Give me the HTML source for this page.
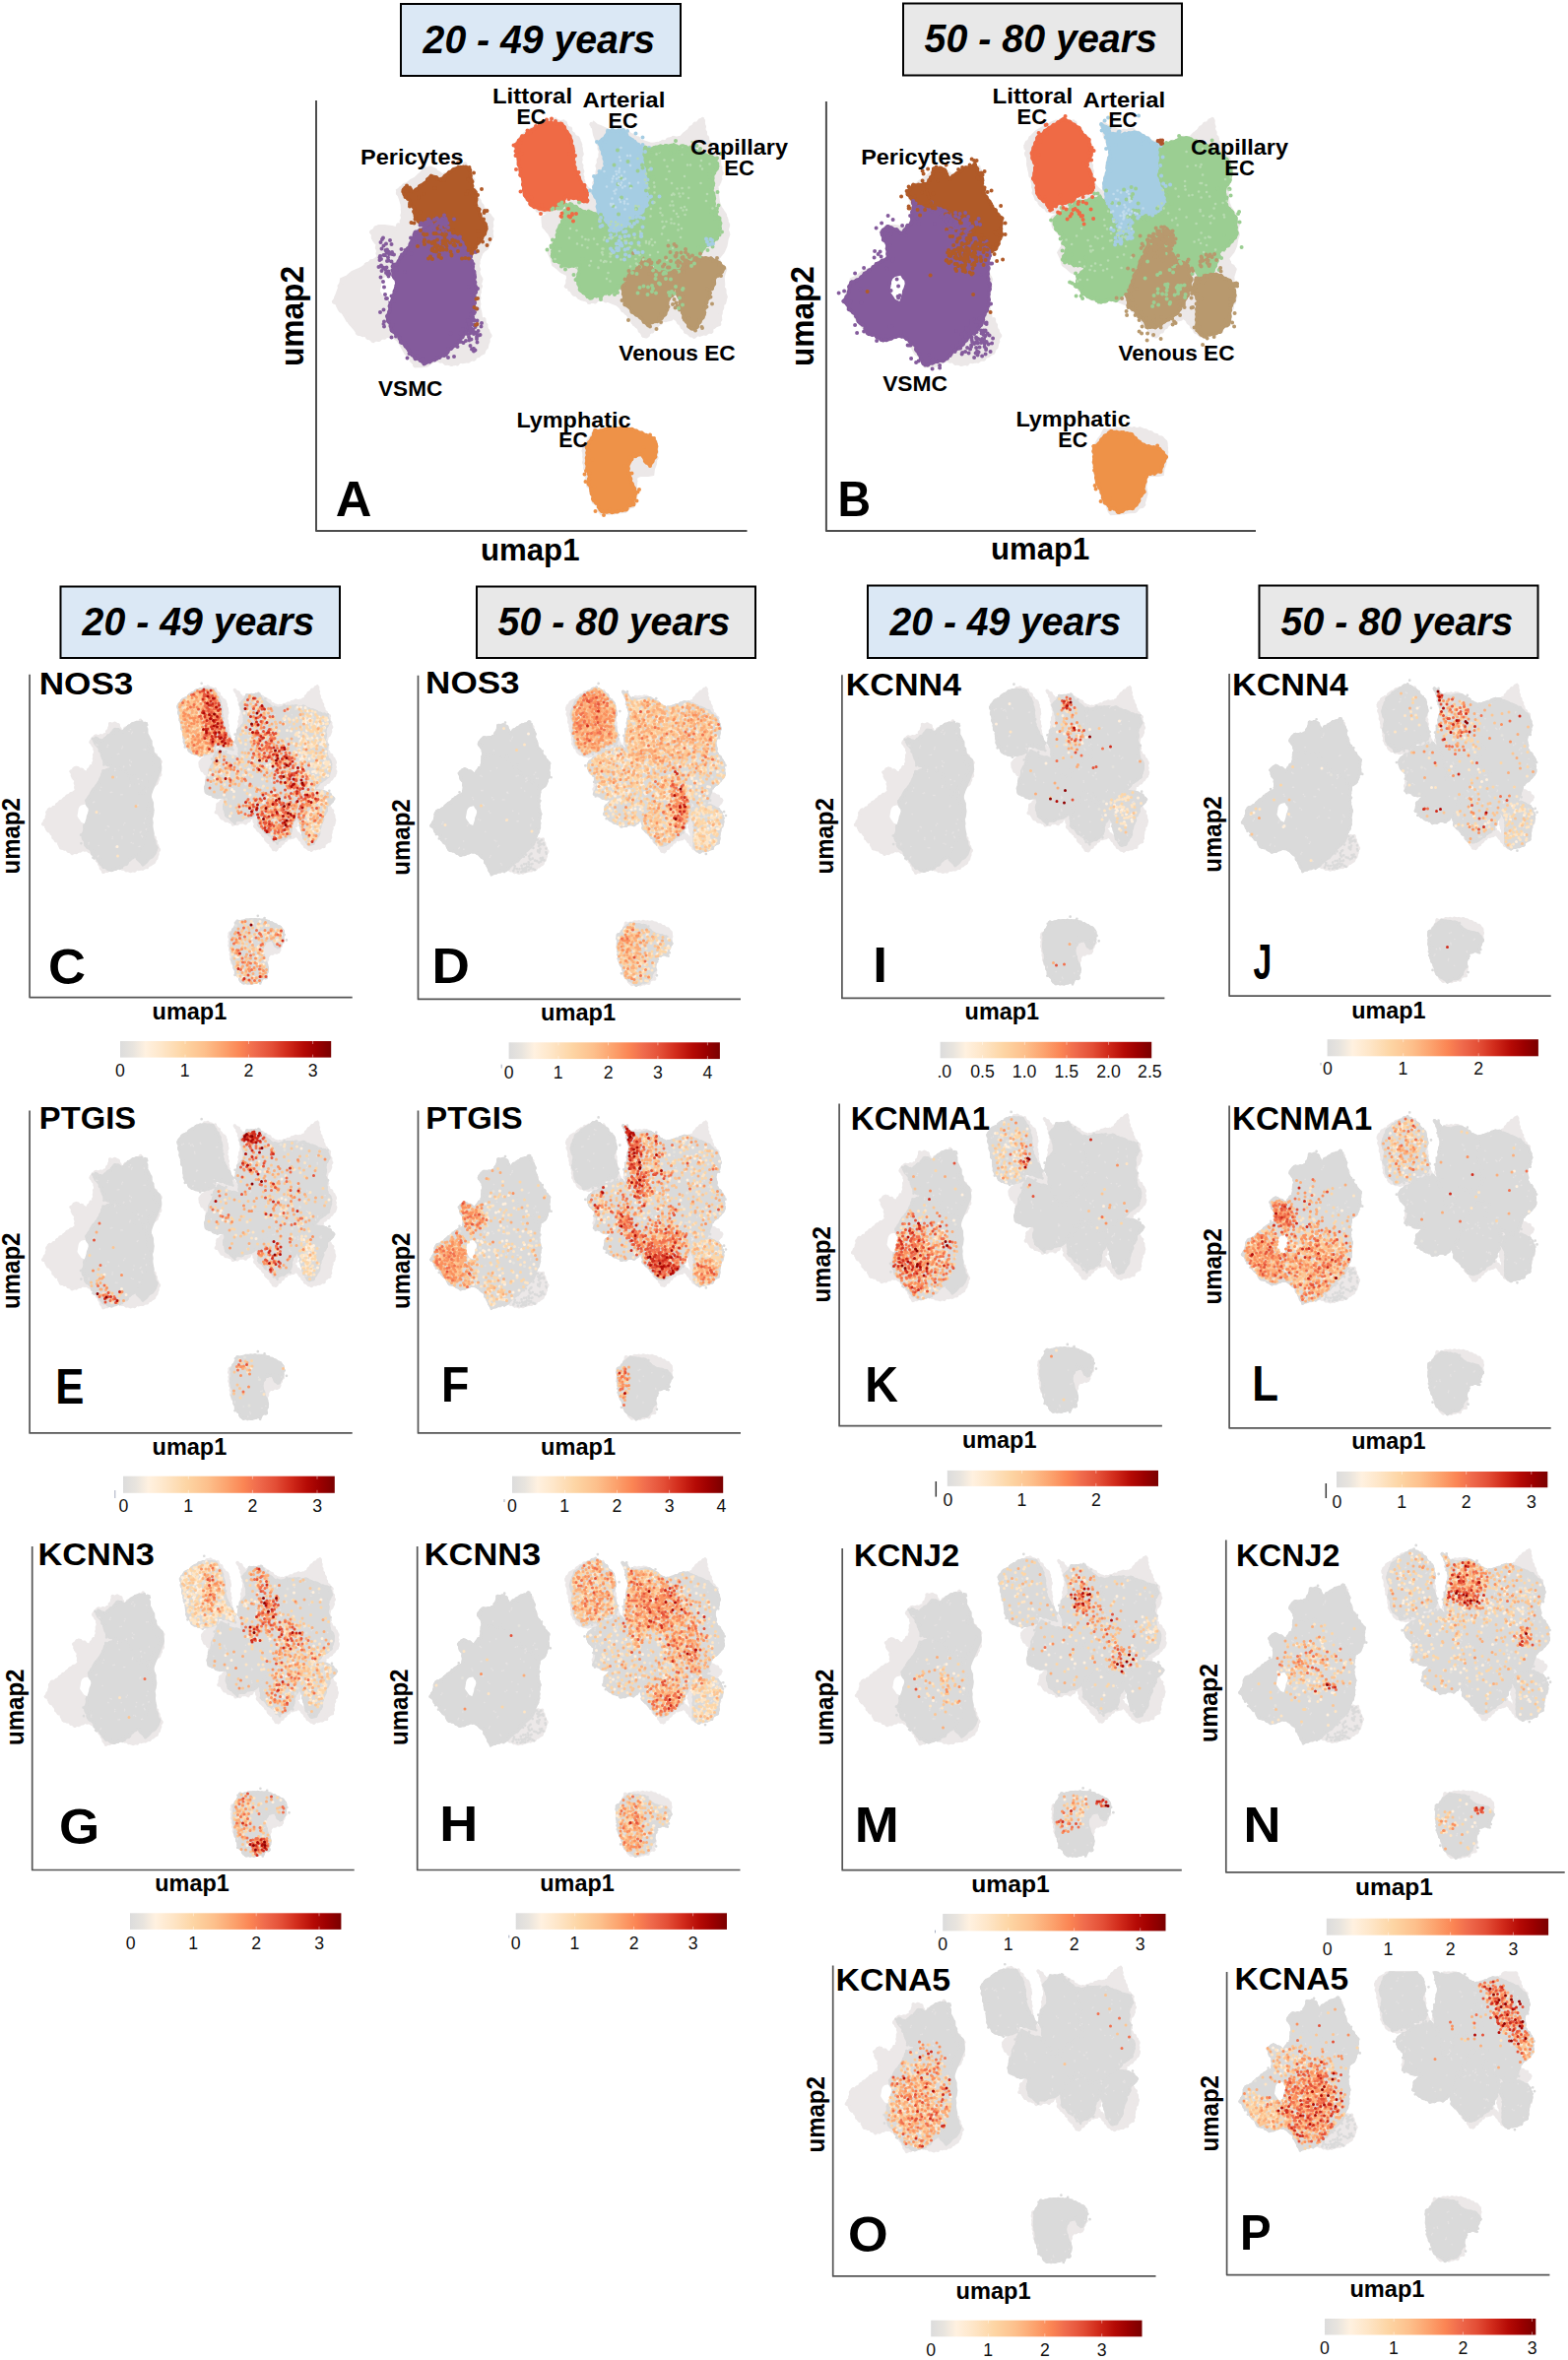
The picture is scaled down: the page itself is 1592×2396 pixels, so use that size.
<!DOCTYPE html>
<html lang="en"><head><meta charset="utf-8"><title>UMAP figure</title>
<style>html,body{margin:0;padding:0;background:#fff}svg{display:block}text{font-family:"Liberation Sans",sans-serif}.d{fill:none;stroke-linecap:round}</style></head><body>
<svg width="1592" height="2396" viewBox="0 0 1592 2396">
<rect width="1592" height="2396" fill="#fff"/>
<defs>
<path id="yvsmc" d="M100.6 -303.2 105.5 -305.4 109.3 -306.7 112.1 -308.4 117.5 -307.9 123.1 -308.1 129.4 -305.5 132.7 -304.3 138.1 -299.7 142.1 -298.5 146.2 -295.8 148.9 -291.6 150.1 -288.5 153.6 -283.1 154.8 -279.1 157.5 -275 158.8 -271.3 159.1 -266.3 161.2 -260.6 160.8 -255.1 161.6 -250.7 163 -244.6 160.8 -239.8 160.8 -233.9 160.6 -230.4 160.5 -225.7 158 -218.6 156.3 -213.9 154.9 -208 154.3 -204.6 152 -201.7 149 -197.4 146.1 -194.2 143.3 -189.4 138.7 -186.5 134.1 -182.9 132 -178.5 127.9 -177.8 122.2 -174.3 116.6 -172.3 112.4 -170.6 108.1 -171 104.2 -174.4 100.8 -174.8 96.9 -179.4 95 -181.9 92.7 -185.5 88.2 -190.2 85.4 -192.6 83.9 -198.1 78.8 -201.4 75.9 -204.3 75.4 -209.7 72.5 -214 72.1 -218.4 74.7 -223.5 74.6 -229.2 76 -236.1 78.3 -239.6 79.9 -245 80.4 -251.5 78.6 -257 77.5 -264.6 80.4 -268.4 83.3 -272.8 84.9 -276.6 87.8 -280.2 90.3 -282.9 94.5 -288.9 96.3 -292.5 98.6 -298.1Z"/>
<path id="yperi" d="M151.9 -369.4 154 -368.1 156.1 -366.6 156.8 -360 158 -354.2 158.5 -347 162.3 -344 162.4 -338.2 162.3 -329.6 165.3 -326.2 165.7 -323 167.5 -317.9 171 -312.8 173 -309.1 171.9 -303 169.6 -299.4 167.2 -295.5 163.6 -291.3 161.9 -287.8 159 -282.4 156.5 -278.3 155.3 -275.9 151.2 -275.5 147.1 -278.1 143.2 -282.6 141.1 -286.7 140.1 -289 138.2 -294.2 135.1 -297.4 131.1 -301.8 130.7 -305.6 124.8 -307.1 117.9 -307 112.9 -307.6 110.4 -311.4 104.9 -312.7 101.6 -317.4 99.1 -323.6 100.1 -328 95.5 -331.5 95.1 -335.5 91 -339.4 87.8 -344.3 90 -348.8 94 -346 98.8 -344.2 103.9 -348.6 106.5 -351.1 110.6 -353.1 113.7 -357.6 116.4 -360.4 121.1 -359.5 125.7 -356.3 130.4 -359.9 135.7 -364.4 140.9 -367.8 145.8 -369.4Z"/>
<path id="ylit" d="M232.4 -413.7 238.3 -414.2 245.2 -413.7 249.6 -413.4 252.5 -409 253.8 -405.9 256.5 -402.8 258.9 -397.5 259.4 -392.1 261.3 -388.1 261.2 -382.5 261.6 -376.6 262.1 -371.6 263.6 -365.7 265.5 -361.2 267.5 -358 269.1 -352.6 272.3 -351.2 273 -346.8 275.4 -343.8 274.4 -338.6 275.2 -333.9 268.5 -335.4 264.7 -337.9 260.2 -337.8 253.4 -339.9 251.8 -337 251.3 -332 247.1 -329 243.3 -327.9 237.7 -326.5 234.3 -326 229.8 -326.2 224.3 -327.9 221.8 -328.8 217.6 -330.9 216.8 -334.4 212.3 -339.6 211.1 -342.9 210.6 -349.1 210 -351.7 210 -358 207.3 -361.4 207.3 -367.1 205.1 -373.8 205.6 -378 203.3 -381.4 204.1 -386.5 202 -391.1 205 -395.2 209.1 -400.6 214.4 -402.2 218.8 -407.3 224.2 -409.7 227.9 -412.7Z"/>
<path id="yart" d="M296.2 -406.1 301.6 -406.2 307.6 -406.6 311.7 -407.2 314.3 -403.5 317.1 -399.4 323.5 -395 327.2 -392.1 331.2 -388.3 332.9 -382.7 334.1 -376.9 335.2 -372.3 337.3 -365.6 337.8 -360.6 338.7 -356.3 337.9 -352.3 337 -348.1 337.6 -341.9 338.6 -338.9 338.6 -332.5 341.2 -328.4 336.3 -326.1 332.9 -322.1 329.1 -318.7 324.3 -314.3 321 -312.3 315.8 -307.2 312.5 -304.7 308.3 -300.5 305.5 -298.2 300.7 -296.1 298.1 -300.8 296.3 -304.6 294.1 -309.6 292.1 -312.5 290.1 -315.1 287.8 -318.2 287 -322.4 285.5 -328.6 286.4 -333.8 284.3 -337.9 281.2 -342.9 282.1 -348.9 283.7 -353.5 284.2 -359.3 287.9 -362.6 291.4 -366.7 293.5 -370.6 292.7 -377.3 290.5 -385.1 288.8 -389.9 287.2 -394.2 291.4 -398.2 294.6 -401.5Z"/>
<path id="ycap" d="M334.1 -389.3 339.5 -387.8 343.3 -388.9 348.3 -390.6 353.1 -390.7 356.5 -390.9 363.3 -391.3 368.4 -389.5 372.9 -391.3 377.9 -388.3 383.8 -386.1 388.6 -385.3 392.4 -382.5 398 -381 401.6 -380.4 404.4 -378.4 407 -373.2 408 -370.2 405.6 -365.6 403.4 -362.4 402.5 -358.1 403.4 -350.8 401.6 -346.6 404.3 -339.8 404 -336.2 404.1 -329 404.8 -324.5 406 -320.6 409.4 -317.5 410.4 -312.4 409.9 -306.5 407.6 -300.6 407.5 -297.4 402.2 -293.4 399.3 -291.2 394.4 -288.4 391.4 -283.7 387.2 -280.5 386 -278.8 382.8 -273.8 379.4 -271.5 374.6 -267.8 372.1 -265.3 366.4 -263.7 362.1 -262.6 355.5 -260.6 349.9 -260.3 347.2 -265.6 345.4 -269.4 342.4 -271 341.2 -274.9 335.5 -274.7 331.2 -275.6 327.9 -273.5 325.2 -269.1 322.5 -265.2 318.6 -263.3 317.5 -259.7 313.6 -255.7 309.8 -250.6 308.1 -247.8 303.9 -243.6 298.9 -242 293.1 -241.2 288.4 -237.9 283.1 -238.7 278 -235.7 272.7 -241 268 -244.1 267 -248.9 265.4 -253.2 264.9 -256.4 266.7 -261.7 267.2 -265.5 268.5 -270 261.5 -269.2 257.8 -268.5 251.8 -269.3 248 -272.4 241.7 -274.3 240 -277.9 239.4 -281 241.2 -288.2 241 -291.5 244.7 -297.6 245.2 -304.2 246.1 -307.3 249.2 -312.2 251.7 -318.6 251.5 -323.6 254.6 -327.3 257.7 -332.3 261 -330.1 264.6 -328.7 267.6 -326 273.5 -323.6 280.1 -323.2 284.2 -321.3 288.9 -316 290.9 -313.6 295.4 -308.2 297.1 -305 299.7 -301.5 300.9 -296.2 306.7 -297.8 310.6 -300.3 312.3 -305 317.6 -307.9 319.3 -313.7 324.9 -315.1 329.8 -319.2 333.9 -320.9 336.1 -326.6 339.8 -329 340.2 -334.2 340 -337.4 338.7 -343.3 339.4 -347.7 339 -352.6 337.5 -356 337.7 -360.3 336.8 -367.7 334.7 -372.5 334.5 -376.6 333.2 -383.2Z"/>
<path id="yven" d="M333.4 -276.5 335.9 -274.9 338.4 -269.9 343.3 -264.5 347.6 -262.9 352.9 -263.3 355.7 -260.3 363.3 -263.7 369.2 -263.8 372 -267 375.1 -270.9 378.9 -273.1 384.3 -276.7 390.4 -277.5 395 -276.9 400.9 -276.6 403.7 -275.1 409.3 -272.6 410.9 -270 414.7 -266.8 410.7 -261.3 408.9 -259.9 404.3 -256.5 404.6 -251.9 402.1 -246.1 399 -243.7 399.6 -238.2 396.7 -233.3 395.9 -229.9 394 -224 394.4 -219.6 392.4 -216.4 388.5 -210.5 386.3 -206.2 380.7 -205 378.1 -207.7 376.7 -211.9 373.7 -213.9 372.7 -218.9 371.1 -225.2 369.3 -230.2 369.5 -236 366.6 -239.7 365.4 -246.9 363.5 -251.1 362.2 -244.6 361.6 -239.1 358 -236 356.2 -229.5 356.4 -224.2 353.8 -218.8 350.2 -215.6 346 -212.6 341.2 -211.9 337 -208.9 332.9 -212.1 330 -216 325.3 -219.3 321 -221.7 318 -227.2 313.4 -229.6 312.4 -237 311.8 -241.3 310.9 -248.2 312.3 -249.7 315.9 -252.9 316.6 -257.9 319.5 -261.6 324.4 -264 327.1 -267.9 329.6 -271.1 330.8 -273.7Z"/>
<path id="ylym" d="M283.2 -101.9 287.6 -101.3 292 -102.7 297.2 -103.9 302.8 -103.6 308.4 -104.3 311.4 -103.6 317.7 -103.6 321.3 -103.1 327.7 -100.2 330.9 -99.3 336.9 -96.1 342.1 -93.5 345.4 -88.1 345.3 -83 344.3 -75.2 342 -71.6 339.8 -67.4 335 -68.9 332.2 -74.8 331.6 -78.7 325.1 -76.1 321.6 -75.5 319.3 -70.8 317.1 -68.1 316.7 -60.9 319.1 -53.9 319.7 -49.5 322.5 -44.7 324 -40.2 323.9 -34.4 321.8 -31.5 322.6 -26.2 317 -25.8 314.8 -21 309.5 -20.9 306.1 -19.6 301.4 -18.7 296.6 -19.5 292 -18.9 287.9 -21.4 285.9 -27.2 281.3 -30.7 280.9 -35.3 278.8 -40.3 279.2 -43.2 276.2 -48.6 277.3 -54.6 276.8 -59 275.4 -62.5 274.7 -67.7 274.6 -71.5 275 -75.9 275.4 -81.1 274.7 -85.2 277.9 -91.3 280.7 -95Z"/>
<path id="ovsmc" d="M89.3 -329.6 94.7 -329.1 99.3 -327.6 104.6 -326.9 111.2 -327.3 116.9 -326.5 122.6 -324 125.1 -321.8 128.1 -316.9 132.4 -313.4 135.2 -307.1 138.9 -304.5 141.6 -301 146.5 -298 151.7 -297 154.9 -292 156.6 -290.4 162 -287.8 165.9 -284.5 165.7 -280.2 164.9 -273.6 164.1 -270.7 164.9 -266 164.2 -261.3 165 -254.2 166.9 -249.2 166 -244.4 165 -239.9 165.4 -235.3 165.1 -229.7 163.4 -223.7 160.4 -218.7 159.9 -215.5 158.5 -211 155.9 -206.5 151.2 -202.3 148.4 -200 145.4 -197 141.9 -193 137.7 -187.7 134.1 -184.8 130 -182.8 125.9 -178.7 123.7 -175.9 119.7 -172.7 114.9 -172.4 111.5 -171.5 105.1 -169.3 100.6 -167.9 97.8 -171.4 95.7 -176.5 94.4 -179.9 91.8 -182.8 90.7 -188.9 86.8 -190.2 85.2 -192.3 80.4 -196.2 75.8 -197.8 72.7 -197.6 68.3 -196.3 64.5 -194.5 58.1 -193.1 52.8 -196.1 49 -198.9 43.3 -199.5 40.1 -203.7 39.5 -208.3 34.5 -210.7 32.2 -214.1 30.4 -219.2 26.4 -222.8 23.1 -225.1 22.3 -229.5 17.7 -233 21.4 -238.3 23.2 -242.7 23.6 -247.9 25.4 -252.4 29.7 -253.7 34.8 -256.5 38.9 -261 42.6 -263.7 46.6 -266.2 48.6 -268.6 53.8 -272.4 58.7 -275 62.2 -276.4 62.8 -280 62.1 -287.1 61.8 -292.5 58.4 -295.1 57.7 -299.7 56.1 -303.1 59.2 -306.5 63.3 -309.5 67.4 -307.1 72.5 -305.5 76.4 -301.9 79.4 -304.6 83 -310.3 86.3 -311.4 87.6 -318.8 87.5 -324.5Z"/>
<path id="operi" d="M151.1 -372.3 153.5 -368.3 154.2 -365 157.4 -360.6 159.3 -355.8 158.1 -351.3 161.1 -346.5 159.8 -343.8 162.5 -339.5 167.1 -332.7 169.3 -328 172.4 -325.3 174 -321.7 178.8 -317.3 178 -311.3 177.6 -306.3 178.6 -299.7 176.1 -295.9 174.9 -290.7 171.9 -285.6 166.7 -283.1 164.7 -279.1 160.9 -283.4 157.8 -288.7 155.1 -293.1 151.4 -297 145.2 -300 143.1 -301 137.1 -305.4 134.2 -307.6 130.4 -312.5 127.7 -315.7 124.5 -319.5 121.4 -325.5 117.1 -325.4 110.1 -325.7 104.6 -326 100.8 -326.7 95.1 -328.5 89.1 -329.1 88.3 -334 86.3 -338.2 83 -341.7 83.3 -345.1 85.5 -347.2 88.7 -351.3 94.5 -351.3 100.2 -352.2 104.3 -353.7 105.5 -357.2 108.5 -362.2 108.9 -367.7 114.6 -367.9 117 -368.7 121.7 -365.5 122.6 -361.6 126.6 -356.5 129.3 -361 133.6 -363.3 138.4 -366.4 142 -368.7 147.7 -369.7Z"/>
<path id="olit" d="M242.8 -417.4 247.2 -415.5 254 -411 257.7 -408.6 259.7 -403.9 262.9 -401 267 -397.4 268.1 -389.3 269.9 -383.9 268.3 -379.2 265.7 -374.1 265 -369 268.4 -365 269.6 -359.4 271.2 -356 271 -349.2 270.1 -344.6 266.2 -343.3 261.6 -342.5 256.6 -340.7 252.7 -338.5 251 -335 247.2 -333.5 241.6 -333 237 -333.1 232.1 -329.7 225.7 -328.4 223.8 -333.2 219.7 -335.7 215.1 -340.9 213.7 -345.8 214 -351.9 210.2 -357.2 211.6 -361.6 211.9 -366.5 213.1 -371.6 211 -374.6 209.4 -379.3 208.9 -383.2 210 -386.7 212.4 -393.2 213.9 -396.4 215 -400.4 219.7 -402.8 223.1 -407 226.3 -408.8 231.7 -412.4 234.3 -413.7 239.1 -417.3Z"/>
<path id="oart" d="M279.6 -412.8 284.4 -410.1 286.6 -407.2 289.1 -403.1 294.1 -403.3 300.1 -402.1 304 -402.8 309.3 -404.3 315.1 -404.7 319.3 -402.9 322.1 -400.9 326.3 -399 330.3 -394.5 336.1 -392.7 337.6 -387.4 339.2 -382.2 341.2 -378.1 341.2 -371.4 338.3 -366 339.8 -360.7 339.9 -355.8 343.2 -353.2 343.6 -346 346 -343.1 345.2 -338.6 346.2 -332.2 343.8 -329.7 342.5 -324 337.9 -319.6 332.9 -318.9 326.9 -317.6 323.2 -319.8 317.6 -322.2 314.3 -324.1 312.7 -319.6 311.7 -317.2 309.5 -313.4 308.1 -309.5 306 -305.2 304 -300.2 302.1 -295.2 294.6 -291.2 295.1 -297.3 295 -302.1 293.5 -308.6 293 -314.6 290.1 -318.2 287.2 -323.1 287.5 -327 285.2 -331.6 284.4 -338.4 284 -345 282.2 -348.9 282.5 -353.7 284 -360.2 285.8 -364.8 285.6 -371.1 286.8 -376.3 288.6 -382.4 287.9 -387.5 286.4 -393.3 285.7 -396.9 284.4 -402.5 281.8 -408.9Z"/>
<path id="ocap" d="M340.3 -391.8 345.9 -392.7 349.1 -394.2 356.1 -396 358 -397.7 362 -399 368.4 -398.9 371.8 -396.8 376.5 -395.5 379.9 -393.8 384.2 -391.8 388.2 -390.8 392.2 -388.1 396.6 -387 398.5 -384.4 403.4 -379.4 406.5 -378.1 409 -372.3 410.3 -368.9 411.7 -363.7 410.4 -359.6 409.9 -354.2 407 -351.1 404.9 -347.1 404.9 -340.8 406.5 -337.1 405.5 -333.2 408.4 -327.7 412.1 -324.8 413.3 -321.7 416.7 -317.3 416.1 -313 416.4 -306.5 417.4 -301.1 414.2 -296.2 411.3 -293.3 408.7 -290 404.7 -287.4 398.8 -283.2 399.2 -278.9 397.8 -276.8 396.2 -271.1 393.7 -265.4 391.2 -260.2 386.3 -261.7 378.3 -259 376.3 -263.9 370.9 -265.6 366.4 -268.7 363.2 -272.1 358.8 -272.1 354.9 -273.2 351.1 -278 348.6 -283.5 350.3 -290.2 350.7 -295.4 349.1 -300.5 345 -306.9 338.6 -302.1 335.2 -299.4 331.5 -295.9 330.5 -291.2 326.8 -288.5 323.6 -282.9 320.7 -279.3 318.6 -274.7 317.1 -270.9 313 -265.5 312 -259.2 311 -253 306.9 -247.7 306.9 -242.1 302.2 -240.9 298.8 -236.8 294.3 -233.8 288 -235.3 283.1 -232.8 276.7 -232.2 273.9 -235.6 268.3 -236.5 263.1 -239.8 259.9 -241.7 258.6 -245.9 254 -248.4 255.8 -255 255.3 -258.4 260.2 -262.8 263.2 -266 266.5 -270.4 261.7 -269.1 257.4 -269.4 252.8 -269.6 248 -272.8 246.2 -274 239.8 -275.4 242.9 -280.7 243.8 -284.3 244.9 -289.2 241.6 -291.8 241.7 -298.2 236.9 -302.9 233.4 -306.5 232.8 -309.7 231.4 -313.3 233.3 -318.4 236.6 -320.8 239.7 -323.8 245 -325.1 248.8 -328.3 254.1 -334 258.7 -334.5 262.9 -334.4 268.7 -336.8 273.8 -336.8 278 -339.3 280.1 -336.5 284.2 -330.9 285 -330 287.1 -324.1 290.8 -317.5 292.7 -314.7 294.6 -307.8 294.9 -301.7 294.1 -298.4 296.6 -290.9 302.5 -296.7 304.3 -299.6 305.1 -304.8 307.5 -309.4 310.1 -313.3 310.9 -317.5 313.4 -321.9 314.8 -325.5 317.1 -321.6 321.7 -319.5 327.5 -317.6 331.7 -319.7 337.7 -319.5 342.4 -324.4 344.1 -329.2 347.8 -332.9 346.6 -338.6 344.8 -343.6 345.4 -347 341.9 -351 340.2 -356.9 337.9 -362 340.3 -367.3 339.2 -372.4 340.3 -376.7 339.8 -381.3 339.6 -386.3Z"/>
<path id="oven" d="M345.3 -307.1 348.9 -303.8 352.4 -301 351.3 -293.5 351.6 -288.2 347.9 -284.4 353 -279.9 355.7 -274.2 360.4 -273.6 364 -271.4 366.4 -270.9 369.2 -264.8 368.5 -260.3 371.5 -256.1 369.5 -250.8 367.5 -243.7 367.9 -239.8 364.2 -236 363.5 -230.8 360.6 -227.5 358.1 -222.8 355.2 -219.7 350.2 -217.7 347.5 -214.1 343.4 -212.3 339.6 -208.8 333.5 -206.4 326.5 -207.6 324.8 -210.5 322 -215.1 317.5 -217.7 314.6 -222.9 311.2 -225.1 306.8 -228.7 307 -233.9 305.1 -238.4 309 -243.5 309.7 -249.3 311.9 -254.7 313.1 -259.8 317.5 -266.2 318.4 -271.6 320.5 -277 323.6 -280.5 323.6 -284.9 325.9 -287.2 328 -293.1 332.5 -296.9 333.4 -300 340 -303.2Z"/>
<path id="oven2" d="M376 -256.4 380.5 -256.1 382.5 -259 387.7 -259.4 391.9 -260.4 397 -260.4 402.3 -258.5 404.5 -256.5 409.5 -254.8 413.1 -250.1 412.9 -247.4 415.1 -243 415 -237.9 414.3 -234 411.2 -228.5 410 -221.4 409.9 -215.5 409 -209.5 402.9 -207 401.2 -202.5 395.2 -200.4 392.2 -199.6 387.8 -199.3 383.5 -197.2 378.3 -201.7 376.7 -203.6 376.6 -208.7 376.3 -212.8 376.5 -219.8 376.5 -224.6 377.3 -230.1 377.6 -233.8 374.8 -240.7 371.5 -245.3 374.6 -250.8Z"/>
<path id="olym" d="M289.5 -101.1 293.9 -100.4 301 -99.7 304.1 -98.9 309.7 -98.8 312.8 -95.3 317.4 -91 321.6 -87.9 325.5 -86.2 331.9 -85.1 335.7 -84.1 339.2 -83.1 342.5 -79.1 345.6 -74.8 343.1 -70.6 341 -65.2 339.7 -60.2 333.9 -59.6 331.4 -58.7 325.8 -56.9 324.2 -51.1 323.4 -47.2 322.1 -44.6 323.1 -39.2 318.6 -34.5 317.2 -28.9 314 -25.4 311.7 -22.8 305.1 -22.5 301.2 -20.2 297.4 -18.4 293.2 -22.3 288.2 -24.7 283.5 -28.4 281.8 -32.2 280.3 -38.2 278.4 -43 276.4 -45.9 274.8 -50.3 274.1 -57.1 273.7 -61.2 272.4 -67.9 272 -72.1 272.7 -77 271.8 -80.8 271.8 -85.9 276.4 -87.7 279.3 -92 282 -95.6 285.5 -98.1Z"/>
<path id="g0" d="M110.4 -368.6 105.9 -363.9 100.3 -358.6 95.3 -356 88.6 -350.3 81.5 -346.2 84.2 -338.3 86.4 -330.9 86.8 -323.5 87.5 -319.2 88.6 -314.1 88.5 -308.2 82.3 -307.8 77 -309.3 69.5 -310.2 64.1 -310.3 59.9 -306.5 56.2 -304.3 57.5 -297.9 61.4 -292.4 62.3 -286.5 63.5 -283 67.5 -277 60.3 -276 55 -271.9 48.7 -268.4 43.3 -266.2 35.9 -263 31.2 -258.9 24.8 -256.1 24.1 -250 21.6 -243.9 20.5 -241.1 18.2 -234.2 20.7 -229.4 22.8 -225.2 27.6 -219.4 30 -215.2 33.7 -210.3 37.2 -206 41.9 -201.1 46.1 -198.4 51.2 -197.5 58.8 -196.1 62 -199 67.8 -200.5 72.7 -203.6 75.5 -200.4 81.3 -194.5 84.7 -189.9 87 -185.5 90.4 -179.4 95.1 -176.1 97.9 -171.9 100 -166.6 107.4 -166.5 113.1 -167.3 118.8 -171.7 126.6 -172.8 132.2 -170.7 140.6 -170.1 144.8 -170.5 149.3 -172.6 153.5 -176 159.4 -180.5 163.2 -183 168.4 -187.3 170.8 -194.9 174.2 -201 173.6 -205.5 170.6 -210.7 168.5 -214.8 167.5 -222.4 166.1 -227.3 166 -235.5 166.3 -242.2 167.1 -249.6 168.8 -255.7 166.2 -260.3 164.7 -266.8 165.1 -272.5 166.2 -275.9 169.1 -282.7 170.1 -286.4 172.2 -291 174.1 -296.4 177.2 -303.6 179.5 -309.3 178.6 -315.1 177.5 -320.4 171.1 -325.3 166.6 -329.5 165.2 -336.8 162.3 -343 159.7 -349.6 157.9 -357 157.3 -363.9 155.9 -370.6 148.2 -367.7 141.4 -367.2 134.8 -364.4 129.3 -361.4 125 -364.5 121 -366.2 114.9 -366Z"/>
<path id="g1" d="M233.6 -416.8 241.2 -415.9 247.3 -415.7 251.6 -417.1 254.1 -410.7 258.3 -406 260.4 -399.8 265.2 -396.7 269.6 -392.4 269.1 -386 267.9 -377.5 269.4 -371.1 269.1 -366.6 270.7 -360.1 272.4 -353.6 275.9 -348.6 281.4 -343.9 283.2 -349 284.3 -355.9 285 -361 286.8 -368.8 290 -373 288 -380.9 288.7 -385.7 286.1 -392.7 283.8 -396.8 281.7 -402 280.6 -409.4 281.5 -415.8 285.7 -412.2 288.7 -411.4 294.4 -408.6 298.4 -405.9 305.1 -406.6 312 -408.5 315.7 -402.8 321.7 -398.2 329 -397 334.7 -395.2 340.7 -393.4 345.8 -394 353.6 -393.8 358 -396.1 362.3 -397.2 368.6 -398.9 373.4 -404.2 379.5 -408 382.8 -412.4 387.9 -415.3 393.3 -418.9 392.8 -412.2 393.4 -407.6 394.9 -401.5 397.5 -394.5 398.6 -387.6 404.7 -383 410.3 -377 410.7 -370.1 410 -364.9 407.9 -359.3 406.8 -352.8 408.1 -347.4 408.5 -339.8 409.3 -333.7 411.3 -328.6 416.2 -321.4 416.8 -316 419.6 -311 418.2 -305.7 419.7 -301 417.9 -296 416.7 -289 414 -282.9 412 -280.4 409 -276.6 411.5 -270 416.5 -266 414 -258.1 414.5 -250.2 413.9 -244.4 416.5 -238.4 413.8 -233.6 413.5 -227.2 410.8 -220.5 409.3 -213.7 404.2 -212.2 400.2 -207.4 396.1 -203.8 390.2 -200.2 383.1 -198.2 378.2 -200.7 375.1 -203.3 372.3 -209.2 368.7 -213.4 361.7 -219.7 357.8 -216.6 353.7 -214.3 349.2 -209.6 344.3 -205.8 338.3 -200.5 334.1 -196.3 329.6 -201.4 326.3 -205.6 322.8 -212.3 317.3 -216.7 313.8 -222 308.9 -227.8 303.7 -229.6 299.9 -231.2 294.2 -233.8 289 -234 283.1 -234.6 277.4 -232.6 268.3 -234.7 265.8 -238.4 261 -242.2 256.2 -244.2 254.4 -253 254.9 -259.5 248.8 -262.4 244.7 -266 240 -269.5 238.3 -276 235.2 -282.6 239.1 -288.9 239.3 -295.3 236.2 -301.2 233.5 -304.9 230 -308.3 229.4 -313.3 229.1 -318.6 234.3 -321.6 238 -323.7 230.9 -322.8 224 -324.2 221.1 -329.7 218.3 -332.3 212.7 -336.2 211.9 -342.9 211.7 -347 209.8 -353.1 208.2 -358.4 206.1 -363.8 204.8 -369.4 204.4 -376.2 204.8 -382 204.4 -387.7 206.4 -395 208.6 -401.4 212.9 -405.8 219.4 -409.8 225 -411.7 228.4 -414.8Z"/>
<path id="g2" d="M270.4 -81.4 273.4 -88.5 276.2 -93.4 279.1 -96.7 281.1 -101.4 288.1 -103.2 292.7 -102.9 299.9 -102.8 303.8 -104.4 309.5 -102.7 315.4 -103.6 321.3 -103.5 326.4 -102 332.5 -98.3 337 -94.9 342.5 -94.1 345.9 -91 346.3 -83.6 347 -80 345.5 -72.5 345.2 -67.9 343.2 -62.9 342.5 -56.7 337 -55.7 329.5 -55.8 324.2 -54 325.6 -50.4 325.1 -44 326.3 -37.9 324.6 -31.6 322.2 -24.1 318.4 -23.2 314.1 -18.7 308.5 -18.4 303.4 -17.8 295.8 -17 289.1 -16.5 286.7 -19.7 284.7 -25.9 280.6 -28.3 280.2 -34.1 278.4 -40.2 276.5 -46.9 276.3 -51.3 275.4 -57.6 272.8 -63.5 272.7 -70.2 271.3 -76.7Z"/>
<path id="x0" d="M368.9 -395.3 371 -399.2 374.6 -401.6 377.9 -406.6 381 -409.9 384.8 -413.2 387.7 -414.8 392.2 -418.7 393.6 -413.5 393.9 -408.6 395.3 -402.6 397.8 -397.1 399.7 -392.4 401.3 -386.8 402.6 -384.5 406.7 -379.9 409.3 -377.2 403.3 -377 398.5 -379.5 396.1 -381.6 390.8 -383.8 386.5 -385.4 383.5 -387.5 378.8 -389.6 375.1 -390.3Z"/>
<path id="x1" d="M252.8 -414.1 255.7 -408.1 258.1 -405.5 261.3 -399.5 264.1 -396.4 267.6 -391 269.1 -385.9 269.3 -381.9 268.3 -376 269.1 -371.8 270.2 -366.5 270 -360.9 270.9 -355.1 266.4 -357.4 265.6 -362.6 264 -367.9 263.5 -371.5 263 -377.3 261.5 -380.7 260.3 -386.8 258.6 -391.4 258.4 -396.3 257.2 -400.4 255.3 -404.5 253.9 -408.8Z"/>
<path id="x2" d="M313.9 -231.2 318.3 -227.2 322.3 -222.1 326.5 -219 329.9 -214.2 332.6 -212.2 336.2 -207.5 340 -211.9 345.3 -213.2 350.5 -216.3 355.5 -219.1 359.1 -222.5 361.7 -225.4 364.5 -221.3 368.2 -218.5 371.7 -214.8 373.5 -211.8 378.1 -206.9 380.4 -205.2 385.7 -207.9 390.2 -210.4 391.5 -215.5 393.9 -220 395 -223.9 398.1 -226.8 401.6 -229.5 405.8 -231.6 408.7 -234.8 415.6 -238.2 415.4 -233.8 412.7 -229.7 411.6 -224.4 410.3 -220 410.1 -214.2 405.6 -211 401.9 -209.3 398.2 -206.1 396.1 -204.8 391.7 -201.6 386.7 -200.6 383.1 -197.4 378.3 -199.9 375.1 -202.4 372 -206.6 368.2 -211.7 365.5 -214.5 363.4 -218.2 358.6 -214.2 352.7 -213.8 347.6 -209.5 344.1 -206 341.1 -202.8 337.6 -200.4 335.5 -197 331.7 -198.7 329.4 -202.2 326.9 -207.3 322.6 -209.4 320.6 -214.6 317.4 -217.9 314.4 -221.8 310.7 -223.7Z"/>
<path id="x3" d="M158.4 -214.8 164.1 -215 170.3 -214.7 172.3 -208.7 174.1 -203.1 176.7 -199 174.6 -193.4 174 -189 170.8 -183 168.6 -180 163.9 -177.7 160.3 -174.6 155.4 -172.8 151.6 -171.8 147 -172 143.2 -169.8 138.4 -169.1 133.3 -169.7 128.2 -171.8 121.8 -174.1 124.9 -176.1 127.9 -180.6 131 -184.4 135.3 -187.9 138.6 -189.7 141.9 -193.9 146.3 -198.2 150 -202 154 -205.4 156.8 -211.7Z"/>
<path id="hole" d="M70.3 -258.1 75.7 -259.3 77.6 -256.1 79.6 -253.9 80.1 -250.9 78.9 -246.7 77.5 -243.9 77.2 -240.7 76.1 -237.1 74.7 -233.1 70.3 -235.2 68.6 -237.9 66.4 -240.9 64.9 -243.4 65.8 -248.1 66.5 -252.9 67.8 -255.9Z"/>
<g id="bgs" fill="#ece8e8" stroke="#ece8e8" stroke-width="3" stroke-linejoin="round">
<use href="#yvsmc"/>
<use href="#yperi"/>
<use href="#ylit"/>
<use href="#yart"/>
<use href="#ycap"/>
<use href="#yven"/>
<use href="#ylym"/>
<use href="#ovsmc"/>
<use href="#operi"/>
<use href="#olit"/>
<use href="#oart"/>
<use href="#ocap"/>
<use href="#oven"/>
<use href="#oven2"/>
<use href="#olym"/>
<use href="#x0"/>
<use href="#x1"/>
<use href="#x2"/>
<use href="#x3"/>
<g fill="none" stroke-width="4.6" stroke-linecap="round" stroke-dasharray="0.1 5.9">
<use href="#yvsmc"/>
<use href="#yperi"/>
<use href="#ylit"/>
<use href="#yart"/>
<use href="#ycap"/>
<use href="#yven"/>
<use href="#ylym"/>
<use href="#ovsmc"/>
<use href="#operi"/>
<use href="#olit"/>
<use href="#oart"/>
<use href="#ocap"/>
<use href="#oven"/>
<use href="#oven2"/>
<use href="#olym"/>
<use href="#x0"/>
<use href="#x1"/>
<use href="#x2"/>
<use href="#x3"/>
</g></g>
<g id="bg" fill="#ece8e8" stroke="#ece8e8" stroke-width="1.5" stroke-linejoin="round">
<use href="#g0"/>
<use href="#g1"/>
<use href="#g2"/>
<use href="#bgs"/>
</g>
<g id="ycells" fill="#dadada" stroke="#dadada" stroke-width="4" stroke-linejoin="round">
<path d="M157.2 -368.5 157.6 -364.1 159.6 -360.4 159.4 -354.6 161.5 -350.9 163.7 -346.2 165.2 -344.2 165.4 -337.5 167.8 -334.5 167.6 -329.4 171.3 -324.5 176.9 -319.6 177.3 -315 178.3 -307.2 177.4 -304.4 175.3 -299.5 174.3 -297 172.5 -292.4 170.3 -287.6 168.1 -282.2 166.3 -277.9 164 -271.5 164.6 -267 167.1 -261.3 167.1 -255.9 168 -251.2 167.1 -244.3 165.6 -240.2 166.6 -234.6 166.1 -230.9 166.8 -225 168 -220.1 167.8 -214.2 170.2 -210.1 170.7 -204.8 173.5 -201 171 -194.1 167.1 -188.6 162.5 -186.3 159.1 -181.8 154.2 -177.8 152 -181.2 146.8 -185.7 144.8 -190.1 142.7 -194.3 144.7 -197.2 147.4 -202.3 150.5 -205.6 153.7 -209.9 155.9 -215.6 157.3 -219.5 158.1 -224.1 157.3 -230.5 157.8 -234.2 158.6 -241 160.8 -245 159.2 -249.8 160.7 -255.4 159.2 -260 160 -265.3 161.4 -269.9 161.1 -276.6 160.5 -280.8 160.4 -284.8 161.7 -291.6 162.5 -296.7 164.5 -301.1 164.3 -306.5 162.4 -312.1 163.6 -316.2 162.7 -322.8 160.3 -328.6 160.3 -333.2 159.1 -337.4 158.4 -342.2 157.9 -347.1 157.1 -350.7 154 -355.8 155.5 -360 156 -364.6Z"/>
<use href="#yvsmc"/>
<use href="#yperi"/>
<use href="#ylit"/>
<use href="#yart"/>
<use href="#ycap"/>
<use href="#yven"/>
<use href="#ylym"/>
<g fill="none" stroke-width="4.6" stroke-linecap="round" stroke-dasharray="0.1 5.9">
<use href="#yvsmc"/>
<use href="#yperi"/>
<use href="#ylit"/>
<use href="#yart"/>
<use href="#ycap"/>
<use href="#yven"/>
<use href="#ylym"/>
</g>
<path d="M69.7 -218h0M161.9 -337.9h0M353.8 -260.4h0M289.6 -364.5h0M97.6 -178.1h0M349 -261.1h0M406.3 -380h0M168 -320.6h0M354 -222.2h0M314.2 -18.3h0M97.4 -327.4h0M287.1 -361.5h0M379.5 -271.6h0M293.2 -308.8h0M95.6 -285.4h0M251.8 -333.2h0M335.5 -330.9h0M406.6 -339.3h0M169.9 -309.3h0M315.2 -404.3h0M205.1 -386.6h0M119.9 -359.7h0M206 -388.9h0M146.1 -291.2h0M155.4 -282.2h0M370.2 -264.5h0M400.3 -276.6h0M352.9 -229h0M311.1 -303.4h0M79.3 -253.9h0M378.9 -205.8h0M86.4 -187.6h0M101.2 -312.4h0M324.6 -77.4h0M329.3 -268.5h0M276.8 -342.1h0M162.8 -289.8h0M263.6 -374.6h0M248.2 -320h0M402.7 -275.4h0M285.7 -28.6h0M255.2 -339.1h0M340.1 -323.5h0M316.6 -60.3h0M100 -175.1h0M292.5 -366.3h0M339.8 -334.4h0M274.5 -72.4h0M309.9 -297.1h0M267.2 -339.1h0M311 -109.2h0M96.6 -346h0M279.9 -353.3h0M343.4 -270.5h0M277.1 -332.5h0M85.1 -272.5h0M115.5 -308.3h0M313.4 -396.9h0M85.8 -347.2h0M331 -97h0M338 -66.3h0M232.3 -323.8h0M205 -373.6h0M409 -262.6h0M149.1 -284.5h0M284.4 -321.5h0M256.1 -325.4h0M155 -357.8h0M208 -397h0M280.3 -99.8h0M316.2 -306.1h0M211.7 -336.2h0M400 -247.4h0M384.2 -277.7h0M347.2 -83.7h0M404.3 -318.7h0M338.3 -329.4h0M410.3 -267.6h0M134.2 -364.4h0M350.1 -76.6h0M323 -221.1h0M318.1 -101.3h0M108 -171.3h0M217.2 -336.1h0M321.5 -263.6h0M116.3 -311.4h0M131.3 -182.7h0M290.9 -298.9h0M408.4 -277.4h0M171.8 -298.2h0M313.7 -250.2h0M338.3 -322.8h0M267.6 -330.4h0M206.8 -365.8h0M289.5 -390.4h0M278.6 -240.6h0M321.1 -401.1h0M297.3 -19.5h0M160.1 -215.7h0M317.5 -68.8h0M170.7 -312.4h0M337 -330.4h0M251.2 -330.2h0M368.6 -263.3h0M355.1 -215.6h0M311.2 -246.7h0M126 -174.2h0M262.7 -369h0M410.7 -267.1h0M261.8 -378.9h0M302.9 -104.4h0M75.1 -211.8h0M144.7 -284.3h0M104.1 -174.6h0M111.3 -322.8h0M334.8 -327.4h0M280.2 -322.7h0M267.3 -244.3h0M165.6 -331.8h0M402.2 -327.6h0M149.1 -201.9h0M328 -318.1h0M396.6 -381.2h0M336.7 -67.8h0M383.6 -209.1h0M247 -411.6h0M309.1 -302.9h0M274.5 -344.3h0M262.3 -340.6h0M331.3 -79.6h0M74.5 -236.5h0M264.3 -338.9h0M347.1 -392.3h0M97.9 -325h0M394.6 -224.5h0M95.4 -181.6h0M317.8 -306.7h0M285.7 -332.3h0M95.5 -291.8h0M158.2 -236h0M356.7 -241h0M77.1 -258.1h0M349.5 -261.8h0M123 -172.6h0M269 -324.8h0M375.1 -273h0M337.8 -358.5h0M277.9 -43.7h0M102.6 -321.1h0M279.8 -233.3h0M255.5 -267.8h0M132.7 -362.8h0M311.8 -408.5h0M336 -368h0M99.2 -184.4h0M402.4 -245.8h0M152.2 -274.3h0M337.8 -346.9h0M305.4 -298.4h0M328.1 -76.4h0M88.2 -279.4h0M316.6 -101.4h0M159.9 -365.9h0M88.1 -186.4h0M330.3 -277.1h0M344.3 -80.5h0M166.6 -319.6h0M292.1 -372.6h0M107.1 -175.7h0M365 -259.2h0M304.8 -245.9h0M134.1 -300.4h0M319.1 -269.1h0M358.8 -262.7h0M207 -394h0M101.3 -315h0M159.3 -368.1h0M163.1 -336.6h0M138.4 -366.6h0M331.7 -270.4h0M333.3 -346h0M253.5 -328.7h0M332.5 -209.7h0M141.1 -284.7h0M95.4 -183.5h0M322.6 -36.4h0M167.3 -312h0M311.5 -231.3h0M70.2 -206.7h0M374.8 -267.7h0M390.5 -277.7h0M322 -81.5h0M79.6 -212.2h0M253.8 -401.5h0M234.3 -421.8h0M218.4 -404.8h0M314.9 -305.9h0M341.9 -388.9h0M317.9 -250.2h0M332.8 -273h0M298.9 -297.9h0M258.5 -392.6h0M211.9 -368.4h0M232.3 -323.9h0M263.6 -338.3h0M127.7 -180.7h0M149.1 -270.8h0M324 -100.5h0M321.1 -47.3h0M338.8 -77h0M335.5 -374.9h0M89.3 -195.2h0M170.9 -312h0M319.1 -31.4h0M317.2 -304.8h0M295 -402.4h0M284.8 -357h0M335.1 -276.2h0M113.7 -311.2h0M313.4 -296.7h0M325.7 -102.2h0M115.2 -355.4h0M279.8 -29.7h0M277.4 -342.7h0M78.3 -249.3h0M409.5 -309.7h0M337.5 -206.4h0M286.5 -321.1h0M321.6 -25.3h0M100.1 -304.6h0M313.2 -407.7h0M383.7 -276h0M319.8 -74.7h0M153.1 -370.5h0M369.1 -230.8h0M313.4 -255.5h0M236.8 -326.3h0M283.6 -358.3h0M406.2 -300.3h0M404.8 -250.6h0M337.5 -218.2h0M277.7 -52.4h0M259.2 -374.6h0M311.4 -305.9h0M395.2 -277.6h0M260.6 -390.6h0M143.5 -281.9h0M77.1 -215.1h0M320.1 -106.3h0M309.4 -306.4h0M402.6 -332.9h0M159.2 -353.5h0M99.1 -300.6h0M304.3 -405.9h0M390.9 -221.5h0M329.6 -99.2h0M253.3 -338.4h0M165.5 -327.6h0M265.3 -267.2h0M408.8 -272.2h0" fill="none" stroke-width="3.6" stroke-linecap="round"/>
<path d="M355.6 -243.4h0M354.2 -245.8h0M365.8 -263.2h0M365.4 -264h0M300.3 -323.3h0M301.2 -324.7h0M262.6 -299.5h0M264 -297.3h0M274.8 -289.4h0M348.7 -340.3h0M323 -307.2h0M328.9 -368.4h0M222.8 -332.1h0M222.2 -331.6h0M80.3 -205.7h0M80.6 -207.8h0M353.6 -362.6h0M354.8 -363.7h0M370.7 -325.6h0M87.9 -262.6h0M86.7 -261.5h0M291 -302h0M378.1 -325.4h0M370.8 -276.1h0M370.5 -276.3h0M148.3 -293.5h0M147.4 -293.4h0M126 -213.7h0M126 -215.9h0M315.8 -240.9h0M246 -305.8h0M246.2 -303.8h0M219.7 -386.4h0M217.5 -388.9h0M279.6 -40.4h0M279.8 -42.2h0M312 -74.7h0M300.3 -269.4h0M299 -270.6h0M382.7 -250.5h0M392.7 -289.8h0M392.7 -291.5h0M233.5 -325.4h0M341.8 -299.2h0M342.8 -298.4h0M128.2 -231.9h0M129.9 -234.3h0M96 -278.1h0M389.8 -287h0M390.1 -285.9h0M322.8 -232.2h0M258.2 -369.9h0M258.2 -369.3h0M334.3 -379.6h0M333.5 -378.6h0M335 -210.2h0M332.9 -212.1h0M335 -275h0M141.3 -219.3h0M297.5 -21.8h0M326.3 -310h0M372 -387.2h0M126.6 -336.9h0M125.8 -334.5h0M209.7 -388.7h0M207.6 -387.1h0M221.6 -387.4h0M223.1 -385.5h0M380.1 -368h0M392.1 -361.1h0M392.1 -362.9h0M105.9 -336.4h0M106.8 -338.8h0M336.4 -256.9h0M336.6 -257.8h0M375 -258.2h0M397.3 -264.5h0M396.3 -262.2h0M150.6 -221.4h0M151.8 -222.5h0M97.7 -282.2h0M296.6 -246.2h0M296 -247.4h0M153.3 -291.6h0M227.5 -351.6h0M227.6 -352.8h0M224.8 -377.6h0M225.2 -375.6h0M306.7 -349.1h0M304.6 -351.5h0M331.4 -265.9h0M333.7 -266.7h0M148.9 -202.3h0M150.2 -202.6h0M376.9 -212.9h0M378 -211.5h0M138.9 -354.4h0M139.8 -356.5h0M329.4 -290h0M329.3 -291.7h0M140.9 -206.6h0M138.5 -207.7h0M159.3 -299.5h0M316.6 -33.1h0M261.8 -300.9h0M262.1 -301.5h0M126.3 -272.4h0M124.6 -272.3h0M331.3 -354.3h0M362.6 -353.9h0M362.1 -354.8h0M112.3 -275.5h0M110.4 -275.1h0M225.1 -338.5h0M224.9 -338.5h0M365.4 -332.7h0M364.2 -334.1h0M397.8 -262.1h0M395.6 -263h0M357.4 -379.6h0M346.9 -294.3h0M121.4 -224.3h0M118.8 -295.8h0M361.9 -279.4h0M360.3 -277.4h0M343.3 -74.9h0M345 -89.3h0M300.9 -25.7h0M300.2 -27.6h0M402.7 -319.2h0M402.6 -318.9h0M153.6 -215.3h0M152.8 -216.9h0M377.3 -298.1h0M378.9 -296.8h0M315.1 -55.7h0M316.9 -56.5h0M157.6 -239.7h0M92.6 -339.1h0M90.7 -339.4h0M136.4 -318.3h0M138.6 -316.3h0M291.5 -35.1h0M157.7 -333h0M155.7 -332.9h0M320.7 -341.8h0M323 -342h0M250.9 -335.6h0M252.2 -334.3h0M119.7 -326.6h0M121.6 -327.1h0M147.7 -258.5h0M146.7 -257.1h0M158.7 -225.2h0M158.9 -226h0M380.6 -321.6h0M382.5 -323h0M108 -229.3h0M106.5 -230h0M116.2 -304.4h0M116.6 -306.9h0M119.2 -201.8h0M117.2 -201.7h0M380.2 -373.4h0M263.7 -292.9h0M228.8 -352.7h0M364.6 -390.2h0M366.1 -391.4h0M103.7 -224.6h0M156 -234.1h0M372.6 -245.4h0M371 -247.1h0M94 -203.6h0M254.5 -383.8h0M255.9 -384.2h0M337 -339.3h0M339.4 -341.1h0M128.1 -309.5h0M128.6 -310.2h0M330.4 -334.8h0M331.5 -333.1h0M391 -372.1h0M366.1 -259.7h0M365.8 -260.3h0M315.3 -378.2h0M251.5 -340.6h0M299.5 -251.4h0M299 -253.5h0M338.5 -223.1h0M329.1 -218.1h0M327.4 -216.2h0M387.8 -220.5h0M389 -218.3h0M379.5 -358.8h0M377.4 -356.6h0M376.5 -210.3h0M338.1 -236.9h0M137.4 -360h0M135.6 -357.5h0M137 -285.1h0M136.5 -283.1h0M371.6 -254h0M112.9 -215.4h0M112.7 -213h0M136.6 -312.2h0M137.4 -311h0M374.5 -256.2h0M372.6 -255.1h0M338.1 -349.4h0M247.3 -287.1h0M323.6 -223.6h0M324.6 -222h0M322.2 -244h0M323.7 -244.7h0M239.3 -336.6h0M336.2 -303.6h0M149 -286.5h0M155.9 -355.6h0M232.3 -389.8h0M233.1 -388.7h0M299 -268.4h0M299 -268.7h0M321.9 -36h0M142.2 -224.7h0M345.2 -301.7h0M346.1 -302.7h0M394.5 -249.4h0M95.7 -247.2h0M93 -188.7h0M93.9 -190h0" fill="none" stroke="#e6e3e3" stroke-width="2" stroke-linecap="round"/>
</g>
<g id="ocells" fill="#dadada" stroke="#dadada" stroke-width="4" stroke-linejoin="round">
<use href="#ovsmc"/>
<use href="#operi"/>
<use href="#olit"/>
<use href="#oart"/>
<use href="#ocap"/>
<use href="#oven"/>
<use href="#oven2"/>
<use href="#olym"/>
<g fill="none" stroke-width="4.6" stroke-linecap="round" stroke-dasharray="0.1 5.9">
<use href="#ovsmc"/>
<use href="#operi"/>
<use href="#olit"/>
<use href="#oart"/>
<use href="#ocap"/>
<use href="#oven"/>
<use href="#oven2"/>
<use href="#olym"/>
</g>
<path d="M169.5 -286.9h0M41.8 -261.7h0M84.5 -195.2h0M63.5 -194.8h0M339.4 -320.2h0M161.9 -342.5h0M117.5 -170.9h0M212.8 -389.6h0M236.7 -302.6h0M398.1 -266.9h0M282.6 -233.8h0M215.5 -386.8h0M245.6 -330.5h0M291.9 -333.2h0M318.3 -225.1h0M331.4 -292.4h0M363.6 -229.2h0M316.9 -219.9h0M144.1 -300.5h0M310.7 -253.8h0M306.4 -240.9h0M331.9 -394.9h0M308.3 -233.3h0M243.1 -419.1h0M306.3 -230.1h0M254.5 -334.6h0M97.2 -328.2h0M178.3 -312.2h0M286 -397h0M253.5 -336.3h0M91.7 -324.5h0M372.5 -245h0M104.7 -326.6h0M165.2 -334.8h0M301.1 -99.4h0M294.6 -304h0M373.6 -249.2h0M268 -338.6h0M154.5 -369.5h0M353.5 -287.6h0M36.1 -253h0M416.9 -251.6h0M121.2 -321.4h0M338.7 -58.1h0M323.4 -57.7h0M216.4 -345.3h0M283.8 -396.4h0M349.9 -302.1h0M282.6 -362.7h0M28.6 -215.4h0M135.7 -315h0M289.4 -390.1h0M111.9 -365.8h0M168.5 -289.8h0M265.3 -364.6h0M272.8 -349.6h0M149.8 -293.6h0M362.7 -272.3h0M337.9 -83.3h0M378.1 -234.5h0M315.7 -87.5h0M361.2 -223.5h0M353.5 -274.3h0M303.9 -399.7h0M83 -342h0M27.7 -253.3h0M87.3 -318h0M223.2 -336.9h0M319.3 -322.1h0M339 -372.2h0M338.6 -364.9h0M152.6 -372.5h0M314 -97.5h0M412.1 -240.5h0M291.1 -385.9h0M293.3 -306.4h0M325.8 -50.1h0M282.2 -333.4h0M247 -416.3h0M260.8 -339.4h0M166.3 -335.4h0M86.7 -349.4h0M286.2 -29h0M139 -193.5h0M232.8 -313.3h0M355.8 -300.9h0M307.8 -299h0M99.8 -166.6h0M385 -256.1h0M272.2 -59.3h0M320.6 -85.3h0M261.1 -268.8h0M24.8 -228.5h0M357.3 -271.8h0M259.6 -343.1h0M419.4 -246.5h0M239.8 -291.6h0M256.6 -242.3h0M161.7 -287.6h0M415.2 -246h0M98.5 -171.6h0M315.5 -270.9h0M351.5 -218.7h0M91.2 -317.8h0M212.8 -390.2h0M335.3 -316.4h0M22.3 -231.7h0M324.5 -403.9h0M238.1 -329.1h0M323.3 -54.9h0M272.6 -54.1h0M61.3 -279.5h0M340.1 -356.8h0M313.6 -255.7h0M325.8 -324.7h0M325.2 -287.6h0M167.2 -331.4h0M292.8 -405h0M115.7 -328.9h0M401.7 -283.2h0M361.7 -235.4h0M181.4 -297.8h0M345.3 -304.7h0M329.1 -316.4h0M309.7 -251.6h0M118.8 -371.6h0M283.5 -411.3h0M273.3 -63.6h0M81 -306.1h0M331.2 -317.8h0M213.3 -365.2h0M90.9 -324.5h0M58.8 -306.2h0M392.4 -194.9h0M348 -285.6h0M286.5 -405.1h0M275 -386.8h0M412.6 -319.9h0M160.2 -287.6h0M271.9 -235h0M271.4 -340.4h0M326.8 -53.1h0M264 -397.2h0M353.2 -275.1h0M375.1 -257h0M333.8 -79.6h0M323.2 -400.5h0M131.2 -360.2h0M338.3 -211.2h0M24.7 -221.2h0M286.2 -369.2h0M375.1 -254.3h0M288.3 -96.8h0M287.3 -395h0M339.7 -302.9h0M318.7 -86.2h0M373 -255.4h0M327.1 -59.7h0M165.9 -280.5h0M284.6 -396.1h0M123.6 -319.5h0M230.5 -332.5h0M159.5 -229.8h0M360.5 -233.3h0M341.1 -57.6h0M252.9 -334.7h0M410.8 -226.6h0M312.6 -91.9h0M372 -247.3h0M284.9 -338.6h0M350.5 -284.7h0M329.3 -211.1h0M44.4 -263.6h0M317 -266.5h0M285.2 -391.9h0M233.8 -319.4h0M100.8 -168.7h0M346.1 -299h0M272.6 -83.2h0M316.9 -267.8h0M285.2 -413.1h0M312.7 -274.2h0M399.7 -202.1h0M375.1 -245.6h0M365.6 -270.5h0M82.6 -200.9h0M373.5 -266.3h0M342.6 -61.9h0M237.1 -335.5h0M57.6 -305.9h0M282.9 -360.4h0M322.7 -210.8h0M273.3 -354.7h0M308.8 -232.3h0M296.4 -295.5h0M409.4 -228.1h0M410.2 -350.8h0M88.5 -341.3h0M334.7 -295.4h0M404.9 -256.4h0M374.7 -239.6h0M309.2 -245.4h0M342.5 -355h0M251.2 -335.5h0M340.4 -371.2h0M245.8 -424h0M280.4 -353.8h0M84.4 -304.8h0M413.9 -234.5h0M163.5 -271.4h0M338.8 -385.3h0M259.5 -339.6h0M375.8 -253.1h0M289 -333.2h0M157 -202.9h0M325.4 -31.5h0M87.9 -333h0M260.5 -348.8h0M353.3 -300.4h0M274.5 -333.8h0M410.7 -250.6h0M286.4 -320h0M402.1 -257.9h0M267.6 -341.8h0M371.3 -260.8h0M403 -377.9h0M375.9 -232.2h0M392.5 -256.9h0M418.8 -313.8h0M320.6 -271.6h0M277.1 -34.2h0M348.7 -281.7h0M276.6 -340.4h0M340.2 -359.2h0M166.3 -266.2h0M257.8 -275.1h0M320.4 -86.8h0M379.1 -200.9h0M337.8 -299.1h0M169.5 -333.1h0M45.2 -264.8h0M216.1 -337.8h0M263.9 -401.9h0M47.1 -268.5h0M314.6 -321.2h0M415.4 -315.4h0M227.9 -313.6h0M272.4 -354.4h0M313 -259.8h0M126.4 -182.1h0M329.5 -294.3h0M276.2 -65.8h0M160.5 -281.6h0M417.2 -307.9h0M137.2 -362h0M56.4 -277.8h0M24.2 -250.2h0M241.9 -272.4h0M285.2 -412.6h0M416.5 -243.1h0M129.7 -180.8h0M142.8 -171.7h0M148.4 -177.8h0M168.1 -208h0M166.5 -207.9h0M165.5 -198.9h0M142.8 -175h0M167.2 -184.6h0M171 -208.9h0M152.8 -205.1h0M155.6 -181.6h0M171.8 -186.3h0M142.7 -172.5h0M151.3 -180.8h0M156 -188.7h0M162.9 -213.9h0M144.4 -181.2h0M141.6 -191.8h0M150.6 -173.3h0M165.6 -206.8h0M171.6 -207.3h0M166.8 -189h0M153.8 -176.9h0M145.2 -171.8h0M136.4 -188h0M151 -201.3h0M154.4 -195.3h0M141.8 -175.5h0M150.6 -183.7h0M146.1 -176.1h0M130 -172.4h0M163.3 -198.3h0M134.7 -174.7h0M146.6 -170.9h0M136.1 -170.8h0M131.9 -178.3h0M146.9 -194h0M159.2 -186h0M153.3 -175.4h0M159 -173.4h0M157.6 -210.2h0M138.2 -174.5h0M144.1 -191.2h0M175 -195h0M147.2 -175.3h0M165.2 -196.7h0M131.4 -175.5h0M169.8 -189.6h0M166.4 -201.6h0M165.2 -210.4h0M163.3 -199.7h0M136.1 -185.1h0M164.4 -205.4h0M164.7 -183.4h0M168.8 -187.1h0M161.9 -185.3h0M153.1 -194.3h0M141 -179.1h0M174.4 -202h0M168.6 -213.7h0M155.8 -208.1h0M166.2 -212h0M144.7 -175h0M151.2 -191.6h0M140.6 -170.5h0M147.1 -171.7h0M164.9 -208.5h0M163.4 -210h0M153 -187.1h0M156.8 -174.6h0M154.7 -181.1h0M174.3 -197.1h0M152 -188.5h0M150.8 -177.3h0M147.5 -181.4h0" fill="none" stroke-width="3.6" stroke-linecap="round"/>
<path d="M324.2 -275.9h0M325.8 -274.1h0M135 -239h0M136.5 -239h0M233.8 -365h0M129.1 -252.7h0M140.6 -283.5h0M38.3 -215.4h0M37.2 -214.8h0M104.4 -213.2h0M106.6 -212h0M272.7 -327.2h0M272.5 -324.9h0M268 -304.4h0M266.2 -305.8h0M153.2 -232.7h0M153.6 -234.7h0M345.8 -258.7h0M396.7 -256.3h0M242.3 -406.7h0M240.4 -407.7h0M274.4 -80.3h0M275.1 -81.5h0M318.6 -228.6h0M239.7 -401h0M231.4 -394.8h0M232.7 -395.3h0M290.1 -387h0M301.5 -70.8h0M302 -69.1h0M406.1 -311.1h0M355.6 -235.2h0M310.3 -243.3h0M312.3 -241.4h0M125.9 -347.3h0M306.4 -289h0M305.8 -291.1h0M298.3 -47.3h0M298.9 -49.5h0M258.3 -387.8h0M259.7 -388.6h0M410.7 -251.2h0M373.7 -344.6h0M110.2 -206.2h0M109 -204.5h0M156.8 -240.4h0M155.4 -242.7h0M75.3 -268.2h0M74.2 -270.6h0M363.4 -359.5h0M364.8 -358.4h0M352.8 -274.3h0M350.8 -236.3h0M353.3 -235h0M410.6 -305h0M86.9 -298.9h0M85.3 -300.1h0M103.4 -334h0M395.6 -330.7h0M397.5 -332.7h0M32.6 -235.3h0M34 -237.5h0M296.5 -314.1h0M341.2 -268.4h0M145.3 -279.6h0M291.2 -366.4h0M291.4 -366.9h0M96.3 -252.2h0M98.5 -250.2h0M387.5 -336.9h0M390 -338.8h0M120.9 -277.5h0M390.4 -381.4h0M389.9 -380.1h0M231.5 -366.8h0M335.6 -273.6h0M91.6 -224.7h0M102.9 -268h0M101.1 -270.5h0M238.2 -314.9h0M236.4 -313.8h0M224.9 -384.9h0M223.3 -384.4h0M117.4 -267.7h0M115.4 -267.6h0M408.1 -318.4h0M330.5 -267.5h0M331.8 -268.3h0M56.2 -203.6h0M55.5 -202h0M313.8 -296.3h0M61.9 -212.2h0M356.8 -392.1h0M305.9 -311.2h0M304.8 -313.3h0M352.1 -224.8h0M351 -223.8h0M249.6 -301.3h0M248 -303.5h0M304.8 -300.4h0M303.5 -302h0M400.5 -340.2h0M265.4 -288h0M265.7 -289.4h0M217.2 -351.1h0M217 -351.1h0M252.6 -356.2h0M148.5 -293.9h0M146.9 -291.8h0M301.3 -352.7h0M323.9 -58.6h0M323.7 -59.8h0M87.9 -280.1h0M86.4 -280.2h0M89.7 -260.1h0M88 -261.2h0M319 -335.8h0M318.9 -334.4h0M337.8 -261.2h0M318.7 -80.7h0M242.3 -299.4h0M243 -300.9h0M300.2 -83.9h0M302.3 -84.9h0M157.9 -301.9h0M159.9 -304.4h0M307.1 -75.9h0M282.4 -62.7h0M338.6 -271.3h0M339.3 -272.2h0M98.7 -306.5h0M364.9 -274.6h0M365.5 -276.3h0M239.1 -355.4h0M325.2 -267h0M322.8 -265.6h0M122 -277.9h0M122.5 -276.5h0M409.9 -245.6h0M411.8 -246.3h0M333.2 -74.8h0M334.6 -76.3h0M68 -234.8h0M67 -232.6h0M107.4 -310.3h0M82.2 -241.6h0M84.7 -240.2h0M342.3 -213.2h0M343.9 -214.1h0M151.5 -323.1h0M150 -322.4h0M404.1 -211.8h0M396.1 -373.6h0M348.8 -372.1h0M333.6 -355.2h0M318.9 -290.8h0M319.3 -291.7h0M339.7 -379h0M337.4 -378.9h0M233.3 -398.9h0M161.3 -296.5h0M163.4 -296.5h0M284.1 -246h0M350.1 -296.3h0M347.9 -296h0M137.3 -249.2h0M280.7 -251.3h0M128.7 -352h0M128 -349.7h0M62.2 -201h0M122.1 -240.9h0M119.8 -239.2h0M320.2 -373.5h0M320.9 -374.1h0M380 -289.9h0M215 -354.1h0M216.2 -354.9h0M286.9 -64.1h0M287.4 -62.2h0M252.1 -283.5h0M249.8 -285.1h0M347.2 -359.9h0M347.5 -361.9h0M354.1 -269.1h0M355.8 -267.3h0M99 -192.5h0M97.8 -190.5h0M389.1 -222.1h0M391.2 -220.8h0M239.6 -375.5h0M239.2 -375.2h0M280.4 -55.4h0M279.2 -53.8h0M400.5 -226.2h0M401.3 -227.3h0M299.8 -268h0M397.7 -325.7h0M398.6 -326.2h0M337.7 -375.8h0M133.9 -299.4h0M136.3 -300h0M243 -306.3h0M243.6 -305.6h0M153.9 -271.7h0M368.2 -358.8h0M388.4 -278.8h0M369.5 -360.6h0M371.6 -363h0M318.5 -237.5h0M306.7 -40.4h0M351.4 -356.3h0M301.2 -295.9h0M303.2 -297.5h0M339 -275.8h0M317.7 -380.8h0M319.2 -379.6h0M356.7 -254.8h0M354.5 -255h0M112.7 -181.8h0M114 -180.4h0M396.8 -227.8h0M356.3 -233.6h0M354 -236h0M242 -321.9h0M242.2 -324h0M148 -296.8h0M146.8 -296.3h0M378.7 -226.2h0M364.1 -282.6h0M366.2 -282.3h0" fill="none" stroke="#e6e3e3" stroke-width="2" stroke-linecap="round"/>
</g>
<linearGradient id="cb" x1="0" x2="1" y1="0" y2="0">
<stop offset="0%" stop-color="#dcdcdc"/>
<stop offset="6%" stop-color="#e8e4de"/>
<stop offset="12%" stop-color="#fff1e0"/>
<stop offset="20%" stop-color="#fee6c8"/>
<stop offset="30%" stop-color="#fdd5a4"/>
<stop offset="40%" stop-color="#fdc08c"/>
<stop offset="49%" stop-color="#fca36e"/>
<stop offset="57%" stop-color="#fb8554"/>
<stop offset="64%" stop-color="#ef6a4c"/>
<stop offset="72%" stop-color="#e34e36"/>
<stop offset="79%" stop-color="#d22c1c"/>
<stop offset="87%" stop-color="#b50a05"/>
<stop offset="93%" stop-color="#9d0000"/>
<stop offset="100%" stop-color="#7a0000"/>
</linearGradient>
</defs>
<rect x="407" y="4" width="284" height="73" fill="#dbe8f5" stroke="#000" stroke-width="2"/>
<text transform="translate(429.59 53.50) scale(0.980 1)" font-size="40.00" font-weight="bold" font-style="italic">20 - 49 years</text>
<rect x="917" y="3.5" width="283" height="73" fill="#e8e8e8" stroke="#000" stroke-width="2"/>
<text transform="translate(938.61 53.00) scale(0.984 1)" font-size="40.00" font-weight="bold" font-style="italic">50 - 80 years</text>
<rect x="61.5" y="595.5" width="283.5" height="72.5" fill="#dbe8f5" stroke="#000" stroke-width="2"/>
<text transform="translate(83.59 644.50) scale(0.982 1)" font-size="40.00" font-weight="bold" font-style="italic">20 - 49 years</text>
<rect x="484" y="595.5" width="283" height="72.5" fill="#e8e8e8" stroke="#000" stroke-width="2"/>
<text transform="translate(505.61 644.50) scale(0.982 1)" font-size="40.00" font-weight="bold" font-style="italic">50 - 80 years</text>
<rect x="881" y="594.5" width="283.5" height="73.5" fill="#dbe8f5" stroke="#000" stroke-width="2"/>
<text transform="translate(903.59 644.50) scale(0.977 1)" font-size="40.00" font-weight="bold" font-style="italic">20 - 49 years</text>
<rect x="1278.5" y="594.5" width="283" height="73.5" fill="#e8e8e8" stroke="#000" stroke-width="2"/>
<text transform="translate(1300.61 644.50) scale(0.982 1)" font-size="40.00" font-weight="bold" font-style="italic">50 - 80 years</text>
<g transform="translate(321 539)">
<use href="#bg"/>
<use href="#yart" fill="#a5cde3" stroke="#a5cde3" stroke-width="3" stroke-linejoin="round"/>
<use href="#yart" fill="none" stroke="#a5cde3" stroke-width="4.2" stroke-linecap="round" stroke-dasharray="0.1 5.3"/>
<use href="#ycap" fill="#9bce92" stroke="#9bce92" stroke-width="3" stroke-linejoin="round"/>
<use href="#ycap" fill="none" stroke="#9bce92" stroke-width="4.2" stroke-linecap="round" stroke-dasharray="0.1 5.3"/>
<use href="#yven" fill="#b8996e" stroke="#b8996e" stroke-width="3" stroke-linejoin="round"/>
<use href="#yven" fill="none" stroke="#b8996e" stroke-width="4.2" stroke-linecap="round" stroke-dasharray="0.1 5.3"/>
<use href="#ylit" fill="#ef6a45" stroke="#ef6a45" stroke-width="3" stroke-linejoin="round"/>
<use href="#ylit" fill="none" stroke="#ef6a45" stroke-width="4.2" stroke-linecap="round" stroke-dasharray="0.1 5.3"/>
<use href="#yperi" fill="#b05a28" stroke="#b05a28" stroke-width="3" stroke-linejoin="round"/>
<use href="#yperi" fill="none" stroke="#b05a28" stroke-width="4.2" stroke-linecap="round" stroke-dasharray="0.1 5.3"/>
<use href="#yvsmc" fill="#845b9c" stroke="#845b9c" stroke-width="3" stroke-linejoin="round"/>
<use href="#yvsmc" fill="none" stroke="#845b9c" stroke-width="4.2" stroke-linecap="round" stroke-dasharray="0.1 5.3"/>
<use href="#ylym" fill="#ee9248" stroke="#ee9248" stroke-width="3" stroke-linejoin="round"/>
<use href="#ylym" fill="none" stroke="#ee9248" stroke-width="4.2" stroke-linecap="round" stroke-dasharray="0.1 5.3"/>
<use href="#hole" fill="#fff"/>
<path class="d" transform="scale(.5)" stroke="#845b9c" stroke-width="8" d="M220 -625h0m35-4h0m-44 8h0m7 7h0m34-2h0m-43 12h0m17-7h0m22 2h0m13 4h0m-69 10h0m68 3h0m20 1h0m3-6h0m9 0h0m-99 11h0m4 0h0m11-1h0m-35 15h0m8 2h0m107-6h0m14 2h0m22 8h0m-153 11h0m3-6h0m19-2h0m121 6h0m-157 16h0m6 0h0m156-1h0m-159 8h0m4 4h0m-17 3h0m2 5h0m31-4h0m-42 31h0m25-4h0m147 3h0m-147 5h0m165-1h0m-188 12h0m2 8h0m2 0h0m9-5h0m162-2h0m5 1h0m1 2h0m-162 9h0m163 4h0m-185 14h0m185-3h0m-192 8h0m185 11h0m1-6h0m-178 14h0m168-1h0m-169 6h0m1 5h0m17-3h0m143 9h0m15-2h0m0-5h0m9-3h0m-49 18h0m20 0h0m11-1h0m3 2h0m13 0h0m-167 7h0m9-2h0m8 4h0m134 5h0m-132 3h0m7 1h0m3 5h0m105 3h0m7-10h0m5 2h0m-114 11h0m20 8h0m63-7h0m-83 19h0m4-9h0m27 11h0m30-2h0m22-1h0m12-2h0m-62 8h0m1 7h0m2-1h0m2-3h0"/>
<path class="d" transform="scale(.5)" stroke="#b05a28" stroke-width="8" d="M278 -748h0m10 1h0m22 10h0m1-1h0m-46 15h0m55-4h0m-74 13h0m13 2h0m2-5h0m47 3h0m4 4h0m2-2h0m3 3h0m-133 8h0m6 4h0m-7 7h0m9-4h0m2 4h0m47-6h0m67 6h0m28-4h0m-155 16h0m27 1h0m11-7h0m86 0h0m12 3h0m7 2h0m1 4h0m3-7h0m-138 20h0m132-2h0m-132 5h0m141 6h0m11 3h0m5 0h0m-136 3h0m130 1h0m-148 20h0m6 1h0m2-8h0m25 4h0m114-4h0m-128 23h0m38 6h0m28-1h0m51-3h0m-68 11h0m16 7h0m53-1h0m23-1h0m-90 10h0m55 3h0m20-8h0m9 7h0m-38 10h0m3-2h0m16 4h0m-32 15h0m7-1h0m7 1h0"/>
<path class="d" transform="scale(.5)" stroke="#9bce92" stroke-width="8" d="M730 -792h0m-8 19h0m30-2h0m28-1h0m-98 13h0m100 4h0m7 1h0m25 1h0m7-9h0m-146 15h0m135 0h0m3-4h0m-151 12h0m1 6h0m148-3h0m-158 9h0m146 7h0m-114 7h0m113 7h0m1-1h0m7 7h0m-136 13h0m12 1h0m2 0h0m131 2h0m-140 7h0m-167 19h0m26-5h0m144 1h0m139 5h0m-307 3h0m43 9h0m97-5h0m152 5h0m0-8h0m1 0h0m11 2h0m-315 17h0m12 1h0m7-4h0m5-5h0m14-2h0m16 2h0m3 0h0m22 4h0m72 5h0m12-1h0m16 0h0m136-10h0m-304 18h0m3 0h0m68-6h0m62 9h0m18 2h0m149-10h0m-313 21h0m8-4h0m-16 17h0m116-2h0m10-1h0m6-2h0m198 5h0m5-6h0m-344 16h0m134 2h0m183-4h0m-320 14h0m131-4h0m197 6h0m1-11h0m-337 17h0m8-5h0m19 5h0m280-5h0m19 6h0m-311 13h0m11-7h0m174 5h0m0 6h0m4-4h0m106 0h0m-280 12h0m42-7h0m11 4h0m117 6h0m3 1h0m10 0h0m4-2h0m5 0h0m50 0h0m20-9h0m7 9h0m-270 6h0m8 6h0m148-9h0m4 4h0m26 7h0m5-7h0m8 6h0m65-8h0m-239 18h0m111-8h0m8 4h0m9 2h0m54 0h0m29-5h0m-207 17h0m95 4h0m-10 9h0m2 4h0m-67 10h0m43-7h0m5 9h0m17-3h0m-55 8h0m12-2h0m9 6h0m0 2h0m28-10h0"/>
<path class="d" transform="scale(.5)" stroke="#a5cde3" stroke-width="8" d="M601 -815h0m18 6h0m13-3h0m17 5h0m-60 6h0m29-3h0m2 2h0m22 8h0m21-5h0m-93 9h0m7-1h0m10 1h0m76 6h0m-6 11h0m11 3h0m8-8h0m-83 11h0m61 6h0m26 26h0m-105 5h0m6 7h0m-17 3h0m3 6h0m20-4h0m86 5h0m-103 7h0m99 6h0m2 1h0m-115 8h0m116 8h0m6 5h0m2-1h0m17 0h0m-29 12h0m16 0h0m-111 12h0m89-4h0m-12 22h0m1-8h0m2 5h0m5 3h0m-82 8h0m2-7h0m10 5h0m6-3h0m10 5h0m61-6h0m-88 17h0m4-2h0m14-2h0m34 3h0m7-4h0m10-1h0m-50 14h0m2 9h0m26-6h0m5-1h0m-38 19h0m8-6h0m18-2h0"/>
<path class="d" transform="scale(.5)" stroke="#b8996e" stroke-width="8" d="M644 -564h0m114 8h0m43 3h0m13-1h0m-137 4h0m3 7h0m55-5h0m15 6h0m26-9h0m30 2h0m-150 13h0m23 2h0m139-6h0m-183 12h0m42 6h0m35 2h0m24-8h0m10 2h0m76 8h0m-195 7h0m180 3h0m-84 14h0m0-1h0m11-6h0m60 9h0m6 9h0m-73 13h0m17-6h0m57 1h0m-180 7h0m103 8h0m7-3h0m2 6h0m71-4h0m-89 6h0m14 2h0m9 4h0m55-6h0m-92 14h0m-67 13h0m62-3h0m1-1h0m3 8h0m57-7h0m21 3h0m-100 13h0m13 5h0m92-4h0m1 2h0m-14 5h0"/>
<path class="d" transform="scale(.5)" stroke="#ef6a45" stroke-width="8" d="M468 -835h0m1 5h0m8 0h0m1-7h0m8 5h0m-40 10h0m44-4h0m10 7h0m1-2h0m-73 14h0m1-6h0m6 4h0m-34 26h0m14-5h0m-10 17h0m7-2h0m-7 11h0m7 1h0m5-5h0m98 0h0m4 0h0m4 5h0m3-1h0m-120 28h0m119 9h0m8-3h0m-118 39h0m124 0h0m-110 7h0m8 5h0m76 3h0m22 0h0m2-1h0m9-4h0m-107 18h0m1-3h0m18 3h0m84-9h0m9-1h0m-95 27h0"/>
<path class="d" transform="scale(.5)" stroke="#ee9248" stroke-width="8" d="M678 -195h0m8 7h0m-136 17h0m115 1h0m20 1h0m-132 6h0m8 18h0m76-4h0m7-6h0m4 1h0m40-2h0m-133 15h0m-7 19h0m78-10h0m52 0h0m-133 17h0m10-3h0m86 1h0m-94 17h0m18 10h0m81 9h0m7 2h0m3-5h0m-17 18h0m1 0h0m11 5h0m-84 21h0m29-4h0m33 0h0m-45 12h0"/>
<path class="d" transform="scale(.5)" stroke="#b05a28" stroke-width="8" d="M246 -614h0m7-7h0m9 2h0m-44 16h0m2 2h0m5-1h0m14-2h0m5 0h0m9-5h0m3 7h0m3-7h0m5 7h0m5-9h0m8-1h0m3 6h0m-60 15h0m26 0h0m11 2h0m3-1h0m3 0h0m3 1h0m11-2h0m5 2h0m-76 11h0m13-9h0m1 5h0m8-5h0m1 0h0m6 3h0m1-2h0m4-2h0m1 3h0m0 2h0m0 6h0m1 0h0m2-2h0m3 0h0m10-4h0m3-1h0m1-3h0m0-1h0m2 6h0m2 4h0m7-7h0m7 4h0m1-1h0m2 3h0m6-8h0m5 6h0m-58 11h0m1-3h0m3 5h0m5 1h0m2-5h0m6 2h0m1-6h0m4 2h0m1 3h0m7 0h0m8 4h0m15-1h0m-60 15h0m4-4h0m17 0h0m0-2h0m1-2h0m4 7h0m21-5h0m0-2h0m-39 9h0"/>
<path class="d" transform="scale(.5)" stroke="#845b9c" stroke-width="8" d="M260 -641h0m-47 16h0m10-1h0m4-2h0m1-5h0m1 1h0m4 4h0m7-4h0m5-3h0m2 10h0m1-7h0m4 3h0m4-5h0m0 5h0m3 3h0m0-2h0m4-6h0m1 4h0m3 5h0m13-8h0m-66 10h0m1 0h0m1 2h0m5 2h0m4-4h0m3 9h0m2-10h0m5 1h0m0 7h0m5-3h0m4-4h0m9 6h0m1-6h0m4 0h0m2-1h0m3 5h0m5 3h0m-28 4h0m10 5h0m8-3h0"/>
<path class="d" transform="scale(.5)" stroke="#845b9c" stroke-width="8" d="M134 -592h0m2-3h0m14 5h0m-19 4h0m6 7h0m5-4h0m11 1h0m-20 9h0m8 3h0m2 4h0m0-2h0m1-3h0m3 4h0m7 1h0m-25 11h0m1-3h0m7-2h0m3 0h0m6 5h0m2-7h0m6 0h0m1-1h0m3 2h0m-29 11h0m1-2h0m2 0h0m12 4h0m3-1h0m6 2h0m8 6h0m-34 5h0m5-3h0m2 3h0m3 2h0m1 0h0m3 4h0m2-5h0m12-2h0m-22 9h0m9 4h0m3 3h0m2 2h0m0 2h0m-16 2h0m5 9h0"/>
<path class="d" transform="scale(.5)" stroke="#845b9c" stroke-width="8" d="M317 -449h0m10-2h0m-13 12h0m2 0h0m1 6h0m1-1h0m0-1h0m2-6h0m2-3h0m-14 17h0m6 1h0m5-4h0m1 1h0m1 2h0m6 0h0m9 5h0m-25 2h0m1 10h0m3-1h0m1-9h0m5 3h0m2 3h0m3-5h0m9 4h0m-25 9h0m2 5h0m2-1h0m3-2h0m0-2h0m2-2h0m3 5h0m4 3h0m2 2h0m1-8h0m1 9h0m3-1h0m-23 4h0m1 7h0m0-1h0m1 0h0m3-1h0m11-1h0m0-4h0m-13 18h0m14-7h0m-11 14h0m3-1h0m1 5h0m0-5h0m3 3h0"/>
<path class="d" transform="scale(.5)" stroke="#b05a28" stroke-width="8" d="M325 -471h0m3-1h0m-7 18h0m5 3h0m-2 33h0m3-2h0"/>
<path class="d" transform="scale(.5)" stroke="#9bce92" stroke-width="8" d="M612 -773h0m21 23h0m-28 7h0m14 26h0m-6 13h0m26 5h0m-19 22h0m-17 17h0m11 17h0"/>
<path class="d" transform="scale(.5)" stroke="#b7dbb0" stroke-width="5.2" d="M763 -790h0m-66 21h0m48-9h0m-54 13h0m52 0h0m40-3h0m-130 12h0m25 7h0m29-4h0m17 0h0m58 1h0m17 7h0m-123 12h0m37-7h0m41-3h0m6 0h0m20 2h0m4 6h0m-114 10h0m47-5h0m-49 17h0m43-1h0m37-6h0m-77 14h0m15-1h0m1 9h0m0-1h0m35-7h0m35 9h0m24-9h0m-106 10h0m12 9h0m38 2h0m8-10h0m4 10h0m6-11h0m2 11h0m-23 3h0m5-1h0m12 4h0m17 3h0m38-8h0m-107 17h0m32 6h0m4-8h0m2 8h0m67-9h0m-143 10h0m0 7h0m6-6h0m25 5h0m19-1h0m27 5h0m15-6h0m4 5h0m3-7h0m4 6h0m53-3h0m-126 16h0m20-7h0m4 5h0m29-3h0m3 6h0m14-4h0m-46 14h0m8 0h0m10-5h0m15 11h0m6 8h0m-7 3h0"/>
<path class="d" transform="scale(.5)" stroke="#b7dbb0" stroke-width="5.2" d="M575 -633h0m24 5h0m-83 14h0m44 0h0m45 1h0m4-7h0m-80 10h0m-15 15h0m26-2h0m7 5h0m6 1h0m11-2h0m20 2h0m2-5h0m16 0h0m27-2h0m-99 15h0m10 3h0m31-2h0m-77 14h0m57-7h0m29 10h0m1-1h0m0-7h0m2 0h0m19 8h0m11-7h0m24-4h0m-55 15h0m15-2h0m0 6h0m2-5h0m-114 10h0m73 4h0m20-1h0m6 3h0m2-2h0m3 1h0m9 1h0m21-5h0m30-1h0m1 9h0m-121 9h0m26-5h0m18 5h0m0-1h0m65-2h0m-45 13h0m-3 12h0m7 5h0"/>
<path class="d" transform="scale(.5)" stroke="#c1dcec" stroke-width="5.2" d="M619 -778h0m-3 19h0m16-3h0m6 0h0m-20 10h0m-2 16h0m22-6h0m-53 12h0m24 0h0m1 6h0m5-4h0m0-3h0m5 10h0m6-8h0m-25 20h0m1-6h0m2-5h0m6 5h0m5-3h0m9 5h0m4-2h0m-38 16h0m24-6h0m4 3h0m2-5h0m2 10h0m5-3h0m9-6h0m18-1h0m-49 17h0m2 5h0m2-8h0m30-3h0m-38 21h0m15 2h0m15-1h0m-33 10h0m1 3h0m4-3h0m15-4h0m8 3h0m0-4h0m7 5h0m-25 7h0m19 4h0"/>
<path class="d" transform="scale(.5)" stroke="#b7dbb0" stroke-width="5.2" d="M608 -627h0m29-9h0m84 11h0m-124 3h0m16-1h0m7 2h0m17 3h0m5-2h0m62 5h0m3-3h0m20-6h0m-69 16h0m44 5h0m-107 9h0m25 0h0m7 5h0m3 0h0m17-6h0m11-3h0m4 0h0m19 6h0m34 2h0m25-6h0m-104 12h0m18 3h0m1-4h0m2 6h0m13-9h0m0 3h0m6 2h0m1-4h0m6 7h0m5-6h0m6 20h0m30-8h0m-67 14h0m21 0h0m-26 19h0m12-10h0m48 1h0"/>
<path class="d" transform="scale(.5)" stroke="#a5cde3" stroke-width="8" d="M606 -634h0m8 4h0m12-4h0m6 8h0m20-2h0m-11 10h0m22 1h0m-63 5h0m5 3h0m8-2h0m33 9h0m14-1h0m-45 14h0m12-9h0m8-1h0m25 1h0m-50 15h0m7 2h0m2-3h0m2 5h0m8-6h0m11 1h0m15-1h0m-57 12h0m3 4h0m3 3h0m6-8h0m1 4h0m3 0h0m0-4h0m13 3h0m6-2h0m14 4h0m2 4h0m5 0h0m9-1h0m-52 9h0m17-4h0m8 3h0m-10 7h0"/>
<path class="d" transform="scale(.5)" stroke="#a5cde3" stroke-width="8" d="M792 -593h0m9 1h0m3 2h0m-10 3h0m3 6h0m4-1h0m4-1h0m1 0h0"/>
<path class="d" transform="scale(.5)" stroke="#9bce92" stroke-width="8" d="M719 -535h0m-29 15h0m17-5h0m3 2h0m26-4h0m-47 15h0m21 0h0m10 1h0m-63 17h0m8-3h0m9 2h0m8-3h0m14-5h0m2 2h0m32 5h0m-77 13h0m29-3h0m2-6h0m6 9h0m26-1h0m3 1h0m3-3h0m5 4h0m17-8h0m1-2h0m-72 12h0m45 2h0m20 5h0m6 14h0m-8 7h0"/>
<path class="d" transform="scale(.5)" stroke="#b8996e" stroke-width="8" d="M715 -579h0m12-3h0m4 4h0m-12 12h0m22 1h0m9-7h0m0 6h0m-40 11h0m19-3h0m1 1h0m1-2h0m1-5h0m11 9h0m1 2h0m1-3h0m10-5h0m9 2h0m16-4h0m-99 18h0m13 0h0m3-3h0m10 7h0m13-7h0m12 3h0m7 0h0m6 4h0m1-11h0m3 5h0m3-2h0m2 6h0m0-4h0m23-2h0m-73 12h0m10 2h0m1 0h0m2 0h0m18-3h0m17 3h0m-24 7h0m3 3h0"/>
<path class="d" transform="scale(.5)" stroke="#ef6a45" stroke-width="8" d="M512 -654h0m-15 15h0m1 1h0m1-7h0m14 6h0m3 2h0m4-5h0m0-2h0m8 0h0m-6 15h0"/>
<path class="d" transform="scale(.5)" stroke="#9bce92" stroke-width="8" d="M493 -663h0m3 0h0m3-4h0m9 5h0m-29 9h0m2-2h0m9 0h0m5 0h0m3 0h0m3-5h0"/>
<path class="d" transform="scale(.5)" stroke="#9bce92" stroke-width="8" d="M710 -782h0m16-2h0m4 3h0m43-1h0m-104 4h0m7 3h0m7 1h0m3-4h0m2 5h0m8 1h0m7-7h0m15 5h0m6-4h0m3 7h0m1 0h0m2-6h0m2-1h0m7 2h0m6 7h0m2-3h0m0-4h0m2 5h0m3-5h0m6 2h0m2 0h0m0-5h0m7 8h0m-48 4h0m19 1h0m19-2h0"/>
</g>
<g transform="translate(838.6 539)">
<use href="#bg"/>
<use href="#oart" fill="#a5cde3" stroke="#a5cde3" stroke-width="3" stroke-linejoin="round"/>
<use href="#oart" fill="none" stroke="#a5cde3" stroke-width="4.2" stroke-linecap="round" stroke-dasharray="0.1 5.3"/>
<use href="#ocap" fill="#9bce92" stroke="#9bce92" stroke-width="3" stroke-linejoin="round"/>
<use href="#ocap" fill="none" stroke="#9bce92" stroke-width="4.2" stroke-linecap="round" stroke-dasharray="0.1 5.3"/>
<use href="#oven" fill="#b8996e" stroke="#b8996e" stroke-width="3" stroke-linejoin="round"/>
<use href="#oven" fill="none" stroke="#b8996e" stroke-width="4.2" stroke-linecap="round" stroke-dasharray="0.1 5.3"/>
<use href="#oven2" fill="#b8996e" stroke="#b8996e" stroke-width="3" stroke-linejoin="round"/>
<use href="#oven2" fill="none" stroke="#b8996e" stroke-width="4.2" stroke-linecap="round" stroke-dasharray="0.1 5.3"/>
<use href="#olit" fill="#ef6a45" stroke="#ef6a45" stroke-width="3" stroke-linejoin="round"/>
<use href="#olit" fill="none" stroke="#ef6a45" stroke-width="4.2" stroke-linecap="round" stroke-dasharray="0.1 5.3"/>
<use href="#operi" fill="#b05a28" stroke="#b05a28" stroke-width="3" stroke-linejoin="round"/>
<use href="#operi" fill="none" stroke="#b05a28" stroke-width="4.2" stroke-linecap="round" stroke-dasharray="0.1 5.3"/>
<use href="#ovsmc" fill="#845b9c" stroke="#845b9c" stroke-width="3" stroke-linejoin="round"/>
<use href="#ovsmc" fill="none" stroke="#845b9c" stroke-width="4.2" stroke-linecap="round" stroke-dasharray="0.1 5.3"/>
<use href="#olym" fill="#ee9248" stroke="#ee9248" stroke-width="3" stroke-linejoin="round"/>
<use href="#olym" fill="none" stroke="#ee9248" stroke-width="4.2" stroke-linecap="round" stroke-dasharray="0.1 5.3"/>
<use href="#hole" fill="#fff"/>
<path class="d" transform="scale(.5)" stroke="#845b9c" stroke-width="8" d="M177 -665h0m0-5h0m5 5h0m33-2h0m-26 14h0m4-5h0m33 3h0m-100 15h0m45 0h0m44-8h0m48 2h0m-150 21h0m23-7h0m49-2h0m54 1h0m-137 18h0m53-5h0m33-4h0m101 0h0m-167 13h0m5 2h0m5 7h0m127-10h0m13 10h0m15-1h0m6-1h0m-167 7h0m36-3h0m1 1h0m-32 19h0m188-4h0m7-4h0m-227 20h0m11 1h0m-12 12h0m8-7h0m6 5h0m221-2h0m-231 17h0m13-7h0m20 1h0m1-4h0m185 10h0m12-1h0m4 0h0m-260 9h0m46 0h0m1 2h0m206-3h0m-271 12h0m256 3h0m-259 16h0m-30 21h0m11-4h0m33-4h0m-21 29h0m2-4h0m21 3h0m263 2h0m-274 25h0m255 1h0m-4 4h0m3 2h0m-256 11h0m70 3h0m6-1h0m-72 14h0m14-3h0m75 1h0m132 1h0m-181 17h0m8-10h0m10 0h0m45 19h0m6 0h0m86 1h0m43-4h0m-39 16h0m-89 14h0m36-8h0m8 9h0m35-7h0m24-3h0m-93 17h0m5-3h0m19 8h0m8-10h0m1 18h0m15-2h0m0-5h0"/>
<path class="d" transform="scale(.5)" stroke="#b05a28" stroke-width="8" d="M296 -755h0m5 3h0m5 0h0m-99 17h0m12 0h0m5-4h0m20-4h0m25 9h0m8-4h0m15-5h0m-96 12h0m2 6h0m35-5h0m10 2h0m64-1h0m8 2h0m3 4h0m4-7h0m-126 19h0m13-1h0m8-7h0m10 8h0m13-9h0m0 2h0m68 1h0m2 2h0m-142 16h0m10-2h0m21 1h0m123 3h0m-158 7h0m31 3h0m10-5h0m0 1h0m13 6h0m101-9h0m9 6h0m8-3h0m-183 12h0m13-4h0m15 4h0m26-5h0m2 7h0m5 11h0m121 2h0m-167 5h0m0 4h0m2 0h0m16 3h0m15 0h0m2-8h0m6 1h0m7 3h0m6 1h0m133-5h0m-164 19h0m52-2h0m4 3h0m2-4h0m11 5h0m92 3h0m12 11h0m-110 9h0m-9 4h0m20 2h0m77 4h0m4 3h0m5-5h0m3 4h0m10 2h0m-48 10h0m-12 6h0m9 0h0m16 3h0m17 2h0m-49 7h0m42-2h0m3 14h0m5 14h0m12-3h0"/>
<path class="d" transform="scale(.5)" stroke="#9bce92" stroke-width="8" d="M717 -802h0m67 9h0m-93 5h0m47-4h0m-44 23h0m10-9h0m-25 31h0m129 0h0m3-6h0m-131 32h0m0 5h0m6 12h0m2 7h0m-143 12h0m7 0h0m17-6h0m129 4h0m98-8h0m13-1h0m10 1h0m1 1h0m-6 17h0m8-4h0m-327 19h0m41 0h0m20-10h0m25 6h0m121 2h0m-224 8h0m25-1h0m68 3h0m53 3h0m11 1h0m38-5h0m-200 11h0m140 6h0m2-1h0m35-1h0m26-2h0m15-5h0m9 7h0m118-6h0m19 2h0m2-4h0m-382 17h0m133 4h0m54-8h0m10 2h0m186 6h0m-254 13h0m7-2h0m94 0h0m-210 10h0m1 3h0m114-7h0m20 9h0m67-8h0m-203 16h0m4-2h0m19 3h0m2 3h0m88-8h0m0-1h0m11-1h0m60 3h0m12-4h0m26 6h0m111-6h0m-328 16h0m4 2h0m3 3h0m7 0h0m164-4h0m31 4h0m-210 10h0m226-5h0m4 4h0m91-4h0m7 3h0m1-2h0m35-3h0m-361 19h0m16-4h0m29 6h0m112-8h0m50 0h0m113 9h0m-318 9h0m3-2h0m6 3h0m31-2h0m2 2h0m99 0h0m27-3h0m66 0h0m2 4h0m-217 4h0m21-1h0m5 4h0m98-2h0m77 1h0m6-1h0m76 5h0m2-7h0m9 10h0m-291 7h0m23-5h0m214 6h0m17 2h0m-266 15h0m5 2h0m5 3h0m16 5h0m92 4h0m-105 14h0m10 0h0m3 5h0m32-1h0m42-4h0m0 4h0"/>
<path class="d" transform="scale(.5)" stroke="#a5cde3" stroke-width="8" d="M635 -843h0m-69 10h0m7-6h0m3 20h0m-16 6h0m7 3h0m27 0h0m2-1h0m11 4h0m6 2h0m9-2h0m-54 8h0m7-4h0m20-1h0m5 6h0m44 3h0m2-1h0m11 3h0m-84 9h0m16 0h0m51-2h0m40 4h0m-111 6h0m94-3h0m21 20h0m-108 14h0m9-11h0m94 14h0m-104 10h0m3 2h0m103 9h0m-113 9h0m117 7h0m5 5h0m9-3h0m-15 18h0m-112 20h0m4-4h0m0 10h0m54 16h0m6 4h0m6-5h0m16-3h0m5 6h0m-79 8h0m5 5h0m44-7h0m-54 22h0m5 3h0m22 1h0m5 0h0m4-3h0m1 0h0m4 10h0m-11 5h0m-22 16h0m1-6h0m3-1h0m6 1h0m3 0h0"/>
<path class="d" transform="scale(.5)" stroke="#b8996e" stroke-width="8" d="M673 -609h0m4 0h0m16-3h0m-55 13h0m15 8h0m2 1h0m1-9h0m5 1h0m2 3h0m26-3h0m15-1h0m-62 16h0m2 4h0m10-9h0m10 1h0m12-1h0m25 4h0m3-4h0m-64 14h0m8 8h0m5-5h0m13 6h0m-42 6h0m26-1h0m50 4h0m15-3h0m-13 18h0m7-6h0m25 0h0m2-4h0m-123 18h0m11 3h0m90-6h0m14-2h0m15 5h0m-115 11h0m117-6h0m-122 21h0m-5 12h0m118-9h0m-121 15h0m7-1h0m9-2h0m80 11h0m42-1h0m-163 9h0m11 1h0m8-8h0m10 7h0m99-4h0m13 4h0m11 0h0m20 2h0m-139 3h0m89 5h0m7-3h0m7 8h0m-116 12h0m4-8h0m16-2h0m98 2h0m14 1h0m-131 15h0m17 0h0m11-5h0m4 5h0m23 3h0m15 1h0m38-4h0m-83 10h0m15-3h0m15 3h0m16 4h0m6-4h0m15-3h0m4 6h0m3 3h0m-68 7h0m9 1h0m2 1h0m9-6h0m4 1h0m14 5h0m24-6h0m-68 14h0m5 4h0m12 0h0m12 3h0m-13 11h0m28-3h0"/>
<path class="d" transform="scale(.5)" stroke="#b8996e" stroke-width="8" d="M801 -534h0m-28 17h0m29-10h0m-48 14h0m7 7h0m4 1h0m2-3h0m1-1h0m-30 7h0m2 7h0m8 1h0m3-3h0m71 3h0m0-7h0m7-1h0m2 5h0m2-6h0m2 6h0m0-5h0m-93 14h0m1 6h0m78 12h0m-69 9h0m69 3h0m-76 4h0m75 20h0m10-8h0m-18 16h0m2-4h0m11 7h0m-77 10h0m5-2h0m5 1h0m71-1h0m-66 17h0m30-4h0m-20 9h0m1 2h0m14-3h0m-23 16h0"/>
<path class="d" transform="scale(.5)" stroke="#ef6a45" stroke-width="8" d="M486 -842h0m-3 5h0m-37 13h0m2-1h0m56 5h0m-72 12h0m17 0h0m0 2h0m-13 15h0m-9 14h0m113-1h0m4 6h0m-112 8h0m102-4h0m-11 20h0m16-5h0m-113 19h0m1-5h0m2-4h0m-6 21h0m7 11h0m115-2h0m-7 15h0m5 1h0m0-1h0m-28 10h0m1 2h0m22-2h0m-104 11h0m11-1h0m31-3h0m46 3h0m19 0h0m-78 13h0m7-3h0m10 4h0m4-2h0m-29 15h0m4-2h0m8-6h0"/>
<path class="d" transform="scale(.5)" stroke="#ee9248" stroke-width="8" d="M577 -197h0m1-3h0m26 0h0m-10 9h0m35 15h0m44 3h0m-12 5h0m-115 24h0m-1 21h0m122 7h0m2-2h0m-25 21h0m-98 5h0m2 7h0m7-10h0m86 14h0m-64 16h0m-19 5h0m19 16h0m32-3h0"/>
<path class="d" transform="scale(.5)" stroke="#b05a28" stroke-width="8" d="M276 -615h0m7 2h0m15 0h0m-23 10h0m5-3h0m2-6h0m3 3h0m6-2h0m0 10h0m3 0h0m3-1h0m4-6h0m-49 10h0m5 0h0m11 5h0m4-2h0m14 1h0m0 2h0m0-1h0m3-1h0m4 2h0m1-8h0m0 2h0m0 7h0m22-9h0m6 7h0m-63 13h0m7-7h0m10 3h0m0 2h0m2 0h0m7-1h0m3-2h0m2 0h0m9 6h0m4-4h0m1 6h0m0-5h0m1 1h0m4-2h0m5 4h0m5-2h0m-72 16h0m2-5h0m7 3h0m1 1h0m4-4h0m6-2h0m2-2h0m1 7h0m1-7h0m1 7h0m0-7h0m2-1h0m3 4h0m5 3h0m3 0h0m0-7h0m2 9h0m0-7h0m0 2h0m1 4h0m1-6h0m2 5h0m9 3h0m1-7h0m1 5h0m5-6h0m6 0h0m0 1h0m1 0h0m6 6h0m2-6h0m6 1h0m-78 12h0m1-3h0m2 4h0m4-5h0m5 8h0m1-8h0m1 5h0m1 5h0m1-1h0m6-8h0m2 6h0m7 2h0m0-7h0m1 1h0m2 1h0m4 6h0m0-3h0m0-5h0m6-1h0m3 5h0m2-5h0m1 5h0m1-6h0m2-1h0m1 8h0m2 1h0m8-1h0m13-4h0m-83 11h0m1-1h0m3 4h0m2 2h0m4-3h0m8 5h0m4 0h0m6-10h0m7 2h0m2 0h0m2 5h0m4-7h0m4 5h0m6 6h0m4-3h0m3-8h0m2 4h0m9-2h0m0 2h0m9-2h0m-61 18h0m6-6h0m7-1h0m1 4h0m4-2h0m1 7h0m1-10h0m15 7h0m4-7h0m18 0h0m-55 12h0m13 0h0m5 2h0m9 1h0m4 4h0m1-1h0m1-1h0"/>
<path class="d" transform="scale(.5)" stroke="#845b9c" stroke-width="8" d="M232 -638h0m3-4h0m9 4h0m0-2h0m2-1h0m5 2h0m12 0h0m9-5h0m11-2h0m6 8h0m-45 9h0m1 1h0m8 2h0m1-3h0m11 2h0m5-9h0m9 5h0m3-2h0m4 5h0m1-4h0m18 5h0m5-7h0m-89 10h0m26 1h0m5 2h0m6 1h0m4-4h0m1 9h0m3-5h0m0-2h0m3 7h0m5-3h0m5-1h0m3-5h0m1 0h0m1 4h0m0 1h0m3 1h0m4-6h0m1 10h0m3-3h0m2-1h0m9-5h0m7 1h0m-67 16h0m7-6h0m17 5h0m13-1h0m4-2h0"/>
<path class="d" transform="scale(.5)" stroke="#845b9c" stroke-width="8" d="M144 -511h0m-15 8h0m18 6h0m-15 9h0m14 12h0m1 3h0m3-5h0"/>
<path class="d" transform="scale(.5)" stroke="#845b9c" stroke-width="8" d="M295 -422h0m0-5h0m0 6h0m6-9h0m22 8h0m3-1h0m-41 11h0m0 2h0m9-6h0m2 3h0m1 4h0m2-11h0m3 2h0m1 3h0m1 5h0m2-8h0m20-2h0m-61 14h0m10 6h0m6-1h0m3 4h0m5-10h0m12 7h0m3-6h0m2 2h0m9-3h0m1 6h0m0-5h0m4-1h0m0 9h0m2-7h0m2-2h0m4 6h0m4 4h0m-53 9h0m5-7h0m12 7h0m0-5h0m9 0h0m0 2h0m4 1h0m5 2h0m3-2h0m2 2h0m2-2h0m3-6h0m15 5h0m-66 8h0m22 9h0m0-3h0m2-7h0m6 2h0m2-1h0m0-1h0m2 0h0m1 3h0m4 8h0m3-9h0m4-2h0m3 4h0m0 6h0m4-10h0m4 5h0m7-2h0m-65 10h0m1 0h0m4 9h0m6-2h0m4-8h0m3 11h0m3-8h0m11 8h0m1-11h0m2 10h0m0-3h0m3 2h0m15-7h0m0 2h0m9 4h0m-33 12h0m7-5h0m0-3h0m9 5h0m7-4h0"/>
<path class="d" transform="scale(.5)" stroke="#b05a28" stroke-width="8" d="M84 -486h0"/>
<path class="d" transform="scale(.5)" stroke="#b05a28" stroke-width="8" d="M212 -519h0"/>
<path class="d" transform="scale(.5)" stroke="#b05a28" stroke-width="8" d="M299 -480h0"/>
<path class="d" transform="scale(.5)" stroke="#b05a28" stroke-width="8" d="M334 -444h0"/>
<path class="d" transform="scale(.5)" stroke="#ef6a45" stroke-width="8" d="M512 -664h0m1-4h0m9 0h0m7 3h0m-47 9h0m6 3h0m14 1h0m4-2h0m5 4h0m27-3h0m-67 6h0m4 2h0m21 6h0m3-5h0m15 0h0m1-2h0m3 7h0m3-1h0m-31 7h0m32 1h0m21-2h0m-19 11h0"/>
<path class="d" transform="scale(.5)" stroke="#a5cde3" stroke-width="8" d="M611 -646h0m-14 20h0m5-6h0m10 3h0m7-1h0m3 4h0m-30 7h0m4 5h0m6 1h0m0-2h0m4-3h0m5 1h0m3 2h0m3-3h0m2-6h0m-27 22h0m1 0h0m2-8h0m1 6h0m3-1h0m3-7h0m14 7h0m7-2h0m-35 12h0m11 2h0m13 0h0m4-4h0m3 3h0m3-1h0m-23 12h0"/>
<path class="d" transform="scale(.5)" stroke="#9bce92" stroke-width="8" d="M620 -698h0m-15 5h0m24-2h0m-19 22h0m10-5h0m3-6h0m-28 19h0m24-7h0m15 7h0"/>
<path class="d" transform="scale(.5)" stroke="#c1dcec" stroke-width="5.2" d="M592 -691h0m7 4h0m12-1h0m2-2h0m-29 6h0m5 10h0m4 1h0m22-11h0m1 9h0m0-2h0m-10 15h0m10-10h0m1 4h0m3-2h0m-37 21h0m8-11h0m14 11h0m3-8h0m6 6h0m1-2h0m6 4h0m23-6h0m-65 8h0m19 7h0m5-7h0m1 7h0m1-3h0m1 2h0m4-4h0m7 3h0m10-4h0m5 2h0m-48 16h0m20-5h0m1-3h0m-26 20h0m17-1h0m2 1h0m2-8h0m21 11h0"/>
<path class="d" transform="scale(.5)" stroke="#b7dbb0" stroke-width="5.2" d="M573 -649h0m39 12h0m-47 5h0m20 1h0m-66 17h0m47-6h0m5 7h0m44-2h0m-36 11h0m14-6h0m3-1h0m8 3h0m-116 17h0m21-8h0m23 9h0m15-7h0m5 3h0m9-4h0m16 9h0m3-1h0m13-10h0m9 3h0m6 1h0m-109 14h0m38 4h0m1 0h0m71 0h0m-72 9h0m1 2h0m4-3h0m20-3h0m1-1h0m29 18h0m13-5h0m15 6h0m-105 9h0m32 3h0m26-6h0m-48 12h0m11 7h0m3-8h0m19-2h0m5 11h0m8-3h0m29-2h0m-54 6h0m-35 21h0m5-3h0m15 0h0m50-5h0"/>
<path class="d" transform="scale(.5)" stroke="#b7dbb0" stroke-width="5.2" d="M732 -770h0m33-6h0m-31 36h0m17-2h0m9 3h0m2-5h0m52 2h0m-49 19h0m-36 13h0m82-4h0m11-4h0m-93 18h0m31-6h0m3 0h0m9 4h0m-88 10h0m26-3h0m20 2h0m27 4h0m16 1h0m45-4h0m-102 13h0m21-2h0m7-1h0m18 5h0m17-2h0m-97 14h0m109 1h0m15-2h0m8-4h0m-139 11h0m11 4h0m32 2h0m42 1h0m0 3h0m28-6h0m-93 10h0m37 8h0m34-3h0m13 2h0m4-2h0m25-2h0m1 5h0m-106 6h0m8-4h0m70 10h0m7-10h0m-74 14h0m38-3h0m10 19h0m-5 14h0m13-4h0m7-2h0m3 1h0m-84 9h0m52 0h0m13 3h0m12 4h0m-6 14h0m24-5h0"/>
<path class="d" transform="scale(.5)" stroke="#b8996e" stroke-width="8" d="M670 -615h0m11-2h0m6 0h0m-22 14h0m8 1h0m3-3h0m1 3h0m1-2h0m7-6h0m4 5h0m1 3h0m2-6h0m1 5h0m2-1h0m2-2h0m7-3h0m-51 18h0m14-3h0m8 3h0m1 0h0m0 2h0m1-6h0m1-2h0m5-1h0m8 3h0m4 4h0m3-2h0m0 1h0m2-4h0m1 1h0m3 5h0m6-3h0m-54 13h0m3-8h0m3 11h0m4 0h0m2-10h0m1 7h0m2-8h0m1 1h0m5 1h0m1 5h0m2-4h0m0 5h0m1-6h0m2 6h0m0-3h0m1 5h0m0-1h0m0-3h0m8-1h0m4-4h0m3-1h0m1 7h0m3 1h0m5-5h0m-41 14h0m1-5h0m0 1h0m3 3h0m3 6h0m1-10h0m5 7h0m0 4h0m5-10h0m1 8h0m3-3h0m2-2h0m10 0h0m-33 16h0m1-1h0m10 0h0m7-4h0m2 5h0m-4 7h0m0 1h0"/>
<path class="d" transform="scale(.5)" stroke="#9bce92" stroke-width="8" d="M698 -530h0m-25 10h0m6-4h0m26-1h0m-57 12h0m41 13h0m4 5h0m1-6h0m18 7h0m3-4h0m6 0h0m7-1h0m-54 8h0m0 8h0m9 2h0m9-7h0m23 0h0m0 6h0m4-9h0m-53 13h0m25-2h0m1 9h0m16-8h0m21 5h0m1-6h0m-64 16h0m9 5h0m23-2h0m1-3h0m-36 8h0"/>
<path class="d" transform="scale(.5)" stroke="#b8996e" stroke-width="8" d="M762 -557h0m1 2h0m0 2h0m9-8h0m4 4h0m4-4h0m3 4h0m1 1h0m5-6h0m-29 15h0m3-3h0m0 2h0m0-4h0m3 3h0m7-2h0m1 6h0m2-4h0m0 7h0m3 1h0m14-9h0m-33 10h0m2 3h0m16-3h0m0 2h0"/>
<path class="d" transform="scale(.5)" stroke="#b0522a" stroke-width="8" d="M679 -793h0m4 0h0m-9 1h0m4 2h0m1-2h0m2 5h0m0 1h0m2-1h0"/>
</g>
<path d="M321 102V539H758.5" fill="none" stroke="#4d4d4d" stroke-width="2" stroke-linejoin="round"/>
<path d="M838.9 103V539H1275" fill="none" stroke="#4d4d4d" stroke-width="2" stroke-linejoin="round"/>
<text transform="translate(499.94 104.60) scale(1.101 1)" font-size="21.74" font-weight="bold">Littoral</text>
<text transform="translate(524.39 125.80) scale(0.995 1)" font-size="21.74" font-weight="bold">EC</text>
<text transform="translate(591.40 109.20) scale(1.104 1)" font-size="21.74" font-weight="bold">Arterial</text>
<text transform="translate(617.49 129.60) scale(0.995 1)" font-size="21.74" font-weight="bold">EC</text>
<text transform="translate(366.07 167.10) scale(1.081 1)" font-size="21.74" font-weight="bold">Pericytes</text>
<text transform="translate(701.06 157.10) scale(1.078 1)" font-size="21.74" font-weight="bold">Capillary</text>
<text transform="translate(735.26 177.60) scale(1.016 1)" font-size="21.74" font-weight="bold">EC</text>
<text transform="translate(628.37 366.30) scale(1.041 1)" font-size="21.74" font-weight="bold">Venous EC</text>
<text transform="translate(384.07 401.60) scale(1.038 1)" font-size="21.74" font-weight="bold">VSMC</text>
<text transform="translate(524.38 433.60) scale(1.076 1)" font-size="21.74" font-weight="bold">Lymphatic</text>
<text transform="translate(567.31 454.40) scale(0.980 1)" font-size="21.74" font-weight="bold">EC</text>
<text transform="translate(340.73 523.90) scale(1.000 1)" font-size="50.72" font-weight="bold">A</text>
<text transform="translate(487.93 569.00) scale(0.988 1)" font-size="31.59" font-weight="bold">umap1</text>
<text transform="translate(308.00 320.70) rotate(-90) scale(1.004 1.070) translate(-51.18 0)" font-size="31.59" font-weight="bold">umap2</text>
<text transform="translate(1007.43 105.40) scale(1.111 1)" font-size="21.74" font-weight="bold">Littoral</text>
<text transform="translate(1032.57 125.70) scale(1.012 1)" font-size="21.74" font-weight="bold">EC</text>
<text transform="translate(1099.40 109.00) scale(1.100 1)" font-size="21.74" font-weight="bold">Arterial</text>
<text transform="translate(1125.42 129.30) scale(0.977 1)" font-size="21.74" font-weight="bold">EC</text>
<text transform="translate(874.18 167.00) scale(1.079 1)" font-size="21.74" font-weight="bold">Pericytes</text>
<text transform="translate(1209.06 157.00) scale(1.077 1)" font-size="21.74" font-weight="bold">Capillary</text>
<text transform="translate(1243.16 177.50) scale(1.016 1)" font-size="21.74" font-weight="bold">EC</text>
<text transform="translate(1135.47 366.00) scale(1.040 1)" font-size="21.74" font-weight="bold">Venous EC</text>
<text transform="translate(896.17 397.00) scale(1.049 1)" font-size="21.74" font-weight="bold">VSMC</text>
<text transform="translate(1031.38 432.90) scale(1.078 1)" font-size="21.74" font-weight="bold">Lymphatic</text>
<text transform="translate(1074.30 453.60) scale(0.991 1)" font-size="21.74" font-weight="bold">EC</text>
<text transform="translate(850.57 524.30) scale(0.918 1)" font-size="50.72" font-weight="bold">B</text>
<text transform="translate(1006.03 568.00) scale(0.984 1)" font-size="31.59" font-weight="bold">umap1</text>
<text transform="translate(826.30 320.80) rotate(-90) scale(1.001 1.070) translate(-51.18 0)" font-size="31.59" font-weight="bold">umap2</text>
<g transform="translate(30.1 1012.3) scale(0.745 0.755)">
<use href="#bgs"/><use href="#ycells"/><use href="#hole" fill="#fff"/>
</g>
<path class="d" transform="scale(.5)" stroke="#e4e2dd" stroke-width="6" d="M517 1420h0m-11 19h0m95 0h0m-215 7h0m147-3h0m89-3h0m13 16h0m17 6h0m2-5h0m6-1h0m-19 18h0m8-2h0m-154 8h0m63-2h0m81 7h0m17-1h0m3-4h0m-176 15h0m23-3h0m-2 10h0m34 1h0m70 4h0m17 3h0m5-4h0m2-4h0m-134 19h0m119-7h0m41 3h0m-167 17h0m133-2h0m23 0h0m4 0h0m-135 8h0m91 7h0m5-4h0m9 0h0m40 1h0m-151 8h0m-1 11h0m90 3h0m-59 16h0m31-8h0m47 6h0m12 2h0m-192 6h0m61 4h0m2-3h0m106-4h0m-81 15h0m7-1h0m25 18h0m83-3h0m-182 9h0m15-2h0m180 8h0m-5 7h0m-78 13h0m17 13h0m44-4h0m-20 24h0m30 6h0m-80 19h0m69 0h0m-119 162h0m-33 10h0m34 20h0m-18 13h0m-17 16h0m21-7h0m18 21h0m7-3h0m1 10h0m-12 17h0m-9 6h0m-17 9h0m18 3h0"/>
<path class="d" transform="scale(.5)" stroke="#fff0de" stroke-width="6" d="M407 1425h0m197 11h0m7 0h0m9 1h0m-124 11h0m8-4h0m81-2h0m40 2h0m7 7h0m-89 8h0m35 2h0m41-2h0m2 4h0m6-1h0m2-3h0m19-3h0m17 6h0m-260 12h0m211-8h0m4 0h0m1 2h0m19 2h0m6 3h0m2-4h0m8 0h0m-145 15h0m16 1h0m56-2h0m8 1h0m16 3h0m16-4h0m36-6h0m-52 18h0m6 4h0m12 0h0m9-1h0m10 1h0m11-4h0m3-6h0m-277 11h0m216 10h0m13-6h0m12 3h0m11 4h0m9-2h0m9 2h0m4 0h0m0-8h0m0 4h0m5 0h0m-137 15h0m85 0h0m11-5h0m4-3h0m33-1h0m-103 17h0m48-2h0m8 0h0m12 4h0m41-6h0m-149 18h0m84-1h0m13-2h0m4-5h0m1 4h0m13 1h0m31-1h0m-202 12h0m85 2h0m6-2h0m3 3h0m80-4h0m15-2h0m12 0h0m11 3h0m-242 17h0m21 1h0m57-8h0m44-2h0m61 2h0m25 5h0m4-1h0m3 3h0m13 1h0m12-8h0m-243 12h0m12 7h0m28-4h0m34-4h0m69 0h0m16 0h0m44 0h0m2 5h0m7-3h0m25-2h0m5 2h0m-195 28h0m4 4h0m162-7h0m-182 14h0m53 0h0m36 4h0m13-7h0m61 1h0m23-4h0m-129 23h0m23-2h0m25-7h0m85 7h0m6 1h0m11-4h0m-1 7h0m-88 20h0m57-5h0m4 0h0m-167 9h0m159 7h0m1-7h0m-75 20h0m80-2h0m10 0h0m8-2h0m-18 9h0m4 6h0m5-5h0m7 3h0m-74 10h0m54 15h0m-390 8h0m290 152h0m-15 4h0m28 4h0m25 15h0m-55 11h0m32-7h0m18 2h0m10-2h0m-60 15h0m52-5h0m-88 23h0m17-10h0m32 2h0m-45 20h0m4 0h0m28-11h0m11 10h0m12-7h0m4 15h0m-14 7h0m11 1h0m-43 11h0m-8 14h0m9 1h0m22 0h0"/>
<path class="d" transform="scale(.5)" stroke="#fee5c5" stroke-width="6" d="M388 1414h0m10-5h0m19-2h0m-38 14h0m7-3h0m0 6h0m34 0h0m98 0h0m10-3h0m-155 18h0m2-2h0m3-2h0m136-2h0m7 4h0m8-7h0m-135 10h0m6 3h0m2 4h0m2 4h0m122 0h0m15-7h0m93 0h0m6 2h0m-248 6h0m184 7h0m4-5h0m6 5h0m2 2h0m8 1h0m6-4h0m9-1h0m6 6h0m5-9h0m12 8h0m10 0h0m5 0h0m9-4h0m3 5h0m2-5h0m-282 12h0m197 0h0m50-5h0m4 7h0m1-5h0m29 3h0m3-1h0m-273 11h0m15 5h0m1-5h0m85-2h0m2 9h0m56 0h0m8-5h0m8 2h0m45-7h0m11 3h0m2-4h0m8 6h0m14 2h0m2-3h0m8-3h0m-271 14h0m2 4h0m37 2h0m114-3h0m61-3h0m3-4h0m1 4h0m12-4h0m5 3h0m3 4h0m16-2h0m1-5h0m11 4h0m-274 12h0m2 7h0m25-2h0m7-3h0m28-6h0m18 7h0m9 1h0m18-8h0m4 8h0m10 3h0m10-11h0m4 2h0m64 9h0m6-11h0m35 7h0m1-4h0m11-3h0m15 4h0m11-4h0m2 3h0m-271 9h0m39 7h0m100-1h0m78-4h0m5 0h0m21-1h0m2 4h0m3-2h0m4-1h0m5 4h0m-230 7h0m3 1h0m7 3h0m122-3h0m52 0h0m15 3h0m3-3h0m2 2h0m4 2h0m12-2h0m2 5h0m5 0h0m13-1h0m8 1h0m-220 5h0m2 1h0m29-2h0m10 10h0m10-10h0m112-1h0m12 9h0m4-7h0m13-1h0m3 2h0m10 5h0m15 3h0m5 0h0m-229 11h0m4-4h0m4-3h0m0 8h0m16-8h0m26 7h0m44 0h0m71-9h0m14 10h0m1-9h0m15 6h0m2-5h0m4 7h0m1-2h0m0-5h0m5 3h0m5 1h0m1-4h0m10 7h0m0-7h0m3 3h0m2-3h0m-228 20h0m27-2h0m1-2h0m13-1h0m61-6h0m59 2h0m20 8h0m6 0h0m1-3h0m18-1h0m6 3h0m6-9h0m-193 22h0m1-9h0m22 5h0m8-4h0m13-1h0m5 4h0m21 5h0m74-5h0m10-3h0m21 8h0m7-3h0m7-5h0m6 3h0m-202 16h0m170-5h0m3 5h0m1-3h0m11-6h0m5 5h0m-149 15h0m38-8h0m57 7h0m34-7h0m19 11h0m9 0h0m-179 11h0m122-4h0m41-6h0m6 10h0m7-5h0m2-3h0m3 1h0m17 7h0m-62 12h0m14-8h0m7 1h0m18-2h0m3 1h0m5 7h0m-190 8h0m20 4h0m77 0h0m71-4h0m2-4h0m11 1h0m8 7h0m-461 8h0m274 2h0m119-7h0m34 11h0m2-4h0m7-6h0m7 2h0m5 1h0m6 4h0m5 0h0m3-7h0m-127 18h0m27 3h0m61 1h0m6-8h0m17 1h0m11 6h0m-24 2h0m9 6h0m7 0h0m-84 10h0m21 4h0m47-3h0m17-2h0m0 6h0m-94 4h0m9 8h0m69 0h0m1-8h0m1 4h0m0 8h0m-393 33h0m271 133h0m-22 1h0m35 8h0m3-1h0m5 1h0m14-1h0m-20 5h0m6 9h0m6 1h0m4 1h0m13 0h0m7-8h0m-41 11h0m20 3h0m3 1h0m12-5h0m5 16h0m6-4h0m6 3h0m-47 15h0m1-6h0m7 8h0m-61 9h0m39 16h0m11-1h0m-35 12h0m43-7h0m-1 14h0m-46 8h0m8 7h0m25-1h0"/>
<path class="d" transform="scale(.5)" stroke="#fdd6a7" stroke-width="6" d="M406 1402h0m18 0h0m-21 8h0m110 5h0m-131 2h0m2 4h0m3-1h0m5 1h0m3-5h0m2 6h0m1 2h0m3-6h0m8 3h0m10-5h0m78 10h0m28-6h0m3-2h0m4 7h0m-164 14h0m9-8h0m1-2h0m19 3h0m4-3h0m10 4h0m3-5h0m13 9h0m96 2h0m66-3h0m-221 10h0m10-6h0m0 7h0m4 0h0m2-3h0m16 7h0m13 0h0m96-7h0m25 7h0m6-5h0m72-2h0m8-1h0m4 8h0m5-8h0m12 8h0m-274 1h0m1 9h0m17 0h0m6 0h0m2-7h0m2-2h0m3 10h0m147 0h0m11-3h0m48 4h0m22-9h0m4 0h0m14 0h0m1 3h0m6 2h0m5-3h0m-285 18h0m1-5h0m6 3h0m9-6h0m4 0h0m11 4h0m6 3h0m6-4h0m84 4h0m90-7h0m9 4h0m6-5h0m20 8h0m15 1h0m4-8h0m10 3h0m-267 8h0m5 8h0m6-5h0m1-4h0m6 1h0m3 0h0m8 0h0m2 7h0m36-4h0m66-3h0m38 4h0m37-1h0m9-1h0m10 2h0m11-3h0m4 4h0m4 3h0m4-9h0m0 9h0m2-4h0m2-5h0m2 4h0m2 4h0m9 0h0m1-4h0m-268 19h0m4-6h0m4-4h0m7-1h0m6 4h0m27 0h0m16-4h0m40 3h0m10-2h0m41 9h0m21-5h0m4-2h0m52 7h0m21-3h0m7-7h0m-264 18h0m2-2h0m3 4h0m1-5h0m6 4h0m5-1h0m15-2h0m4-1h0m47-3h0m23 4h0m12-1h0m12 6h0m9-5h0m12 4h0m27-5h0m10-1h0m6 4h0m17 2h0m19 3h0m2-4h0m3-5h0m18 4h0m4 4h0m2-2h0m1-5h0m10-1h0m7 9h0m-269 3h0m8 3h0m9 6h0m7-5h0m3-5h0m1 8h0m0-2h0m3-6h0m7 8h0m5 0h0m35-7h0m47 6h0m23-6h0m11 1h0m78-1h0m1 5h0m15-2h0m19-2h0m-257 18h0m3-4h0m7-1h0m11-3h0m78 8h0m16-5h0m11 5h0m5-7h0m19-2h0m30 4h0m12 1h0m11-5h0m19 4h0m5 1h0m2-4h0m3 1h0m2 9h0m11-6h0m-191 8h0m31 8h0m1 2h0m4 0h0m7-10h0m21 7h0m15-1h0m16 0h0m93-2h0m1-5h0m4 3h0m1-3h0m7 0h0m-223 19h0m62 0h0m4-3h0m17 0h0m6 2h0m2 5h0m33-4h0m14 4h0m67-11h0m6 10h0m4-9h0m18 9h0m-235 3h0m20 6h0m5-1h0m26 3h0m54-7h0m2 5h0m110-3h0m5 1h0m3 6h0m10-6h0m-229 11h0m19-2h0m17 8h0m4-7h0m10 5h0m19-6h0m65 7h0m11-5h0m18 2h0m11-4h0m20 4h0m1 3h0m1-4h0m14 1h0m-208 9h0m13-2h0m11 1h0m121 3h0m63-4h0m-196 18h0m8 1h0m45-5h0m36 1h0m93-4h0m-134 15h0m17 8h0m33-3h0m68-8h0m5 0h0m1 2h0m21 1h0m-83 18h0m18-7h0m36 3h0m10-3h0m1 9h0m18-5h0m-188 7h0m77 7h0m9 0h0m18-3h0m41-3h0m31-1h0m5 4h0m25-4h0m-122 18h0m5 4h0m2-4h0m19 0h0m25 0h0m22 1h0m19 3h0m7-3h0m5-3h0m-153 11h0m7-4h0m59 3h0m84 8h0m12-11h0m-125 15h0m11 4h0m14 0h0m30 0h0m36-5h0m13 0h0m9 8h0m3-1h0m-24 5h0m2 4h0m3 2h0m0-7h0m4 8h0m8-4h0m-78 8h0m9 1h0m55-2h0m8 8h0m1-7h0m5 7h0m0 3h0m2-3h0m-22 4h0m7 4h0m-132 167h0m3 5h0m70 10h0m2-3h0m-75 10h0m4 9h0m5-8h0m3 6h0m3-3h0m29-4h0m30 3h0m-89 16h0m5-7h0m7 4h0m9 4h0m56-7h0m13-1h0m-98 15h0m27 3h0m5 1h0m5-5h0m11 4h0m3 4h0m-33 12h0m38-11h0m-47 21h0m33 0h0m8-7h0m-43 18h0m3 0h0m17-8h0m4 9h0m34-3h0m-54 11h0m13 6h0m1-3h0m32 3h0m7-3h0m-28 5h0m-8 13h0m17 0h0"/>
<path class="d" transform="scale(.5)" stroke="#fdc592" stroke-width="6" d="M383 1414h0m8-1h0m9 1h0m1-7h0m3 7h0m5-1h0m2-3h0m15-3h0m9-1h0m3 3h0m-61 16h0m12-1h0m15-4h0m3-2h0m14 3h0m21-5h0m70 6h0m-147 9h0m1-2h0m7 3h0m1-4h0m9 8h0m3 3h0m3-10h0m0 4h0m3-5h0m3 8h0m8-3h0m2 2h0m1-6h0m1 2h0m0 8h0m2-4h0m100-6h0m4 6h0m-147 7h0m3 1h0m2 7h0m17-8h0m0 9h0m1-11h0m5 7h0m2-4h0m3-2h0m9 6h0m1 4h0m5-11h0m6 6h0m22 2h0m5-2h0m59 2h0m31 3h0m71-11h0m7 10h0m-248 4h0m0 3h0m4 0h0m4 0h0m4 1h0m12-3h0m14 3h0m3 3h0m4-2h0m0-5h0m3 8h0m5-8h0m85 9h0m10-5h0m21 3h0m14-4h0m66 2h0m14 4h0m-255 4h0m10 2h0m3 4h0m3 0h0m6-1h0m2-3h0m6-4h0m2 4h0m15 3h0m4 1h0m10-3h0m71-5h0m9 6h0m31 2h0m12-7h0m2 4h0m89-5h0m-278 20h0m2-3h0m10 5h0m4-6h0m7-5h0m6 7h0m4-3h0m14-4h0m6 3h0m4 6h0m3 0h0m14 0h0m3-2h0m6-2h0m38 3h0m26 1h0m10-5h0m81-4h0m37 2h0m-274 13h0m2 3h0m1-6h0m1 10h0m1-7h0m1 5h0m2-4h0m15 5h0m8-2h0m0-7h0m2 10h0m2-3h0m5-6h0m94 0h0m24 2h0m12 1h0m73 3h0m39-3h0m-277 16h0m18 2h0m12 0h0m5 0h0m10-8h0m1 5h0m178 3h0m24-3h0m-242 11h0m2-5h0m4 9h0m4-1h0m9-7h0m4 1h0m16 0h0m6 4h0m28-4h0m76 4h0m8 2h0m25 1h0m4-8h0m15 4h0m16-4h0m16 7h0m26 0h0m1-7h0m12 9h0m-262 6h0m12-4h0m5 5h0m8-1h0m28 3h0m45-4h0m6 1h0m23 5h0m21 0h0m24 1h0m31 0h0m45-6h0m10-1h0m-206 9h0m38 6h0m7-2h0m22-1h0m10-3h0m9 8h0m52 2h0m9-11h0m25 0h0m36 3h0m1-3h0m-219 14h0m8-2h0m18 7h0m4-5h0m11 0h0m7 2h0m29 2h0m40-4h0m2-2h0m3 4h0m2-4h0m22 10h0m29-10h0m1 6h0m15-4h0m-200 13h0m11 4h0m13-2h0m39-3h0m8 3h0m25 2h0m19-4h0m10 7h0m15-7h0m2 6h0m15-3h0m61-4h0m-416 16h0m215-1h0m5 4h0m93-3h0m6-3h0m8 1h0m48 5h0m7-4h0m18-2h0m28-2h0m-223 12h0m5 7h0m34 0h0m1-6h0m11 9h0m1-3h0m56-6h0m32 3h0m6 3h0m58-4h0m-189 15h0m0-6h0m3 4h0m59-5h0m9 4h0m102-4h0m13 7h0m-200 5h0m114 9h0m18 1h0m15-6h0m4 2h0m45-3h0m7 8h0m7-3h0m8 0h0m12 2h0m0-7h0m-208 17h0m59 1h0m12-4h0m1 4h0m17-6h0m1 8h0m38-1h0m8-8h0m44 8h0m1-8h0m1 4h0m2 3h0m16-3h0m-381 11h0m204 3h0m5-6h0m27 4h0m39-1h0m3 0h0m24 4h0m3-5h0m11-2h0m27 4h0m2 4h0m37-6h0m2 4h0m-130 4h0m25 8h0m44-7h0m1 10h0m46-10h0m10 4h0m-115 14h0m8 0h0m39-7h0m1 4h0m4-1h0m18 1h0m28-4h0m3 0h0m11 8h0m-94 10h0m14 1h0m15-5h0m22 1h0m17 3h0m3 5h0m0-7h0m10 7h0m12-10h0m-82 17h0m16 2h0m58-1h0m-66 6h0m49 6h0m-123 184h0m21-7h0m12 0h0m-46 15h0m2-3h0m7 5h0m6-6h0m7-3h0m42 6h0m9-1h0m6 4h0m-92 12h0m6-5h0m6-2h0m27-1h0m33 4h0m8 0h0m11 3h0m-84 11h0m5-7h0m3 8h0m5-8h0m8 1h0m20-1h0m6 1h0m2 5h0m6-5h0m-70 17h0m9 5h0m8-2h0m5-6h0m21 4h0m2 3h0m0-5h0m19-5h0m-62 12h0m56 6h0m4 2h0m-56 6h0m8 8h0m6-3h0m10-2h0m5-3h0m23 4h0m3-3h0m-51 15h0m2-6h0m49 4h0m4 4h0m-35 11h0m0-6h0m15 0h0m3 0h0m-30 13h0m11-2h0m2 10h0m21-5h0m15-2h0m-16 12h0"/>
<path class="d" transform="scale(.5)" stroke="#fcad79" stroke-width="6" d="M432 1402h0m-36 5h0m10 3h0m3-3h0m4 0h0m15 4h0m6-1h0m2 5h0m71-2h0m-134 11h0m1-2h0m21 3h0m4-4h0m3 3h0m9-7h0m1 7h0m29 0h0m65-7h0m-141 19h0m3-4h0m13 0h0m3-4h0m1 5h0m11-4h0m17 7h0m17-1h0m4-6h0m2 6h0m66 4h0m43 0h0m-170 3h0m3 8h0m1-8h0m11 5h0m1-4h0m8 4h0m11-4h0m24-1h0m2 4h0m2-2h0m9 0h0m58 7h0m21-11h0m10 8h0m9 0h0m7-5h0m58 8h0m-237 10h0m4-6h0m3 8h0m2-9h0m3 1h0m12-1h0m3 3h0m2 4h0m32-3h0m6 1h0m9 0h0m70 3h0m-150 5h0m8 3h0m3-4h0m4 1h0m13-2h0m4 8h0m7-8h0m13 2h0m9-1h0m18-1h0m73 9h0m9-1h0m9-4h0m13 1h0m17-3h0m48 3h0m-245 7h0m5-1h0m1 9h0m1-5h0m1-2h0m2 4h0m3 3h0m4-9h0m4 9h0m3 2h0m2-2h0m3-3h0m11 1h0m13-7h0m7 0h0m14 1h0m5 10h0m4-4h0m106-6h0m85 3h0m-264 15h0m6-7h0m6 10h0m4 1h0m1-8h0m4 7h0m7-10h0m1 4h0m15 4h0m2-4h0m0 7h0m9 0h0m76-1h0m1-7h0m3 4h0m20-3h0m1-4h0m17 8h0m-172 14h0m7-10h0m2 2h0m9 1h0m8 0h0m6 3h0m3 3h0m9-7h0m11 0h0m3 5h0m30-1h0m39 0h0m9 1h0m6-3h0m21 0h0m9-2h0m1 9h0m17-7h0m19-4h0m28 10h0m-229 8h0m0-6h0m7 1h0m1 7h0m2-1h0m2 3h0m8-1h0m1-6h0m8 6h0m9-6h0m84-1h0m9 5h0m34-6h0m28 8h0m-187 4h0m5 5h0m7 3h0m1-7h0m12-1h0m23 3h0m60 1h0m15-5h0m4 2h0m3 4h0m7 3h0m18 1h0m-113 6h0m16-4h0m74 4h0m13 0h0m11-4h0m20 10h0m6-2h0m40 3h0m-183 1h0m4 4h0m46-4h0m28 3h0m3 5h0m19 3h0m29-1h0m33-4h0m2-3h0m-153 12h0m14 6h0m2-9h0m18 11h0m19-2h0m15-6h0m74-1h0m20 5h0m5-2h0m-169 15h0m39 1h0m8 0h0m88-7h0m0 3h0m20-3h0m21-1h0m5 8h0m-198 6h0m19-2h0m31 7h0m13-6h0m80 5h0m12-2h0m17 0h0m14 6h0m3-6h0m21 4h0m6-4h0m-185 15h0m62 3h0m7-3h0m28-4h0m48 2h0m1-6h0m-149 12h0m76 3h0m3-1h0m10 4h0m16 3h0m19-3h0m54 1h0m27 3h0m-135 11h0m19-4h0m3 1h0m3 3h0m2-4h0m1-2h0m10-1h0m61 9h0m28-6h0m5-4h0m4 10h0m-158 6h0m6-3h0m11 4h0m28-6h0m9 8h0m12 2h0m26-8h0m5 6h0m0-7h0m1 4h0m27-1h0m18 4h0m6-7h0m-170 14h0m43 6h0m2-1h0m9-7h0m6-1h0m7 1h0m6-1h0m7 0h0m5 1h0m14 4h0m6-2h0m23 4h0m5-5h0m4 6h0m2-3h0m9 6h0m1-2h0m4-8h0m-109 18h0m13-7h0m3 6h0m21-2h0m2 4h0m2-5h0m5-1h0m7 0h0m11 6h0m40-1h0m5-1h0m2-3h0m6 3h0m1-2h0m5 6h0m-106 4h0m18 7h0m5 0h0m24 2h0m23 0h0m5-8h0m28 0h0m-96 11h0m4-1h0m5 2h0m54 2h0m9 5h0m-57 3h0m1 8h0m2-5h0m11 2h0m8-5h0m34 0h0m16 3h0m-11 18h0m-88 159h0m-60 20h0m5-7h0m66 1h0m2 0h0m9 8h0m-88 10h0m4-9h0m48 9h0m17 0h0m9 1h0m4-2h0m-73 9h0m31 6h0m-15 6h0m34 6h0m-54 4h0m6 4h0m15 4h0m2-5h0m6-6h0m8 6h0m10-3h0m-16 11h0m-26 14h0m8 5h0m2-3h0m10-4h0m4 6h0m14-7h0m1 5h0m-30 13h0m8-3h0m14 5h0m14-1h0m3-8h0m3 10h0m5-3h0m2-6h0m-21 17h0m-11 7h0m2 3h0"/>
<path class="d" transform="scale(.5)" stroke="#fb905d" stroke-width="6" d="M401 1403h0m19-1h0m-24 11h0m42 1h0m-56 11h0m8-8h0m9-1h0m15 8h0m2-4h0m7 5h0m2-4h0m4-5h0m5 8h0m6-2h0m-59 17h0m12-3h0m7 0h0m8-7h0m11 3h0m1 7h0m16-7h0m6 1h0m74 2h0m34 4h0m-177 8h0m3 3h0m36-10h0m16 0h0m2 11h0m14 0h0m71-4h0m-142 7h0m3 7h0m7-9h0m3 6h0m5 0h0m3 5h0m2-5h0m26-6h0m0 6h0m2-5h0m8 0h0m4 2h0m8 7h0m71-7h0m-131 19h0m5-5h0m5 0h0m7-3h0m10 2h0m6-3h0m11 5h0m5-1h0m5-4h0m6 8h0m0-8h0m74 5h0m14-2h0m1-3h0m42 5h0m-194 14h0m30-8h0m13 9h0m7 2h0m4-6h0m7 4h0m89-7h0m19 3h0m-158 14h0m9 0h0m2-3h0m18 7h0m1-3h0m38-1h0m55-7h0m4 4h0m32 5h0m-161 10h0m6-5h0m5 8h0m2-3h0m1-4h0m2 3h0m5-6h0m8 8h0m2 1h0m5 1h0m8 0h0m3-4h0m7-4h0m2 5h0m1 3h0m1-7h0m3 7h0m72-2h0m29-1h0m13 0h0m-184 8h0m24 3h0m5 0h0m12 0h0m41-4h0m7-2h0m40 10h0m13-8h0m15 4h0m7-4h0m4 7h0m13-7h0m13 0h0m47 8h0m-229 3h0m38 0h0m85 8h0m26-9h0m16 5h0m5 0h0m8 1h0m31 3h0m-97 14h0m22-10h0m29 7h0m5-7h0m5 7h0m7-1h0m2-6h0m2 3h0m6-3h0m15 4h0m45 3h0m-189 8h0m14 6h0m8 0h0m53-3h0m36-6h0m3 6h0m1-4h0m7-1h0m7 2h0m7-4h0m23 10h0m1-7h0m-169 16h0m13-7h0m11 2h0m6 1h0m55 3h0m12 3h0m32-2h0m4 0h0m10 2h0m-122 12h0m16-2h0m55-5h0m67 0h0m-155 14h0m18 7h0m1-7h0m31-3h0m8 10h0m77-10h0m17 8h0m11-2h0m-89 12h0m60-7h0m2 4h0m-30 15h0m8-1h0m7-4h0m26 2h0m3-4h0m3 7h0m6-4h0m2 4h0m19 0h0m-127 11h0m5 4h0m9-8h0m57 8h0m39-4h0m11 0h0m-129 10h0m6 0h0m7 2h0m13 2h0m11 0h0m3-2h0m4-2h0m6-4h0m3 5h0m12-1h0m27 4h0m5-4h0m4 6h0m3-6h0m17 2h0m2-4h0m5-2h0m2 4h0m1-3h0m5 1h0m4 6h0m-149 11h0m5-2h0m45 6h0m10-6h0m4-1h0m8 0h0m3 7h0m21-2h0m18-1h0m47 0h0m-116 15h0m9 0h0m15-8h0m17-3h0m7 8h0m5-8h0m11 10h0m2-3h0m14 0h0m6-3h0m22 7h0m17-9h0m-125 15h0m9 4h0m13-6h0m9-1h0m6 5h0m9-2h0m6-2h0m10 1h0m23 2h0m9 0h0m-66 12h0m6-5h0m3 1h0m5 1h0m9-2h0m1 3h0m3-1h0m-15 17h0m5-6h0m67 3h0m-6 8h0m-138 166h0m-6 1h0m14 22h0m32-5h0m7 5h0m5-4h0m-19 11h0m29-3h0m9 1h0m-98 9h0m8 5h0m1-5h0m28 4h0m-35 16h0m8 1h0m10-2h0m-9 8h0m15 19h0m8 0h0m13 1h0m1-9h0m17-1h0m-34 15h0m14 5h0m12-3h0m-23 6h0m2 4h0m28-1h0m-23 15h0m15 5h0m4-8h0"/>
<path class="d" transform="scale(.5)" stroke="#f2704e" stroke-width="6" d="M389 1411h0m31 0h0m4-1h0m2 3h0m-55 14h0m43-9h0m17 3h0m3 0h0m3 3h0m86 1h0m-136 11h0m7-5h0m22 2h0m2 3h0m8-7h0m8 10h0m4 0h0m5-4h0m55-4h0m4 1h0m18-1h0m9 5h0m-112 8h0m7 2h0m3-3h0m3 0h0m3 4h0m9-6h0m5 9h0m131-7h0m6-3h0m-180 15h0m5 4h0m8-1h0m8 5h0m2-2h0m19-6h0m3 8h0m75-6h0m3-2h0m8 1h0m13-1h0m-134 11h0m5 4h0m5-1h0m2-3h0m4 7h0m15-4h0m2 4h0m4 0h0m0-7h0m-14 12h0m1 2h0m6 0h0m56-3h0m36 0h0m9 7h0m-131 12h0m2-4h0m8-1h0m11 4h0m14-3h0m2 3h0m4-4h0m4-2h0m63 3h0m5 1h0m12-2h0m10 1h0m9 7h0m-130 8h0m7-4h0m19 3h0m6 3h0m1-6h0m3 4h0m2-7h0m3 4h0m47 6h0m0-6h0m11-4h0m16 9h0m5 1h0m1-10h0m5 0h0m32 11h0m-192 2h0m38 1h0m99 9h0m4-2h0m6-8h0m0 4h0m2 3h0m20-1h0m8 3h0m3 0h0m-175 7h0m1-3h0m126 6h0m21 2h0m1-6h0m3-2h0m29 2h0m8 1h0m-133 14h0m27-2h0m31-3h0m21 2h0m7-2h0m11 3h0m35-5h0m2 7h0m1-3h0m-124 15h0m129 0h0m32-1h0m-144 12h0m40-6h0m37 6h0m52 3h0m5-4h0m-185 8h0m65 9h0m60-2h0m27 0h0m17 2h0m21 0h0m1-5h0m-201 7h0m86 8h0m49-3h0m32 4h0m2-4h0m29 3h0m2-3h0m-196 11h0m132 4h0m32-4h0m5-4h0m2 4h0m3-3h0m10 4h0m-70 10h0m67-3h0m14 11h0m14-8h0m0 8h0m-131 4h0m17 0h0m10 2h0m12 5h0m12-1h0m12-3h0m23 3h0m12 0h0m5-7h0m9 1h0m27 3h0m-100 12h0m15-5h0m25 0h0m0 9h0m26 0h0m5-9h0m-116 20h0m15-1h0m0-7h0m18 10h0m1-7h0m20 1h0m4 6h0m9 0h0m7-10h0m3 4h0m3 3h0m29 1h0m6-6h0m-108 9h0m37 4h0m27 6h0m5-3h0m11 4h0m22-8h0m10-3h0m23 10h0m-109 12h0m7-5h0m7 4h0m26 1h0m3-1h0m41-9h0m-81 14h0m12 7h0m3-4h0m10 3h0m7-2h0m6 3h0m45-4h0m-60 15h0m1-8h0m-63 192h0m26 5h0m6 6h0m-40 10h0m0-7h0m10 4h0m23 2h0m9-7h0m35 1h0m-89 18h0m55 3h0m3-2h0m30 0h0m-79 13h0m84-10h0m-59 20h0m-17 6h0m1 8h0m16 2h0m-20 13h0m22 0h0m16-1h0m-33 22h0m23 1h0"/>
<path class="d" transform="scale(.5)" stroke="#e55239" stroke-width="6" d="M411 1403h0m3 0h0m-21 7h0m13-5h0m8 8h0m1-4h0m3 4h0m13 0h0m-14 14h0m8-10h0m78 4h0m15-3h0m-97 19h0m11-4h0m6-5h0m6 0h0m71 11h0m19-2h0m-131 3h0m14 11h0m6-8h0m1-3h0m5 7h0m9 4h0m87-7h0m7-4h0m-125 14h0m34 7h0m3-3h0m94 0h0m16-3h0m-136 19h0m94-1h0m12-2h0m6-6h0m-94 20h0m12-5h0m7-2h0m67 6h0m13 1h0m12-4h0m-128 12h0m2-5h0m5 1h0m20 2h0m2 5h0m8-1h0m0-7h0m98 0h0m2 3h0m4-2h0m-131 13h0m2 8h0m22-6h0m11 6h0m2-7h0m59 7h0m7-10h0m8 7h0m-8 6h0m15 4h0m4 2h0m-36 11h0m22-1h0m23 3h0m21 1h0m-44 3h0m11 1h0m21 10h0m17-6h0m7-2h0m-133 10h0m51 0h0m22 7h0m31-2h0m5 5h0m9-1h0m17 1h0m-31 10h0m9 0h0m20 2h0m5-1h0m7-4h0m-164 16h0m117-9h0m10 4h0m3 3h0m16-7h0m10 1h0m18 3h0m-147 7h0m95 2h0m36-2h0m3 1h0m31 7h0m-54 12h0m9-8h0m21 7h0m17 0h0m-67 12h0m20 4h0m8-2h0m4-6h0m21 8h0m14-1h0m3-1h0m7-3h0m-117 11h0m9-3h0m31 7h0m9 0h0m8 2h0m13-10h0m31 1h0m26 1h0m-160 15h0m28-4h0m1 4h0m47-5h0m9 1h0m3 6h0m11-2h0m26-1h0m32 4h0m-133 14h0m23-3h0m7-5h0m19-3h0m17 0h0m4 5h0m71 6h0m-114 3h0m41 8h0m8-7h0m4 7h0m-62 5h0m8-1h0m4 1h0m7-3h0m2 9h0m3-3h0m4 3h0m33 0h0m-46 9h0m3-4h0m19 8h0m10-4h0m8 7h0m45 3h0m-144 198h0m87-4h0m-43 38h0m-24 52h0m2 10h0m34-7h0"/>
<path class="d" transform="scale(.5)" stroke="#d12b1c" stroke-width="6" d="M414 1400h0m14 2h0m-6 4h0m-10 14h0m16 4h0m8-6h0m79 0h0m-91 14h0m4 0h0m4-3h0m13 3h0m-34 15h0m2-3h0m30-1h0m4-3h0m90 0h0m-121 15h0m4 8h0m9-4h0m0-5h0m8 8h0m72-7h0m11 3h0m10-6h0m-95 14h0m3 7h0m12-5h0m71-2h0m21 1h0m-124 13h0m4 0h0m7-4h0m2 4h0m19-4h0m58 5h0m38 6h0m-130 12h0m14-4h0m5-7h0m2 3h0m1 5h0m6 0h0m13 2h0m1-6h0m62-4h0m4 0h0m6 7h0m5 3h0m8-10h0m-111 12h0m11 11h0m12-8h0m0-3h0m73 4h0m23 0h0m-126 17h0m102-1h0m29-2h0m16 0h0m-17 14h0m12-7h0m-26 20h0m4-7h0m28 3h0m5-5h0m16 10h0m-125 8h0m92-4h0m18 1h0m7 4h0m3-4h0m-26 12h0m39 6h0m13-7h0m-44 14h0m17 6h0m1-5h0m3-3h0m-22 14h0m47 7h0m-14 12h0m1-7h0m11 1h0m-81 13h0m17-6h0m52 3h0m17 3h0m-121 15h0m38-8h0m90 6h0m14-5h0m-118 32h0m30 1h0m10-3h0m-38 8h0m21-2h0m46-2h0m-45 17h0m27-2h0m9 7h0m-45 3h0m1 5h0m39-1h0m-18 18h0m-4 1h0m78 5h0m-60 201h0m-87 26h0m-3 31h0m12 20h0m32-4h0"/>
<path class="d" transform="scale(.5)" stroke="#b30905" stroke-width="6" d="M422 1414h0m11 4h0m-12 10h0m18 8h0m59 3h0m34-6h0m-118 15h0m11 3h0m2 8h0m6 4h0m8-8h0m-7 19h0m8-5h0m82 3h0m-111 9h0m6 3h0m22-8h0m4 11h0m68 0h0m-94 1h0m19 0h0m9 11h0m2-1h0m-17 8h0m19 0h0m6 3h0m-3 5h0m123 4h0m1 3h0m-15 13h0m1 6h0m-10 16h0m51 3h0m-79 4h0m-68 18h0m138 1h0m-17 7h0m16 4h0m2-1h0m15-8h0m3 9h0m-23 4h0m32 17h0m20-4h0m-83 15h0m43 2h0m28 2h0m-125 12h0m15 0h0m1-7h0m31-1h0m60 7h0m-103 8h0m10-4h0m41 5h0m28 4h0m-15 4h0m22 0h0m0 2h0m-19 11h0m-36 19h0"/>
<path class="d" transform="scale(.5)" stroke="#8f0000" stroke-width="6" d="M435 1450h0m87-2h0m-11 22h0m-64 56h0m112-2h0m-119 21h0m87-1h0m34 0h0m21-5h0m0 15h0m-6 23h0m38 13h0m-47 32h0m-27 19h0m37-4h0m10-4h0m-2 18h0m-50 12h0m47 3h0m-2 9h0m-70 203h0"/>
<path d="M30.1 684.8V1012.6H357.7" fill="none" stroke="#555" stroke-width="1.7" stroke-linejoin="round"/>
<text transform="translate(39.72 705.20) scale(1.117 1)" font-size="31.45" font-weight="bold">NOS3</text>
<text transform="translate(48.89 999.00) scale(1.038 1)" font-size="50.72" font-weight="bold">C</text>
<text transform="translate(154.59 1034.80) scale(0.988 1)" font-size="23.77" font-weight="bold">umap1</text>
<text transform="translate(20.10 848.60) rotate(-90) scale(1.011 1.085) translate(-38.50 0)" font-size="23.77" font-weight="bold">umap2</text>
<rect x="122" y="1057" width="214.2" height="16.6" fill="url(#cb)"/>
<text x="117.09" y="1093.30" font-size="17.68" fill="#111">0</text>
<text x="182.87" y="1093.30" font-size="17.68" fill="#111">1</text>
<text x="247.59" y="1093.30" font-size="17.68" fill="#111">2</text>
<text x="312.74" y="1093.30" font-size="17.68" fill="#111">3</text>
<path d="M188 1057v3M188 1073.6v-3M252.5 1057v3M252.5 1073.6v-3M317.6 1057v3M317.6 1073.6v-3" stroke="#fff" stroke-opacity=".45" stroke-width="1" fill="none"/>
<g transform="translate(424.5 1014.1) scale(0.745 0.755)">
<use href="#bgs"/><use href="#ocells"/><use href="#hole" fill="#fff"/>
</g>
<path class="d" transform="scale(.5)" stroke="#e4e2dd" stroke-width="6" d="M1323 1423h0m0 11h0m-40 19h0m27 6h0m88-2h0m-82 13h0m61 16h0m14 11h0m12 0h0m48-7h0m-175 21h0m58-11h0m-50 20h0m159-1h0m-179 10h0m116-5h0m-102 21h0m37 0h0m104 0h0m34 0h0m-226 3h0m18 0h0m11 5h0m4-1h0m19 3h0m30-7h0m33 4h0m15-4h0m54 11h0m18-11h0m12 11h0m-149 11h0m97-2h0m8-1h0m27-6h0m37 3h0m-174 17h0m29-6h0m130 3h0m-194 11h0m9-4h0m9 15h0m109 4h0m-109 4h0m9 1h0m14 8h0m102-7h0m43-1h0m-169 18h0m35-6h0m127 10h0m-196 3h0m201 7h0m-152 4h0m162 8h0m1-8h0m-203 11h0m14 11h0m168-5h0m5-4h0m6 0h0m-46 18h0m63-5h0m-35 38h0m14-4h0m-146 186h0m-19 56h0"/>
<path class="d" transform="scale(.5)" stroke="#fff0de" stroke-width="6" d="M1275 1416h0m22 7h0m5-1h0m13 1h0m29 13h0m47-6h0m-96 19h0m16-9h0m51 4h0m19 0h0m-82 11h0m15-3h0m22 7h0m-25 5h0m23 3h0m13 1h0m66-2h0m33 5h0m9 3h0m-170 3h0m6 9h0m69-4h0m42 4h0m13 1h0m23-6h0m5 1h0m-370 8h0m213 3h0m71 4h0m6-5h0m15-2h0m3 2h0m33 0h0m41 3h0m-251 13h0m83 3h0m32-10h0m11 2h0m1 8h0m37-10h0m17 8h0m63-7h0m-199 18h0m63-5h0m59 8h0m15-11h0m26 6h0m24-3h0m-203 19h0m6-5h0m13 0h0m113-2h0m10-3h0m-145 14h0m17-1h0m1 3h0m11 0h0m1-2h0m15 2h0m5 0h0m26 1h0m15 1h0m30 0h0m11 4h0m48-2h0m27-7h0m22 3h0m-197 8h0m6 4h0m32-4h0m11 5h0m15 2h0m51-2h0m10-4h0m15 3h0m43 0h0m10-2h0m-247 18h0m46 2h0m11-10h0m15 8h0m11-1h0m8 0h0m8 0h0m9 1h0m2-5h0m107 1h0m32 3h0m-150 15h0m52-7h0m46 6h0m0-3h0m-191 15h0m6 1h0m16 1h0m65-2h0m4-8h0m1 9h0m32-1h0m6-6h0m2 2h0m68-3h0m9 5h0m37-5h0m-245 14h0m7-2h0m8 7h0m30-7h0m3-1h0m3 10h0m12-2h0m45-1h0m32 2h0m26-8h0m22-1h0m34 0h0m4 1h0m-197 14h0m5 4h0m27-7h0m33 0h0m2 3h0m22-1h0m3 4h0m13-3h0m10 1h0m62 3h0m8-8h0m7 3h0m-181 13h0m4-1h0m2 3h0m74-3h0m13-1h0m9 2h0m7 0h0m21 4h0m46-8h0m-193 22h0m44 1h0m8-1h0m10 1h0m21-8h0m11 0h0m92-1h0m-70 16h0m53 2h0m48 0h0m-199 6h0m98-1h0m12 4h0m46 0h0m33-4h0m6 10h0m3-11h0m-188 19h0m18-7h0m40 4h0m33 3h0m18-4h0m37-3h0m25 4h0m5-4h0m3 10h0m7-3h0m12 1h0m-121 14h0m10-6h0m15-4h0m45 11h0m6-6h0m7 6h0m5-7h0m7-2h0m18 1h0m3 0h0m-132 14h0m3-3h0m15 7h0m14-6h0m54 3h0m22 1h0m5-6h0m13 1h0m-21 14h0m11-2h0m8 6h0m0-7h0m-114 11h0m-68 171h0m46 8h0m-59 9h0m1 1h0m57-6h0m43 7h0m-21 8h0m1-3h0m16 19h0m4-9h0m-22 16h0m-76 15h0m53 3h0m-31 23h0m27-7h0m-19 11h0"/>
<path class="d" transform="scale(.5)" stroke="#fee5c5" stroke-width="6" d="M1276 1418h0m13 8h0m9 0h0m8-5h0m15 4h0m-149 12h0m108-5h0m4 6h0m3-7h0m2 6h0m4-8h0m2 9h0m26-5h0m10 4h0m8 0h0m43 0h0m7-4h0m18-2h0m-240 15h0m114 3h0m4-5h0m5-4h0m13 0h0m6 4h0m3 4h0m76-7h0m15 3h0m12-3h0m20 4h0m-258 10h0m105 8h0m23-11h0m16 10h0m17-7h0m6-3h0m5 7h0m1 4h0m1-11h0m9 4h0m6-4h0m6 11h0m6-11h0m2 10h0m8-5h0m4-2h0m14 2h0m2 3h0m10 3h0m19-3h0m3 2h0m2-10h0m-156 12h0m3 10h0m12-6h0m6 3h0m12-5h0m6 6h0m24 2h0m15-10h0m11 11h0m2-6h0m43 5h0m7 0h0m7-6h0m-411 11h0m144 2h0m58-2h0m52-2h0m10 4h0m11 4h0m3-3h0m19-5h0m36 5h0m4-4h0m3 1h0m6 4h0m3 2h0m9-7h0m26-1h0m10 4h0m-172 16h0m27-7h0m8 6h0m3-3h0m20 0h0m14 4h0m5 0h0m8-8h0m4 7h0m15 0h0m97-3h0m4 4h0m-271 6h0m52 1h0m42 5h0m4-8h0m6 10h0m8-6h0m9-1h0m10 1h0m13-1h0m32 4h0m2-4h0m1-4h0m2 4h0m21-4h0m14 11h0m6-8h0m10-2h0m5 2h0m9 2h0m10 4h0m18-9h0m-388 12h0m153 6h0m76-4h0m4 9h0m6-11h0m2 7h0m4-1h0m3-5h0m2 7h0m5-4h0m4 0h0m2 3h0m3 3h0m9-7h0m14 4h0m13 1h0m2-4h0m16 3h0m12-1h0m6 5h0m1-7h0m5-1h0m39-2h0m-227 21h0m11-4h0m19 5h0m0-8h0m7 3h0m7-4h0m9 4h0m3 3h0m46 2h0m18-8h0m1 7h0m3-7h0m5-1h0m38 0h0m26 9h0m13-9h0m14 0h0m12 0h0m-244 16h0m6-5h0m3 8h0m7-2h0m16 2h0m4-8h0m3 5h0m10 4h0m9-1h0m4-7h0m12 0h0m1 6h0m3-3h0m5 3h0m9 1h0m16-7h0m22 7h0m22 0h0m54-5h0m12 1h0m21 5h0m-245 7h0m9-4h0m8 3h0m6-4h0m0 8h0m4 1h0m6-4h0m4 0h0m29 3h0m4-7h0m16 8h0m9-9h0m8 7h0m9-7h0m13 1h0m7 5h0m10 3h0m36-1h0m12 0h0m33 1h0m19-1h0m4 0h0m7-3h0m7-3h0m6 3h0m-248 12h0m30-2h0m9 2h0m10 3h0m16-4h0m11 3h0m10-3h0m8 6h0m6-10h0m14 1h0m21 0h0m38 7h0m30-5h0m6 4h0m5-4h0m10 1h0m4-1h0m-235 13h0m7-4h0m3 4h0m15 3h0m11-3h0m4-2h0m5 5h0m13-1h0m5-6h0m1 4h0m1 6h0m6-4h0m9 1h0m7 3h0m29-6h0m12 3h0m6 4h0m22-7h0m18-4h0m16 3h0m8 0h0m13 8h0m41-11h0m3 3h0m-237 14h0m12 2h0m8 2h0m3-8h0m6 6h0m10 0h0m1 2h0m19-6h0m11-1h0m23 7h0m3-7h0m34 8h0m15-8h0m3 0h0m14 8h0m17-8h0m9 5h0m34-5h0m-233 14h0m14 7h0m10-10h0m3 4h0m5 3h0m4-6h0m3 9h0m2-1h0m27-9h0m7 7h0m2-3h0m61-1h0m41-4h0m8 8h0m9-7h0m4 8h0m16 0h0m-224 3h0m5 1h0m22 9h0m2-10h0m7 3h0m5 1h0m7 1h0m5-1h0m4 1h0m8 0h0m55 4h0m5-9h0m16 9h0m1-9h0m4 8h0m21-8h0m20 5h0m2 3h0m0-8h0m1 5h0m13-1h0m-174 19h0m3-4h0m3 3h0m4-4h0m3 4h0m18 0h0m11-4h0m7-6h0m27 6h0m27-2h0m10-2h0m5 8h0m2-10h0m6 10h0m11-9h0m25 0h0m16 6h0m11-5h0m-185 13h0m39 3h0m7-3h0m3-2h0m5 1h0m4 4h0m2 1h0m19 0h0m4 0h0m14-4h0m74 7h0m10-3h0m4-1h0m10 1h0m1 3h0m3-4h0m1 5h0m-203 3h0m4 7h0m4-7h0m28 4h0m28-4h0m14 7h0m50-1h0m1-5h0m9 7h0m34-9h0m1 9h0m1-5h0m4 1h0m1 3h0m5-7h0m2 3h0m2 4h0m7-3h0m22 0h0m1 3h0m5 1h0m-435 11h0m206-8h0m16 7h0m27 1h0m8-8h0m7 7h0m32-8h0m16 4h0m19 3h0m44-4h0m2-3h0m4 8h0m6-4h0m4 1h0m23-1h0m4 1h0m3-4h0m1 3h0m9 1h0m2-5h0m-558 19h0m355 0h0m6-3h0m28-4h0m15 3h0m1 3h0m11 4h0m17-6h0m2 4h0m4-1h0m11-3h0m3-4h0m8 0h0m21 3h0m32 5h0m5-4h0m6-4h0m2 6h0m2 2h0m13-4h0m3 7h0m7-4h0m4 1h0m2 3h0m-382 9h0m239-1h0m10 0h0m7-5h0m3 8h0m7-3h0m2-3h0m13 6h0m4 0h0m2-3h0m55 1h0m0-5h0m0 8h0m7 0h0m2-4h0m5 0h0m8 1h0m2-5h0m2 8h0m7 0h0m-131 3h0m31 7h0m55 1h0m1-7h0m4 6h0m2-3h0m1 4h0m14-7h0m3 6h0m4-3h0m1 4h0m-104 10h0m4-8h0m15 5h0m2-4h0m53 3h0m6 1h0m1 3h0m0-6h0m5 0h0m0 8h0m2-5h0m5 3h0m6 1h0m1-4h0m2 4h0m0-8h0m8 5h0m3 5h0m5-7h0m0-2h0m-40 10h0m1 8h0m3-1h0m2-4h0m17-2h0m3 7h0m2-4h0m-159 157h0m4 6h0m-20 8h0m2 3h0m11-2h0m29 0h0m-5 11h0m32-4h0m-77 19h0m21-5h0m15-3h0m27 5h0m-46 7h0m11 9h0m17-10h0m8 5h0m28-4h0m3 7h0m11-4h0m5 0h0m-101 11h0m2-4h0m2 11h0m24-4h0m28-4h0m0 8h0m9-6h0m20 0h0m-45 15h0m5 2h0m-32 13h0m26-9h0m4 1h0m9 0h0m0 8h0m7 0h0m10-10h0m1 5h0m0-6h0m-54 14h0m4 4h0m12-4h0m15 4h0m19-4h0m-39 15h0m20-4h0m6 10h0m-9 1h0m13 0h0"/>
<path class="d" transform="scale(.5)" stroke="#fdd6a7" stroke-width="6" d="M1216 1399h0m-24 13h0m35 2h0m2-3h0m41 0h0m-54 12h0m6-1h0m12 4h0m41-3h0m4-1h0m6 4h0m4-4h0m19 5h0m9-8h0m7 7h0m9 0h0m-128 4h0m6 2h0m10 1h0m5-1h0m12 2h0m4-1h0m2-3h0m4 7h0m30-4h0m1 4h0m10-3h0m3 4h0m3-5h0m4 0h0m12 0h0m2 5h0m10-1h0m19-5h0m3 2h0m15 3h0m13 0h0m4-1h0m26-3h0m-239 12h0m13-4h0m8 10h0m18 0h0m19-2h0m8-1h0m14 3h0m3-9h0m39-1h0m7 3h0m2-4h0m1 5h0m7 3h0m1-4h0m4-4h0m12 0h0m0 8h0m15-3h0m1 3h0m6 0h0m17-1h0m3-7h0m9 9h0m2-4h0m7-5h0m15 5h0m7 2h0m16-2h0m6 4h0m-256 4h0m7 10h0m1-5h0m24-1h0m35 6h0m2-11h0m2 3h0m5 4h0m47 4h0m12-8h0m0 8h0m12-3h0m4 0h0m3 0h0m3 3h0m6-10h0m3 0h0m4 9h0m20 0h0m3-9h0m9-1h0m3 7h0m3-4h0m10-2h0m7 9h0m1-9h0m11-1h0m7 8h0m2 2h0m21-2h0m8-2h0m2-1h0m-229 17h0m21-6h0m5 2h0m3-3h0m32-3h0m1 4h0m0 2h0m6 5h0m9-7h0m1 3h0m10 4h0m17-3h0m1-5h0m5 8h0m4-7h0m2 2h0m7 5h0m7-4h0m4 4h0m2-8h0m4 8h0m3-5h0m5-2h0m1 3h0m4-3h0m11 2h0m3-6h0m8 11h0m4-8h0m2 4h0m2 3h0m2-3h0m16 4h0m16-1h0m3-3h0m7-7h0m7 3h0m-267 14h0m9 1h0m2-4h0m22-1h0m13 1h0m13 1h0m4 6h0m32-3h0m33 3h0m12 1h0m4-1h0m3-4h0m4 2h0m3 1h0m1-2h0m3 2h0m5 2h0m4 0h0m1-5h0m23 1h0m13-4h0m4 4h0m1-3h0m26-1h0m5 9h0m13-10h0m4 8h0m15-3h0m2-5h0m-286 13h0m7 9h0m9-3h0m2-8h0m5 6h0m57-4h0m22-1h0m9 1h0m7 4h0m4 5h0m0-5h0m2-5h0m4 8h0m9-7h0m3 2h0m2-4h0m5 4h0m8-3h0m5 3h0m10 1h0m12 0h0m6 1h0m1 2h0m5-6h0m7 0h0m2 6h0m10-4h0m9 7h0m13-7h0m6-2h0m4 6h0m5 2h0m13-6h0m0 4h0m4-7h0m-250 22h0m5 0h0m27-2h0m18-9h0m4 0h0m3 1h0m42 4h0m2-3h0m5 6h0m2-4h0m15-3h0m1 6h0m6-3h0m1 5h0m25-2h0m3-4h0m4 0h0m4-2h0m8-1h0m8 8h0m55-8h0m3 4h0m7-3h0m4 8h0m4-9h0m5 8h0m2-5h0m-403 20h0m125-9h0m13 8h0m9 1h0m1-5h0m2 5h0m0-7h0m19 0h0m2-4h0m3 0h0m19 10h0m11-2h0m5-1h0m19 3h0m1-7h0m1 3h0m7-2h0m3 3h0m2 4h0m3-1h0m8-3h0m15-6h0m13 7h0m24-5h0m2 4h0m6 0h0m1-4h0m11 5h0m6-5h0m3 0h0m2 7h0m3-2h0m4-6h0m4 9h0m22-9h0m2 4h0m2-3h0m9-3h0m4 11h0m-251 4h0m10 0h0m21 8h0m13-1h0m3-8h0m9 8h0m4 1h0m26 0h0m9-8h0m2-3h0m1 7h0m33-1h0m14 0h0m3 0h0m4 5h0m5-4h0m5-2h0m6 5h0m10-6h0m2 3h0m4 0h0m7 0h0m16-5h0m15 4h0m2 4h0m3-3h0m14-1h0m7 1h0m24 4h0m-253 10h0m6 1h0m7-8h0m4 3h0m5-3h0m10-1h0m15 9h0m5-8h0m6 6h0m25-6h0m4 0h0m4 0h0m30 7h0m15-4h0m4-1h0m8 6h0m14-4h0m7 4h0m5-1h0m13-9h0m3 2h0m0 8h0m13 0h0m2-5h0m14-1h0m10 5h0m2-3h0m15-5h0m-254 22h0m1-6h0m10-5h0m1 6h0m5-3h0m3-2h0m6 5h0m5 5h0m4-6h0m5 6h0m7-2h0m3-1h0m2 3h0m11-2h0m16-4h0m1-5h0m3 3h0m4 2h0m6-5h0m1 4h0m25 5h0m4-8h0m7 4h0m10-5h0m1 8h0m3-8h0m1 8h0m3 3h0m2-6h0m16 2h0m4 2h0m9-8h0m10 5h0m3 1h0m4-7h0m9 9h0m4-2h0m6-4h0m2-3h0m8 9h0m13 0h0m9-8h0m2 10h0m11-3h0m-253 15h0m5-6h0m9-4h0m1 6h0m3-7h0m5 7h0m4-6h0m3 10h0m4-6h0m6-5h0m10 7h0m3-7h0m6 5h0m32-1h0m3-1h0m2 7h0m3-6h0m2 4h0m10-1h0m14 4h0m16-8h0m37 3h0m28-2h0m12-3h0m9-1h0m1 3h0m3 5h0m26-8h0m9 4h0m-255 18h0m2-4h0m5 4h0m6-1h0m4 2h0m4 0h0m1-11h0m21 10h0m6-3h0m3-4h0m14 4h0m1-7h0m1 10h0m1-6h0m7 2h0m1 3h0m1-5h0m3 7h0m4-7h0m5 7h0m7-1h0m15 1h0m1-6h0m8-3h0m1 4h0m3 4h0m10-4h0m6-2h0m10 0h0m0 7h0m2-11h0m3 7h0m23 0h0m4-1h0m10-4h0m2-2h0m14 6h0m5-4h0m27 9h0m3-9h0m4 1h0m7 3h0m2-3h0m-247 18h0m2-4h0m6 4h0m14-7h0m21 8h0m1-9h0m13 1h0m7 9h0m3-4h0m2 3h0m4-1h0m22 0h0m29-7h0m5 7h0m8-7h0m3 4h0m8 1h0m6 3h0m6-7h0m43 0h0m2 2h0m19-2h0m11 3h0m-241 15h0m16 0h0m16-3h0m9-2h0m4 7h0m0-6h0m3 3h0m8-7h0m12 8h0m4-7h0m4 4h0m6-4h0m1 7h0m7-8h0m1 4h0m8-4h0m16 7h0m9 1h0m5 0h0m8-8h0m4 10h0m27-3h0m9 1h0m0-8h0m33 8h0m-196 11h0m6-8h0m1 4h0m3 4h0m52-7h0m8 6h0m1-6h0m26 3h0m11-4h0m5 7h0m2-4h0m15 4h0m9-6h0m25 8h0m10-8h0m1 4h0m1 6h0m1-11h0m-178 12h0m17 6h0m2-3h0m13 8h0m2-11h0m1 7h0m5-3h0m8 3h0m8-1h0m0-6h0m10 11h0m2-10h0m7 10h0m4-9h0m8 2h0m18 7h0m1-10h0m9 10h0m23 0h0m12-4h0m6 4h0m13-11h0m22 3h0m4 7h0m-448 6h0m252 7h0m4-4h0m41 2h0m6-2h0m5-4h0m22-1h0m10 1h0m0 3h0m13-1h0m11 5h0m4-5h0m9 2h0m0 4h0m5 0h0m14-2h0m20-6h0m27-1h0m3 7h0m5 0h0m-197 11h0m20-4h0m16-3h0m3 4h0m19 4h0m2-4h0m23 4h0m9-7h0m12 8h0m2-5h0m2-3h0m4 0h0m4-1h0m11 5h0m2 2h0m3-3h0m1-4h0m7 5h0m3 3h0m23-4h0m3-3h0m5 7h0m2-3h0m3 0h0m6 4h0m5-8h0m9 0h0m3 4h0m2-5h0m4 1h0m1 4h0m5-1h0m5 0h0m1 5h0m1-9h0m-206 20h0m4-8h0m18 7h0m5 0h0m7-7h0m5 7h0m4-2h0m4-2h0m4 5h0m16-4h0m6 0h0m9 4h0m4-8h0m2 7h0m11-4h0m11 1h0m4-4h0m7 0h0m1 8h0m24-8h0m5 0h0m20 10h0m2-3h0m9 0h0m11-3h0m14 4h0m11-5h0m-214 8h0m9 3h0m20-2h0m6 3h0m27 7h0m7-8h0m3 5h0m4-7h0m3 3h0m2 2h0m12-5h0m4 0h0m3 2h0m4 5h0m2 2h0m4 1h0m2-11h0m2 10h0m1-3h0m3-2h0m3-5h0m47 10h0m0-6h0m4 2h0m0-6h0m4 0h0m1 4h0m5-1h0m0 8h0m15-11h0m8 0h0m4 1h0m-151 13h0m5 1h0m12 3h0m17-6h0m9 6h0m7 4h0m10-6h0m59 2h0m1-6h0m7 10h0m4 1h0m4-2h0m5-2h0m4 3h0m-98 5h0m10 6h0m52-7h0m2-1h0m4 8h0m1-8h0m8 8h0m19-7h0m5 3h0m2-3h0m-116 21h0m71-9h0m1 7h0m11-8h0m1 8h0m6-7h0m15 6h0m2-6h0m-32 15h0m12 3h0m3 0h0m0-7h0m8 4h0m-159 156h0m5 2h0m-12 8h0m0 7h0m4-6h0m13 0h0m5 0h0m-34 15h0m13-4h0m9 8h0m2-11h0m5 0h0m12 2h0m17 7h0m9-9h0m4 7h0m-60 16h0m19-1h0m2-5h0m6-2h0m7 2h0m14-4h0m5 1h0m9-1h0m13 7h0m12-7h0m-95 17h0m7-4h0m1 4h0m7-4h0m10 6h0m4-6h0m47 6h0m4-8h0m6 5h0m-80 18h0m7-2h0m1-5h0m3 5h0m13-8h0m5 7h0m4 0h0m21-8h0m1 9h0m14-4h0m2-5h0m5 0h0m5 1h0m-88 17h0m1-3h0m0 7h0m8-7h0m2 3h0m2 5h0m4-1h0m6-8h0m6 6h0m9-1h0m5 4h0m1-8h0m8 1h0m7-4h0m-56 14h0m4 1h0m3 3h0m9 1h0m2-5h0m6 4h0m3 0h0m12 5h0m9-8h0m-40 13h0m2 6h0m12-5h0m7 4h0m7 0h0m8-3h0m-30 6h0m14 5h0m24-4h0m1 5h0m-25 6h0"/>
<path class="d" transform="scale(.5)" stroke="#fdc592" stroke-width="6" d="M1207 1399h0m14 4h0m-21 1h0m12 8h0m2-6h0m3 6h0m7-5h0m48 4h0m-96 11h0m5-1h0m14-2h0m26 6h0m8 2h0m1-8h0m2-3h0m51 9h0m11 1h0m8-1h0m9 0h0m7-3h0m12 3h0m-153 5h0m1 4h0m6 3h0m2-7h0m6 1h0m2 7h0m3-9h0m5 9h0m25-9h0m4 8h0m6-8h0m0 8h0m8 0h0m2-4h0m28-2h0m9-2h0m3 4h0m10-2h0m5-1h0m8 1h0m3-1h0m14 6h0m2-3h0m5 0h0m4 1h0m11 2h0m20 1h0m6-4h0m21-4h0m4 1h0m11 3h0m2 4h0m-249 12h0m3-8h0m3 0h0m10 3h0m8 0h0m3-3h0m3 3h0m5 5h0m6-5h0m7 4h0m1-6h0m13-2h0m9 2h0m3 5h0m4-2h0m36-5h0m7 9h0m7 2h0m17 0h0m6-3h0m6-4h0m3-3h0m2 10h0m3-3h0m2-4h0m1 5h0m2-7h0m6 3h0m6-3h0m7 2h0m17 0h0m7-3h0m17 7h0m13-4h0m6 1h0m6-4h0m2 4h0m7-4h0m10 10h0m-273 12h0m5-6h0m28 4h0m3-1h0m80-5h0m1 4h0m5-6h0m1 7h0m6 3h0m0-8h0m3 4h0m0-6h0m3-1h0m7 3h0m14 0h0m10 5h0m19-4h0m3 4h0m7-1h0m3-2h0m2 4h0m3-4h0m7-5h0m7 8h0m2-5h0m16 4h0m10 3h0m0-6h0m14 0h0m2 2h0m3 5h0m18-4h0m0-6h0m5 6h0m-280 15h0m17 0h0m3-8h0m3 6h0m13-8h0m4 2h0m0 6h0m12-4h0m5 1h0m5 2h0m11 3h0m31 0h0m5-3h0m16-3h0m13 0h0m1 2h0m2 5h0m3-11h0m2 9h0m4 1h0m4-8h0m5 9h0m6-4h0m8-5h0m4 5h0m5 0h0m6 3h0m22-8h0m3 4h0m3-3h0m8 7h0m4-7h0m2-3h0m5 6h0m2-3h0m10 4h0m2-4h0m5 0h0m1 4h0m4 0h0m7-5h0m5 9h0m3-8h0m8 4h0m1-3h0m-274 13h0m1 4h0m15-3h0m2-3h0m1 6h0m2-3h0m5-1h0m1-2h0m5 7h0m12-1h0m4 1h0m8-5h0m6 5h0m3-5h0m28 4h0m2-4h0m5-2h0m10-1h0m2 4h0m3 0h0m0 4h0m2-7h0m8 4h0m0-5h0m10 7h0m2-4h0m5 0h0m4 0h0m7 4h0m7-6h0m5 0h0m3-1h0m0 3h0m5-3h0m1 9h0m3-2h0m9-7h0m1 8h0m4-7h0m3-1h0m8 4h0m1 4h0m21-3h0m4-2h0m0 4h0m13-2h0m7-1h0m3-4h0m8 0h0m6 7h0m9-6h0m-288 10h0m1 8h0m2-4h0m1 3h0m5 1h0m3-5h0m2-3h0m7 5h0m10 3h0m14 0h0m8 0h0m7-9h0m0 8h0m3-4h0m0 7h0m3-9h0m1 9h0m9-6h0m2-4h0m2 5h0m3-5h0m22 9h0m1-6h0m0 7h0m4-6h0m3-4h0m7 8h0m0-8h0m5-1h0m4 9h0m10 0h0m12-9h0m6 5h0m12-3h0m3-2h0m4 0h0m19 2h0m8 0h0m1 6h0m4-4h0m7 4h0m5-7h0m7 5h0m18 1h0m7-3h0m3-2h0m1 4h0m3 2h0m0-6h0m4-1h0m0 8h0m1-4h0m3-5h0m5 8h0m2-3h0m7 4h0m-278 3h0m0 8h0m1 3h0m8-4h0m4 2h0m2-5h0m5-1h0m6 6h0m7-9h0m4 3h0m1-2h0m5 8h0m12-9h0m3 5h0m6 2h0m3-2h0m4-1h0m1 5h0m2-6h0m4 2h0m24-1h0m2 1h0m5 5h0m11-2h0m9-1h0m6-3h0m3-4h0m16 8h0m4-7h0m0 9h0m1-2h0m6-4h0m2 4h0m9-7h0m3-1h0m15 8h0m11-4h0m13 4h0m4-1h0m6-6h0m3 10h0m2-6h0m4 5h0m2-7h0m6-3h0m2 11h0m2-11h0m1 9h0m0 2h0m2-7h0m22 5h0m-265 6h0m2 4h0m2-4h0m1 4h0m7 4h0m0-8h0m12-1h0m2 9h0m2 0h0m1-9h0m9 8h0m35 0h0m24-4h0m6-4h0m8 1h0m2-3h0m6 3h0m0 3h0m3-6h0m2 4h0m4-2h0m15 6h0m0-8h0m13 8h0m1 2h0m5-6h0m2 3h0m3-4h0m2-3h0m3 2h0m8 2h0m1 7h0m3 0h0m16-3h0m11-8h0m23 0h0m1 4h0m3 3h0m8-7h0m7 3h0m3 4h0m15 3h0m0-10h0m0 3h0m-239 10h0m12 9h0m2-3h0m32 4h0m10-8h0m2 4h0m15-3h0m3 6h0m4-3h0m5 3h0m1-8h0m8 7h0m5-5h0m8-3h0m17 1h0m2 3h0m16-2h0m3-3h0m3 6h0m10-4h0m4 4h0m4 4h0m4-4h0m9 1h0m2 3h0m1-10h0m1 6h0m2-3h0m3 0h0m2 3h0m11-3h0m5-1h0m5 0h0m5 5h0m2-4h0m6 4h0m11-7h0m-237 17h0m3 4h0m3-4h0m5 3h0m9-3h0m1 3h0m4 0h0m12 2h0m8-5h0m9 0h0m14-4h0m9 9h0m1-5h0m12-3h0m1 4h0m2 3h0m7-5h0m3-3h0m8 8h0m5-6h0m18-1h0m11 7h0m0-7h0m4 3h0m12-1h0m2-2h0m6 2h0m7 5h0m2-5h0m3 0h0m5 2h0m47-1h0m3-4h0m6 6h0m7 3h0m-242 9h0m16-7h0m4 9h0m4-8h0m25-1h0m6 8h0m20 3h0m3 0h0m2-2h0m2-3h0m2 2h0m5-7h0m5 7h0m11-4h0m1-4h0m28 11h0m20-9h0m0 7h0m14-9h0m4 4h0m9 2h0m11 3h0m15-4h0m5-2h0m37-2h0m-257 12h0m15 2h0m6 3h0m2-2h0m7 3h0m17-1h0m2 4h0m12-9h0m4 7h0m3-8h0m2 3h0m32 2h0m2-5h0m3 0h0m12 3h0m1 4h0m9-7h0m5 6h0m3-6h0m8 3h0m8 1h0m2-3h0m15 2h0m4 7h0m18 0h0m1-10h0m2 8h0m15-3h0m4 6h0m8-1h0m-218 9h0m3-7h0m9 7h0m15 0h0m21-4h0m10 8h0m26-5h0m6-3h0m12 4h0m7-3h0m2 3h0m7-1h0m6-6h0m15 6h0m0 3h0m4 2h0m4 0h0m9 0h0m12-7h0m55 6h0m1-8h0m3 2h0m-221 14h0m3 1h0m6 2h0m11-3h0m16 3h0m30 1h0m3-4h0m16-1h0m17 1h0m6 4h0m12-4h0m5 3h0m7-4h0m3 0h0m3 4h0m21-2h0m4-2h0m7-3h0m1 3h0m67-2h0m-224 14h0m40 4h0m5-9h0m5 1h0m18 3h0m20 6h0m8-6h0m7 2h0m3 4h0m7-6h0m4 0h0m1-2h0m12 8h0m3-5h0m22-1h0m2-2h0m3 3h0m22 3h0m12-4h0m6 5h0m-208 3h0m31 3h0m11 5h0m12 0h0m3-3h0m8-1h0m28-4h0m24 11h0m3-11h0m23 5h0m4 6h0m12-3h0m8-8h0m38 8h0m-157 5h0m12 10h0m17 0h0m13-9h0m5 9h0m6-4h0m6 4h0m1-11h0m14 0h0m9 1h0m7 1h0m11 4h0m11-3h0m7 0h0m18 0h0m-170 11h0m77 8h0m8-8h0m0 9h0m33-4h0m5-4h0m7 7h0m17-8h0m12 2h0m35 7h0m-175 11h0m12-1h0m15-3h0m21 4h0m13-4h0m4-1h0m3 5h0m5-8h0m1 3h0m24 5h0m4-8h0m6 8h0m25 0h0m65-7h0m-203 13h0m20-3h0m16 0h0m19 6h0m4 1h0m4-7h0m4 0h0m1 8h0m2-5h0m8 2h0m4 5h0m1-7h0m2-4h0m3 9h0m14-2h0m9 2h0m43-1h0m2-3h0m48 4h0m-180 7h0m47 7h0m3-3h0m3-8h0m4 7h0m0 4h0m2 0h0m4-10h0m18 2h0m16-3h0m7 6h0m11-5h0m20 6h0m3-4h0m24-3h0m2 3h0m9 2h0m11 0h0m-146 7h0m1 7h0m1 3h0m16-4h0m6-2h0m13 7h0m5-9h0m1 4h0m12 3h0m3-2h0m2-3h0m0 3h0m2 2h0m6-6h0m0 3h0m28 0h0m15-4h0m26 4h0m-131 9h0m19 4h0m2-5h0m1 4h0m16 5h0m3-9h0m4 3h0m2 4h0m2-4h0m51 0h0m5 1h0m4 0h0m-97 10h0m7 4h0m4 2h0m2-6h0m5 0h0m1-3h0m12 0h0m64 3h0m22 1h0m-36 11h0m8 3h0m11 4h0m0-7h0m8-3h0m-171 173h0m10 4h0m15 1h0m9-6h0m3 5h0m7-2h0m3 0h0m-54 10h0m8 4h0m9-4h0m0 4h0m0-6h0m6 2h0m3-3h0m2 8h0m8-5h0m16 0h0m12 4h0m1-3h0m18 0h0m-83 11h0m7 0h0m7 3h0m4-6h0m5-1h0m12 3h0m10 4h0m8-7h0m-61 12h0m2 7h0m14 0h0m11-5h0m2-3h0m2 4h0m7 5h0m7-1h0m30-8h0m5 1h0m0 7h0m-75 10h0m2-4h0m2-3h0m0 8h0m6-4h0m5 7h0m1-11h0m6 5h0m1 6h0m6-7h0m8 7h0m22-7h0m0 4h0m13 2h0m4-1h0m-75 7h0m7 3h0m19 1h0m3 3h0m3-10h0m5 2h0m8 3h0m-38 6h0m8 6h0m16 4h0m-23 10h0m12-6h0m3 3h0m2-3h0m5 6h0m-19 9h0m12-5h0m17 7h0m10-5h0m-24 13h0m5 0h0"/>
<path class="d" transform="scale(.5)" stroke="#fcad79" stroke-width="6" d="M1204 1403h0m5 0h0m1-3h0m-16 15h0m2-8h0m3 5h0m0 3h0m4 0h0m8-7h0m1-4h0m2 10h0m4-6h0m6 7h0m48-1h0m-93 4h0m0 7h0m9 0h0m2-2h0m2 2h0m14-3h0m4 0h0m6-4h0m9 0h0m15 7h0m2 1h0m31-6h0m53 3h0m-156 10h0m3-3h0m8 8h0m7-8h0m0 3h0m1 3h0m3-2h0m3-1h0m7-3h0m2 4h0m2 2h0m16 2h0m1-8h0m17 8h0m64-9h0m3 3h0m3 5h0m9-7h0m15 7h0m1-7h0m4-1h0m27 9h0m29-1h0m1-3h0m5 3h0m6-5h0m10 5h0m-244 4h0m1 6h0m2-2h0m6-3h0m13 0h0m1 7h0m2-5h0m2-4h0m4 8h0m3 3h0m9-3h0m4 3h0m1-9h0m2 3h0m4 6h0m1-7h0m3-2h0m2 6h0m3-3h0m3-5h0m4 7h0m5-4h0m33-2h0m7 4h0m3 4h0m36-4h0m1-3h0m9-2h0m4 1h0m4 7h0m0-3h0m3 1h0m2 3h0m14-1h0m2-3h0m1-4h0m11 3h0m6 4h0m4 1h0m11-9h0m1 5h0m6 3h0m6-1h0m7 2h0m5-8h0m5 4h0m-265 14h0m0-7h0m2 5h0m1 1h0m2 4h0m12-2h0m2-4h0m2 3h0m4 0h0m1 4h0m4-4h0m0-6h0m2 4h0m3-5h0m2 11h0m10-11h0m3 1h0m2 2h0m6 5h0m0 3h0m1-11h0m2 11h0m1-7h0m1 3h0m2-4h0m6 1h0m6 4h0m5 3h0m1-7h0m1-3h0m38 3h0m7 3h0m12 1h0m11-5h0m2-2h0m5-1h0m6 11h0m13 0h0m1-7h0m0 4h0m3-3h0m8 6h0m2-4h0m15-3h0m20 5h0m8-9h0m8 11h0m8-8h0m2-3h0m10 3h0m3 6h0m1-8h0m1 9h0m10-5h0m12 5h0m-288 12h0m4-3h0m10-4h0m4 8h0m3-5h0m9 4h0m6-6h0m1 3h0m2-7h0m1 11h0m4 0h0m12-4h0m4-1h0m14-2h0m63 2h0m3-4h0m23 4h0m10-4h0m6-2h0m21 10h0m11-6h0m1 6h0m8 0h0m17 1h0m1-8h0m5 7h0m2-4h0m6-2h0m13 7h0m13-8h0m-278 11h0m1 8h0m7-3h0m2 2h0m3 2h0m6-9h0m3 7h0m1-7h0m1 3h0m2 5h0m1-8h0m2 8h0m13-1h0m6-6h0m7 2h0m2 5h0m1-5h0m10 0h0m0 4h0m6-8h0m3 5h0m4-4h0m39 4h0m10-3h0m8 8h0m5-1h0m5-3h0m3-4h0m3 6h0m5-8h0m9 1h0m11 4h0m33-1h0m3 5h0m15-5h0m11 5h0m19-8h0m0 4h0m3-4h0m6 5h0m2 2h0m9-8h0m7 6h0m-279 9h0m2-2h0m6 8h0m4 0h0m7-1h0m7-5h0m2 4h0m4-3h0m1 3h0m7-4h0m4 0h0m4 2h0m3-6h0m7 9h0m4-3h0m2 3h0m12 0h0m2-3h0m33 4h0m15 1h0m9-5h0m2 3h0m16 0h0m3-3h0m2 2h0m18-6h0m0 4h0m18-2h0m15-3h0m4 7h0m3-2h0m5-5h0m1 8h0m4-7h0m2 2h0m2-3h0m41-1h0m9 5h0m-278 12h0m7-5h0m3 11h0m5-4h0m10 2h0m1-6h0m4 8h0m6-7h0m2-3h0m4 0h0m11 10h0m2-3h0m3 2h0m2 1h0m45-6h0m1-4h0m22 7h0m4 0h0m8-5h0m12 2h0m17 5h0m0-6h0m22 1h0m2 2h0m9-3h0m3 4h0m3-3h0m1-5h0m5 0h0m6 4h0m6-4h0m1 7h0m5 0h0m5-4h0m11-3h0m5 7h0m4-7h0m2 3h0m6 1h0m-265 8h0m19 7h0m3-3h0m0-4h0m12 7h0m2-7h0m1 4h0m2-3h0m6 3h0m6 0h0m37 6h0m22 0h0m7-3h0m12 4h0m3 0h0m1-11h0m4 11h0m5 0h0m4-1h0m7-7h0m4 7h0m2-10h0m5 0h0m1 7h0m7 1h0m3 3h0m4-11h0m14 10h0m3-6h0m4-2h0m4-2h0m30 7h0m2-4h0m1 8h0m17-3h0m2 2h0m7-2h0m8 0h0m-264 4h0m8 2h0m2 3h0m6-3h0m39 1h0m41 6h0m5 0h0m3-3h0m7 3h0m2-3h0m3 1h0m10-1h0m11 5h0m2-9h0m3 4h0m0-6h0m3 2h0m0 9h0m4-1h0m26-7h0m4 6h0m21-6h0m4 6h0m10 1h0m30 0h0m-201 11h0m17-4h0m23-3h0m30 6h0m1-3h0m7-3h0m3 6h0m1-7h0m12 1h0m8 4h0m1-5h0m0 9h0m5-8h0m15 3h0m2-4h0m17 1h0m18 0h0m21 0h0m4-1h0m28 3h0m-235 13h0m34-4h0m9 3h0m7 3h0m31 1h0m10-3h0m37-5h0m5 4h0m9-3h0m11 7h0m4-3h0m0-5h0m46 4h0m8-1h0m3 5h0m17-7h0m15 5h0m-251 10h0m9 6h0m5-3h0m0-6h0m23 6h0m9 1h0m2 0h0m24 2h0m17 1h0m0-3h0m1-3h0m27-2h0m2 7h0m13 0h0m41-9h0m40 7h0m12-1h0m20 3h0m11-10h0m-234 18h0m17 5h0m9-11h0m1 10h0m16-10h0m9 11h0m4-4h0m9-5h0m10 0h0m22 3h0m27 2h0m22 0h0m7-5h0m7 8h0m13 1h0m-170 4h0m4 0h0m13-1h0m10 0h0m32 4h0m12-1h0m72 2h0m82-1h0m-232 7h0m36 0h0m2 3h0m14-2h0m45 4h0m8-5h0m9 1h0m11-1h0m19 10h0m29-2h0m13 0h0m-168 8h0m16-5h0m64 1h0m28 3h0m7 5h0m0-8h0m17-1h0m13 8h0m2-5h0m-106 13h0m3-4h0m24 7h0m67-1h0m9-4h0m14 8h0m25 0h0m20-9h0m-188 18h0m71 2h0m8 1h0m10-8h0m0 4h0m2-6h0m20 7h0m6 0h0m6-6h0m5 8h0m1-3h0m16 5h0m5-4h0m-69 11h0m4-4h0m14 6h0m2-4h0m2 4h0m24-3h0m10 1h0m7 0h0m2-3h0m-125 14h0m15-1h0m24 7h0m1-6h0m12 6h0m41-11h0m14 4h0m2-2h0m6-1h0m1 3h0m0 7h0m3-10h0m0 8h0m3-5h0m2 7h0m-83 5h0m59 3h0m10-3h0m1 7h0m6-3h0m61-1h0m-117 7h0m14 0h0m9 6h0m7-5h0m1 5h0m18 0h0m-47 5h0m1 9h0m2-8h0m10 0h0m21 1h0m-29 14h0m11-5h0m10 5h0m-84 174h0m5 0h0m7-7h0m-4 11h0m2-3h0m28 4h0m-47 17h0m11-3h0m6-3h0m5 6h0m5-2h0m32-1h0m-68 15h0m2-3h0m1-5h0m4 7h0m20-3h0m7-3h0m3 8h0m19-4h0m28 3h0m4-7h0m-89 15h0m7 4h0m3-8h0m11 5h0m3 4h0m11-6h0m4 0h0m0-2h0m1 6h0m3-2h0m11-6h0m27 4h0m-80 18h0m11-2h0m6-1h0m5 4h0m12-2h0m2-6h0m3 1h0m4 1h0m5 6h0m5-8h0m-50 19h0m14 0h0m8-6h0m1 2h0m3 4h0m39 1h0m-58 10h0m16 0h0m3-4h0m1 4h0m-16 8h0m2 4h0m14 1h0m13-4h0m-30 7h0m7 4h0m4-1h0"/>
<path class="d" transform="scale(.5)" stroke="#fb905d" stroke-width="6" d="M1184 1414h0m6 1h0m3-8h0m3 4h0m6-5h0m2 6h0m3-1h0m10-6h0m1 9h0m2-3h0m-46 15h0m8 1h0m4-8h0m13 8h0m1-9h0m5 9h0m1-11h0m3 9h0m0-7h0m3-1h0m4 9h0m4-3h0m2-5h0m7 3h0m5-2h0m75 4h0m6 3h0m-133 6h0m18 1h0m12 4h0m5-5h0m1 6h0m1-8h0m8 8h0m3-5h0m85 0h0m71 3h0m-216 11h0m1 4h0m2-8h0m5 6h0m8-3h0m1-6h0m0 8h0m2 3h0m2-2h0m11-4h0m2-5h0m3 9h0m2-9h0m8 1h0m1 4h0m9 4h0m5-4h0m12-5h0m2 5h0m69 0h0m2 0h0m-146 15h0m4-3h0m4 6h0m3-1h0m10-6h0m4 7h0m7-7h0m4 0h0m0 4h0m6 3h0m3-3h0m1 3h0m2-4h0m2-4h0m8 8h0m2-11h0m1 8h0m5-1h0m2-6h0m3 2h0m2 8h0m46-8h0m18 7h0m25-7h0m7 4h0m28 3h0m1-2h0m23-7h0m6 10h0m6-2h0m4-9h0m5 0h0m5 8h0m6 3h0m11-8h0m-269 16h0m2-4h0m6 3h0m2-4h0m2 6h0m5 0h0m5-4h0m8-1h0m4 4h0m3 2h0m4-7h0m10 6h0m2-6h0m1 9h0m3-1h0m6 1h0m3-1h0m4 1h0m3-11h0m2 11h0m56 0h0m1-11h0m2 11h0m10-2h0m63-5h0m16 1h0m51 2h0m-270 8h0m4-1h0m3 3h0m27-3h0m0 9h0m8-4h0m3-1h0m24 4h0m42-1h0m56-6h0m26 6h0m48-6h0m20 7h0m30-7h0m-297 10h0m18 3h0m2-3h0m8 5h0m5-5h0m10 0h0m1 3h0m2-3h0m11 10h0m2-3h0m1-3h0m13 1h0m4-4h0m1 8h0m56-6h0m16 4h0m9-7h0m21 9h0m100-1h0m-270 12h0m6 2h0m7-10h0m6 3h0m1-3h0m6 0h0m3 10h0m5-2h0m8-4h0m0 3h0m3-5h0m5 0h0m15 5h0m46-8h0m57 0h0m0 9h0m15 2h0m13-6h0m7-5h0m30 1h0m37 2h0m-268 15h0m12-2h0m14 2h0m4 0h0m8 5h0m1-4h0m222-7h0m-250 19h0m68 3h0m6-3h0m41-6h0m0 5h0m28-5h0m35 8h0m12-5h0m22 3h0m10-4h0m21 7h0m5-8h0m-142 16h0m39-2h0m6-2h0m3 7h0m5 0h0m34-7h0m47 6h0m-208 5h0m64 0h0m149 4h0m-165 11h0m10 3h0m73 0h0m64-7h0m-154 23h0m117-1h0m0-3h0m9-5h0m2 0h0m10 0h0m-152 15h0m90 3h0m11 2h0m4-9h0m18 8h0m5 1h0m37-4h0m-66 8h0m24 8h0m1-5h0m7 3h0m-51 12h0m47 0h0m0-5h0m12 0h0m1 5h0m1-8h0m2 4h0m4 7h0m33-11h0m-141 16h0m44 3h0m34 0h0m10-3h0m2 3h0m4 3h0m2-9h0m11 6h0m5 0h0m-126 12h0m66 2h0m17-5h0m15 3h0m5-7h0m1 3h0m6 6h0m2 1h0m4-3h0m3 3h0m5-3h0m-21 5h0m4 2h0m5 0h0m3 6h0m1-6h0m8 6h0m-84 4h0m42 5h0m22 4h0m2 2h0m18-8h0m-61 12h0m39 2h0m4 6h0m1-3h0m-60 7h0m56 6h0m13-7h0m-57 16h0m7 3h0m-63 190h0m24 3h0m-28 4h0m2 4h0m21-2h0m3 0h0m-31 9h0m4 1h0m5-1h0m0 5h0m3-4h0m5 8h0m19-4h0m6-4h0m-45 12h0m3 7h0m10-1h0m-2 5h0m39 7h0m-41 11h0m7-5h0m17 9h0m-20 12h0m24-5h0m12 7h0m-28 18h0m5 2h0m29-5h0"/>
<path class="d" transform="scale(.5)" stroke="#f2704e" stroke-width="6" d="M1226 1411h0m-41 11h0m6-3h0m7 3h0m3 1h0m3-5h0m10 8h0m-47 10h0m10 2h0m3-7h0m18 5h0m11-2h0m0-4h0m6 7h0m18-4h0m0-5h0m-53 23h0m3-3h0m28-4h0m36 4h0m-61 7h0m25 4h0m-39 9h0m4 6h0m3 0h0m7-8h0m1-2h0m5 7h0m17 0h0m19-5h0m231 5h0m-288 15h0m8-7h0m39 7h0m3-7h0m6 3h0m103-5h0m62 9h0m-199 4h0m8-1h0m13-1h0m5 1h0m18 1h0m67 9h0m50-9h0m45 3h0m10-3h0m18 2h0m-254 9h0m15 8h0m4-9h0m250 1h0m-125 13h0m73 5h0m43 18h0m14 5h0m-80 17h0m14-2h0m-159 9h0m109 21h0m34-1h0m22 8h0m-24 2h0m5 1h0m5 3h0m-9 13h0m1 3h0m11-3h0m7 18h0m4-7h0m3 4h0m-22 8h0m5 2h0m-26 11h0m20 0h0m24-3h0m-20 11h0m10 3h0m1 7h0m3-4h0m-24 11h0m28-2h0m-12 23h0m-92 193h0m-22 18h0m11 0h0m36 46h0m-9 29h0"/>
<path class="d" transform="scale(.5)" stroke="#e55239" stroke-width="6" d="M1187 1411h0m6 12h0m3 2h0m15-9h0m15 10h0m-11 4h0m86 15h0m-89 11h0m2 11h0m-17 37h0m169 89h0m17 14h0m1-10h0m0 22h0m11 5h0m-36 10h0m25 19h0m-10 8h0m3-5h0m3 9h0m-8 13h0m-84 266h0"/>
<path class="d" transform="scale(.5)" stroke="#d12b1c" stroke-width="6" d="M1215 1444h0m-22 30h0m178 93h0m4 4h0m15 48h0m-28 24h0m19-7h0m8-2h0m-8 14h0m8 0h0m-20 13h0m17 19h0m2 0h0"/>
<path class="d" transform="scale(.5)" stroke="#b30905" stroke-width="6" d="M1370 1615h0m11 24h0m10-1h0"/>
<path class="d" transform="scale(.5)" stroke="#8f0000" stroke-width="6" d="M1382 1602h0m-10 61h0"/>
<path d="M424.5 685.8V1014.4H752" fill="none" stroke="#555" stroke-width="1.7" stroke-linejoin="round"/>
<text transform="translate(432.12 704.40) scale(1.115 1)" font-size="31.45" font-weight="bold">NOS3</text>
<text transform="translate(438.54 997.80) scale(1.048 1)" font-size="50.72" font-weight="bold">D</text>
<text transform="translate(549.08 1036.00) scale(0.993 1)" font-size="23.77" font-weight="bold">umap1</text>
<text transform="translate(416.20 849.80) rotate(-90) scale(1.011 1.085) translate(-38.50 0)" font-size="23.77" font-weight="bold">umap2</text>
<rect x="516.6" y="1058.3" width="214.3" height="16.8" fill="url(#cb)"/>
<text x="511.69" y="1094.50" font-size="17.68" fill="#111">0</text>
<text x="561.87" y="1094.50" font-size="17.68" fill="#111">1</text>
<text x="612.69" y="1094.50" font-size="17.68" fill="#111">2</text>
<text x="663.04" y="1094.50" font-size="17.68" fill="#111">3</text>
<text x="713.54" y="1094.50" font-size="17.68" fill="#111">4</text>
<path d="M567 1058.3v3M567 1075.1v-3M617.6 1058.3v3M617.6 1075.1v-3M667.9 1058.3v3M667.9 1075.1v-3M718.4 1058.3v3M718.4 1075.1v-3" stroke="#fff" stroke-opacity=".45" stroke-width="1" fill="none"/>
<g transform="translate(30.1 1454.6) scale(0.745 0.755)">
<use href="#bgs"/><use href="#ycells"/><use href="#hole" fill="#fff"/>
</g>
<path class="d" transform="scale(.5)" stroke="#e4e2dd" stroke-width="6" d="M570 2324h0m8 11h0m31 116h0m-22 31h0m6 13h0m14-3h0m-8 22h0m20 29h0m7-3h0m-3 4h0m-79 33h0m96 0h0m-143 179h0m-16 22h0m46 23h0m-21 53h0"/>
<path class="d" transform="scale(.5)" stroke="#fff0de" stroke-width="6" d="M500 2322h0m112 10h0m-102 30h0m16-4h0m2 21h0m44 15h0m0 39h0m8 3h0m88 0h0m-219 22h0m-14 3h0m12 2h0m122 2h0m-117 12h0m10 3h0m152 5h0m-94 30h0m97 2h0m11 12h0m3 1h0m6-1h0m-15 3h0m1 5h0m9 0h0m0-4h0m2-1h0m-84 20h0m64 0h0m3-3h0m6 2h0m5-7h0m3 10h0m-19 8h0m12-4h0m5 1h0m7-1h0m-14 12h0m10 4h0m3 5h0m10-5h0m-433 14h0m411-3h0m8-4h0m-384 36h0m9 12h0m254 149h0"/>
<path class="d" transform="scale(.5)" stroke="#fee5c5" stroke-width="6" d="M550 2327h0m28-3h0m-1 4h0m26 0h0m16 33h0m-88 9h0m66 5h0m-59 4h0m42 8h0m30-6h0m-62 19h0m-88 17h0m170 4h0m-43 7h0m-130 8h0m109 0h0m53 3h0m-105 12h0m57 4h0m7 3h0m4-4h0m11-6h0m-20 15h0m56 0h0m3 7h0m-130 11h0m38-9h0m18 2h0m52 4h0m12-5h0m-182 20h0m166-5h0m-92 14h0m114-2h0m-149 8h0m32 6h0m82-3h0m19 4h0m1-5h0m0 8h0m8-8h0m3 18h0m4-5h0m-63 18h0m64-4h0m6 3h0m1-4h0m-92 19h0m67-5h0m3-2h0m0 6h0m7-6h0m13 0h0m3 4h0m3-8h0m-21 15h0m2 7h0m8 0h0m1-3h0m11-5h0m6 8h0m-32 7h0m6 1h0m4-5h0m1 8h0m9-7h0m-9 15h0m2-4h0m4 8h0m6-1h0m-428 38h0m17 19h0m259 116h0m-2 18h0m15-4h0m4 11h0m33 45h0"/>
<path class="d" transform="scale(.5)" stroke="#fdd6a7" stroke-width="6" d="M593 2321h0m-97 11h0m30-4h0m16 22h0m43-6h0m38 3h0m29 1h0m-66 9h0m-61 8h0m117 7h0m-81 13h0m-72 14h0m7-8h0m31 0h0m92-2h0m-110 20h0m39-6h0m7 8h0m6-5h0m29-4h0m-143 16h0m116 2h0m21 1h0m7-7h0m65-1h0m-190 20h0m78-3h0m10 1h0m49-7h0m-155 16h0m38-1h0m106 5h0m30-1h0m40-2h0m-225 11h0m15 1h0m88-3h0m-45 20h0m51 0h0m6-3h0m34 2h0m30 2h0m-192 9h0m46-7h0m3 4h0m35 0h0m66 4h0m27-7h0m-130 21h0m135-10h0m6-1h0m14 11h0m-150 1h0m24 10h0m108-6h0m-39 15h0m57 3h0m-103 8h0m22 0h0m67 2h0m0-3h0m11-4h0m-119 15h0m55 1h0m50 3h0m3-2h0m5-5h0m1 7h0m9-6h0m17 1h0m-462 14h0m310-5h0m130 10h0m7-4h0m11 1h0m-24 8h0m5 3h0m3 4h0m1-2h0m9-8h0m5 0h0m-83 14h0m61 6h0m8-1h0m7 1h0m-433 12h0m7 1h0m352-7h0m59 3h0m2-3h0m5 0h0m3 6h0m4-3h0m7-5h0m-9 17h0m-413 13h0m-15 19h0m26 1h0m15 1h0m-13 9h0m262 128h0m20-5h0m-4 11h0m-19 64h0"/>
<path class="d" transform="scale(.5)" stroke="#fdc592" stroke-width="6" d="M500 2335h0m42-7h0m14 11h0m36-7h0m36 5h0m21 1h0m-153 13h0m15-4h0m11 0h0m55 2h0m32-1h0m-108 14h0m21-1h0m29 5h0m41 3h0m2 3h0m14 0h0m21-4h0m-118 15h0m7-7h0m29 5h0m26-1h0m44-4h0m-59 14h0m30 9h0m-10 4h0m-43 17h0m51-4h0m-54 14h0m16-2h0m29-3h0m8 1h0m36 3h0m33 2h0m-195 12h0m45-4h0m41 0h0m0 4h0m26 4h0m56-11h0m13 4h0m-122 10h0m57 2h0m2-4h0m82 0h0m-169 22h0m48-8h0m21 6h0m4 1h0m13 0h0m35-7h0m-124 15h0m117-3h0m-161 11h0m26-1h0m78 8h0m22 3h0m-73 11h0m8-7h0m30 1h0m57 6h0m-115 6h0m13-2h0m-18 15h0m120 4h0m39-3h0m-400 7h0m319 0h0m-19 18h0m0-6h0m6 2h0m100-3h0m-85 22h0m93-2h0m-444 13h0m349-7h0m8 14h0m-360 17h0m3-2h0m-15 5h0m1 7h0m36 12h0m6 3h0m17 0h0m-4 15h0m257 123h0m0 14h0m5 4h0m9-8h0m63 5h0m-99 7h0m6 26h0m5 7h0m-12 11h0m19 0h0"/>
<path class="d" transform="scale(.5)" stroke="#fcad79" stroke-width="6" d="M510 2325h0m29-8h0m-1 11h0m15 4h0m-19 17h0m113-3h0m-86 8h0m45 4h0m-102 15h0m4-1h0m4 0h0m33 1h0m-62 14h0m30-7h0m41 5h0m3-8h0m8 7h0m75-7h0m-120 18h0m16-3h0m2-4h0m28 11h0m57-7h0m-84 17h0m12 0h0m6-2h0m7-5h0m3 1h0m24 7h0m-25 4h0m42 7h0m0-7h0m-149 11h0m40 0h0m22 8h0m73-1h0m25-7h0m22 7h0m-165 4h0m40 3h0m49 1h0m4 6h0m-141 5h0m14 7h0m54-3h0m60 3h0m1-8h0m27 13h0m13 3h0m39 4h0m-178 10h0m163 1h0m7-3h0m-432 24h0m270-4h0m28 5h0m69-3h0m55-3h0m-26 20h0m-86 8h0m30 1h0m30-1h0m36 4h0m-62 3h0m8 4h0m-3 11h0m42 8h0m43-7h0m-89 14h0m9 0h0m4 2h0m6-3h0m9 13h0m7-5h0m5 5h0m-378 22h0m4 0h0m3-3h0m-13 14h0m7-2h0m0 13h0m2 0h0m9 1h0m-10 11h0m7 2h0m5 4h0m9 2h0m12 7h0m13-4h0m251 126h0m-15 8h0m6 4h0m14 3h0m-32 42h0"/>
<path class="d" transform="scale(.5)" stroke="#fb905d" stroke-width="6" d="M496 2328h0m55 7h0m-36 5h0m-21 18h0m4 3h0m9-7h0m98 1h0m55-1h0m-165 20h0m13-9h0m13 1h0m44 3h0m3 4h0m-72 3h0m12 3h0m35 0h0m40-3h0m-58 19h0m-23 11h0m49-4h0m55 1h0m-162 16h0m54 1h0m64-7h0m3 3h0m26 12h0m7 3h0m-49 5h0m11 10h0m31-7h0m-96 9h0m11 11h0m5 0h0m44-5h0m30-6h0m10 7h0m0 3h0m-147 11h0m-8 12h0m19-8h0m4-1h0m8 9h0m90 0h0m21-8h0m24 5h0m-28 7h0m34 10h0m-42 15h0m61 7h0m4-6h0m-168 23h0m94-1h0m55 4h0m-89 11h0m4 1h0m2-4h0m28 4h0m3-4h0m-29 17h0m2 4h0m6 0h0m41-8h0m-395 22h0m58 9h0m311-1h0m-341 27h0m31 8h0m-34 6h0m3 1h0m264 145h0m9 0h0m5-1h0m-6 19h0m18-3h0m-2 26h0"/>
<path class="d" transform="scale(.5)" stroke="#f2704e" stroke-width="6" d="M505 2301h0m1 9h0m1 3h0m-3 8h0m3 0h0m7-5h0m3 1h0m3 10h0m9-8h0m16 6h0m-36 6h0m11 0h0m-6 23h0m24 4h0m-44 7h0m12 10h0m10-2h0m5 6h0m69 1h0m-8 12h0m0 7h0m-54 6h0m3 1h0m-24 7h0m32 4h0m12 0h0m-105 11h0m162 8h0m-176 20h0m20 14h0m12-3h0m146 7h0m3 0h0m-411 10h0m368 4h0m22-1h0m-3 28h0m-28 15h0m28-8h0m-63 19h0m13-5h0m30 5h0m-44 4h0m23 3h0m41 3h0m-33 9h0m-352 9h0m347 6h0m2 3h0m-354 33h0m13-1h0m-10 23h0m8-3h0m21 8h0m1-5h0m-8 8h0m261 130h0m3-8h0m-5 19h0m11 44h0"/>
<path class="d" transform="scale(.5)" stroke="#e55239" stroke-width="6" d="M510 2302h0m-18 12h0m4-8h0m20 1h0m1 5h0m7-3h0m5-4h0m5 7h0m2-2h0m-35 14h0m6 3h0m11-8h0m10 13h0m-8 19h0m31-7h0m1 7h0m0-11h0m-16 22h0m-47 8h0m12-1h0m34-1h0m102 19h0m-145 3h0m47 8h0m20 13h0m31 6h0m-99 8h0m48 7h0m26 10h0m11 21h0m23 22h0m-408 33h0m340 22h0m11-5h0m12 16h0m-15 7h0m3 2h0m15 3h0m12 2h0m-2 6h0m-17 11h0m-330 43h0m0 8h0m14 4h0m-20 7h0m21 1h0m266 126h0"/>
<path class="d" transform="scale(.5)" stroke="#d12b1c" stroke-width="6" d="M513 2299h0m1 3h0m2-4h0m2 5h0m-23 9h0m7-3h0m2-3h0m7 3h0m3 1h0m4-1h0m4 3h0m-26 4h0m9 0h0m8 4h0m10-4h0m5 1h0m-16 19h0m0 13h0m43-6h0m-62 19h0m96 10h0m-34 32h0m51 14h0m-51 22h0m49 19h0m-64 6h0m10 2h0m13 58h0m-17 18h0m2-3h0m16-4h0m6-4h0m-17 23h0m7 12h0m6-5h0m-17 16h0m-306 45h0m-30 14h0m12-4h0"/>
<path class="d" transform="scale(.5)" stroke="#b30905" stroke-width="6" d="M527 2301h0m-29 12h0m1-8h0m4 9h0m6-7h0m4 7h0m12-8h0m-15 11h0m10 3h0m-21 23h0m28-3h0m-24 26h0m6 10h0m15 8h0m-86 55h0m118 82h0m13 26h0m-22 18h0m-309 76h0"/>
<path class="d" transform="scale(.5)" stroke="#8f0000" stroke-width="6" d="M501 2303h0m-4 5h0m15-1h0m20 24h0m-1 68h0m-19 5h0m46 144h0m-360 79h0m18 7h0"/>
<path d="M30.1 1127.6V1454.9H357.7" fill="none" stroke="#555" stroke-width="1.7" stroke-linejoin="round"/>
<text transform="translate(39.87 1146.40) scale(1.042 1)" font-size="31.45" font-weight="bold">PTGIS</text>
<text transform="translate(56.16 1425.30) scale(0.862 1)" font-size="50.72" font-weight="bold">E</text>
<text transform="translate(154.59 1477.00) scale(0.988 1)" font-size="23.77" font-weight="bold">umap1</text>
<text transform="translate(20.10 1290.00) rotate(-90) scale(1.011 1.085) translate(-38.50 0)" font-size="23.77" font-weight="bold">umap2</text>
<rect x="125" y="1498.7" width="214.8" height="17.1" fill="url(#cb)"/>
<text x="120.59" y="1535.00" font-size="17.68" fill="#111">0</text>
<text x="186.17" y="1535.00" font-size="17.68" fill="#111">1</text>
<text x="251.49" y="1535.00" font-size="17.68" fill="#111">2</text>
<text x="317.14" y="1535.00" font-size="17.68" fill="#111">3</text>
<path d="M191.3 1498.7v3M191.3 1515.8v-3M256.4 1498.7v3M256.4 1515.8v-3M322 1498.7v3M322 1515.8v-3" stroke="#fff" stroke-opacity=".45" stroke-width="1" fill="none"/>
<g transform="translate(424.5 1454.6) scale(0.745 0.755)">
<use href="#bgs"/><use href="#ocells"/><use href="#hole" fill="#fff"/>
</g>
<path class="d" transform="scale(.5)" stroke="#e4e2dd" stroke-width="6" d="M1401 2318h0m1 5h0m-33 16h0m82 8h0m-70 11h0m57 6h0m-77 13h0m-85 31h0m-274 11h0m212 3h0m105 0h0m76 0h0m-397 5h0m286 3h0m180-1h0m-203 15h0m-267 12h0m294-3h0m97-3h0m34 6h0m8-1h0m31-6h0m-138 14h0m135-3h0m-159 15h0m4 0h0m18 8h0m39-9h0m-393 19h0m26-4h0m377-3h0m-433 14h0m50 1h0m65 0h0m320 4h0m-99 7h0m-181 8h0m355 2h0m10 8h0m-479 4h0m455 8h0m-485 8h0m495 2h0m-476 4h0m79 8h0m379 0h0m-406 12h0m49-5h0m-95 9h0m34 5h0m74-5h0m-70 44h0m7 4h0"/>
<path class="d" transform="scale(.5)" stroke="#fff0de" stroke-width="6" d="M1393 2314h0m-84 11h0m1-8h0m8 9h0m70-8h0m-3 11h0m22 1h0m26-1h0m-113 15h0m39 1h0m37 3h0m18-3h0m-111 15h0m29-8h0m79 0h0m10 3h0m3 3h0m37 0h0m-7 12h0m-184 15h0m122-8h0m-73 22h0m41-6h0m19 6h0m17-3h0m-165 12h0m179-4h0m12 3h0m-407 11h0m235 4h0m29-6h0m55 5h0m-339 8h0m38-2h0m284-1h0m1 4h0m31-5h0m7 1h0m-370 18h0m36 1h0m4-1h0m265-2h0m10 2h0m55-7h0m26 0h0m-313 22h0m150-6h0m2 2h0m114 3h0m8-6h0m-336 10h0m6-2h0m319 11h0m-341 3h0m224 1h0m5 1h0m7 6h0m8-10h0m19 9h0m55-7h0m121 0h0m-413 15h0m230 5h0m75-5h0m14 4h0m65-1h0m-410 12h0m71-4h0m16 1h0m-108 18h0m59 0h0m-52 1h0m2 3h0m41-3h0m45 7h0m355 2h0m9 2h0m5-11h0m16 8h0m0-5h0m-544 10h0m75 6h0m3 2h0m9-3h0m41-5h0m25 4h0m297-4h0m98 9h0m-479 2h0m18 8h0m18 1h0m63-7h0m216-1h0m124 8h0m24-5h0m4 1h0m21-4h0m-511 12h0m84 4h0m48 6h0m332 9h0m-401 14h0m35 0h0m28-4h0m337 12h0m22 3h0m-476 7h0m54 4h0m10-4h0m-33 15h0m1-3h0m4 0h0m45 4h0m12-4h0m-43 8h0m2 10h0m8-7h0m4-1h0m0 9h0m15-3h0m-39 14h0"/>
<path class="d" transform="scale(.5)" stroke="#fee5c5" stroke-width="6" d="M1308 2314h0m2-3h0m80-1h0m7-2h0m-60 15h0m37-5h0m14 3h0m12 4h0m-94 9h0m62-4h0m20 2h0m33 7h0m25-2h0m-136 7h0m39 3h0m33-7h0m22 8h0m26-1h0m-86 16h0m23-4h0m21 1h0m13-1h0m33-3h0m13 6h0m-174 5h0m42 3h0m4 1h0m13 4h0m73-5h0m-125 7h0m75 5h0m15-5h0m4 1h0m30 1h0m9-1h0m16 7h0m-408 14h0m300-4h0m7-7h0m17 1h0m14 8h0m68-9h0m-182 20h0m9 0h0m59 0h0m40 0h0m63-7h0m28 9h0m-384 6h0m261 0h0m6 0h0m88 4h0m31-2h0m-439 15h0m15-4h0m187-2h0m210-2h0m-377 13h0m158 9h0m16-11h0m11 5h0m91 3h0m4-8h0m16 1h0m-400 19h0m53-5h0m6-2h0m4-1h0m43 5h0m27-5h0m166 8h0m7 1h0m0 2h0m47-3h0m48-3h0m50 2h0m45-3h0m-445 11h0m1 8h0m32-3h0m11-1h0m40 0h0m139-3h0m9 6h0m16-10h0m65 7h0m5-4h0m9 0h0m85 4h0m0-3h0m21 4h0m14-5h0m5 1h0m1 4h0m8-4h0m2 2h0m10-2h0m-501 17h0m25 2h0m29-5h0m213-2h0m155 6h0m17-1h0m-377 12h0m225-3h0m91 0h0m37 2h0m5-6h0m29-1h0m-421 22h0m24-9h0m17 6h0m3 0h0m11-8h0m29 7h0m1-2h0m192 3h0m68 0h0m68-3h0m8 6h0m8-2h0m8 0h0m-510 4h0m140 2h0m22-3h0m5 8h0m159-1h0m101-3h0m42 5h0m42-9h0m11 10h0m-508 12h0m61-4h0m33 5h0m5-5h0m16 5h0m18-8h0m11 5h0m2 1h0m4 1h0m9-1h0m232-9h0m88 7h0m8-1h0m6 4h0m0-7h0m7 3h0m2-4h0m3 0h0m25 6h0m-532 10h0m39 0h0m37 3h0m1-4h0m38 4h0m194-6h0m51 6h0m118-3h0m18 0h0m36 3h0m4 1h0m-573 7h0m79-1h0m14 4h0m23-7h0m11 4h0m39 4h0m27-7h0m172 7h0m30 0h0m10-8h0m122 9h0m2-4h0m12-4h0m2 4h0m3-6h0m-372 19h0m350-3h0m3 1h0m28 6h0m1-3h0m5 0h0m2-4h0m4 7h0m-487 1h0m27 0h0m15 10h0m44-10h0m19 6h0m12 2h0m351-5h0m11 7h0m-479 4h0m50 3h0m21-2h0m369-1h0m7 8h0m3-4h0m13 1h0m-476 11h0m9-1h0m15-4h0m18 8h0m10-5h0m11 5h0m21 0h0m8-7h0m-82 12h0m9 6h0m8-8h0m2 6h0m33-6h0m5 0h0m42 0h0m4 1h0m343-1h0m19 4h0m-439 19h0m2 11h0m3 0h0m15-3h0m4 3h0m4 1h0m7 0h0m-35 3h0m2 5h0m8 0h0m261 143h0"/>
<path class="d" transform="scale(.5)" stroke="#fdd6a7" stroke-width="6" d="M1306 2307h0m6 7h0m14-2h0m42 3h0m-62 2h0m20 1h0m52 0h0m-62 11h0m8 8h0m16-3h0m49 2h0m7-3h0m37 3h0m-127 4h0m19 11h0m87-3h0m14-8h0m10 5h0m9-1h0m-158 12h0m3 3h0m17-1h0m12 2h0m15-5h0m19-1h0m12 9h0m5-1h0m1-6h0m7-1h0m15 3h0m32 4h0m18-6h0m-432 17h0m300-6h0m5 7h0m11-10h0m13 6h0m87 3h0m5-7h0m-119 12h0m44 1h0m29 7h0m19-1h0m13-7h0m14 3h0m-152 12h0m58 4h0m13 0h0m59 0h0m12 2h0m4-6h0m7-1h0m13-3h0m-390 11h0m37 7h0m162-2h0m8-2h0m15 1h0m57 2h0m93 5h0m-186 8h0m3-3h0m12 0h0m4-1h0m8-3h0m5 4h0m39 0h0m89 2h0m7-6h0m11 7h0m14 4h0m13-7h0m3 5h0m-438 9h0m3-5h0m92 4h0m109-2h0m2 6h0m25-6h0m72 8h0m9-9h0m8 3h0m1 5h0m4-7h0m3 2h0m24 4h0m9 0h0m13-4h0m12 5h0m22-1h0m26-2h0m-381 5h0m131 5h0m19 3h0m3-2h0m1-5h0m99 1h0m7 6h0m27 0h0m68-7h0m4 3h0m41 4h0m-521 15h0m1-2h0m11-5h0m16-4h0m5 8h0m18-5h0m21 5h0m12 1h0m25-2h0m152 0h0m22 0h0m5-2h0m38-2h0m41-3h0m7 11h0m18-6h0m1-4h0m25 2h0m21 5h0m20-5h0m19 8h0m30-7h0m9-4h0m2 3h0m3 5h0m-523 10h0m10-6h0m7 6h0m5-6h0m15 2h0m7 5h0m37-5h0m14 5h0m32 3h0m25 1h0m132-10h0m6 0h0m19 3h0m15-2h0m11 4h0m18 1h0m7 3h0m91 0h0m10-9h0m21 6h0m0 4h0m-476 4h0m2 4h0m15-4h0m20-1h0m19-1h0m26 5h0m187 5h0m18-8h0m68 7h0m43 0h0m13-1h0m7-2h0m4-1h0m42 5h0m29-2h0m-476 9h0m14 3h0m7-4h0m75-4h0m186 1h0m8 0h0m48 4h0m29-4h0m33 4h0m4-1h0m28 4h0m9-6h0m13 6h0m-466 7h0m4-4h0m1 11h0m64-6h0m216-1h0m78 7h0m10-9h0m21-2h0m27 1h0m2 0h0m47 0h0m-468 15h0m284 6h0m19-2h0m51-5h0m27 4h0m4 0h0m4 3h0m6-10h0m2 6h0m3-2h0m24-3h0m37 3h0m12-1h0m19 8h0m-524 12h0m18-1h0m9-8h0m24 5h0m10-5h0m30 1h0m12 7h0m6-4h0m7 0h0m55 2h0m137-8h0m26 0h0m7 10h0m7-7h0m0 8h0m49 0h0m24-1h0m7-4h0m26 1h0m13 0h0m6 4h0m2-4h0m11-3h0m2 7h0m9-6h0m4-5h0m6 0h0m4 11h0m10 0h0m3-1h0m5-6h0m-535 11h0m13 6h0m13-8h0m67 6h0m11 2h0m41-6h0m9-2h0m8 5h0m196 3h0m71 1h0m2-8h0m45 5h0m14-4h0m6 3h0m18 0h0m5-1h0m3 2h0m4-5h0m1 4h0m2-4h0m1 4h0m15-3h0m-572 19h0m42-2h0m34 1h0m13-9h0m48 8h0m13 0h0m211-6h0m57 9h0m36-9h0m44 6h0m2-4h0m16-4h0m9 6h0m8-6h0m4 8h0m2-4h0m16 5h0m3 1h0m1-6h0m3 5h0m4 0h0m4 0h0m2-5h0m-567 9h0m10 0h0m17 7h0m32-4h0m41 4h0m14-4h0m2 4h0m40-7h0m268 3h0m40 0h0m1-3h0m29 4h0m26 3h0m1-7h0m21-1h0m1 9h0m15 2h0m2-11h0m5 3h0m0 4h0m-551 8h0m15-3h0m0 6h0m12 1h0m3-3h0m24-4h0m3 11h0m11-8h0m31 0h0m11 5h0m389 3h0m8-1h0m11-10h0m1 6h0m23-2h0m-540 18h0m56 1h0m33-8h0m38-3h0m18 3h0m284 7h0m73-10h0m15 6h0m3-3h0m25-1h0m-549 16h0m96-4h0m1 8h0m4-7h0m50 6h0m4-3h0m347 0h0m8 3h0m2 1h0m14-2h0m1-2h0m-515 7h0m23 7h0m12-6h0m35-2h0m5 6h0m12 2h0m11 1h0m19-8h0m26 8h0m359-5h0m13-4h0m-445 15h0m13 0h0m12 1h0m9 0h0m-34 8h0m0 7h0m13 0h0m14-5h0m3-2h0m-22 21h0m5-8h0m262 136h0m-5 15h0m6-5h0m2 18h0m6 0h0m-12 12h0m0 14h0"/>
<path class="d" transform="scale(.5)" stroke="#fdc592" stroke-width="6" d="M1308 2303h0m-7 1h0m1 4h0m12 2h0m14-4h0m6 7h0m53-2h0m17 0h0m-122 11h0m29 1h0m2-5h0m0 7h0m8-2h0m62 2h0m-92 11h0m35-4h0m67-3h0m44 8h0m4 0h0m-158 10h0m29 4h0m10-11h0m10 1h0m13 0h0m0 7h0m6-7h0m39 7h0m26-1h0m6 4h0m25-3h0m-164 11h0m3 0h0m34-7h0m1 11h0m8-4h0m3-3h0m1 4h0m24 2h0m27-8h0m12 0h0m1-2h0m20 11h0m11-3h0m-131 11h0m10 4h0m6-2h0m12 1h0m5-8h0m0 4h0m5 1h0m7 4h0m48 0h0m20-1h0m11-10h0m26 7h0m10 3h0m-186 4h0m21-1h0m17 2h0m4 6h0m3-4h0m19-4h0m4 2h0m6 2h0m2 3h0m11-3h0m27 0h0m24 1h0m12-5h0m-429 17h0m327-1h0m7-1h0m45 0h0m2 1h0m-352 14h0m239-4h0m11 5h0m44 2h0m31-6h0m19 4h0m4-1h0m4 4h0m27-3h0m3 0h0m4-5h0m35-2h0m-445 21h0m38 0h0m197 0h0m63-7h0m18 6h0m16-3h0m0-6h0m19 11h0m-343 7h0m20 0h0m184 4h0m16-4h0m15 0h0m12 3h0m17-8h0m68 8h0m10 1h0m10-3h0m29-4h0m22 3h0m19-4h0m30 0h0m-464 15h0m230-3h0m1 6h0m28-7h0m7 5h0m20 3h0m2-5h0m14 1h0m13-4h0m29 3h0m5 7h0m8-6h0m10-3h0m44 6h0m4 0h0m8-8h0m19 8h0m11 2h0m-510 13h0m28-3h0m8 0h0m271-7h0m4 0h0m33 6h0m50-2h0m30 6h0m17-2h0m39-5h0m-469 16h0m9-8h0m6 4h0m7-3h0m3 3h0m2-4h0m89 11h0m148-5h0m4-6h0m10 4h0m49-2h0m25 1h0m46-3h0m0 8h0m1 3h0m5 0h0m8-1h0m79-2h0m-497 7h0m2 4h0m13-3h0m7 3h0m10-1h0m6-4h0m4 7h0m14-2h0m24-4h0m233-1h0m0-2h0m11 5h0m13 0h0m47 2h0m2 3h0m18-5h0m12 4h0m82-6h0m14-3h0m-501 17h0m2-3h0m22-1h0m238 4h0m129 1h0m12 3h0m9-8h0m-405 16h0m17 6h0m76-10h0m16-1h0m18 8h0m140-2h0m29-1h0m17-1h0m2 5h0m10-9h0m2 11h0m20-2h0m12-1h0m8 1h0m2 2h0m4-3h0m13-8h0m17 2h0m20 6h0m26 0h0m5 0h0m16-6h0m-513 18h0m23-5h0m3 4h0m41-3h0m94 7h0m221-7h0m22 3h0m4-6h0m12 3h0m0 7h0m2-11h0m0 3h0m3-2h0m5 0h0m23 4h0m3 2h0m18 1h0m5 3h0m-500 10h0m3-7h0m8 6h0m4 0h0m7-6h0m3 8h0m2-10h0m6 6h0m2-3h0m65 3h0m273 5h0m21-1h0m9-7h0m11-3h0m5 6h0m45 4h0m22 1h0m1-5h0m12-2h0m18 3h0m29-4h0m1 3h0m20 3h0m-573 3h0m2 6h0m1 2h0m9-6h0m2 3h0m2 4h0m10-4h0m4 3h0m113-1h0m6-4h0m43 6h0m160 1h0m26 0h0m43-8h0m43-1h0m12 2h0m3 3h0m5 0h0m34 3h0m11-4h0m8 6h0m3-8h0m18 6h0m-564 11h0m12 2h0m1-4h0m2 3h0m14-8h0m6 3h0m6 5h0m2-5h0m57 1h0m26 0h0m252 1h0m38-5h0m8 1h0m0 6h0m16 0h0m3-7h0m7 1h0m77-1h0m9 0h0m21 0h0m14 0h0m12 7h0m-585 9h0m10-1h0m1 4h0m3-4h0m7-3h0m6 10h0m2-3h0m1-3h0m3-4h0m1 4h0m8-4h0m3 7h0m3 3h0m2-3h0m11 3h0m2-11h0m13 8h0m2-3h0m5 0h0m5-4h0m339 4h0m15 2h0m56-7h0m7 5h0m27-5h0m9 5h0m5-1h0m2-3h0m12 10h0m8-6h0m6 4h0m8-2h0m-575 7h0m2 4h0m11-2h0m9 6h0m5-2h0m11 3h0m2-3h0m3 3h0m5 0h0m13-1h0m11 1h0m450-11h0m7 4h0m5 6h0m7 1h0m9 0h0m6-3h0m0-5h0m13 3h0m4-4h0m-558 14h0m2-4h0m2 9h0m8 2h0m6-9h0m3 7h0m3-3h0m1 4h0m2-7h0m2 4h0m3-1h0m2-2h0m9 5h0m16-3h0m4-1h0m26 1h0m6 4h0m337-4h0m74 1h0m14-5h0m18 1h0m-530 15h0m2 3h0m17-3h0m15-4h0m3 7h0m1-8h0m2 3h0m7-3h0m29 1h0m5 7h0m4 1h0m42 0h0m380-4h0m15-1h0m5-3h0m7 4h0m2-4h0m-524 16h0m1-5h0m23 0h0m0 7h0m2-4h0m2-4h0m33 7h0m14 0h0m1 4h0m2-3h0m-10 5h0m3-1h0m1 6h0m17 1h0m5 1h0m2-5h0m2 5h0m-22 7h0m10 7h0m9-4h0m10-6h0m11 3h0m-10 10h0m226 142h0m7 19h0m8 0h0m-13 12h0m0-5h0m14 16h0m3 3h0m3-8h0m-12 15h0"/>
<path class="d" transform="scale(.5)" stroke="#fcad79" stroke-width="6" d="M1289 2306h0m4 4h0m18-3h0m9 7h0m1-3h0m9 4h0m-44 7h0m22 0h0m16-1h0m8 4h0m15 0h0m34-7h0m32 0h0m3 7h0m17-1h0m-151 5h0m3 8h0m11-4h0m23-3h0m2 6h0m3-8h0m56 1h0m-90 22h0m4-7h0m29 3h0m2-2h0m77 6h0m53-10h0m-161 11h0m10 4h0m6-1h0m4 7h0m1-7h0m4 0h0m2 1h0m16 2h0m50 4h0m-97 6h0m12-1h0m35 0h0m57 7h0m3-7h0m44 8h0m9-8h0m-450 10h0m16 4h0m265 1h0m3-5h0m5 5h0m18-2h0m19-3h0m24 4h0m16-2h0m-378 14h0m288 0h0m3 6h0m9 0h0m5-8h0m11 1h0m8 4h0m67-4h0m39-4h0m-136 15h0m4 1h0m2 4h0m17-7h0m7 9h0m6-3h0m17-7h0m21 0h0m42 3h0m18 5h0m-196 14h0m35 1h0m31-4h0m5 3h0m26-6h0m2 3h0m2 4h0m19 0h0m5-11h0m2 6h0m6-2h0m4 0h0m-252 16h0m98-5h0m9 0h0m69-1h0m8 1h0m5 7h0m1-7h0m6 4h0m8-2h0m5 0h0m6-2h0m26-1h0m34-1h0m74 8h0m12-7h0m-522 19h0m32 2h0m223-7h0m32 1h0m11 5h0m25 0h0m45-6h0m24-2h0m125-1h0m-520 18h0m2-6h0m6 3h0m10 3h0m101-3h0m170 3h0m24 4h0m7-6h0m6-1h0m5 4h0m28-3h0m47-5h0m16 9h0m11 2h0m38 0h0m-466 12h0m7-3h0m9-8h0m1 11h0m10 0h0m4-5h0m5 2h0m234-4h0m37 4h0m8 3h0m3-9h0m5 8h0m8-8h0m14 4h0m95 2h0m26-6h0m15-2h0m-486 12h0m4 11h0m7 0h0m3-5h0m14-4h0m1 9h0m4-8h0m42 6h0m22 1h0m220-8h0m3 0h0m5 1h0m51-3h0m39 6h0m72-1h0m-477 16h0m12-6h0m6 5h0m2 0h0m14-7h0m86-1h0m165 4h0m29 5h0m0-7h0m7 0h0m23-1h0m21 0h0m5 9h0m25-7h0m2 2h0m43 1h0m34-3h0m-497 14h0m28 4h0m302-7h0m10 2h0m23 5h0m3-4h0m15-3h0m4-2h0m7 4h0m20 4h0m71-2h0m-493 17h0m0-7h0m2 4h0m7 3h0m2-10h0m1 6h0m3-6h0m1 6h0m29 1h0m306-8h0m24 11h0m5-10h0m3 9h0m2-3h0m9 0h0m5 3h0m31-6h0m10-4h0m25 3h0m2-3h0m28 4h0m29 7h0m-538 4h0m4-1h0m7-2h0m8 7h0m1-3h0m6 3h0m3 3h0m306 1h0m56-5h0m8-3h0m1 6h0m6-3h0m16-6h0m8 11h0m14-6h0m6 4h0m0-6h0m7 4h0m3 4h0m1-11h0m1 8h0m9-4h0m5-1h0m51 8h0m25-5h0m-559 9h0m3 2h0m7-5h0m6 2h0m0 8h0m9-7h0m1 3h0m3-3h0m1 7h0m4-9h0m4 8h0m1-6h0m3 6h0m6 1h0m0-3h0m139-1h0m205-5h0m5 5h0m42-3h0m39-2h0m7 2h0m14 7h0m2-4h0m13-1h0m5-2h0m-531 18h0m9-9h0m4 1h0m4 8h0m2-9h0m1 4h0m3-3h0m9 9h0m3-2h0m6-6h0m3 6h0m1-8h0m4 5h0m4-4h0m4 7h0m3 1h0m1-7h0m17 6h0m1-2h0m123-1h0m159 0h0m8-1h0m14 4h0m2 3h0m53-6h0m18 5h0m13-6h0m3 1h0m24-3h0m12-1h0m-508 13h0m13 2h0m2 5h0m4 0h0m10-2h0m2 4h0m5 0h0m5-8h0m0-2h0m8 3h0m2-4h0m0 9h0m1-6h0m0 8h0m2-4h0m1-6h0m2 2h0m3 0h0m7 6h0m6 2h0m3-2h0m129-8h0m257 6h0m23 0h0m7 4h0m48-4h0m1-7h0m7 7h0m4-4h0m5-2h0m0 7h0m4-5h0m-560 9h0m11 10h0m1-4h0m15-2h0m6 6h0m8-6h0m6 4h0m1-8h0m9 3h0m9 0h0m3 4h0m14-7h0m367 10h0m2-10h0m18 10h0m8-10h0m3 7h0m44 0h0m8-1h0m4 1h0m2 3h0m10 1h0m13-8h0m6 3h0m-555 9h0m2-3h0m0 7h0m8-1h0m3-3h0m2 4h0m0-7h0m7 6h0m12 4h0m1-7h0m7 7h0m3-3h0m7-4h0m49 2h0m356 4h0m59 0h0m5-8h0m7 2h0m1 7h0m5 0h0m4-1h0m3 0h0m4-2h0m1 2h0m5 0h0m4-7h0m0 8h0m-529 7h0m3 5h0m3-2h0m3-7h0m11 7h0m7 2h0m60-2h0m11-3h0m316-4h0m4 1h0m75-1h0m3 0h0m4 1h0m18 8h0m-526 3h0m18 5h0m6-5h0m12 2h0m6-3h0m12 0h0m33 11h0m419-10h0m2 2h0m-439 17h0m49-1h0m-13 5h0m245 151h0m1-2h0m9-1h0m-22 15h0m6-7h0m-5 14h0m4 9h0m13-8h0m5-1h0m-17 16h0m9-1h0m-11 10h0m8 8h0m-7 4h0m9 8h0m0-7h0"/>
<path class="d" transform="scale(.5)" stroke="#fb905d" stroke-width="6" d="M1291 2314h0m3 0h0m6-2h0m4-8h0m27 6h0m65 0h0m-107 16h0m7-1h0m45-4h0m63-2h0m-112 13h0m12 5h0m12 0h0m16-3h0m-51 10h0m12 3h0m2 2h0m18-1h0m1-7h0m22 6h0m3-6h0m-64 21h0m18 1h0m15-1h0m111-2h0m-133 13h0m8-7h0m69 1h0m91 6h0m-168 8h0m1-3h0m8 3h0m22 5h0m0-7h0m13 3h0m34 0h0m-79 14h0m9-8h0m8 2h0m14 7h0m42-9h0m-83 13h0m15 2h0m7-2h0m3 7h0m7-3h0m6-4h0m13 0h0m17 2h0m87 5h0m-388 15h0m218-5h0m33-4h0m12 1h0m0 7h0m2-10h0m3 11h0m16 0h0m131-4h0m-192 16h0m48-8h0m-334 19h0m251 1h0m10-10h0m31 1h0m3 6h0m105 1h0m28-5h0m-469 8h0m2 4h0m5 0h0m5-4h0m2 3h0m2-3h0m13 9h0m2-6h0m9 2h0m232-1h0m12-4h0m1 3h0m14 2h0m32 4h0m15-5h0m13 1h0m61-3h0m8 2h0m3 4h0m71-7h0m26 1h0m-527 10h0m12 4h0m4-1h0m2 3h0m2-4h0m8 0h0m4 5h0m244 0h0m42-7h0m9 1h0m6 10h0m3-4h0m13-1h0m2-3h0m47 7h0m8-6h0m14 0h0m83-4h0m-486 23h0m2-11h0m3 2h0m7-2h0m8 6h0m3 3h0m1-3h0m241-1h0m46 4h0m3 0h0m0-5h0m14 6h0m53-4h0m27 3h0m-419 9h0m5-5h0m4 8h0m16-4h0m2-3h0m280 0h0m9 1h0m15 1h0m2 5h0m6-2h0m40-4h0m7 2h0m29 3h0m0-3h0m7 5h0m8-4h0m58-5h0m-484 12h0m12 6h0m5-5h0m269 4h0m6-6h0m38 9h0m4-2h0m13 1h0m34-7h0m10 0h0m3 7h0m6 1h0m6-3h0m5 2h0m4-2h0m0-5h0m1 7h0m13 1h0m3-4h0m6 4h0m7 0h0m-459 6h0m299 4h0m40-6h0m2 2h0m6-2h0m5 3h0m13 0h0m7-3h0m8 7h0m11-5h0m2 4h0m2-4h0m1 7h0m18-3h0m3-4h0m8 4h0m4 0h0m3-7h0m4 1h0m4 7h0m2-7h0m-464 21h0m4 0h0m2-4h0m0-4h0m14 1h0m1 4h0m11-7h0m56 2h0m262 6h0m37-1h0m4-2h0m2 6h0m11-7h0m4-1h0m8-1h0m1 4h0m3-4h0m1 4h0m4-3h0m0 7h0m5-1h0m6-6h0m13-1h0m7 0h0m1 5h0m4-7h0m11 10h0m1-3h0m3-3h0m-505 18h0m4-1h0m7-3h0m2 3h0m12-6h0m1 7h0m2-5h0m11 5h0m9-4h0m5-1h0m4 1h0m363 1h0m11 3h0m6-4h0m5 3h0m8 0h0m21-4h0m1 4h0m4 0h0m-472 9h0m19 4h0m3-5h0m5 0h0m15 1h0m3-5h0m4 8h0m2-5h0m4-3h0m375 3h0m10-3h0m35 0h0m14 4h0m16 3h0m-509 11h0m3-7h0m8 11h0m2-4h0m1 3h0m5-7h0m1 8h0m4-7h0m2-3h0m8 7h0m3-5h0m9-3h0m0 4h0m383-4h0m19 1h0m39 2h0m5 0h0m1 4h0m56-3h0m9 1h0m-549 10h0m2 5h0m1-5h0m7 5h0m9-8h0m6 3h0m3 4h0m2 3h0m7-6h0m6 0h0m9-4h0m3 3h0m9 7h0m363-4h0m11-2h0m7 3h0m4-7h0m5 10h0m8-10h0m14 11h0m2-11h0m49 3h0m4-2h0m9 5h0m1-4h0m2 4h0m10 5h0m4-3h0m-547 14h0m3-3h0m9-5h0m3 4h0m3 3h0m4-7h0m12 8h0m3-3h0m7-5h0m8 7h0m376-2h0m2-5h0m1 7h0m12 2h0m6-5h0m60 0h0m4-2h0m8 6h0m12-7h0m10 2h0m9 2h0m-550 7h0m9 0h0m2 2h0m4 2h0m2-4h0m1 6h0m3-6h0m8 2h0m2 2h0m26-4h0m462 3h0m15 1h0m10 0h0m-506 11h0m485-5h0m12 0h0m-174 191h0m2-5h0m8 0h0m-18 13h0m3-5h0m3 8h0m5-8h0m-4 18h0m0-5h0m8 3h0m4-1h0m-11 25h0"/>
<path class="d" transform="scale(.5)" stroke="#f2704e" stroke-width="6" d="M1283 2303h0m16 11h0m-11 3h0m2 6h0m2 2h0m2-3h0m3-3h0m3-2h0m1 8h0m32-3h0m32 3h0m-86 8h0m8-5h0m3 2h0m8 7h0m0-7h0m10 4h0m40-2h0m-46 16h0m37 1h0m6-5h0m-67 9h0m1 10h0m5-7h0m11 4h0m37 3h0m-53 8h0m11 3h0m158 0h0m-146 10h0m1-3h0m5 4h0m54 1h0m-78 5h0m3 2h0m4 4h0m6-4h0m3-4h0m0 10h0m1-5h0m2 3h0m8-8h0m39-1h0m94 7h0m-165 13h0m19 3h0m17-6h0m23-5h0m-60 12h0m18 9h0m4 2h0m4-4h0m11-1h0m86-4h0m-181 15h0m1-3h0m44 0h0m1 4h0m7 4h0m19-3h0m-350 10h0m259-5h0m98 5h0m10 3h0m-97 6h0m5-2h0m39 0h0m46 11h0m2-10h0m32 6h0m26-6h0m-421 14h0m5-1h0m2-2h0m7 10h0m10-3h0m245-7h0m34 2h0m7 9h0m4-8h0m5 1h0m16 6h0m91-7h0m-423 12h0m6-3h0m24 11h0m7-9h0m7 3h0m269 5h0m5-1h0m11-3h0m2 4h0m1-7h0m3 7h0m41-5h0m12 6h0m28-9h0m-413 11h0m22 2h0m6 7h0m293-2h0m3-2h0m2 3h0m7-3h0m54 0h0m-407 14h0m316-2h0m28-5h0m18 8h0m2-4h0m3 6h0m5-7h0m23 3h0m12-6h0m9 3h0m15 2h0m17-2h0m-439 19h0m337-5h0m4-5h0m1 4h0m11 6h0m4-7h0m10-4h0m22 8h0m22 2h0m9 0h0m5 0h0m5-7h0m5 8h0m22-11h0m-495 23h0m39-8h0m343-3h0m4 7h0m7-4h0m3-1h0m1 7h0m21 1h0m5-4h0m8 5h0m11-11h0m3 4h0m3-2h0m5-2h0m42 10h0m-506 8h0m6-3h0m8 5h0m19-3h0m382 4h0m14-4h0m7 3h0m2-2h0m4-1h0m1 5h0m4-5h0m3 2h0m1-4h0m6 7h0m1-7h0m1 2h0m5 4h0m10-6h0m7-1h0m6 8h0m-472 7h0m10 3h0m3-8h0m6 2h0m2 4h0m388 4h0m2-6h0m14 2h0m23-4h0m22 7h0m5-8h0m-490 15h0m0 4h0m6-7h0m24 0h0m393 7h0m17-1h0m4 0h0m1 4h0m2-3h0m2-8h0m8 1h0m8 7h0m7 3h0m8-8h0m7 5h0m12 0h0m1-7h0m4 1h0m25 8h0m-527 2h0m19 7h0m4-1h0m11-4h0m404 2h0m6 4h0m9-2h0m8 1h0m2 4h0m3-4h0m3 0h0m7-4h0m65 1h0m11 2h0m-111 6h0m13 7h0m3-5h0m3 1h0m0 4h0m13-3h0m63 3h0m12-2h0m-527 9h0m9 6h0m509-2h0m2-4h0m-481 19h0m321 167h0m-7 15h0m6-11h0m5 17h0m-14 20h0m4-1h0m3 33h0"/>
<path class="d" transform="scale(.5)" stroke="#e55239" stroke-width="6" d="M1270 2288h0m5 15h0m39 0h0m-28 3h0m47 1h0m-55 14h0m2 4h0m4 1h0m-2 10h0m25-7h0m-26 22h0m4-8h0m0 8h0m16-11h0m28 11h0m-41 12h0m9-8h0m99 7h0m-116 5h0m1 6h0m2-3h0m3-3h0m12-3h0m2 2h0m-4 12h0m16 3h0m11-4h0m4 8h0m4 0h0m3-3h0m9 2h0m-66 13h0m6-8h0m25 8h0m40-4h0m-59 18h0m4-8h0m6 15h0m21-6h0m4 7h0m-29 11h0m3 2h0m9-5h0m-367 17h0m432 12h0m87 0h0m-486 10h0m268-6h0m128 7h0m-109 11h0m18-3h0m5 0h0m57 8h0m-381 3h0m300 3h0m9-3h0m14-1h0m30 7h0m46-2h0m-96 15h0m26-8h0m45 4h0m19 3h0m-62 11h0m16-4h0m5-2h0m56 6h0m14 1h0m10-5h0m-104 16h0m11 2h0m20-2h0m6-3h0m0 6h0m26 1h0m-54 4h0m6 0h0m9 2h0m4-2h0m4 7h0m2-8h0m19 9h0m11-6h0m-58 11h0m19-3h0m9 1h0m12 7h0m1-3h0m4-6h0m0 9h0m1-5h0m2-3h0m5 7h0m3 0h0m12-2h0m6-4h0m14 7h0m-62 11h0m14-4h0m6-3h0m3 3h0m3 4h0m1 3h0m2-11h0m1 5h0m5-1h0m2-4h0m2 8h0m8-8h0m16 1h0m-65 11h0m7 0h0m1 6h0m5 0h0m14 4h0m6-9h0m10 1h0m9 2h0m4 0h0m5 0h0m40-3h0m7 3h0m18 7h0m-535 3h0m45 4h0m377-4h0m7 0h0m13 8h0m8-7h0m2-3h0m85 3h0m5 4h0m-180 200h0"/>
<path class="d" transform="scale(.5)" stroke="#d12b1c" stroke-width="6" d="M1272 2299h0m3-4h0m2 4h0m1-2h0m-1 9h0m4 9h0m2-4h0m34 0h0m-39 7h0m15 0h0m39-1h0m-49 15h0m11 5h0m-16 3h0m15 1h0m9 3h0m-22 12h0m-2 17h0m5-9h0m5 7h0m7 13h0m12 6h0m-82 21h0m66-3h0m2-7h0m6 4h0m5 3h0m-82 12h0m73-1h0m-6 10h0m-81 18h0m6 6h0m61-2h0m33-3h0m-47 18h0m3 4h0m28 18h0m-7 13h0m67-5h0m22 8h0m-91 15h0m25 3h0m59 9h0m4-8h0m-89 16h0m97-5h0m-50 18h0m2-4h0m14 1h0m4 1h0m5-4h0m5 7h0m11-4h0m6 3h0m-54 4h0m3 5h0m0-5h0m3 4h0m10 0h0m8 0h0m5-3h0m10 8h0m-31 3h0m4 3h0m5 0h0m13 1h0m12 3h0m4-6h0m3 7h0m3 2h0m-48 2h0m14 6h0m28-3h0m-110 205h0"/>
<path class="d" transform="scale(.5)" stroke="#b30905" stroke-width="6" d="M1273 2292h0m6 11h0m3-3h0m4 1h0m-10 13h0m3-4h0m8-6h0m0 30h0m7-4h0m-16 17h0m10-6h0m0 7h0m45-3h0m-34 28h0m44 4h0m-60 24h0m-59 21h0m38 68h0m28 19h0m74 30h0m-48 14h0m38 0h0m9 0h0m-42 16h0m22 3h0m2 4h0m3-5h0m9-1h0m19 6h0m-36 6h0m22 5h0m4-7h0m0 5h0m-18 9h0m-79 235h0"/>
<path class="d" transform="scale(.5)" stroke="#8f0000" stroke-width="6" d="M1280 2308h0m19 52h0m1 11h0m-1 25h0m21 156h0m20 13h0m-4 25h0"/>
<path d="M424.5 1127.6V1454.9H752" fill="none" stroke="#555" stroke-width="1.7" stroke-linejoin="round"/>
<text transform="translate(432.27 1146.00) scale(1.044 1)" font-size="31.45" font-weight="bold">PTGIS</text>
<text transform="translate(447.98 1422.70) scale(0.916 1)" font-size="50.72" font-weight="bold">F</text>
<text transform="translate(549.08 1477.00) scale(0.993 1)" font-size="23.77" font-weight="bold">umap1</text>
<text transform="translate(416.20 1290.00) rotate(-90) scale(1.011 1.085) translate(-38.50 0)" font-size="23.77" font-weight="bold">umap2</text>
<rect x="520" y="1498.7" width="214.2" height="17.1" fill="url(#cb)"/>
<text x="515.09" y="1535.00" font-size="17.68" fill="#111">0</text>
<text x="568.37" y="1535.00" font-size="17.68" fill="#111">1</text>
<text x="621.59" y="1535.00" font-size="17.68" fill="#111">2</text>
<text x="674.74" y="1535.00" font-size="17.68" fill="#111">3</text>
<text x="727.54" y="1535.00" font-size="17.68" fill="#111">4</text>
<path d="M573.5 1498.7v3M573.5 1515.8v-3M626.5 1498.7v3M626.5 1515.8v-3M679.6 1498.7v3M679.6 1515.8v-3" stroke="#fff" stroke-opacity=".45" stroke-width="1" fill="none"/>
<g transform="translate(32.7 1898.2) scale(0.745 0.755)">
<use href="#bgs"/><use href="#ycells"/><use href="#hole" fill="#fff"/>
</g>
<path class="d" transform="scale(.5)" stroke="#e4e2dd" stroke-width="6" d="M413 3173h0m21 1h0m-34 11h0m40-1h0m-58 19h0m29-7h0m22 0h0m2-3h0m-60 22h0m11-4h0m26 1h0m4 0h0m-22 8h0m4 5h0m186 1h0m-197 7h0m20 1h0m22 8h0m26 7h0m-39 7h0m21 7h0m9 0h0m135-10h0m-191 19h0m139-8h0m-133 22h0m68 0h0m-55 8h0m159 4h0m-12 7h0m48 0h0m18 11h0m-59 29h0m99-6h0m-62 17h0m44 3h0m4-6h0m-38 14h0m-16 9h0m48 4h0m15 2h0m13 1h0m-106 4h0m15 2h0m12-2h0m59 0h0m2-3h0m7 9h0m-62 12h0m14 0h0m12-7h0m18 5h0m21-6h0m8 8h0m-72 19h0m7 4h0m19-2h0m-24 13h0m-23 8h0m52 7h0m22-8h0m-3 18h0m-73 8h0m-2 205h0m-57 86h0"/>
<path class="d" transform="scale(.5)" stroke="#fff0de" stroke-width="6" d="M419 3171h0m3 7h0m-37 11h0m12-3h0m15 3h0m15-3h0m1 2h0m11-7h0m3 1h0m-72 21h0m8 0h0m1-3h0m6-7h0m1 3h0m7 4h0m9-7h0m5 4h0m2 6h0m1-2h0m35-1h0m-73 8h0m1-4h0m1 8h0m8 0h0m17-1h0m2 3h0m5-7h0m131 4h0m-155 8h0m10 4h0m4-7h0m5 6h0m2 5h0m5-1h0m11-10h0m25 0h0m4 8h0m5-8h0m-72 17h0m8 4h0m10-3h0m2-4h0m19 0h0m18 3h0m85 2h0m74-1h0m39-1h0m-260 11h0m5 4h0m12-4h0m2 5h0m0-7h0m13 7h0m3-1h0m3-2h0m36-5h0m2 3h0m200 4h0m-274 7h0m3-2h0m18 10h0m7-2h0m5 2h0m14-6h0m18 0h0m11 3h0m1-5h0m43 1h0m2 5h0m18-9h0m33 1h0m-163 14h0m44 4h0m4-3h0m3 4h0m2-4h0m24-3h0m57 10h0m-135 10h0m11-7h0m13 0h0m16 4h0m5 0h0m28-4h0m5 4h0m3 5h0m2-5h0m0-6h0m66 6h0m35-3h0m-177 15h0m10 0h0m18-5h0m17 0h0m31 0h0m91 4h0m-152 11h0m0-3h0m133 4h0m-95 11h0m56 7h0m76-7h0m-58 11h0m3 4h0m24-3h0m17 7h0m3-8h0m17-3h0m69 3h0m19 5h0m-85 5h0m16 5h0m6 4h0m27-4h0m15 15h0m-194 4h0m12 10h0m169-8h0m0 8h0m18-11h0m-67 19h0m6-3h0m45-2h0m3 9h0m17 0h0m-199 4h0m201 7h0m-89 8h0m7 2h0m29 7h0m13 3h0m1 2h0m8-6h0m-63 15h0m61 6h0m30-7h0m-69 8h0m57 4h0m-106 14h0m32-5h0m12 9h0m44-9h0m7 9h0m11-8h0m-90 25h0m3 6h0m-65 178h0m58 4h0m16-4h0m-72 33h0m41 11h0m-4 37h0m-33 11h0"/>
<path class="d" transform="scale(.5)" stroke="#fee5c5" stroke-width="6" d="M405 3179h0m9 0h0m5-1h0m11-4h0m-47 16h0m11-7h0m5 6h0m0-7h0m5 6h0m3-2h0m7-1h0m3 3h0m0-7h0m3 0h0m-44 20h0m16-7h0m3 4h0m1-6h0m5 9h0m9-9h0m12 0h0m6 9h0m9-5h0m-67 15h0m24-7h0m5 1h0m2 4h0m21 6h0m6-3h0m17-5h0m1-3h0m4 0h0m0 5h0m51 0h0m24-1h0m13 1h0m-166 15h0m5-1h0m1 3h0m13-1h0m37-9h0m6 11h0m3-5h0m3 1h0m3 4h0m7 0h0m4-5h0m66-4h0m14 5h0m13 0h0m11-3h0m39-2h0m51 8h0m-275 9h0m2-6h0m1 8h0m9 1h0m0-7h0m7 5h0m4 3h0m7-5h0m3-3h0m1 6h0m2 0h0m0-6h0m3 2h0m5 2h0m5-5h0m12 3h0m10 5h0m5 0h0m-72 3h0m22 8h0m29 2h0m10-1h0m10-5h0m63 3h0m69-8h0m-200 20h0m10-3h0m4 0h0m6 3h0m9-6h0m2 7h0m7-1h0m1-7h0m8 7h0m11-3h0m7-2h0m4 4h0m3-3h0m2 7h0m2-11h0m4 11h0m36-3h0m4-8h0m4 2h0m19-1h0m-141 19h0m1-4h0m1 6h0m10-3h0m4 0h0m2 3h0m1-7h0m5 8h0m5-1h0m24 0h0m6-9h0m11 9h0m1-7h0m2 4h0m1 4h0m1-8h0m6 5h0m4-5h0m69 4h0m20 3h0m-165 13h0m7-6h0m5 6h0m1-9h0m9 7h0m3 1h0m1-3h0m5-2h0m3 5h0m11-3h0m2-4h0m1 3h0m2-6h0m7 5h0m12 5h0m1-3h0m2-4h0m10 6h0m1-9h0m3 2h0m25 9h0m17-2h0m77-3h0m-208 8h0m4 0h0m1 6h0m3 1h0m0-7h0m2 4h0m24 4h0m3-5h0m11 5h0m164 0h0m-188 2h0m12 1h0m4 0h0m136 10h0m7-9h0m7 3h0m3 6h0m38-10h0m-74 21h0m33-9h0m13 0h0m14 10h0m-30 8h0m3 3h0m8 1h0m6-11h0m29 11h0m19-3h0m-134 6h0m60 1h0m52-2h0m31 1h0m-151 15h0m51 0h0m15 5h0m18-9h0m14 3h0m29 4h0m4 0h0m17-7h0m21 1h0m-129 18h0m30-5h0m24 4h0m14-6h0m30 0h0m-136 19h0m25 0h0m9 0h0m52-1h0m23 0h0m5 3h0m3 0h0m15-9h0m2 7h0m2-5h0m15 5h0m-120 10h0m5-1h0m42-2h0m54 8h0m1-8h0m12 0h0m25 4h0m1-4h0m1 7h0m-171 11h0m57-7h0m7 3h0m32-4h0m9 7h0m24-5h0m10 7h0m13-7h0m11 3h0m6-6h0m-111 20h0m53-6h0m16-1h0m3 4h0m2 2h0m24 4h0m2-2h0m6-8h0m-103 17h0m15-1h0m23 2h0m28-2h0m7-4h0m18 7h0m4-1h0m5-6h0m-87 13h0m6 6h0m6-2h0m33-1h0m2-3h0m2 4h0m4 1h0m3 4h0m15-4h0m1-7h0m4 6h0m3 5h0m0-8h0m-411 12h0m305 6h0m7-8h0m76 6h0m11 2h0m14-6h0m-110 11h0m5 3h0m78 0h0m8-3h0m16 0h0m-156 188h0m19 5h0m-13 15h0m4-1h0m11 4h0m12-7h0m-19 18h0m-32 13h0m4 0h0m3-4h0m22 3h0m-5 10h0m-2 13h0m29-7h0m-36 17h0m40 4h0m-28 11h0m31 14h0"/>
<path class="d" transform="scale(.5)" stroke="#fdd6a7" stroke-width="6" d="M421 3174h0m11 4h0m5-3h0m-50 11h0m2 3h0m6 1h0m30-9h0m5 1h0m4 0h0m2 4h0m88 3h0m-136 12h0m12-5h0m14 5h0m4-9h0m8 6h0m6-4h0m10 9h0m2-9h0m4 0h0m60-1h0m24 3h0m-157 12h0m3 4h0m1-5h0m2 8h0m6-10h0m2 9h0m2-10h0m0 6h0m5-2h0m7 4h0m4-1h0m3-3h0m11 5h0m14-6h0m89 5h0m71-4h0m-212 14h0m6 1h0m5 3h0m9-7h0m2 3h0m2-3h0m6 8h0m2 0h0m1-8h0m14 0h0m22-1h0m56 1h0m14 4h0m27 4h0m-161 3h0m25 7h0m9 1h0m3-3h0m1-7h0m2 5h0m3-4h0m4 2h0m8 3h0m7 0h0m3 3h0m94 2h0m-161 2h0m3 10h0m8 0h0m4-6h0m3-4h0m9 10h0m3-9h0m13 7h0m8-8h0m122-1h0m37 9h0m-210 14h0m15-11h0m2 4h0m13 7h0m36-11h0m5 7h0m95 2h0m82-8h0m-248 17h0m4-5h0m13 5h0m14 1h0m5-7h0m1 10h0m1-4h0m6-3h0m3-3h0m8 7h0m4 3h0m3-8h0m14 2h0m6 3h0m124 0h0m60-7h0m-261 14h0m1 4h0m28 5h0m9-2h0m17-5h0m48 6h0m29 0h0m70-1h0m38-6h0m30 7h0m-259 3h0m12 2h0m16 3h0m2-5h0m5 5h0m37-3h0m25 2h0m2-3h0m59 6h0m14 0h0m1-2h0m23-5h0m12 4h0m57 0h0m-264 9h0m14-2h0m4 0h0m47 8h0m59 1h0m3-4h0m50-5h0m3 1h0m17 8h0m8-4h0m19-4h0m-184 11h0m138 8h0m5-7h0m-77 13h0m23 4h0m32-2h0m17 6h0m-134 12h0m65-4h0m39-1h0m13 0h0m18 0h0m7 1h0m76 4h0m-153 2h0m17 4h0m53 6h0m7-5h0m7-3h0m14 9h0m0-7h0m18 1h0m3-1h0m8 5h0m18-5h0m2 5h0m-128 8h0m2 4h0m52-1h0m1 3h0m2-3h0m10-7h0m6 10h0m0-7h0m30 0h0m11 3h0m1-2h0m8-5h0m-89 18h0m5 2h0m4 2h0m3-4h0m21 5h0m15-4h0m9 4h0m6-8h0m1 4h0m14-6h0m13 5h0m-111 13h0m20 3h0m29 1h0m2-9h0m14 4h0m5 3h0m5-7h0m4-1h0m0 6h0m6 4h0m6-5h0m1-4h0m11 5h0m19-5h0m-202 15h0m83 0h0m19 4h0m8-8h0m18 0h0m3 5h0m6-2h0m15 1h0m2 1h0m5 4h0m1-4h0m5 0h0m20-1h0m-127 12h0m72 3h0m7-4h0m11 7h0m2-3h0m20-4h0m8 4h0m12 0h0m13-8h0m-46 13h0m6 6h0m11-4h0m2 0h0m9 8h0m-111 1h0m11 10h0m20-6h0m6-4h0m7 10h0m5-1h0m10-9h0m21 10h0m15-3h0m8-1h0m12-6h0m2 5h0m3-5h0m-116 22h0m42-4h0m57-4h0m-95 15h0m28-3h0m70 8h0m2-6h0m-82 8h0m3 5h0m-88 185h0m4-3h0m18 3h0m61-8h0m-84 12h0m4 1h0m8 6h0m9-6h0m5 6h0m9-7h0m12 0h0m-50 20h0m10-8h0m7 0h0m9 6h0m10-6h0m29-1h0m23 5h0m-89 13h0m17 0h0m4 1h0m6 5h0m-21 14h0m9 7h0m9 1h0m16-2h0m17-6h0m16 26h0m-34 29h0"/>
<path class="d" transform="scale(.5)" stroke="#fdc592" stroke-width="6" d="M411 3178h0m29-1h0m-36 5h0m3-1h0m18 8h0m-48 6h0m7 5h0m22-7h0m7-1h0m26 8h0m2-3h0m66-2h0m35 3h0m-157 16h0m4-6h0m3 6h0m1-7h0m26 0h0m6 5h0m8-1h0m14 1h0m4 0h0m91-7h0m1 9h0m2-2h0m65-1h0m6-3h0m-245 8h0m3 3h0m7 5h0m36-1h0m4-5h0m2 5h0m9 1h0m11-1h0m84-7h0m22 4h0m4 7h0m77-2h0m-233 4h0m24 4h0m31-3h0m2 4h0m59-3h0m-130 11h0m45 3h0m5 0h0m11-1h0m55 6h0m42-9h0m-144 18h0m3-2h0m22 3h0m12-3h0m5-5h0m53 1h0m41 10h0m44-11h0m25 3h0m48-2h0m-253 14h0m1 8h0m5-10h0m26-1h0m19 10h0m4-4h0m20 2h0m32-6h0m37 4h0m11 4h0m16 1h0m42-10h0m-214 12h0m37 2h0m34-1h0m92 9h0m16-9h0m10 1h0m29 7h0m-213 12h0m33-4h0m78-1h0m13-4h0m34 5h0m30 0h0m28 3h0m-111 11h0m44 0h0m32-4h0m24-3h0m4-1h0m-103 16h0m6 4h0m1-8h0m5 5h0m25 2h0m6 3h0m33-5h0m21 1h0m39-3h0m-208 16h0m171-1h0m1 5h0m2-9h0m19-2h0m5 9h0m-187 6h0m126-1h0m16 8h0m9 0h0m18-1h0m8-8h0m22 8h0m-183 13h0m123-5h0m20 1h0m14-1h0m15-5h0m4 1h0m14 4h0m4-4h0m-94 18h0m9-7h0m2 5h0m11-5h0m23 8h0m6-8h0m3 3h0m1 5h0m8-3h0m3-5h0m13 4h0m-206 18h0m113-8h0m20 2h0m16-2h0m17 8h0m4 1h0m4 0h0m12-11h0m-40 15h0m4 0h0m0 4h0m1 4h0m1-4h0m20 3h0m6 0h0m5-4h0m1 3h0m6 0h0m2-4h0m16-2h0m4 7h0m14-5h0m2-3h0m-103 16h0m9-1h0m43 0h0m1-4h0m15 1h0m17-1h0m3 1h0m1 7h0m16-1h0m0-5h0m14-2h0m-195 12h0m82 8h0m16-8h0m4 7h0m1-7h0m17 2h0m35 0h0m12 4h0m6-3h0m-177 8h0m13 8h0m55 2h0m9-10h0m0 4h0m10 4h0m3 3h0m3-8h0m6 4h0m9 0h0m8 4h0m20 0h0m31-7h0m14 4h0m-108 8h0m17 2h0m57 4h0m-73 8h0m12 3h0m15 0h0m7-4h0m6-4h0m54 5h0m5-1h0m-81 8h0m1 5h0m55-5h0m4 1h0m9 4h0m-80 7h0m72 6h0m-371 12h0m228 157h0m10 10h0m8 3h0m3-7h0m31 0h0m-50 13h0m33 2h0m43 5h0m-87 10h0m5 0h0m4-6h0m5 4h0m12-4h0m15 3h0m41-5h0m4 8h0m-90 15h0m22 0h0m1-11h0m1 4h0m-19 12h0m14-2h0m13 2h0m28 2h0m-54 13h0m3-4h0m16 1h0m7 2h0m22 1h0m0 4h0m-48 9h0m9-8h0m33 9h0m10-7h0m9 4h0m-50 8h0m33 5h0m-34 6h0m50 6h0m-34 9h0m12 0h0"/>
<path class="d" transform="scale(.5)" stroke="#fcad79" stroke-width="6" d="M435 3177h0m-17 9h0m6 0h0m9 2h0m82 2h0m3-3h0m-99 14h0m3-3h0m93-1h0m8 6h0m0-10h0m16 7h0m5-1h0m-132 6h0m30 7h0m68-5h0m2 1h0m26-3h0m-117 21h0m13-8h0m4 1h0m5 0h0m-2 10h0m4 1h0m106 1h0m-138 11h0m10 3h0m1-5h0m104 9h0m37-4h0m53 3h0m-209 15h0m14-10h0m92 4h0m16 3h0m20-3h0m8 6h0m3 0h0m-150 7h0m3-3h0m8 0h0m28-3h0m74 2h0m0 16h0m13-4h0m4 4h0m8-4h0m1 8h0m11-8h0m-144 20h0m166-5h0m72-4h0m-144 14h0m4 1h0m24 5h0m0-5h0m18-4h0m6 8h0m38-8h0m32 5h0m-136 18h0m13 0h0m13-8h0m6-3h0m11 3h0m11 5h0m20-4h0m25 0h0m2 3h0m1 4h0m58-10h0m-90 17h0m12-6h0m1 7h0m1-5h0m14 8h0m26-7h0m40 3h0m-82 15h0m1-7h0m14 4h0m6 3h0m11-3h0m-137 12h0m58 2h0m22 1h0m6-4h0m8-3h0m1 6h0m2 1h0m7-5h0m-86 11h0m68 8h0m7-4h0m19-7h0m8 11h0m3-6h0m2-5h0m8 5h0m7 3h0m-179 5h0m20 7h0m136 2h0m13-6h0m40 4h0m-79 11h0m25 3h0m9 1h0m7-9h0m10 0h0m-64 16h0m37-2h0m12 5h0m8-6h0m27 2h0m17 5h0m-112 11h0m14-9h0m6 4h0m29-4h0m1 5h0m5-1h0m3 5h0m0 2h0m20-10h0m32 4h0m-147 11h0m43 0h0m4 7h0m20 0h0m7-11h0m52 0h0m4 7h0m-90 15h0m90-7h0m-79 18h0m5 1h0m25-9h0m3 8h0m-25 5h0m-1 14h0m-79 187h0m20-4h0m5-7h0m32 10h0m10-4h0m-70 19h0m2 4h0m4 0h0m7 4h0m-9 14h0m6-10h0m-12 22h0m2-11h0m3 11h0m1-5h0m2-2h0m8 6h0m3-2h0m1-5h0m-22 11h0m9 7h0m5-2h0m25-1h0m-32 7h0m2 5h0m11 4h0m1 2h0m5 8h0m16 0h0m9-6h0m-38 21h0m32-10h0m1 3h0m2 4h0m-26 4h0m28 0h0m2 6h0m1-3h0"/>
<path class="d" transform="scale(.5)" stroke="#fb905d" stroke-width="6" d="M428 3179h0m-19 7h0m37 3h0m82 1h0m-112 7h0m94 0h0m15-5h0m9 8h0m1-7h0m-110 11h0m15 11h0m8-1h0m81-3h0m-102 13h0m10-8h0m8 10h0m9-8h0m70 1h0m2 3h0m16 1h0m25-4h0m-154 11h0m5 9h0m10-9h0m4 7h0m3 1h0m87 0h0m27-4h0m-132 15h0m8 0h0m8-8h0m2 7h0m91-2h0m3 0h0m19 4h0m1-9h0m6 8h0m-143 7h0m17-1h0m2 4h0m80-3h0m15 5h0m18-1h0m0-7h0m5 7h0m51-8h0m-173 15h0m3 4h0m16 1h0m80 2h0m7-2h0m3-4h0m10-4h0m-130 15h0m74 6h0m43-5h0m7-1h0m2 8h0m3-8h0m1 8h0m8-2h0m1-6h0m-63 18h0m37-7h0m3 3h0m8 0h0m7 4h0m32-7h0m10 8h0m1-10h0m4 10h0m-76 10h0m6-8h0m16 0h0m4 11h0m17-7h0m22 4h0m6-4h0m-19 19h0m18-1h0m7-2h0m18-1h0m1-4h0m-56 15h0m44 1h0m9-1h0m-40 16h0m26-8h0m31 7h0m39-7h0m-106 18h0m6 3h0m1-6h0m49-3h0m-60 18h0m22-8h0m11 3h0m30 2h0m29-5h0m-61 23h0m12-3h0m4-1h0m13 0h0m-138 8h0m75 3h0m26-6h0m64 7h0m-85 15h0m2-8h0m24 1h0m-96 13h0m86 7h0m-89 9h0m71 3h0m41-10h0m21 7h0m8-8h0m-85 18h0m9 9h0m17 7h0m9 0h0m-28 3h0m9-1h0m20 5h0m-4 15h0m4-8h0m-79 179h0m-13 8h0m5-1h0m17 0h0m-29 15h0m14-3h0m11-4h0m-5 11h0m6 10h0m-22 2h0m13 28h0m12 4h0m8-7h0m13 7h0m-41 8h0m4 5h0m25 6h0m4 0h0m5 1h0m6 3h0m7-4h0m2 4h0m1-7h0m-26 11h0m1 8h0m14-2h0m13-6h0m-30 14h0m12 2h0"/>
<path class="d" transform="scale(.5)" stroke="#f2704e" stroke-width="6" d="M432 3184h0m90 1h0m-91 16h0m98 2h0m2-2h0m-105 8h0m91-2h0m11 19h0m2-3h0m3-4h0m5 6h0m-4 6h0m4 4h0m-117 15h0m14-6h0m127-3h0m-23 12h0m7 3h0m-103 11h0m99-3h0m-15 14h0m4-2h0m6 18h0m10-4h0m10 7h0m22-4h0m8 3h0m-88 8h0m32-2h0m22 6h0m1-8h0m15 4h0m-61 15h0m14 1h0m25-7h0m26 0h0m16 4h0m-70 14h0m59-4h0m48 4h0m-64 8h0m21 0h0m31-1h0m44 8h0m-45 4h0m20 7h0m2 10h0m-93 6h0m30 18h0m-1 14h0m16-4h0m5 5h0m14-8h0m-312 11h0m305-1h0m8 0h0m19 3h0m-33 17h0m-41 10h0m7 4h0m4-8h0m75 4h0m-80 13h0m11-6h0m14 2h0m0 14h0m-4 12h0m-85 185h0m-8 5h0m28 7h0m60-1h0m-48 14h0m49-3h0m1-8h0m-87 17h0m7-5h0m7 9h0m-22 9h0m27 1h0m20 8h0m-26 21h0m11 4h0m7-3h0m3 0h0m19 5h0m-28 17h0m0-3h0m30-4h0m-25 16h0"/>
<path class="d" transform="scale(.5)" stroke="#e55239" stroke-width="6" d="M422 3207h0m10 1h0m90-1h0m19 4h0m-116 8h0m2 19h0m103-7h0m12 19h0m20-1h0m-31 4h0m24-1h0m1 8h0m3-3h0m6 2h0m-31 16h0m10 0h0m9-3h0m4-4h0m-32 11h0m12 8h0m22-9h0m-25 19h0m12-3h0m22 0h0m-73 17h0m28-2h0m27-9h0m22 8h0m22-4h0m4 4h0m-90 4h0m18 0h0m64 6h0m-75 11h0m52-5h0m24 3h0m2 4h0m19-4h0m-26 14h0m20-2h0m34 29h0m-79 10h0m11-2h0m-10 45h0m5 0h0m18 0h0m-2 37h0m-80 184h0m-9 10h0m57-4h0m-51 58h0m9 31h0m4 6h0m18 0h0m1-9h0m4 0h0m-24 14h0m10 3h0m13 0h0m7-3h0m-24 11h0m6-3h0"/>
<path class="d" transform="scale(.5)" stroke="#d12b1c" stroke-width="6" d="M526 3186h0m16 32h0m-1 38h0m11 12h0m-31 15h0m-5 25h0m6-4h0m45 5h0m5 10h0m30-3h0m-91 15h0m1 3h0m6-6h0m10 3h0m56-1h0m-8 16h0m14 2h0m-16 67h0m-9 17h0m-72 270h0m32 41h0m5-7h0m8 7h0m-18 4h0m21 8h0m-19 12h0m10-11h0m3 2h0"/>
<path class="d" transform="scale(.5)" stroke="#b30905" stroke-width="6" d="M540 3260h0m15 23h0m-47 21h0m86 11h0m15 1h0m-86 425h0m-15 4h0m24 2h0m2-2h0m4 7h0"/>
<path class="d" transform="scale(.5)" stroke="#8f0000" stroke-width="6" d="M535 3245h0m26 0h0m-24 10h0m8 17h0m-29 43h0m21 425h0m-22 7h0m23 0h0m-19 9h0"/>
<path d="M32.7 1570V1898.5H359.7" fill="none" stroke="#555" stroke-width="1.7" stroke-linejoin="round"/>
<text transform="translate(38.57 1588.50) scale(1.091 1)" font-size="31.45" font-weight="bold">KCNN3</text>
<text transform="translate(59.88 1871.60) scale(1.043 1)" font-size="50.72" font-weight="bold">G</text>
<text transform="translate(157.30 1920.00) scale(0.984 1)" font-size="23.77" font-weight="bold">umap1</text>
<text transform="translate(23.50 1733.00) rotate(-90) scale(1.011 1.085) translate(-38.50 0)" font-size="23.77" font-weight="bold">umap2</text>
<rect x="132" y="1942.3" width="214.4" height="16.6" fill="url(#cb)"/>
<text x="127.79" y="1978.60" font-size="17.68" fill="#111">0</text>
<text x="191.27" y="1978.60" font-size="17.68" fill="#111">1</text>
<text x="255.29" y="1978.60" font-size="17.68" fill="#111">2</text>
<text x="319.14" y="1978.60" font-size="17.68" fill="#111">3</text>
<path d="M196.4 1942.3v3M196.4 1958.9v-3M260.2 1942.3v3M260.2 1958.9v-3M324 1942.3v3M324 1958.9v-3" stroke="#fff" stroke-opacity=".45" stroke-width="1" fill="none"/>
<g transform="translate(423.7 1898.2) scale(0.745 0.755)">
<use href="#bgs"/><use href="#ocells"/><use href="#hole" fill="#fff"/>
</g>
<path class="d" transform="scale(.5)" stroke="#e4e2dd" stroke-width="6" d="M1206 3178h0m12-3h0m11 11h0m-22 16h0m34 14h0m170 5h0m-176 7h0m124 0h0m43 1h0m-233 11h0m75 21h0m150 4h0m-124 11h0m-58 15h0m114-1h0m16 5h0m-288 6h0m238 9h0m11-2h0m126 3h0m-185 21h0m37-1h0m34-3h0m35 19h0m41-3h0m-153 4h0m103 10h0m15-7h0m-99 19h0m8-9h0m-55 15h0m110 1h0m-41 10h0m27 0h0m87 4h0m-454 16h0m368-9h0m-55 16h0m55-5h0m150 9h0m-133 18h0m21 10h0m67 13h0m-73 21h0m-52 190h0m-32 6h0m78-2h0m26 8h0m-33 12h0m5-1h0m-64 29h0m19 4h0m30 0h0"/>
<path class="d" transform="scale(.5)" stroke="#fff0de" stroke-width="6" d="M1178 3191h0m43-8h0m48 0h0m9 6h0m1-2h0m-74 10h0m41 6h0m72-9h0m9 8h0m-125 6h0m113-3h0m15 0h0m-139 16h0m150 4h0m47 0h0m-193 10h0m155-1h0m29 5h0m3-1h0m32-3h0m-237 12h0m8-7h0m138 7h0m1 3h0m-153 5h0m13 7h0m54-6h0m149-3h0m18 1h0m35 3h0m-206 16h0m11-4h0m23 4h0m58-4h0m124-5h0m-280 16h0m38 3h0m11-6h0m68 2h0m56 1h0m85 0h0m-92 11h0m69 7h0m12 1h0m-3 10h0m-215 11h0m20 0h0m21 1h0m10-9h0m37 4h0m14 4h0m117-6h0m-180 18h0m14 0h0m19-3h0m13 0h0m31-5h0m21 10h0m5-2h0m50 3h0m-94 1h0m146 7h0m-232 8h0m48 7h0m46 1h0m49-9h0m26 4h0m-153 11h0m8 4h0m55-6h0m52-2h0m64 1h0m-151 21h0m2-10h0m82 18h0m-48 15h0m8 0h0m49-4h0m4 4h0m71-3h0m-178 7h0m115 3h0m55 0h0m35 1h0m-202 16h0m69-1h0m15 2h0m18-3h0m96-6h0m3-1h0m5 7h0m-126 11h0m35-7h0m41 0h0m3 4h0m31-3h0m4 10h0m4-8h0m1 5h0m7 2h0m6-2h0m5-7h0m-111 22h0m72-8h0m-91 15h0m101-3h0m-100 12h0m20 3h0m70-5h0m12 1h0m5-1h0m-107 15h0m93 7h0m3-9h0m7 3h0m-137 171h0m3-6h0m38 18h0m-65 15h0m42-7h0m12 2h0m-79 9h0m101 2h0m-27 18h0m-49 6h0m4 6h0m15-10h0m14 16h0m15-5h0m-32 40h0"/>
<path class="d" transform="scale(.5)" stroke="#fee5c5" stroke-width="6" d="M1194 3179h0m11-5h0m4 0h0m-9 9h0m3 3h0m30 0h0m74 4h0m13 1h0m-151 10h0m43-7h0m2 4h0m1-5h0m86 9h0m103 0h0m4-1h0m-234 11h0m16 3h0m19-3h0m4 1h0m3 2h0m20-6h0m3 5h0m6-5h0m40 1h0m11 3h0m4-7h0m8 6h0m3-3h0m13 4h0m13-4h0m35-4h0m34 1h0m-243 11h0m6 4h0m29-4h0m22 8h0m60 0h0m12-1h0m4-8h0m4 5h0m17 0h0m21-1h0m24-3h0m54 3h0m14 3h0m1-6h0m-249 22h0m10-10h0m9-1h0m16 0h0m23 2h0m2 5h0m37-1h0m5 4h0m15-9h0m30-1h0m6 10h0m0-6h0m6 4h0m40-8h0m7 10h0m9-7h0m26 8h0m30-11h0m-286 23h0m16-9h0m2 5h0m16-4h0m8 0h0m1 2h0m34 5h0m84-7h0m2 6h0m44-2h0m63 3h0m-238 12h0m17-9h0m3 8h0m2-4h0m12-3h0m10 3h0m3-3h0m25-1h0m19 9h0m99-4h0m2-4h0m40 8h0m-252 3h0m7 7h0m14-1h0m5 1h0m3-7h0m2 7h0m5-4h0m84 4h0m12-2h0m0 3h0m81-4h0m24 3h0m0-6h0m-228 21h0m1-4h0m0-6h0m27-1h0m2 3h0m6-2h0m22-1h0m66 3h0m51-3h0m30 7h0m8-3h0m2 7h0m37 0h0m-234 3h0m92 1h0m7 7h0m1-7h0m35 0h0m5 3h0m15 1h0m9 4h0m28-5h0m23-3h0m3-3h0m3 4h0m23 2h0m-203 8h0m1 7h0m29-6h0m8 7h0m100 0h0m-171 13h0m40-3h0m56 0h0m35-7h0m2 4h0m36 4h0m39-1h0m21 2h0m-179 13h0m27-10h0m5-1h0m47 1h0m43-1h0m4 0h0m50 1h0m7 10h0m-224 1h0m13 8h0m7-4h0m33 3h0m3-1h0m10 2h0m9-4h0m1 6h0m38-6h0m7-4h0m4 11h0m29-7h0m6 4h0m64-1h0m-505 10h0m282 6h0m39-1h0m17 1h0m69-7h0m27-1h0m27-3h0m43 7h0m-225 15h0m5-8h0m35 7h0m56-8h0m84 4h0m49-3h0m-234 18h0m8-8h0m85 4h0m44-3h0m6 3h0m7 3h0m2 4h0m15-11h0m49 11h0m-183 12h0m34-11h0m39 11h0m29-10h0m-112 22h0m16-1h0m19-8h0m73 9h0m8-7h0m8 6h0m19-4h0m64 5h0m-206 8h0m44-6h0m59 5h0m36 2h0m19-3h0m12 2h0m3-5h0m10 4h0m11 4h0m10 0h0m10-4h0m-568 8h0m348 0h0m28 2h0m38 4h0m36-4h0m2 5h0m51-8h0m16 4h0m7 3h0m4 2h0m4-8h0m5-1h0m13 0h0m2 3h0m4 0h0m12 1h0m6 4h0m-470 10h0m271-6h0m11 4h0m32 2h0m69-6h0m0 7h0m15-3h0m18-5h0m2 5h0m0 3h0m6-3h0m3 0h0m5 6h0m1-4h0m5-6h0m0 8h0m6-8h0m8-1h0m1 11h0m13 0h0m-152 5h0m11 4h0m64-1h0m35 1h0m2 3h0m5-3h0m3 3h0m2-4h0m4 0h0m19-1h0m2 2h0m4 3h0m-109 12h0m3-8h0m56 8h0m24-5h0m7 1h0m11 2h0m1-6h0m6 2h0m-391 15h0m349-3h0m3 4h0m4 1h0m3-4h0m11 4h0m1-9h0m3 8h0m6-3h0m2 3h0m0-7h0m4-1h0m-40 11h0m7 3h0m1 6h0m7-6h0m10-1h0m11 2h0m-31 11h0m23-3h0m-157 153h0m21 14h0m5-6h0m-47 14h0m41-4h0m3 0h0m19 4h0m15 3h0m-73 4h0m11 2h0m5 6h0m14-8h0m3 7h0m36-2h0m-78 11h0m96-5h0m-92 12h0m22 0h0m29 6h0m8-6h0m34 3h0m-87 16h0m1-5h0m12-2h0m2 3h0m44 0h0m-61 16h0m3 3h0m39-11h0m2 7h0m-18 14h0m32-9h0m-51 12h0m43 8h0"/>
<path class="d" transform="scale(.5)" stroke="#fdd6a7" stroke-width="6" d="M1189 3178h0m14-7h0m7 2h0m5 5h0m6-2h0m-30 14h0m6-1h0m12 1h0m91 1h0m11-2h0m13 2h0m-145 6h0m1-3h0m1 8h0m5-8h0m6 4h0m33 0h0m12 3h0m43 0h0m26 1h0m8 0h0m2-5h0m2 4h0m13-7h0m7 4h0m48-1h0m-218 13h0m1-4h0m4 4h0m5-5h0m10 0h0m16 0h0m11 3h0m2-3h0m0 8h0m3-3h0m8-2h0m48 2h0m2-5h0m4 0h0m15 4h0m10-3h0m10 6h0m8-6h0m9-2h0m11 5h0m14-3h0m30-2h0m-221 12h0m5 0h0m3 9h0m1-9h0m17 9h0m2-5h0m2 5h0m9-2h0m2-2h0m13 6h0m6-10h0m6 2h0m4 5h0m1-3h0m40-5h0m16 3h0m14 2h0m58 6h0m24-7h0m8 7h0m-235 4h0m14 7h0m6-9h0m24-1h0m5 1h0m2 3h0m26 7h0m40-4h0m0 3h0m21 0h0m0-6h0m8 0h0m14 0h0m4 3h0m3-3h0m3 2h0m12 2h0m22-1h0m-205 11h0m8 5h0m9-5h0m15 1h0m40-6h0m39 8h0m6-3h0m36 5h0m12-6h0m36-1h0m26-2h0m37 5h0m-262 10h0m6 1h0m1 3h0m7-3h0m12-3h0m3 6h0m8-8h0m22 2h0m6 3h0m11-5h0m1 8h0m9 1h0m34-9h0m5 4h0m8 5h0m12-1h0m12-8h0m6 2h0m16 6h0m4-1h0m19-4h0m3 6h0m9-1h0m9-1h0m22 2h0m25-8h0m-262 14h0m5 3h0m9-5h0m9-1h0m10 10h0m21-7h0m8-3h0m6 4h0m1 3h0m6-7h0m31 0h0m9 4h0m1 6h0m1-2h0m15-5h0m16-2h0m2 3h0m36 2h0m4-6h0m21 0h0m18 7h0m40 0h0m-268 7h0m6 3h0m0-6h0m30 11h0m1-4h0m4 0h0m15-2h0m43-2h0m10 8h0m14-3h0m7 2h0m3 1h0m6-4h0m3-2h0m7 2h0m13-6h0m6 9h0m22-7h0m7 2h0m17-1h0m10 6h0m17-5h0m-221 9h0m26 7h0m38 1h0m19-3h0m5-1h0m5 0h0m2 4h0m1-3h0m6 4h0m3-11h0m8 7h0m9-7h0m3 11h0m5-4h0m8-1h0m5 5h0m8 0h0m21-8h0m6 4h0m4-1h0m2 5h0m49-2h0m-208 5h0m42 6h0m3-6h0m15 7h0m22-3h0m9-1h0m2 4h0m17 0h0m13 1h0m30 0h0m74-8h0m-253 21h0m43-2h0m2 2h0m2-5h0m49-6h0m4 8h0m3-4h0m3 1h0m3-4h0m6 5h0m3-5h0m16 0h0m23 4h0m6 0h0m17 6h0m6-11h0m10 4h0m20-4h0m20 9h0m24-8h0m5 10h0m-254 9h0m8 0h0m22-8h0m3 11h0m30-7h0m18-3h0m1 8h0m22-9h0m12 8h0m13-8h0m4 4h0m19 4h0m1 3h0m20-3h0m5 0h0m17-8h0m5 5h0m16-5h0m7 0h0m-179 22h0m19-3h0m24 4h0m56-9h0m22 9h0m17-1h0m2-3h0m34-7h0m-190 22h0m10-7h0m2 4h0m28 4h0m3-8h0m47 0h0m21 4h0m3 0h0m7 4h0m24-6h0m39 2h0m10-4h0m13 0h0m-450 19h0m256-6h0m3-1h0m7 1h0m19-3h0m16 8h0m42-3h0m11-1h0m21 5h0m7-4h0m15-5h0m16 2h0m35 5h0m-204 12h0m20 3h0m19-5h0m20 3h0m57-7h0m25-2h0m8 8h0m21-3h0m8-1h0m18-3h0m-142 12h0m10 3h0m4 6h0m2-7h0m38 1h0m6 5h0m4-1h0m5-5h0m3 5h0m6-4h0m5 1h0m22-2h0m32-3h0m-191 18h0m21-6h0m28 3h0m31 3h0m12-3h0m27-3h0m18 6h0m4 1h0m10-7h0m2 6h0m6 0h0m27-4h0m30 9h0m-194 12h0m8-8h0m9 7h0m4-1h0m8 1h0m40-8h0m39 4h0m6 4h0m4-4h0m35-1h0m21 0h0m3 2h0m10-1h0m6-3h0m-206 15h0m0 2h0m28-6h0m52 3h0m2-5h0m23 9h0m2-3h0m20 2h0m14 3h0m26-6h0m1-3h0m9 7h0m12-5h0m1-3h0m1 8h0m7-1h0m9 3h0m-193 6h0m59 2h0m2 4h0m5-2h0m8-6h0m36-3h0m0 8h0m13 1h0m34-9h0m18 5h0m6 0h0m5-2h0m11-3h0m4 0h0m9 4h0m-135 12h0m4 6h0m10 0h0m16-8h0m4-2h0m1 3h0m48 7h0m6-3h0m18 3h0m20-3h0m-438 15h0m320-4h0m17 0h0m13-1h0m2 6h0m48-2h0m4 1h0m10-10h0m1 6h0m2 3h0m5-2h0m3 4h0m2-5h0m5 0h0m1 5h0m-123 6h0m15-3h0m9 7h0m55-8h0m2 4h0m15 5h0m4-8h0m8 4h0m3 0h0m2 3h0m-33 7h0m15-2h0m7 6h0m10 0h0m-20 5h0m6 2h0m-134 156h0m6-3h0m-37 22h0m13-6h0m19-4h0m16 2h0m20 8h0m-78 11h0m5-4h0m1-3h0m15 1h0m28 3h0m2 3h0m14-3h0m-47 14h0m6-2h0m3 4h0m19-4h0m3 3h0m20-1h0m0-7h0m19 0h0m2 9h0m5-7h0m-90 13h0m15-4h0m1 9h0m2-5h0m9 7h0m4-7h0m10 4h0m2-2h0m39-2h0m6 4h0m9-7h0m-98 15h0m19 3h0m0-7h0m31 3h0m2-3h0m-38 23h0m9-8h0m4 0h0m32-3h0m-50 21h0m19-6h0m15 6h0m-30 8h0m36-5h0m10 6h0m7-5h0m-33 19h0m8-4h0m6-4h0"/>
<path class="d" transform="scale(.5)" stroke="#fdc592" stroke-width="6" d="M1201 3191h0m12-9h0m1 9h0m2-5h0m8 0h0m52 0h0m10 4h0m8 0h0m22 0h0m-147 8h0m7-5h0m23 5h0m21 4h0m23-3h0m33-4h0m0 6h0m7-4h0m1 4h0m12-8h0m9 1h0m5 8h0m0-9h0m15 4h0m6 5h0m-167 8h0m21-2h0m2 4h0m27-6h0m9-1h0m4 1h0m6 3h0m9 1h0m39 0h0m9 3h0m10-3h0m4 4h0m1-4h0m9 0h0m20 2h0m4 0h0m3-2h0m2-5h0m4 8h0m1-5h0m29 4h0m26 0h0m-237 9h0m1 3h0m50-1h0m67 2h0m8-5h0m15 5h0m3-8h0m6 10h0m4-7h0m2 5h0m2-9h0m3 0h0m2 3h0m2 6h0m4-1h0m8-4h0m25 0h0m50-4h0m-250 14h0m3 1h0m6 0h0m7 1h0m0 3h0m9-4h0m0 8h0m8-3h0m9 2h0m5 1h0m2-3h0m9 0h0m7 3h0m42-7h0m2-4h0m3 3h0m5 3h0m4-2h0m3 0h0m5-1h0m10-3h0m10 10h0m6 0h0m5 0h0m0-7h0m6-3h0m5 0h0m1 2h0m25 1h0m11 5h0m54 3h0m-262 6h0m3-3h0m3 0h0m1 8h0m12-8h0m8 0h0m2 7h0m8-6h0m17 7h0m22-8h0m30 1h0m10 3h0m8 0h0m5 1h0m12-1h0m3 3h0m2-2h0m27 0h0m2 2h0m14-2h0m9 0h0m5-1h0m1 3h0m10-7h0m4-1h0m13 5h0m3 5h0m-239 3h0m5-1h0m9 7h0m4 2h0m4-7h0m8-1h0m7 3h0m4 1h0m4-1h0m25 4h0m4-1h0m0-5h0m34 7h0m6-9h0m0 4h0m3-4h0m2 4h0m7-2h0m4-2h0m1 5h0m3-4h0m9-1h0m0 9h0m5-7h0m8 7h0m13-1h0m9-7h0m16 0h0m35 6h0m9-6h0m16-1h0m-249 22h0m6-4h0m10-6h0m0 8h0m2-5h0m3 0h0m2-4h0m26 9h0m4-9h0m61 1h0m12 6h0m9-6h0m8 0h0m21 5h0m11-4h0m5 3h0m7-5h0m3 5h0m22 4h0m16-5h0m2-3h0m35 3h0m7-4h0m-267 20h0m5-5h0m0 7h0m4-7h0m9 1h0m11-3h0m2 6h0m19 4h0m6-11h0m5 1h0m22 9h0m19-10h0m0 7h0m6 0h0m3 0h0m6-2h0m18-2h0m13 2h0m12-2h0m6 4h0m15-6h0m5 4h0m6 6h0m8 0h0m6-3h0m6 3h0m10-7h0m1 3h0m15 4h0m-226 12h0m6-3h0m24-4h0m19 2h0m40 2h0m4-8h0m7 10h0m4-7h0m15 4h0m13-1h0m5 4h0m46-4h0m3-3h0m4 6h0m12-5h0m0 7h0m2-4h0m5-7h0m15 4h0m1 2h0m-120 9h0m10 7h0m5-4h0m7-4h0m5 7h0m9 1h0m4-9h0m6 6h0m3-1h0m8-3h0m6 3h0m6 3h0m4-4h0m7 0h0m8 1h0m2 5h0m1-10h0m22 8h0m7-3h0m-191 8h0m56 7h0m7-4h0m10-5h0m13 8h0m28-3h0m4-3h0m13 7h0m7 0h0m7-3h0m6-6h0m5 9h0m12-1h0m19-6h0m2 4h0m44 3h0m-243 3h0m73 1h0m12 6h0m8 4h0m4-7h0m13 7h0m13-6h0m25-2h0m3 5h0m15-4h0m2-4h0m11 11h0m1-2h0m6-2h0m1-3h0m13 6h0m27-2h0m-162 7h0m4-1h0m8 0h0m3-2h0m6 2h0m59 6h0m18-4h0m6-4h0m2 6h0m1 5h0m12-1h0m23 0h0m4-7h0m19 4h0m-184 9h0m24 1h0m9-3h0m38 4h0m40 5h0m4-9h0m2 4h0m10-3h0m3 2h0m7 4h0m11-2h0m2 2h0m11 2h0m4-11h0m9 0h0m2 11h0m-76 11h0m4-1h0m9-8h0m8 0h0m3 6h0m16-6h0m23 5h0m15 4h0m6-4h0m9-1h0m-221 11h0m23-2h0m20 7h0m14-9h0m4 9h0m36 2h0m22-6h0m27 6h0m14-2h0m7-4h0m2-4h0m5 7h0m3 1h0m5-1h0m3-7h0m2 10h0m-190 6h0m5-1h0m5-3h0m31 0h0m44 5h0m21 2h0m8-7h0m37 2h0m0-3h0m3 4h0m3 3h0m4 0h0m17-7h0m5 7h0m24-4h0m-187 11h0m13-2h0m15 7h0m19-3h0m14 2h0m4 1h0m21 3h0m11-7h0m17 4h0m18-5h0m1 9h0m16-7h0m2 3h0m21-4h0m1-3h0m-159 22h0m33-4h0m27 4h0m10-8h0m21 7h0m12-1h0m15-1h0m3-5h0m1 5h0m39-2h0m11 4h0m5-6h0m4 6h0m-171 12h0m13-3h0m5 3h0m11-4h0m19-4h0m26 8h0m1-5h0m10 7h0m1-9h0m9 0h0m8 9h0m1-10h0m1 7h0m8 2h0m4-1h0m22-7h0m17 8h0m2-4h0m2 2h0m-184 8h0m36 4h0m4-8h0m37 11h0m6-10h0m8 7h0m6-4h0m3 3h0m5 1h0m2-4h0m4 0h0m13 1h0m5 0h0m3 6h0m4-6h0m5 0h0m36-4h0m29 3h0m1 5h0m5-2h0m1-2h0m5-4h0m-140 22h0m4-11h0m1 2h0m22 9h0m8-8h0m8 8h0m5 0h0m2-4h0m4 0h0m9 0h0m43-7h0m4 0h0m-98 15h0m8 8h0m14-2h0m18-9h0m9 0h0m68 21h0m-96 3h0m58 5h0m18 0h0m-157 174h0m1-11h0m45 11h0m-45 12h0m5-8h0m3 4h0m1-5h0m1 4h0m12-2h0m3 3h0m1 4h0m4 0h0m5 0h0m13 0h0m29-1h0m-81 9h0m0-7h0m2 9h0m19-2h0m25-3h0m9 2h0m-65 10h0m18-2h0m3 4h0m20-4h0m3 0h0m1 7h0m30-7h0m5 6h0m1-2h0m-72 12h0m34-5h0m12 8h0m-43 8h0m11 3h0m10-3h0m1 5h0m9-6h0m19 3h0m-61 8h0m11 4h0m2-4h0m7 2h0m9 2h0m5-4h0m1 6h0m3-5h0m2 7h0m-34 4h0m6-1h0m3 7h0m6-8h0m4 8h0m2-8h0m3 6h0m8-5h0m-29 18h0m6-3h0m6-4h0m13 7h0m6-7h0m2 3h0m-26 9h0m16 0h0m8 3h0m5 1h0"/>
<path class="d" transform="scale(.5)" stroke="#fcad79" stroke-width="6" d="M1194 3173h0m8 6h0m13-7h0m4-1h0m-44 20h0m8-7h0m1 7h0m6-4h0m15 3h0m1-4h0m11-4h0m3 5h0m71 3h0m12 1h0m-132 3h0m14 9h0m8-9h0m15 3h0m4 5h0m20-7h0m2 3h0m4-5h0m42 1h0m9 8h0m3-8h0m0 4h0m7 1h0m2-5h0m2 3h0m9 0h0m10-2h0m14 7h0m-171 3h0m0 8h0m19-7h0m8 0h0m4 7h0m5-8h0m4 9h0m20-1h0m15-9h0m3 2h0m4 7h0m49-7h0m8-2h0m19 5h0m39-1h0m16 1h0m16-5h0m-220 23h0m4 0h0m6-6h0m2-5h0m8 0h0m25 3h0m9 6h0m16-2h0m0-6h0m3 2h0m30 1h0m5 7h0m6-3h0m16 3h0m5-4h0m2-2h0m4-5h0m16 1h0m13 7h0m3-3h0m5-4h0m0 3h0m1 4h0m3-4h0m-190 16h0m4-7h0m12 3h0m7-1h0m10 7h0m8-6h0m17 7h0m7-4h0m5 0h0m48-4h0m8 5h0m5 3h0m8 0h0m1-8h0m5 8h0m4-8h0m2 5h0m3-8h0m5 8h0m0-7h0m12 6h0m12-3h0m4 7h0m13 0h0m5-3h0m13-5h0m-200 19h0m28-8h0m4 5h0m3-7h0m7 2h0m5 0h0m9 8h0m36-4h0m11-6h0m1 6h0m12 5h0m4-1h0m1-4h0m12-5h0m9 1h0m13 0h0m3 0h0m8 1h0m1 8h0m17-8h0m23 2h0m16 6h0m-225 6h0m10 1h0m16-5h0m0 9h0m15-1h0m3-3h0m8 0h0m50 4h0m18-8h0m13 0h0m5 3h0m3 5h0m3-3h0m1 3h0m3-4h0m7-5h0m12 2h0m1 1h0m11-1h0m4 3h0m48-5h0m8 8h0m0-7h0m18-1h0m-270 16h0m4-5h0m4 4h0m15 3h0m5 1h0m3-7h0m13 7h0m0-7h0m11 3h0m7 5h0m3-5h0m39 5h0m5-2h0m1-3h0m16-2h0m2 4h0m2-5h0m2 3h0m7 4h0m6 3h0m3-2h0m12-1h0m11-3h0m1 3h0m9-7h0m4 2h0m5-2h0m3 4h0m13-1h0m2-4h0m0 7h0m2-2h0m9 0h0m-189 14h0m6 4h0m3-8h0m17 1h0m52-1h0m5 2h0m9 6h0m1-2h0m3 1h0m6-3h0m5 0h0m3-6h0m10 5h0m5 5h0m2-6h0m7-4h0m6 2h0m1-2h0m12 9h0m2-7h0m11-3h0m4 11h0m8-6h0m9-1h0m18 4h0m1-8h0m-224 16h0m1-4h0m4 3h0m4-1h0m55 9h0m5-8h0m26 1h0m19 3h0m14-4h0m4-1h0m0 4h0m13 4h0m18-6h0m10 7h0m3-9h0m4 1h0m1 7h0m16-10h0m4 6h0m10-4h0m25 1h0m14-1h0m-203 15h0m51 0h0m2 6h0m14-8h0m2 4h0m10-5h0m1 8h0m7-5h0m9 1h0m2-1h0m6 2h0m6-5h0m7 7h0m4-2h0m5 2h0m0-7h0m36-1h0m3 1h0m13 0h0m8-1h0m-135 11h0m6 2h0m18 4h0m11 2h0m6 1h0m57-5h0m11-3h0m3 0h0m1 8h0m5-7h0m3-2h0m3 5h0m5 3h0m9 2h0m9 0h0m-197 7h0m61 0h0m2 6h0m1-6h0m6-5h0m22 2h0m41 8h0m6-10h0m1 11h0m4-4h0m6-3h0m7 5h0m10 2h0m3 0h0m6-1h0m2-3h0m4 1h0m7-1h0m7-3h0m-178 11h0m19 7h0m24-7h0m4 4h0m51 1h0m15 3h0m23-10h0m14 2h0m12 3h0m4-5h0m4 6h0m29 4h0m-218 4h0m123 4h0m9-1h0m9 1h0m22-5h0m5 1h0m13 7h0m25-4h0m-178 7h0m101 5h0m5-1h0m12 0h0m9 1h0m6-4h0m1 7h0m2-4h0m3 0h0m25-4h0m13 1h0m8 8h0m-175 4h0m66-2h0m7 8h0m23-7h0m7 3h0m16 0h0m34 2h0m4-6h0m8 9h0m2-5h0m-134 15h0m4-7h0m7 3h0m34 0h0m23 4h0m16-3h0m3 7h0m18-7h0m5 7h0m3-1h0m5-7h0m2-2h0m2 2h0m1 8h0m15-11h0m-373 18h0m216 0h0m37 4h0m36-5h0m20 5h0m16 0h0m-111 9h0m14-4h0m44-2h0m5 1h0m5 3h0m10-3h0m0 7h0m70-6h0m4 0h0m-173 13h0m54 1h0m8 6h0m14-2h0m10-7h0m10 3h0m2 3h0m7-3h0m1 4h0m11-4h0m20-3h0m1 6h0m13 1h0m4-4h0m2-4h0m-80 16h0m1-5h0m2 11h0m1-8h0m2 6h0m12 0h0m5-2h0m3-4h0m1 4h0m3-3h0m14-4h0m-49 13h0m1 7h0m7-2h0m4 2h0m0-5h0m5 5h0m4-8h0m14 6h0m7-2h0m15-3h0m3-1h0m67 4h0m-130 19h0m12-2h0m9-6h0m7 3h0m10 5h0m4-9h0m-6 11h0m-10 12h0m71 4h0m14 4h0m7-4h0m-165 167h0m-1 8h0m5 11h0m10 0h0m3-4h0m23-4h0m-43 15h0m5 0h0m5-3h0m1 7h0m24-1h0m40 0h0m-84 5h0m10 0h0m9 3h0m10-4h0m1 8h0m28-4h0m10 4h0m-72 8h0m2-5h0m3 9h0m19 0h0m8-9h0m3 6h0m0-5h0m-38 14h0m9 7h0m1-4h0m1-6h0m9 6h0m8-5h0m1 7h0m4-1h0m1-6h0m6 9h0m1-3h0m-39 16h0m14-1h0m7 1h0m6-1h0m5-7h0m9 3h0m11 5h0m8-9h0m-57 11h0m7 4h0m0 4h0m3-3h0m4-4h0m3 8h0m2-3h0m11 3h0m12-1h0m6 0h0m-39 8h0m2 3h0m16 0h0m1-8h0m1 6h0m-20 7h0m7-1h0m36 1h0"/>
<path class="d" transform="scale(.5)" stroke="#fb905d" stroke-width="6" d="M1197 3174h0m0-1h0m16 3h0m0-8h0m-17 15h0m8 0h0m14 8h0m-45 11h0m3 1h0m13-2h0m6 0h0m27-3h0m56-1h0m18 1h0m11-1h0m14 1h0m-146 7h0m54 0h0m13 7h0m36 2h0m8-2h0m1-7h0m12 8h0m21 1h0m23-1h0m-153 10h0m11-6h0m10 7h0m14-8h0m62 11h0m0-6h0m10 2h0m4 1h0m4-7h0m14 8h0m28-9h0m27 9h0m2-5h0m8 3h0m-197 5h0m2 8h0m19 2h0m4-6h0m7-1h0m4 4h0m10-3h0m62 3h0m9 0h0m8 0h0m2 4h0m31 0h0m9-7h0m47 7h0m-201 11h0m5 0h0m2-4h0m11 5h0m1-4h0m4-1h0m11 0h0m7 0h0m37-3h0m12 0h0m4 7h0m4-8h0m15 1h0m5 4h0m16-6h0m5 9h0m2-10h0m2 6h0m2 4h0m1-8h0m3 4h0m5-3h0m9 3h0m21 4h0m-216 12h0m14-8h0m30 8h0m5-6h0m56 0h0m6 5h0m20-4h0m9 0h0m5 1h0m22 4h0m0-5h0m2 1h0m3 3h0m3-4h0m1-3h0m10 7h0m1-3h0m6 4h0m6-2h0m9-2h0m3-5h0m3 8h0m13-3h0m-230 8h0m17 1h0m16 8h0m0-6h0m13 0h0m8-3h0m18 2h0m5 7h0m30-6h0m14 4h0m18 0h0m20 2h0m1-11h0m0 7h0m5-7h0m5 2h0m1 3h0m7-1h0m2-2h0m26 0h0m19 0h0m-197 10h0m0 11h0m77-7h0m27-3h0m3 2h0m1-2h0m9 6h0m3 4h0m14-11h0m3 3h0m4 8h0m14 0h0m2-7h0m6-4h0m11 9h0m2-2h0m5-7h0m1 7h0m5 4h0m7-3h0m8-7h0m2 2h0m13 5h0m-209 4h0m83 3h0m8 0h0m19 6h0m3 2h0m16-11h0m2 9h0m16-7h0m4 5h0m11 0h0m3 3h0m9-7h0m4-1h0m5 9h0m2-4h0m18-3h0m5 7h0m12-5h0m-139 7h0m13 7h0m10-7h0m16 1h0m4 0h0m10 7h0m15-7h0m0 8h0m8-3h0m7 3h0m33-9h0m1 7h0m6-2h0m2 4h0m-140 2h0m12 5h0m18-5h0m1 9h0m43-7h0m7-2h0m6 9h0m12 1h0m3-5h0m4-3h0m8 2h0m20 4h0m3 0h0m10-8h0m2 5h0m20 4h0m-132 10h0m0 4h0m49-7h0m10 4h0m3-4h0m4 0h0m12-1h0m5 2h0m11 3h0m4-1h0m27 0h0m-132 12h0m52 0h0m15-3h0m5 1h0m5 2h0m7-3h0m20 3h0m5-5h0m2 9h0m8-7h0m-117 15h0m59 3h0m21-1h0m20-4h0m7 2h0m-107 14h0m67-4h0m1 5h0m31 0h0m7-5h0m6 3h0m4 0h0m-176 15h0m24-3h0m75-4h0m31-3h0m5 7h0m25-3h0m-129 10h0m137-3h0m5 4h0m-435 11h0m383 7h0m35-1h0m28 2h0m-92 2h0m90 1h0m-106 15h0m11-1h0m6 1h0m2-4h0m26 7h0m7-7h0m10 1h0m12 6h0m-74 7h0m30-2h0m1 3h0m26 7h0m-54 12h0m14 0h0m3-11h0m32 8h0m-3 6h0m1 5h0m11-4h0m-432 11h0m383 0h0m6-1h0m7 9h0m4-2h0m14-3h0m13-4h0m-37 11h0m8 2h0m-76 173h0m30 2h0m-31 9h0m23-3h0m12-3h0m-40 23h0m7-11h0m1 10h0m1-9h0m52 8h0m-47 9h0m10-5h0m5 7h0m2-4h0m3-2h0m10 4h0m6 3h0m39 0h0m-88 11h0m17-1h0m6-2h0m6 4h0m-30 13h0m7-9h0m7 10h0m4-1h0m11-6h0m9 0h0m5 6h0m-43 9h0m20 3h0m29-6h0m10-2h0m-30 16h0m-22 7h0m9 1h0m4 7h0m2-4h0m4 1h0m5 0h0m5-4h0m-1 18h0"/>
<path class="d" transform="scale(.5)" stroke="#f2704e" stroke-width="6" d="M1186 3179h0m22 5h0m4 2h0m28 11h0m1-2h0m42 0h0m-113 18h0m11-4h0m17 1h0m2 4h0m34-8h0m54 9h0m2-9h0m48 0h0m7 0h0m10 6h0m25 0h0m-205 8h0m5 0h0m23 4h0m93 3h0m16 0h0m16-3h0m18 3h0m19-3h0m-129 15h0m56 0h0m51-11h0m0 3h0m6 8h0m7-5h0m1 5h0m1-7h0m12 6h0m-181 8h0m3 5h0m85-1h0m6 0h0m4 0h0m4 0h0m11-3h0m2-6h0m4 1h0m13 0h0m15 4h0m23-3h0m9 7h0m10-6h0m16 5h0m-206 7h0m1 5h0m24-4h0m63 5h0m26-1h0m12 0h0m2-3h0m2-4h0m14-1h0m15 4h0m27 5h0m1-9h0m28 5h0m-195 11h0m2 6h0m33-9h0m72 2h0m2-3h0m3 10h0m26-2h0m44-1h0m-117 15h0m19-10h0m3 3h0m43 7h0m7-3h0m2-7h0m3 5h0m6 2h0m25-3h0m19-5h0m-183 12h0m62 2h0m20 6h0m22-2h0m19 5h0m8-1h0m8-4h0m51 1h0m-138 8h0m25 4h0m5-6h0m113 2h0m1 4h0m-29 6h0m40 5h0m-84 10h0m15-4h0m25 1h0m14 0h0m23 3h0m17-3h0m-78 14h0m11 3h0m7-6h0m10 2h0m20 5h0m6 7h0m-60 18h0m52 2h0m9-9h0m2 5h0m-39 29h0m21-8h0m9 7h0m8-4h0m8 3h0m-54 17h0m8 1h0m19 3h0m32 4h0m-103 11h0m30-7h0m-21 17h0m28 4h0m9 0h0m3-4h0m-44 16h0m27-4h0m3 4h0m17-9h0m4 9h0m-53 5h0m3 2h0m6 3h0m11-2h0m5 4h0m5-8h0m5-1h0m8 9h0m-26 7h0m7-5h0m1 5h0m2-4h0m12 3h0m1-5h0m-80 180h0m6 20h0m-29 9h0m29 4h0m4 8h0m-4 7h0m4 7h0m-29 9h0m40-4h0m-38 33h0m27-7h0m4 16h0"/>
<path class="d" transform="scale(.5)" stroke="#e55239" stroke-width="6" d="M1282 3190h0m-73 15h0m73 7h0m36-2h0m-24 7h0m7 0h0m71 3h0m-166 14h0m102 2h0m56-2h0m5-4h0m-61 21h0m69-2h0m-84 12h0m16 3h0m10 4h0m19 4h0m0-7h0m6 10h0m7-2h0m12 0h0m29 2h0m26 0h0m-86 9h0m15-5h0m7 4h0m-88 13h0m62-2h0m36 8h0m35 4h0m31 1h0m-392 14h0m247 1h0m11 7h0m73 2h0m7 16h0m19-4h0m-112 12h0m107-1h0m11 5h0m11-5h0m10-4h0m-41 12h0m24 10h0m-27 24h0m-33 20h0m5-3h0m-3 8h0m-5 22h0m35-8h0m6 6h0m-49 11h0m17-1h0m1-3h0m3-4h0m19 19h0m-81 238h0m8 37h0"/>
<path class="d" transform="scale(.5)" stroke="#d12b1c" stroke-width="6" d="M1360 3225h0m-84 14h0m75-10h0m-30 21h0m11-3h0m30-7h0m-42 33h0m110 10h0m-111 8h0m3 1h0m-5 11h0m26-2h0m1 4h0m14 35h0m8 33h0m13 74h0m-17 16h0m-4 6h0m-78 232h0"/>
<path class="d" transform="scale(.5)" stroke="#b30905" stroke-width="6" d="M1318 3231h0m34 22h0m19 1h0m-5 15h0m18-1h0m12 90h0m17-8h0m-53 101h0"/>
<path d="M423.7 1570V1898.5H751.5" fill="none" stroke="#555" stroke-width="1.7" stroke-linejoin="round"/>
<text transform="translate(430.77 1588.50) scale(1.093 1)" font-size="31.45" font-weight="bold">KCNN3</text>
<text transform="translate(446.19 1869.00) scale(1.066 1)" font-size="50.72" font-weight="bold">H</text>
<text transform="translate(548.29 1920.00) scale(0.986 1)" font-size="23.77" font-weight="bold">umap1</text>
<text transform="translate(413.90 1733.00) rotate(-90) scale(1.011 1.085) translate(-38.50 0)" font-size="23.77" font-weight="bold">umap2</text>
<rect x="523.7" y="1942.3" width="214.3" height="16.6" fill="url(#cb)"/>
<text x="518.79" y="1978.60" font-size="17.68" fill="#111">0</text>
<text x="578.57" y="1978.60" font-size="17.68" fill="#111">1</text>
<text x="638.69" y="1978.60" font-size="17.68" fill="#111">2</text>
<text x="698.74" y="1978.60" font-size="17.68" fill="#111">3</text>
<path d="M583.7 1942.3v3M583.7 1958.9v-3M643.6 1942.3v3M643.6 1958.9v-3M703.6 1942.3v3M703.6 1958.9v-3" stroke="#fff" stroke-opacity=".45" stroke-width="1" fill="none"/>
<g transform="translate(854.9 1013.1) scale(0.745 0.755)">
<use href="#bgs"/><use href="#ycells"/><use href="#hole" fill="#fff"/>
</g>
<path class="d" transform="scale(.5)" stroke="#e4e2dd" stroke-width="6" d="M2162 1415h0m7 57h0m-5 14h0m30-1h0m4 16h0m-37 11h0m99 45h0m-19 70h0m-9 16h0"/>
<path class="d" transform="scale(.5)" stroke="#fff0de" stroke-width="6" d="M2050 1429h0m108 24h0m-135 17h0m118 4h0m43 0h0m89-10h0m-126 22h0m39-8h0m27 3h0m-52 9h0m29 3h0m2 5h0m14-1h0m-10 7h0m2 5h0m-28 19h0m-46 22h0m187 70h0m-64 12h0m16 2h0m2 4h0m2 4h0m12 1h0m-34 12h0m21-6h0m3-3h0m8 0h0m10 7h0m11 1h0m0 10h0m-15 5h0m3 7h0m13-8h0m-26 15h0"/>
<path class="d" transform="scale(.5)" stroke="#fee5c5" stroke-width="6" d="M2164 1427h0m0 15h0m3 3h0m6 26h0m6 4h0m-127 11h0m118-4h0m15 3h0m-6 19h0m-14 8h0m108 105h0m16 2h0m1-2h0m3 2h0m-37 11h0m8-3h0m5-3h0m4-1h0m6 0h0m5-2h0m2 4h0m31 6h0m-63 11h0m15-3h0m5-1h0m2-2h0m3 3h0m3 0h0m7 4h0m9-8h0m1 3h0m4-6h0m-60 14h0m33 3h0m3 6h0m4-9h0m7 1h0m16 3h0m-68 14h0m28-8h0m17 5h0m4-1h0m4 0h0m2-2h0m5-1h0m-22 15h0m4 0h0m4 0h0m-8 14h0"/>
<path class="d" transform="scale(.5)" stroke="#fdd6a7" stroke-width="6" d="M2151 1419h0m20 5h0m-15 9h0m-8 17h0m23-4h0m14-5h0m-10 11h0m-19 19h0m7 3h0m32 4h0m-29 26h0m3-3h0m12 6h0m5 1h0m-40 7h0m29-2h0m6 9h0m-48 97h0m144-2h0m2-4h0m5 0h0m13 6h0m3-10h0m-43 15h0m34 0h0m-35 16h0m22-8h0m26 7h0m-15 10h0m-20 13h0m34-2h0m-35 9h0m17 11h0"/>
<path class="d" transform="scale(.5)" stroke="#fdc592" stroke-width="6" d="M2185 1448h0m-24 11h0m-1 6h0m2 2h0m30 7h0m-35 9h0m1-5h0m74 1h0m-58 10h0m12 5h0m-27 45h0m17-2h0m-83 28h0m169 73h0m40 13h0m-16 39h0"/>
<path class="d" transform="scale(.5)" stroke="#fcad79" stroke-width="6" d="M2166 1459h0m11-3h0m-12 14h0m4 16h0m2-7h0m27 7h0m-31 3h0m31 4h0m1 3h0m-27 12h0m-2 12h0m6-1h0m8-7h0m8 0h0m123 34h0m-128 11h0m2-4h0m-47 37h0m6 10h0m-45 12h0m69 305h0m-33 38h0"/>
<path class="d" transform="scale(.5)" stroke="#fb905d" stroke-width="6" d="M2166 1422h0m-5 9h0m9 7h0m-14 4h0m22 10h0m-33 16h0m42-1h0m-35 18h0m25-8h0m1 6h0m17 13h0m-49 5h0m41 21h0"/>
<path class="d" transform="scale(.5)" stroke="#f2704e" stroke-width="6" d="M2166 1416h0m0 14h0m3 0h0m6 1h0m7 6h0m-6 33h0m-7 21h0m2 6h0m-1 8h0m6-4h0m9 0h0m54 19h0m-43 14h0m-50 11h0m15 413h0"/>
<path class="d" transform="scale(.5)" stroke="#e55239" stroke-width="6" d="M2157 1423h0m3 4h0m9 0h0m4-8h0m-14 19h0m5-3h0m9 6h0m18 42h0m10 0h0m-18 21h0m11-2h0m-10 26h0m36 31h0m6-2h0m-48 67h0m-33 336h0"/>
<path class="d" transform="scale(.5)" stroke="#d12b1c" stroke-width="6" d="M2161 1424h0m5 14h0m16 44h0m73 34h0"/>
<path class="d" transform="scale(.5)" stroke="#b30905" stroke-width="6" d="M2167 1433h0m14 45h0m-35 149h0"/>
<path class="d" transform="scale(.5)" stroke="#8f0000" stroke-width="6" d="M2174 1426h0m39 70h0m-50 109h0m-30 17h0m28 8h0"/>
<path d="M854.9 685.3V1013.4H1182.4" fill="none" stroke="#555" stroke-width="1.7" stroke-linejoin="round"/>
<text transform="translate(858.79 706.20) scale(1.082 1)" font-size="31.45" font-weight="bold">KCNN4</text>
<text transform="translate(886.35 997.30) scale(1.047 1)" font-size="50.72" font-weight="bold">I</text>
<text transform="translate(979.60 1035.30) scale(0.985 1)" font-size="23.77" font-weight="bold">umap1</text>
<text transform="translate(845.50 848.60) rotate(-90) scale(1.011 1.085) translate(-38.50 0)" font-size="23.77" font-weight="bold">umap2</text>
<rect x="954.6" y="1057.8" width="214.6" height="16.5" fill="url(#cb)"/>
<text x="951.41" y="1093.50" font-size="17.68" fill="#111">.0</text>
<text x="985.21" y="1093.50" font-size="17.68" fill="#111">0.5</text>
<text x="1027.80" y="1093.50" font-size="17.68" fill="#111">1.0</text>
<text x="1070.40" y="1093.50" font-size="17.68" fill="#111">1.5</text>
<text x="1113.22" y="1093.50" font-size="17.68" fill="#111">2.0</text>
<text x="1155.12" y="1093.50" font-size="17.68" fill="#111">2.5</text>
<path d="M997.5 1057.8v3M997.5 1074.3v-3M1040.4 1057.8v3M1040.4 1074.3v-3M1083 1057.8v3M1083 1074.3v-3M1125.6 1057.8v3M1125.6 1074.3v-3" stroke="#fff" stroke-opacity=".45" stroke-width="1" fill="none"/>
<g transform="translate(1248.1 1010.8) scale(0.745 0.755)">
<use href="#bgs"/><use href="#ocells"/><use href="#hole" fill="#fff"/>
</g>
<path class="d" transform="scale(.5)" stroke="#e4e2dd" stroke-width="6" d="M2951 1427h0m17-3h0m-37 6h0m22 8h0m15-4h0m-18 8h0m-24 18h0m32 25h0m34-5h0m-22 15h0m14-2h0m12 1h0m54-1h0m-90 7h0m21 23h0m11-2h0m-105 37h0m-184 15h0m179 39h0m73 9h0m35 4h0m114 18h0m-40 10h0m-40 19h0m-20 27h0"/>
<path class="d" transform="scale(.5)" stroke="#fff0de" stroke-width="6" d="M2878 1438h0m85 4h0m9 7h0m-5 23h0m-43 6h0m44 0h0m6 20h0m-27 58h0m-263 4h0m318 2h0m17 21h0m-10 4h0m-102 12h0m82 0h0m82 37h0m-525 14h0m530-1h0m2-4h0m17 10h0m16-2h0m-118 4h0m74 7h0m-461 15h0m2-2h0m348 0h0m27-1h0m33-3h0m6-3h0m74 25h0m-17 14h0"/>
<path class="d" transform="scale(.5)" stroke="#fee5c5" stroke-width="6" d="M2871 1417h0m74 5h0m21 4h0m-30 7h0m-71 12h0m60-4h0m7 8h0m10 0h0m-89 4h0m14 7h0m8-8h0m67 4h0m5 0h0m18-3h0m-83 19h0m46 0h0m11-4h0m49 0h0m-155 18h0m22-6h0m87 7h0m13-1h0m26-1h0m-23 5h0m11-1h0m4 1h0m-22 12h0m41 15h0m3 10h0m-93 12h0m86 7h0m-139 19h0m134-2h0m22 5h0m96 8h0m-239 18h0m53 5h0m91-1h0m74 19h0m-522 26h0m428-1h0m82-10h0m5 8h0m2-5h0m6-3h0m6 11h0m9 0h0m-556 10h0m77 0h0m342-4h0m2 5h0m91-9h0m3 10h0m0-7h0m4 6h0m26-7h0m4-1h0m6 0h0m2 5h0m12 0h0m-51 13h0m1-6h0m8 0h0m38-1h0m5 9h0m-140 10h0m26 0h0m4 1h0m24-9h0m0 11h0m62-2h0m2-4h0m5-4h0m11 10h0m5-6h0m-45 18h0m13-8h0m14 8h0m9-11h0m-42 14h0m10 4h0m7-3h0m5 0h0m4 6h0m5-6h0m11 8h0m-27 11h0m14-9h0m12 1h0m-32 10h0m2 4h0m-407 27h0"/>
<path class="d" transform="scale(.5)" stroke="#fdd6a7" stroke-width="6" d="M2869 1427h0m0-7h0m57 3h0m11 3h0m17 8h0m2 4h0m5-1h0m10 2h0m6-2h0m-48 12h0m27-3h0m-79 11h0m50-4h0m43 7h0m31 3h0m-79 12h0m18-1h0m15-10h0m8 8h0m23 3h0m6-5h0m13-1h0m-85 17h0m27-6h0m14 2h0m22-3h0m20 4h0m-67 8h0m47 6h0m-46 11h0m31-8h0m9 6h0m4-4h0m6 3h0m2-4h0m1 3h0m11 2h0m2 14h0m93-5h0m-115 16h0m121-4h0m-138 19h0m-339 11h0m423-8h0m54 8h0m-159 7h0m70 1h0m-412 29h0m387-10h0m44 14h0m43 0h0m-488 26h0m401 4h0m48-8h0m-486 22h0m507 1h0m33-4h0m2 4h0m1-8h0m-552 16h0m533 3h0m6-8h0m24 7h0m4-7h0m-113 15h0m21 1h0m20 4h0m35-8h0m31 4h0m-140 12h0m34-2h0m64 4h0m3-3h0m2-5h0m6 4h0m22 1h0m8-1h0m-107 14h0m18-3h0m18 0h0m39 2h0m4 5h0m2-10h0m5 9h0m9-1h0m-31 14h0m3-6h0m0 6h0m6-1h0m6-3h0m11-4h0m-26 15h0m7 5h0"/>
<path class="d" transform="scale(.5)" stroke="#fdc592" stroke-width="6" d="M2845 1408h0m30 8h0m89 8h0m-18 11h0m7-5h0m16-1h0m56 3h0m-51 13h0m6 3h0m70 1h0m14-3h0m-198 7h0m90 0h0m9 8h0m12-5h0m53-4h0m-74 23h0m9-7h0m70 0h0m-91 15h0m58-3h0m101-4h0m-171 19h0m21 1h0m8-6h0m4-1h0m11 19h0m-78 7h0m63-2h0m31-1h0m5 4h0m-130 12h0m205 2h0m-156 24h0m74-5h0m96 1h0m-86 30h0m-11 10h0m6 13h0m25-2h0m-57 12h0m39-1h0m-384 12h0m382 7h0m26 0h0m18-3h0m-34 8h0m10 7h0m2-11h0m39 3h0m-129 15h0m33-3h0m9 8h0m18-2h0m12-7h0m28 5h0m3 4h0m5-5h0m-142 7h0m179 5h0m17 0h0m2 3h0m-106 12h0m101-1h0m-77 12h0m3-3h0m49 2h0m-524 7h0m515-2h0m43 3h0m-116 15h0m107 3h0m-29 3h0"/>
<path class="d" transform="scale(.5)" stroke="#fcad79" stroke-width="6" d="M2939 1424h0m12-7h0m-88 21h0m77 0h0m3-1h0m43-6h0m-43 13h0m11 6h0m1-9h0m39 8h0m21-7h0m-78 15h0m22-1h0m9 0h0m28 5h0m-70 7h0m8-3h0m1 3h0m8 7h0m0-7h0m10-1h0m5 5h0m14 0h0m3 7h0m3 5h0m-26 5h0m7 4h0m22 0h0m101-2h0m-122 18h0m-17 12h0m12 2h0m2-11h0m-86 16h0m209 11h0m-17 30h0m24-9h0m26 7h0m-220 12h0m92 19h0m-1 23h0m19 2h0m-21 15h0m60 2h0m-485 21h0m455 0h0m-31 12h0m56 0h0m-39 8h0m-12 22h0"/>
<path class="d" transform="scale(.5)" stroke="#fb905d" stroke-width="6" d="M2923 1419h0m8 4h0m11-3h0m30 7h0m1 4h0m-48 19h0m23-4h0m33-1h0m-49 15h0m50 0h0m-46 5h0m11 4h0m5 6h0m10 0h0m87-4h0m-122 11h0m15-3h0m8 0h0m12 8h0m3-4h0m7 3h0m22-3h0m-34 14h0m34-4h0m31 6h0m42 7h0m-108 9h0m4 8h0m8-7h0m-79 10h0m17 2h0m73 6h0m-31 41h0m114 41h0m-78 7h0m1 26h0m4 2h0m37 14h0m-45 14h0m7 5h0m12 7h0"/>
<path class="d" transform="scale(.5)" stroke="#f2704e" stroke-width="6" d="M2922 1409h0m1 3h0m4 4h0m38 21h0m8-2h0m-28 6h0m13 0h0m9 9h0m10-8h0m4-1h0m-30 16h0m21-1h0m36-3h0m-85 18h0m37-3h0m106-4h0m-128 15h0m39 6h0m-40 30h0m6 0h0m6 1h0m24 7h0m-18 8h0m92 86h0m-148 25h0m118 11h0"/>
<path class="d" transform="scale(.5)" stroke="#e55239" stroke-width="6" d="M2920 1413h0m29 7h0m-23 10h0m12 0h0m11 4h0m13 15h0m4-4h0m-35 8h0m9 6h0m3 0h0m32 16h0m-7 12h0m-2 7h0m-36 8h0m-16 47h0m85 0h0m61 76h0m-167 17h0m96-7h0m15 27h0m-1 22h0"/>
<path class="d" transform="scale(.5)" stroke="#d12b1c" stroke-width="6" d="M2928 1412h0m-1 33h0m50 4h0m-15 14h0m124-9h0m-135 17h0m44 4h0m-62 26h0m29 71h0m-71 71h0m26 4h0m96 32h0m-74 244h0"/>
<path class="d" transform="scale(.5)" stroke="#b30905" stroke-width="6" d="M2923 1415h0m0 7h0m8 16h0m27 25h0m-32 11h0m20 13h0m38-1h0m-59 157h0m93 7h0"/>
<path class="d" transform="scale(.5)" stroke="#8f0000" stroke-width="6" d="M2920 1404h0m56 61h0m3 3h0"/>
<path d="M1248.1 684V1011.1H1574.7" fill="none" stroke="#555" stroke-width="1.7" stroke-linejoin="round"/>
<text transform="translate(1250.98 705.70) scale(1.086 1)" font-size="31.45" font-weight="bold">KCNN4</text>
<text transform="translate(1272.49 994.00) scale(0.664 1)" font-size="50.72" font-weight="bold">J</text>
<text transform="translate(1372.20 1033.50) scale(0.985 1)" font-size="23.77" font-weight="bold">umap1</text>
<text transform="translate(1239.50 846.80) rotate(-90) scale(1.011 1.085) translate(-38.50 0)" font-size="23.77" font-weight="bold">umap2</text>
<rect x="1347.6" y="1055.2" width="214.3" height="17.1" fill="url(#cb)"/>
<text x="1343.09" y="1091.00" font-size="17.68" fill="#111">0</text>
<text x="1419.57" y="1091.00" font-size="17.68" fill="#111">1</text>
<text x="1496.29" y="1091.00" font-size="17.68" fill="#111">2</text>
<path d="M1424.7 1055.2v3M1424.7 1072.3v-3M1501.2 1055.2v3M1501.2 1072.3v-3" stroke="#fff" stroke-opacity=".45" stroke-width="1" fill="none"/>
<g transform="translate(852.1 1447.4) scale(0.745 0.755)">
<use href="#bgs"/><use href="#ycells"/><use href="#hole" fill="#fff"/>
</g>
<path class="d" transform="scale(.5)" stroke="#e4e2dd" stroke-width="6" d="M2047 2295h0m-17 14h0m40 3h0m10-3h0m-35 8h0m15-1h0m-8 15h0m5 19h0m13 0h0m-41 13h0m2-5h0m14-6h0m16 9h0m-16 6h0m18 3h0m-36 10h0m41-4h0m-2 13h0m1 11h0m196 51h0m-374 41h0m51-6h0m-29 13h0m11 5h0m-80 12h0m4 44h0m8 0h0m38 2h0m15 11h0m14 0h0m9-4h0m-50 21h0"/>
<path class="d" transform="scale(.5)" stroke="#fff0de" stroke-width="6" d="M2021 2301h0m65-9h0m-44 32h0m9-7h0m3 0h0m-29 22h0m19-11h0m4 1h0m16 10h0m10-10h0m1 6h0m-41 13h0m5-8h0m22 7h0m20-1h0m-22 9h0m-7 19h0m3-4h0m-3 14h0m-18 7h0m9 9h0m-89 26h0m287 23h0m-304 29h0m-31 6h0m-18 21h0m27-6h0m1 8h0m-39 8h0m21 1h0m-61 10h0m43-3h0m5 0h0m1 6h0m25 1h0m-65 10h0m41 0h0m26 15h0m-23 4h0m11 1h0m-42 8h0m23 25h0m15 22h0m-19 7h0m10-6h0m11 2h0m-26 16h0"/>
<path class="d" transform="scale(.5)" stroke="#fee5c5" stroke-width="6" d="M2039 2279h0m-14 22h0m30 2h0m8 0h0m3-5h0m-38 16h0m5-10h0m3 2h0m8-1h0m16 4h0m-5 16h0m4 0h0m3 2h0m20-1h0m-43 4h0m-21 12h0m10 9h0m9-7h0m20-1h0m11 4h0m5-7h0m1 11h0m-10 4h0m3 7h0m15-7h0m11 6h0m195 2h0m-252 11h0m3-7h0m-14 17h0m8 1h0m24-3h0m12 3h0m4-9h0m-33 19h0m14-3h0m18 0h0m-207 67h0m14-1h0m5 13h0m-50 5h0m35 1h0m363-3h0m-402 19h0m9-5h0m60 4h0m329 1h0m-393 7h0m71 4h0m-63 4h0m5 4h0m52-1h0m3 4h0m-61 15h0m4-7h0m13 0h0m-11 11h0m27 6h0m4-7h0m18 7h0m13-6h0m12 8h0m-51 13h0m18-3h0m4-1h0m2-2h0m12-4h0m3 10h0m-85 11h0m5 0h0m36-9h0m3 3h0m47 0h0m-65 14h0m39 1h0m6-5h0m-40 11h0m12 1h0m4 8h0m-34 5h0m3 5h0m13-3h0m23 0h0m14-3h0m4 9h0m-42 5h0m3 4h0m47 8h0m242 122h0"/>
<path class="d" transform="scale(.5)" stroke="#fdd6a7" stroke-width="6" d="M2039 2283h0m9 0h0m18 8h0m2 11h0m11-4h0m7 4h0m-46 4h0m22 0h0m3 4h0m2-1h0m3-2h0m2-3h0m-56 22h0m37-5h0m12 0h0m-43 18h0m2-7h0m6-3h0m5 7h0m4-3h0m3 6h0m-19 12h0m7-5h0m5 4h0m30-5h0m-169 9h0m132 3h0m11 5h0m1-3h0m14 4h0m31-1h0m-44 12h0m17 0h0m5-2h0m10 1h0m0-3h0m6 3h0m-179 4h0m124 4h0m17 4h0m10-7h0m12 0h0m3 2h0m-1 16h0m-125 18h0m303 1h0m-366 32h0m-4 24h0m3-9h0m-9 11h0m374 0h0m-406 22h0m46-4h0m396-7h0m-437 20h0m20 2h0m7-1h0m24-6h0m-67 9h0m3 4h0m6 3h0m48 1h0m15 2h0m9-8h0m8 8h0m6-3h0m7 3h0m-73 8h0m16 4h0m11 0h0m17-8h0m17-1h0m-48 13h0m2 3h0m17 6h0m9-6h0m11-3h0m-90 21h0m19-11h0m38 7h0m9-7h0m5 11h0m7-1h0m25-7h0m20 1h0m-80 14h0m14-3h0m38 8h0m9-4h0m8-3h0m11 7h0m-105 7h0m17-4h0m11 9h0m38-11h0m3 6h0m11-3h0m3 4h0m-90 14h0m17-3h0m55 3h0m32-5h0m-99 9h0m43 0h0m7 3h0m7-4h0m20 1h0m14 0h0m-77 22h0m35-8h0m-21 19h0m22 0h0m1-6h0m5 3h0m-26 6h0m299 213h0"/>
<path class="d" transform="scale(.5)" stroke="#fdc592" stroke-width="6" d="M2048 2291h0m-15 1h0m0 2h0m30 2h0m11 17h0m-46 11h0m36 1h0m15-3h0m-58 10h0m39 7h0m-28 5h0m6 4h0m36-5h0m-49 18h0m17 9h0m33-4h0m8 6h0m-39 8h0m20 4h0m-23 5h0m5 3h0m15-3h0m27 21h0m-230 4h0m380 10h0m-390 34h0m48-6h0m315 7h0m-290 14h0m-65 16h0m6 0h0m2 4h0m41-4h0m-76 17h0m8-5h0m24 2h0m4 4h0m14-10h0m12 7h0m9-1h0m10 0h0m1 4h0m-39 9h0m18-2h0m17 1h0m-85 12h0m27 0h0m31 0h0m14 2h0m1-4h0m8-3h0m24 8h0m10-1h0m-112 8h0m25 1h0m6-1h0m6-4h0m10 10h0m4-6h0m6-3h0m32 6h0m29 1h0m-122 11h0m12 1h0m5-1h0m11 2h0m11-2h0m17-6h0m22-1h0m13 0h0m1 4h0m-95 7h0m8 4h0m5-4h0m29 3h0m1 4h0m39 1h0m29 2h0m9-10h0m-117 18h0m24 5h0m27-4h0m13-1h0m-65 12h0m44 4h0m22-9h0m13 3h0m2 6h0m1-8h0m16 4h0m-72 17h0m4-7h0m4 7h0m5-7h0m27 0h0m26 5h0m12-5h0m-85 12h0m23 0h0m21 7h0m26-8h0m2 4h0m-52 7h0m11 5h0m3-3h0m2 16h0"/>
<path class="d" transform="scale(.5)" stroke="#fcad79" stroke-width="6" d="M2054 2273h0m-12 30h0m28-3h0m-38 15h0m20-4h0m6 2h0m4 9h0m8 14h0m6-5h0m6 6h0m-10 9h0m-22 16h0m11-4h0m-34 14h0m8-2h0m-180 19h0m64 0h0m335 58h0m29-4h0m-30 9h0m-411 19h0m9-2h0m0-6h0m19 27h0m3 3h0m2 2h0m-25 11h0m2-6h0m1-3h0m2 3h0m23 3h0m29-4h0m7 4h0m20-2h0m-100 7h0m3 6h0m38-2h0m4-2h0m3 9h0m1-8h0m26 0h0m14 0h0m-94 19h0m5-8h0m29 4h0m7-1h0m4 0h0m10 2h0m22 3h0m2-4h0m34 5h0m-106 10h0m8-9h0m21 5h0m8-1h0m10 6h0m4-8h0m14 7h0m8 1h0m29-2h0m-98 8h0m2 5h0m4-8h0m17-1h0m0 4h0m1 5h0m5-1h0m21-7h0m5 0h0m7 1h0m-50 14h0m21 6h0m2-3h0m5-3h0m5 0h0m4 3h0m5-3h0m26 7h0m13 0h0m-111 11h0m7-4h0m4-6h0m7 2h0m3 4h0m13-6h0m18 1h0m3 5h0m3 3h0m11-9h0m13 10h0m2-8h0m8 8h0m7-8h0m-99 20h0m12-7h0m3 2h0m10-3h0m1 4h0m3-5h0m16 4h0m2 5h0m34-6h0m7 1h0m4-3h0m-86 12h0m19 1h0m6-2h0m18 7h0m0-7h0m-20 20h0m6-6h0m5 7h0m3-9h0m8 0h0m6 9h0m2-2h0m1-5h0m10 1h0m6 4h0m6-3h0m-54 11h0m5 7h0m9 7h0"/>
<path class="d" transform="scale(.5)" stroke="#fb905d" stroke-width="6" d="M2063 2280h0m-24 15h0m45 11h0m-10 16h0m2 4h0m17-1h0m-14 17h0m12 1h0m-21 16h0m3 3h0m7 1h0m3-11h0m-12 20h0m198-6h0m-232 26h0m-148 26h0m399 41h0m-443 6h0m37 6h0m21-8h0m-11 19h0m4 0h0m17-1h0m-76 4h0m64 10h0m1-2h0m344-9h0m-410 19h0m37 3h0m16 0h0m34-6h0m-99 19h0m13-2h0m16 1h0m4-1h0m2-1h0m4-1h0m6 3h0m50-10h0m-92 17h0m28-2h0m0 6h0m8 1h0m3-4h0m20-1h0m12 4h0m4-1h0m38-5h0m-120 14h0m7-3h0m0 8h0m13-1h0m2 2h0m6-3h0m17 1h0m6-7h0m7 6h0m12-3h0m2 4h0m12 1h0m14 0h0m-101 11h0m1-5h0m7-3h0m1 6h0m4-7h0m5 10h0m0-5h0m3-5h0m12 5h0m24-1h0m2 5h0m31-1h0m-92 10h0m3-3h0m20 0h0m15 5h0m8-7h0m5 7h0m13 0h0m5-1h0m9 4h0m2-4h0m3-5h0m15 5h0m9 0h0m2-5h0m3-2h0m-99 14h0m0 9h0m29-1h0m4-4h0m10-4h0m5-2h0m6 3h0m10 8h0m7-2h0m10-6h0m-80 9h0m10 2h0m24-1h0m10 2h0m3-2h0m12 4h0m2 5h0m39-9h0m-106 11h0m8 8h0m14-7h0m13-1h0m21 8h0m14-4h0m3 4h0m11-2h0m4 0h0m9-1h0m-84 10h0m9 2h0m4-2h0m2-2h0m8 0h0m5 8h0m1-6h0m2 5h0m4-4h0m3 7h0m0-8h0m21 19h0m-39 3h0m279 125h0"/>
<path class="d" transform="scale(.5)" stroke="#f2704e" stroke-width="6" d="M2084 2328h0m-32 16h0m31-1h0m1 22h0m7 41h0m-237 59h0m54 4h0m330 2h0m-405 14h0m43 7h0m1-8h0m6 5h0m9-1h0m30 0h0m-99 15h0m9 0h0m38-7h0m2 4h0m4 7h0m21-11h0m-71 18h0m15 3h0m13-5h0m2 4h0m6-5h0m4 0h0m1 4h0m7 2h0m38-2h0m4 0h0m-83 14h0m7-2h0m6 3h0m4-9h0m8 6h0m1 3h0m5-8h0m8 8h0m62-8h0m-96 16h0m2-4h0m14-2h0m4 8h0m13 0h0m20-6h0m4-1h0m-74 12h0m2 3h0m9 0h0m18 4h0m3-3h0m4-2h0m2-2h0m27 8h0m1-5h0m6-1h0m9 5h0m8-1h0m5 0h0m1-6h0m11 4h0m-103 13h0m6-4h0m5 4h0m3 5h0m4-7h0m2-4h0m10 0h0m21 0h0m24 0h0m3 11h0m5-7h0m-83 15h0m21-4h0m6-3h0m14 11h0m17-2h0m41-3h0m11-2h0m-106 17h0m5-3h0m8-2h0m15 5h0m35-7h0m25 6h0m6-2h0m-91 9h0m9-1h0m1 2h0m7-3h0m18 1h0m1 3h0m13-5h0m19 5h0m17 1h0m-77 12h0m7 1h0m3 4h0m23-3h0m8-7h0m-26 18h0m3-7h0m4 5h0"/>
<path class="d" transform="scale(.5)" stroke="#e55239" stroke-width="6" d="M1938 2362h0m135-5h0m14 1h0m11 71h0m-243 41h0m4 8h0m-13 7h0m2 10h0m19-3h0m23-8h0m-51 13h0m10 7h0m13-8h0m32 4h0m5 6h0m-66 4h0m16 9h0m2-4h0m5-7h0m-34 20h0m3 1h0m27-1h0m24-6h0m38 3h0m-92 8h0m8 3h0m1 6h0m16-5h0m7 5h0m21-9h0m51-1h0m4 2h0m-106 21h0m3-7h0m24-4h0m27 11h0m6 0h0m0-7h0m-53 16h0m17 2h0m22-4h0m-52 6h0m28 7h0m7-5h0m72-2h0m11 7h0m-90 15h0m4-1h0m7-3h0m3-4h0m24 4h0m15-3h0m-33 18h0m33 3h0m-41 20h0m12-8h0m13 6h0"/>
<path class="d" transform="scale(.5)" stroke="#d12b1c" stroke-width="6" d="M2215 2314h0m-136 45h0m-192 76h0m-20 60h0m0-7h0m42 2h0m-62 9h0m6 4h0m-26 15h0m39 1h0m-36 2h0m1 5h0m98-5h0m-96 13h0m53 2h0m30-4h0m-90 23h0m43-6h0m-42 14h0m7-4h0m7-3h0m8 8h0m19 2h0m-53 5h0m9 0h0m15 8h0m13-1h0m2-5h0m13-3h0m2 8h0m48-8h0m-75 13h0m20 3h0m20-5h0m-30 33h0m13 5h0"/>
<path class="d" transform="scale(.5)" stroke="#b30905" stroke-width="6" d="M2082 2370h0m-217 114h0m-21 28h0m13 43h0m-13 7h0m25 11h0m13 2h0m-6 15h0"/>
<path class="d" transform="scale(.5)" stroke="#8f0000" stroke-width="6" d="M2087 2352h0m3 2h0m-170 167h0m3 8h0m-64 7h0m3 4h0m1 27h0m21-1h0m-52 4h0m6 5h0m24-4h0"/>
<path d="M852.1 1120.4V1447.7H1179.9" fill="none" stroke="#555" stroke-width="1.7" stroke-linejoin="round"/>
<text transform="translate(863.85 1147.40) scale(0.992 1)" font-size="33.33" font-weight="bold">KCNMA1</text>
<text transform="translate(878.37 1422.70) scale(0.920 1)" font-size="50.72" font-weight="bold">K</text>
<text transform="translate(977.00 1469.90) scale(0.985 1)" font-size="23.77" font-weight="bold">umap1</text>
<text transform="translate(843.00 1283.70) rotate(-90) scale(1.011 1.085) translate(-38.50 0)" font-size="23.77" font-weight="bold">umap2</text>
<rect x="961.8" y="1492.9" width="214.2" height="16" fill="url(#cb)"/>
<text x="957.39" y="1528.60" font-size="17.68" fill="#111">0</text>
<text x="1032.47" y="1528.60" font-size="17.68" fill="#111">1</text>
<text x="1107.89" y="1528.60" font-size="17.68" fill="#111">2</text>
<path d="M1037.6 1492.9v3M1037.6 1508.9v-3M1112.8 1492.9v3M1112.8 1508.9v-3" stroke="#fff" stroke-opacity=".45" stroke-width="1" fill="none"/>
<path d="M950.3 1504V1519.6" stroke="#3a3a3a" stroke-width="1.5"/>
<g transform="translate(1248.1 1449.5) scale(0.745 0.755)">
<use href="#bgs"/><use href="#ocells"/><use href="#hole" fill="#fff"/>
</g>
<path class="d" transform="scale(.5)" stroke="#e4e2dd" stroke-width="6" d="M2854 2322h0m-31 8h0m37 26h0m11 12h0m-218 69h0m54 26h0m324 21h0m-410 16h0m17 31h0m249-11h0m-254 22h0m76 1h0m206-1h0m-276 13h0m5-6h0m66 2h0m-25 11h0m21 44h0m-55 15h0"/>
<path class="d" transform="scale(.5)" stroke="#fff0de" stroke-width="6" d="M2847 2283h0m1 5h0m-25 13h0m17-7h0m8-1h0m22-1h0m-7 17h0m-28 11h0m38-1h0m8 1h0m1 6h0m8-8h0m-53 11h0m52 19h0m-50 6h0m13 18h0m4-2h0m-34 8h0m27 3h0m6 6h0m17-2h0m203-7h0m5 31h0m-355 49h0m380 2h0m-472 20h0m-7 15h0m52 11h0m-9 2h0m16 7h0m-60 9h0m9 7h0m23-10h0m8 8h0m-34 6h0m90-3h0m7 6h0m-32 11h0m20 5h0m-83 12h0m38-9h0m-124 20h0m64 2h0m35-11h0m65 7h0m-8 15h0m-19 4h0m5 4h0m3-2h0m1 13h0m-39 9h0m-5 21h0m13-8h0"/>
<path class="d" transform="scale(.5)" stroke="#fee5c5" stroke-width="6" d="M2870 2279h0m-42 8h0m3 7h0m8 3h0m51 0h0m-53 7h0m20 4h0m2-3h0m1 6h0m7-2h0m14-5h0m-51 22h0m29 0h0m2-10h0m-30 14h0m4 7h0m31-7h0m10 3h0m-46 9h0m4 7h0m-12 11h0m24-4h0m11 3h0m-34 15h0m57-6h0m0 3h0m6-7h0m8 0h0m-61 15h0m62 0h0m-42 10h0m9 7h0m-202 23h0m1-7h0m342 9h0m-335 5h0m81 2h0m-70 25h0m309 0h0m-346 25h0m4-4h0m21 1h0m2 3h0m-23 9h0m26 1h0m57 7h0m-85 2h0m-91 20h0m70-3h0m11 2h0m20-2h0m30-5h0m23 8h0m6-4h0m-176 16h0m2-5h0m3 2h0m5-1h0m93 3h0m3 2h0m10-10h0m16 5h0m12 5h0m1-7h0m8 2h0m32 2h0m-94 8h0m33 4h0m11 1h0m3 2h0m22 1h0m9-7h0m3-1h0m6-1h0m22 5h0m-201 7h0m21 7h0m38-8h0m47 2h0m6 7h0m16-8h0m14 8h0m5-4h0m2-4h0m14 0h0m32 4h0m7 4h0m-196 2h0m44 6h0m19 2h0m62 0h0m65-3h0m-183 11h0m64-4h0m7 9h0m47-4h0m7 0h0m34 2h0m-136 12h0m65 1h0m54-5h0m0 4h0m19-1h0m-136 12h0m13 0h0m53 3h0m5 1h0m8-8h0m47 2h0m6-1h0m6-3h0m-77 13h0m19 8h0m32 0h0m3-8h0m-53 13h0m27 6h0m11-7h0m17 0h0m-53 11h0m21 3h0"/>
<path class="d" transform="scale(.5)" stroke="#fdd6a7" stroke-width="6" d="M2857 2278h0m2-3h0m3 3h0m-26 7h0m6 4h0m9 0h0m2-3h0m3 3h0m9-7h0m13 2h0m-38 16h0m26 1h0m10-2h0m92-1h0m11 2h0m-156 15h0m4-6h0m5 5h0m14-7h0m2 1h0m15-4h0m7 11h0m4-7h0m15 0h0m-64 18h0m0-7h0m8 7h0m22-6h0m40-1h0m-64 18h0m10 1h0m8-1h0m14-8h0m6 4h0m11 4h0m3-6h0m191 0h0m-205 9h0m10 5h0m14 0h0m-72 11h0m5 1h0m2-4h0m16 0h0m2 10h0m5-6h0m30 0h0m10 4h0m-70 9h0m11-2h0m4-1h0m14 0h0m8 1h0m-26 14h0m14 4h0m17-1h0m-26 5h0m27 4h0m-26 6h0m-141 16h0m7 8h0m293 6h0m-348 16h0m8-8h0m51 14h0m-69 19h0m21-6h0m33-5h0m13 9h0m-97 10h0m50-4h0m53 5h0m14 3h0m313-4h0m-404 16h0m74-11h0m2 9h0m-148 6h0m3 3h0m3-1h0m2-3h0m9 8h0m9-9h0m12 5h0m14 3h0m19-4h0m16 0h0m4 4h0m4 0h0m4-6h0m1 6h0m30-8h0m1 6h0m14-1h0m4 3h0m-165 11h0m18 1h0m17 0h0m9-7h0m25-1h0m1 7h0m24-4h0m1-2h0m17-1h0m21 10h0m15-2h0m2-5h0m8 7h0m4-6h0m13 0h0m3 4h0m4-8h0m-197 19h0m33 2h0m26 1h0m27-2h0m5-1h0m6-1h0m12-6h0m35 10h0m8-11h0m1 4h0m2 6h0m22-1h0m2-5h0m1 7h0m11-10h0m2 10h0m5-3h0m-187 10h0m10 0h0m2 4h0m13 0h0m57-4h0m1-6h0m11 4h0m4 5h0m4 2h0m5-7h0m1-4h0m7 11h0m11-4h0m11 4h0m3-8h0m11 5h0m21 2h0m1-3h0m9-1h0m-185 16h0m8-8h0m12 1h0m11 4h0m50-5h0m21 8h0m6-10h0m9 3h0m3 0h0m21 8h0m10-9h0m17 8h0m26-1h0m-184 12h0m9-1h0m13-6h0m1 3h0m13 4h0m11-8h0m23 7h0m15-6h0m9-1h0m12 3h0m2 5h0m2-4h0m8 0h0m10 4h0m0-5h0m49 4h0m-183 4h0m39 1h0m24 6h0m9-3h0m2-4h0m6 1h0m10 6h0m4 1h0m10-5h0m12-2h0m23 3h0m14 7h0m10-11h0m3 11h0m3-7h0m6 0h0m6 4h0m-168 14h0m65 1h0m2-11h0m4 7h0m1-7h0m4 1h0m5 2h0m4 1h0m2 6h0m4-6h0m6 4h0m2 3h0m3-11h0m0 4h0m20 2h0m10 2h0m4-3h0m21 3h0m6 3h0m-157 3h0m55 1h0m2 4h0m13 3h0m4-8h0m1-2h0m5 6h0m3-3h0m7 7h0m11-4h0m6-2h0m10 3h0m15-7h0m2 3h0m10 2h0m4 0h0m-81 8h0m16 9h0m0-5h0m6-4h0m24 5h0m4-3h0m1 6h0m14 0h0m-59 12h0m4-8h0m16 10h0m5-11h0m10 0h0m0 8h0m2 3h0m12-9h0m-13 18h0"/>
<path class="d" transform="scale(.5)" stroke="#fdc592" stroke-width="6" d="M2867 2278h0m-15 3h0m3 0h0m4 8h0m6-3h0m-19 11h0m12 4h0m-16 11h0m17 3h0m9-10h0m17 8h0m-70 3h0m12 0h0m1 7h0m10-3h0m19 2h0m8 4h0m2-8h0m1 8h0m11-3h0m0-7h0m5 6h0m10 5h0m-81 7h0m13 1h0m15-6h0m5 1h0m4 1h0m25 8h0m0-8h0m-62 17h0m46-6h0m5-1h0m27 1h0m3 6h0m-64 9h0m6 3h0m25-6h0m2 3h0m3-4h0m5 0h0m17 8h0m-65 6h0m46-3h0m7 10h0m12 0h0m-45 11h0m-8 15h0m-129 13h0m-123 28h0m26 1h0m55-1h0m-68 16h0m26-1h0m5-2h0m27-2h0m-41 11h0m105 4h0m20 4h0m-134 7h0m59 5h0m-59 4h0m1 6h0m1-9h0m6 10h0m27 1h0m26 0h0m3-8h0m72 4h0m-166 10h0m39 0h0m25 0h0m50 5h0m12-7h0m30 6h0m-172 14h0m3-2h0m20-8h0m3 4h0m91 1h0m3 3h0m5-3h0m10 5h0m3 0h0m3-10h0m16 10h0m22-9h0m-189 20h0m3-2h0m7-1h0m6 0h0m4 0h0m5 2h0m0-5h0m0 7h0m4-11h0m4 11h0m0-3h0m52-4h0m19-1h0m1 5h0m10 3h0m0-7h0m10-1h0m11 3h0m4 1h0m2 4h0m5 0h0m20-1h0m1-5h0m9-1h0m16 0h0m-201 8h0m2 4h0m9-2h0m2-2h0m5 3h0m10 5h0m5-2h0m17 1h0m6-1h0m1 4h0m46-3h0m12-7h0m12 11h0m1-11h0m7 2h0m2 4h0m2-4h0m4 7h0m5-5h0m4-1h0m4 1h0m4 7h0m2-9h0m16 8h0m3-7h0m10 0h0m1 8h0m-202 6h0m0 4h0m2-8h0m1 4h0m10 4h0m8-3h0m10 3h0m5 2h0m11-11h0m9 2h0m7 5h0m27 2h0m4-2h0m2-5h0m8 8h0m0-9h0m12 0h0m4 1h0m8 3h0m4 0h0m19-2h0m4 7h0m10-2h0m9-1h0m13-1h0m-173 11h0m3 1h0m7-5h0m1 8h0m2-3h0m6 3h0m2-3h0m10 3h0m1-8h0m5 9h0m3-6h0m5 6h0m8-1h0m15-5h0m5 1h0m11 3h0m1-2h0m21 0h0m3-4h0m0 6h0m8 1h0m20-4h0m4 4h0m2-9h0m8 6h0m2-5h0m1 5h0m7 2h0m2-2h0m2-5h0m1 8h0m6-4h0m20-2h0m-186 20h0m2-2h0m3-6h0m1 6h0m8-6h0m0 8h0m2-2h0m7-4h0m1 4h0m5-4h0m3 3h0m4 0h0m8 3h0m5-2h0m5-9h0m11 11h0m9-6h0m3 0h0m3-5h0m3 2h0m6-2h0m6 3h0m1 8h0m13-3h0m5-8h0m1 8h0m7-7h0m15 6h0m13 2h0m4-4h0m13 6h0m17-9h0m-181 15h0m14-4h0m1 7h0m10 2h0m0-7h0m18 0h0m3 8h0m4-3h0m1-5h0m3 5h0m32-8h0m5 7h0m2 4h0m3-5h0m1-4h0m2 9h0m11-10h0m9 1h0m2 5h0m8-7h0m14 8h0m2 3h0m16-11h0m1 3h0m4-1h0m4-2h0m-147 16h0m15 3h0m2-4h0m0 7h0m21-7h0m2 3h0m8-4h0m2-2h0m1 7h0m7 0h0m1 3h0m3-4h0m3-3h0m16 8h0m11-4h0m1-7h0m24 6h0m7 1h0m5 4h0m13-7h0m-91 9h0m23 4h0m0 4h0m6-7h0m9 0h0m26 8h0m7-1h0m-63 8h0m13-1h0m21 1h0m3 0h0m7-3h0m1 5h0m7-6h0m3 4h0m-32 18h0m26-8h0m-18 9h0"/>
<path class="d" transform="scale(.5)" stroke="#fcad79" stroke-width="6" d="M2841 2278h0m-11 12h0m5 3h0m9 0h0m37 3h0m-38 8h0m11 4h0m-45 14h0m24 0h0m24 3h0m2-6h0m28-3h0m-43 21h0m4-2h0m5 2h0m12-3h0m5 4h0m-25 7h0m1 4h0m6-7h0m3 0h0m10 6h0m1-2h0m207 0h0m-235 11h0m10-4h0m2 6h0m4 0h0m40-3h0m32 4h0m-85 8h0m1 12h0m198 6h0m30-6h0m-437 17h0m36 1h0m-28 3h0m25 8h0m66-3h0m-96 17h0m53-3h0m-51 15h0m12-5h0m-65 16h0m2-3h0m6-4h0m1 6h0m4-7h0m5 8h0m0-5h0m13 0h0m3-2h0m4 6h0m38-7h0m12 4h0m8-1h0m-94 16h0m7-3h0m7 2h0m72 0h0m-78 7h0m2-2h0m6 4h0m2-4h0m5-1h0m10 0h0m4 7h0m2-2h0m34 6h0m13-6h0m1-5h0m255 2h0m135 2h0m-469 15h0m2 3h0m5 1h0m9-9h0m5 4h0m11-2h0m58-4h0m51 7h0m-160 12h0m2 2h0m7-3h0m24 4h0m1-4h0m6-1h0m25 2h0m29 0h0m5 0h0m2-5h0m16 8h0m15 0h0m2-3h0m-133 14h0m5-4h0m3 5h0m20 0h0m3-5h0m20 5h0m21-9h0m23 8h0m1-4h0m2 4h0m16-4h0m4-3h0m2 8h0m-147 6h0m3-2h0m3 7h0m2-4h0m9 0h0m3-5h0m3 8h0m16-3h0m5 1h0m25-1h0m9-1h0m4 2h0m12-1h0m28 3h0m8-3h0m9 4h0m23 0h0m-170 4h0m4 7h0m3-8h0m4 3h0m13 2h0m3-2h0m1 8h0m8-7h0m6 3h0m4 1h0m4-5h0m1 4h0m1-6h0m36 3h0m15-4h0m12 5h0m17 3h0m4-3h0m23-5h0m0 8h0m2 2h0m10-2h0m-178 10h0m3 4h0m1-4h0m2 5h0m3-11h0m2 10h0m10-4h0m5 0h0m1-3h0m4 5h0m2-5h0m22-1h0m4 9h0m22-8h0m19 5h0m2 3h0m2-5h0m9-6h0m2 8h0m4 1h0m0-2h0m7 3h0m10-7h0m27 4h0m5 0h0m4 0h0m12-3h0m7-2h0m2 8h0m7-1h0m7-2h0m-208 16h0m6-10h0m6 5h0m6-4h0m1 8h0m3-8h0m7 3h0m3-2h0m9-1h0m2 7h0m5-3h0m5 5h0m3-5h0m2-4h0m10 3h0m1-3h0m5 7h0m6-8h0m2 10h0m0-6h0m11 1h0m4-3h0m22 4h0m14 0h0m4-2h0m16 2h0m2 2h0m5-8h0m8 9h0m10-1h0m3-6h0m10-1h0m-192 12h0m4 0h0m5 7h0m4-8h0m27 7h0m4-3h0m2-5h0m10 2h0m5-1h0m8 8h0m6-3h0m11-5h0m5 0h0m13 7h0m1-2h0m3-4h0m6 3h0m2 5h0m25-1h0m1-8h0m9 1h0m5 3h0m11 4h0m14-7h0m9 0h0m7 4h0m-188 10h0m11-3h0m12-1h0m4 7h0m3 4h0m3-8h0m4 8h0m5 0h0m1-8h0m2-3h0m2 11h0m6-10h0m1 6h0m11-6h0m25 4h0m10 4h0m5-1h0m5-1h0m3 1h0m3-4h0m11 5h0m5 0h0m19-9h0m1 8h0m6-3h0m2 3h0m8-3h0m6-5h0m13 7h0m-175 5h0m4 4h0m4 6h0m13-6h0m9-1h0m3 0h0m0 8h0m6-4h0m12 4h0m3 0h0m12-11h0m10 3h0m10 4h0m9-7h0m8 8h0m5-2h0m6-2h0m2 4h0m7 3h0m5-7h0m19-4h0m4 0h0m1 4h0m5 0h0m11 4h0m6-3h0m-157 10h0m9 6h0m0-6h0m9 8h0m8-8h0m16 3h0m16 0h0m22-1h0m5 0h0m7-3h0m1-2h0m3 10h0m7-2h0m2 3h0m1-4h0m11 2h0m7 0h0m7 1h0m6 0h0m-86 5h0m13 7h0m1-5h0m7-3h0m16 8h0m5-1h0m19-3h0m5 0h0m5-4h0m7 4h0m-40 17h0m3-6h0m4-3h0m7 6h0m4-2h0m4 5h0m3-7h0m0 4h0m9-4h0m3-3h0m-54 18h0m4 1h0m12 0h0m10-1h0m7-3h0m-25 10h0"/>
<path class="d" transform="scale(.5)" stroke="#fb905d" stroke-width="6" d="M2873 2289h0m-40 8h0m18-1h0m16-2h0m-12 21h0m-12 12h0m-24 4h0m20 3h0m3-1h0m15 5h0m13-8h0m2 4h0m-50 8h0m4 7h0m17-1h0m34 2h0m103-1h0m-109 11h0m-31 14h0m23-2h0m4 2h0m32-9h0m-77 22h0m35 3h0m-207 32h0m28 13h0m8-7h0m-96 14h0m-1 12h0m6-5h0m22 7h0m5-6h0m-34 19h0m1-9h0m3 1h0m5 7h0m5-1h0m0-6h0m3 7h0m7 3h0m3-10h0m0 6h0m1 4h0m3-4h0m10 4h0m32-11h0m88 7h0m-160 9h0m5 6h0m12-6h0m5 7h0m9-4h0m10 0h0m48 1h0m7-1h0m202-3h0m-275 10h0m6 4h0m8-3h0m20 7h0m16-3h0m13-7h0m-121 22h0m17-2h0m14-7h0m25 2h0m6-2h0m11 0h0m38 4h0m13-2h0m32 5h0m-167 11h0m12-1h0m3-5h0m7 0h0m5 7h0m1-3h0m72 3h0m4-7h0m2 4h0m2-5h0m1 8h0m8-1h0m2-3h0m3-2h0m16-1h0m22 8h0m8-9h0m-176 16h0m8-1h0m14 1h0m4 6h0m0-6h0m7-3h0m18 2h0m2-2h0m34-1h0m7 11h0m17-7h0m15-1h0m0 5h0m10-1h0m22 0h0m5 4h0m29-4h0m15 4h0m-214 9h0m4-1h0m0-5h0m2 9h0m2-11h0m9 3h0m3 4h0m10-7h0m4 11h0m11-8h0m8 0h0m2 0h0m28 1h0m6-4h0m24 3h0m21 1h0m3-2h0m6 8h0m10-4h0m4 1h0m3 3h0m35 1h0m11-4h0m-186 14h0m6-3h0m4-1h0m10 0h0m2 4h0m4 2h0m3-6h0m1-2h0m13 6h0m6 0h0m10-2h0m25-1h0m24 4h0m16-8h0m4 4h0m3 0h0m13 0h0m6 3h0m6-6h0m16 7h0m8-5h0m-181 16h0m2-7h0m4 4h0m5-4h0m4 3h0m2-5h0m21 0h0m7 6h0m4 0h0m8 0h0m12-5h0m5 5h0m5-1h0m6-3h0m1 2h0m9 0h0m16-2h0m13 7h0m32-3h0m16 4h0m0-5h0m13 5h0m6-4h0m-177 6h0m1 7h0m12-6h0m4 0h0m16 2h0m5 1h0m5 3h0m9 2h0m3 0h0m4-5h0m10 4h0m14-8h0m8 1h0m4-1h0m7 5h0m9-2h0m9 4h0m7 4h0m2-9h0m1 2h0m25 4h0m13-7h0m-171 19h0m2-5h0m6 0h0m3 7h0m5 1h0m1-10h0m1 6h0m8 0h0m0 3h0m8-6h0m8-1h0m1-2h0m9 6h0m12-1h0m45 2h0m9-7h0m5 9h0m-97 12h0m26-8h0m3-2h0m21 0h0m26 6h0m18 4h0m32-8h0m-81 16h0m10-3h0m15 3h0m23-5h0m0 9h0m10-8h0m-39 21h0m2-2h0"/>
<path class="d" transform="scale(.5)" stroke="#f2704e" stroke-width="6" d="M2854 2272h0m13 3h0m-25 7h0m18 15h0m-39 14h0m54 3h0m-29 12h0m-11 37h0m35 12h0m230 3h0m-434 17h0m399 22h0m-435 17h0m34-7h0m-75 20h0m9-2h0m8 1h0m5 0h0m-25 3h0m5-1h0m1 9h0m13-4h0m4 4h0m2-3h0m37 2h0m-55 12h0m3 3h0m4-7h0m9 1h0m1 2h0m13-6h0m10 3h0m-43 14h0m3-2h0m6 0h0m1 3h0m14 4h0m6-1h0m7-3h0m338 1h0m-368 10h0m10-4h0m14 0h0m6 5h0m-37 14h0m33 1h0m61-8h0m-122 11h0m107 6h0m3 4h0m-126 1h0m9 7h0m20 0h0m41-3h0m62 4h0m16-3h0m13-1h0m3-4h0m-155 14h0m4 9h0m22 0h0m2-3h0m1 2h0m37-3h0m43 0h0m-126 10h0m13-5h0m30 1h0m2 8h0m2-3h0m12-1h0m77 6h0m49-4h0m1 2h0m-186 12h0m2-5h0m27 5h0m3-4h0m24 4h0m16-7h0m30 8h0m48-2h0m4-7h0m5 9h0m20-9h0m4 10h0m1-1h0m-176 5h0m3-2h0m11 3h0m28 0h0m37 4h0m15-3h0m28-4h0m11 4h0m7-4h0m3 3h0m8-4h0m5 1h0m-137 21h0m4-8h0m19 6h0m42 2h0m4-7h0m19-3h0m18 0h0m5 3h0m11 1h0m3 7h0m33-7h0m-38 8h0m-55 21h0m31-6h0m12-2h0m22 6h0m-45 5h0m8 0h0m1 9h0m6 0h0m-21 7h0m1 7h0m7-10h0m12 7h0m13-8h0"/>
<path class="d" transform="scale(.5)" stroke="#e55239" stroke-width="6" d="M2870 2286h0m-175 134h0m-36 25h0m-57 9h0m1 3h0m1-9h0m30 8h0m-43 15h0m17 0h0m8-6h0m9 6h0m-26 1h0m2 3h0m12 5h0m1-4h0m-13 13h0m16-2h0m42-1h0m-56 16h0m97-1h0m20 0h0m-158 12h0m24 4h0m27-9h0m17 2h0m46 9h0m39-2h0m18-7h0m-150 14h0m91 6h0m60-6h0m-162 18h0m5-4h0m40 1h0m36-3h0m-83 9h0m30 10h0m8-8h0m2 2h0m21 5h0m6-9h0m23 8h0m48-6h0m-28 9h0m32 5h0m-156 7h0m11 5h0m2-5h0m33 3h0m76 5h0m-118 4h0m4 7h0m26 3h0m8-10h0m20 4h0m43 7h0m41-4h0m-101 7h0m91 8h0m-51 7h0m22 0h0m3 0h0m2 5h0m11-3h0"/>
<path class="d" transform="scale(.5)" stroke="#d12b1c" stroke-width="6" d="M2990 2385h0m-352 27h0m307 12h0m-296 15h0m-40 11h0m10 4h0m-16 18h0m-16 16h0m46-4h0m21 7h0m-91 30h0m16 11h0m66 4h0m13-1h0m-117 15h0m109 3h0m27-8h0m28 13h0m34-1h0m-43 16h0m-39 23h0"/>
<path class="d" transform="scale(.5)" stroke="#b30905" stroke-width="6" d="M2591 2464h0m-48 83h0"/>
<path class="d" transform="scale(.5)" stroke="#8f0000" stroke-width="6" d="M2713 2595h0"/>
<path d="M1248.1 1122.4V1449.8H1574.7" fill="none" stroke="#555" stroke-width="1.7" stroke-linejoin="round"/>
<text transform="translate(1251.04 1147.20) scale(0.997 1)" font-size="33.33" font-weight="bold">KCNMA1</text>
<text transform="translate(1271.15 1422.00) scale(0.865 1)" font-size="50.72" font-weight="bold">L</text>
<text transform="translate(1372.20 1471.20) scale(0.985 1)" font-size="23.77" font-weight="bold">umap1</text>
<text transform="translate(1239.50 1285.60) rotate(-90) scale(1.011 1.085) translate(-38.50 0)" font-size="23.77" font-weight="bold">umap2</text>
<rect x="1357" y="1494" width="214.3" height="16.2" fill="url(#cb)"/>
<text x="1352.39" y="1530.60" font-size="17.68" fill="#111">0</text>
<text x="1418.27" y="1530.60" font-size="17.68" fill="#111">1</text>
<text x="1483.79" y="1530.60" font-size="17.68" fill="#111">2</text>
<text x="1549.94" y="1530.60" font-size="17.68" fill="#111">3</text>
<path d="M1423.4 1494v3M1423.4 1510.2v-3M1488.7 1494v3M1488.7 1510.2v-3M1554.8 1494v3M1554.8 1510.2v-3" stroke="#fff" stroke-opacity=".45" stroke-width="1" fill="none"/>
<path d="M1346.3 1506V1521" stroke="#3a3a3a" stroke-width="1.5"/>
<g transform="translate(855.2 1898.4) scale(0.786 0.76)">
<use href="#bgs"/><use href="#ycells"/><use href="#hole" fill="#fff"/>
</g>
<path class="d" transform="scale(.5)" stroke="#e4e2dd" stroke-width="6" d="M2195 3186h0m-14 10h0m10-2h0m-126 11h0m12 17h0m5-3h0m200 4h0m53 10h0m-93 15h0m22-1h0m-61 10h0m12-1h0m-115 14h0m111 2h0m22-1h0m-66 26h0m48-5h0m24 5h0m14 1h0m90 0h0m-101 10h0m98 15h0m-108 22h0m-16 8h0m37 0h0m-335 27h0m384 4h0m-16 18h0m-407 15h0m31 19h0m285 231h0m-4 6h0m17 0h0"/>
<path class="d" transform="scale(.5)" stroke="#fff0de" stroke-width="6" d="M2176 3189h0m3 11h0m-93 5h0m109-1h0m6 3h0m2 3h0m-159 9h0m236-1h0m-218 23h0m24 1h0m182-1h0m-171 26h0m38 1h0m185 15h0m-249 13h0m253-2h0m-151 6h0m38 0h0m117 15h0m6-2h0m3 0h0m0 2h0m6-2h0m-185 21h0m42-8h0m24-2h0m37 2h0m68 1h0m-196 11h0m128 3h0m38 0h0m-177 8h0m180 3h0m-172 8h0m24 5h0m23 4h0m61-8h0m20-1h0m-336 19h0m202 1h0m59-2h0m19-2h0m105-4h0m-403 13h0m386-1h0m65 9h0m-418 5h0m299 7h0m-320 4h0m231 4h0m-190 15h0m-52 4h0m337 10h0m58-8h0m-405 19h0m267 201h0m19-3h0m21 7h0m3-10h0m-32 26h0m3 6h0m22-7h0m-37 11h0m36 0h0m-4 12h0"/>
<path class="d" transform="scale(.5)" stroke="#fee5c5" stroke-width="6" d="M2079 3186h0m2-4h0m108 1h0m-147 18h0m20-8h0m-26 22h0m7-10h0m131 6h0m18 4h0m98-6h0m-251 16h0m26 1h0m5-3h0m24-7h0m12 0h0m14 11h0m58-8h0m69 3h0m-180 14h0m6-7h0m33 8h0m105-3h0m104 3h0m-195 7h0m48-3h0m61 1h0m53 3h0m-206 8h0m4-1h0m142 8h0m37-4h0m-208 12h0m20 6h0m18-7h0m88-3h0m20 3h0m-109 14h0m103-5h0m10 6h0m145 4h0m-98 11h0m82-6h0m2 3h0m10-3h0m-269 10h0m144 0h0m0 4h0m102-5h0m13 9h0m12-1h0m3-5h0m1 5h0m-175 15h0m69-11h0m8 5h0m69 5h0m-134 9h0m49 2h0m101 1h0m0-3h0m7-4h0m4 8h0m-88 4h0m8-2h0m57 15h0m-441 18h0m333-3h0m81-3h0m22 4h0m-52 12h0m49 3h0m-405 8h0m259-2h0m59 0h0m50-3h0m-406 19h0m74-3h0m-52 17h0m26-8h0m2-3h0m-54 21h0m393-6h0m-378 16h0m3 4h0m30-1h0m34-7h0m200 0h0m-225 17h0m-36 12h0m52-6h0m-28 10h0m282 182h0m-16 19h0m13-7h0m-6 20h0m6-4h0m2 10h0m5-1h0m-33 20h0m33-3h0"/>
<path class="d" transform="scale(.5)" stroke="#fdd6a7" stroke-width="6" d="M2089 3179h0m12-6h0m-55 13h0m6 2h0m135-3h0m11 3h0m-159 8h0m37-2h0m3 3h0m2-1h0m-49 19h0m3-3h0m29-5h0m50 8h0m71-10h0m23 7h0m56-1h0m-209 13h0m1-6h0m14 1h0m20 0h0m80 4h0m155 1h0m-135 10h0m7-5h0m-158 19h0m26-6h0m114 2h0m39 0h0m16 4h0m106-7h0m-271 15h0m44 0h0m-58 19h0m114-3h0m48 0h0m14-5h0m24 4h0m-191 12h0m30 4h0m5-1h0m40-7h0m42-1h0m7-2h0m7 11h0m33-1h0m22-1h0m78 0h0m-251 4h0m9 4h0m141 5h0m35-1h0m3 1h0m8-8h0m60 6h0m-152 13h0m20-4h0m7-3h0m34 0h0m74 2h0m13 1h0m4-5h0m2 0h0m-198 23h0m39-3h0m17-4h0m75-1h0m78 5h0m1-7h0m-130 20h0m51-2h0m62 4h0m16-9h0m-136 20h0m44-8h0m-75 18h0m85 0h0m4-3h0m14 4h0m27-1h0m-135 8h0m114-3h0m10 7h0m24-1h0m-376 12h0m200 0h0m137-7h0m9 0h0m-375 14h0m245 8h0m44-7h0m58 3h0m8 1h0m-410 11h0m48 4h0m4-1h0m4-8h0m-57 11h0m55 9h0m20-4h0m20-3h0m226 1h0m-337 14h0m51-1h0m15-4h0m12 0h0m6 10h0m295-9h0m24 3h0m3-4h0m-339 18h0m29 16h0m296-4h0m-310 7h0m309 12h0m-49 185h0m-20 16h0m0-7h0m9 2h0m26 5h0m8-1h0m-38 12h0m25-5h0m-34 12h0m5 7h0m19-8h0m1-2h0m-14 11h0"/>
<path class="d" transform="scale(.5)" stroke="#fdc592" stroke-width="6" d="M2085 3169h0m11 2h0m84 17h0m-14 12h0m36 3h0m-155 8h0m36 1h0m13-1h0m73-7h0m11 7h0m1-7h0m15 11h0m3-11h0m23 4h0m-52 8h0m29 9h0m7-7h0m62-2h0m10 0h0m-199 22h0m125 0h0m14 1h0m12-2h0m-39 5h0m4 8h0m2-6h0m6-4h0m-153 20h0m109 3h0m20-4h0m6 4h0m14 0h0m2-11h0m55 8h0m6-8h0m-151 16h0m99-1h0m6-3h0m23 10h0m-23 12h0m-92 11h0m64 1h0m45-6h0m-119 13h0m69-1h0m84 4h0m55 1h0m-106 7h0m27 4h0m13-1h0m9 0h0m7-3h0m28-4h0m17 1h0m33-1h0m-229 12h0m106 4h0m32 2h0m5-3h0m68-3h0m1 2h0m-81 16h0m-154 6h0m124 2h0m62 9h0m-355 8h0m290-4h0m27 6h0m2 2h0m15-3h0m40 3h0m-36 4h0m11 4h0m30 0h0m1 4h0m-435 11h0m41-4h0m41 4h0m303-5h0m2-3h0m-385 12h0m34 0h0m3 3h0m273 4h0m-275 7h0m12 1h0m3-5h0m8 0h0m-53 20h0m34-2h0m12 1h0m12-4h0m1-3h0m241 1h0m133 7h0m-393 11h0m4 0h0m-8 15h0m-1 7h0m18-1h0m-14 16h0m-21 5h0m288 166h0m11 11h0m-37 8h0m20-1h0m2-2h0m15 2h0m-5 17h0m-29 13h0m4-8h0m7 5h0m-28 12h0"/>
<path class="d" transform="scale(.5)" stroke="#fcad79" stroke-width="6" d="M2068 3185h0m44 12h0m109 4h0m-166 4h0m121 3h0m-99 8h0m118 3h0m3 1h0m20 3h0m-25 7h0m10 5h0m4-1h0m-17 15h0m-96 6h0m33 4h0m58 2h0m11-1h0m8 3h0m3-8h0m18 0h0m-32 10h0m10 6h0m1-4h0m72 4h0m-220 16h0m130-8h0m33 8h0m9-9h0m5 9h0m10-1h0m-146 12h0m92-3h0m25-5h0m-53 14h0m63-4h0m1 8h0m12 1h0m0-8h0m23 4h0m10 1h0m5 3h0m-15 14h0m44-4h0m-72 11h0m16 4h0m93-4h0m-64 15h0m-161 7h0m144 1h0m-357 12h0m316 2h0m51 1h0m-13 12h0m2-5h0m1 4h0m2 3h0m31 0h0m-406 12h0m11-3h0m355-7h0m-386 20h0m6-2h0m52 0h0m209-4h0m147-1h0m-401 16h0m8 4h0m24-9h0m3 5h0m39-1h0m208 5h0m-237 6h0m-30 24h0m27 9h0m23 1h0m-30 51h0m265 138h0m-19 2h0m19 7h0m0 3h0m7-6h0m-4 18h0m6-8h0m-21 10h0m26 2h0m5 6h0m-23 15h0m14 0h0m-34 8h0m14-4h0m24 4h0m-40 7h0m10 7h0"/>
<path class="d" transform="scale(.5)" stroke="#fb905d" stroke-width="6" d="M2180 3186h0m6 12h0m-1 13h0m29-4h0m1-3h0m-35 23h0m16-4h0m23 4h0m-31 4h0m1 8h0m40-5h0m-53 10h0m10 6h0m9-9h0m3 7h0m18-6h0m-11 10h0m4 0h0m1 8h0m2-4h0m18 5h0m4 0h0m-45 6h0m1-2h0m9 6h0m1-3h0m20 4h0m18 14h0m-19 8h0m10-2h0m78 1h0m-136 12h0m5 4h0m75-2h0m3-5h0m-94 28h0m81-6h0m24 11h0m-127 3h0m105 8h0m26-4h0m24 3h0m-114 4h0m98 1h0m3 3h0m2-4h0m12 4h0m-121 7h0m80 10h0m-30 5h0m-301 56h0m26-6h0m-25 10h0m-57 10h0m82 9h0m257 199h0m-26 8h0m27 2h0m29 0h0m7 4h0m-85 11h0m18 5h0m6-10h0m-12 30h0m0 16h0m7-5h0m-18 7h0"/>
<path class="d" transform="scale(.5)" stroke="#f2704e" stroke-width="6" d="M2194 3190h0m-20 25h0m27 1h0m-10 20h0m-3 24h0m5-4h0m28 7h0m-34 8h0m19 0h0m29-3h0m-28 11h0m14 3h0m47 5h0m-23 22h0m-23 4h0m80 10h0m-50 10h0m-130 12h0m142 1h0m-4 18h0m13 0h0m2-4h0m32 1h0m-31 15h0m-11 10h0m-408 23h0m303 272h0m-14 19h0m8-4h0m18 7h0m-15 5h0m3 10h0m17-8h0m13 0h0"/>
<path class="d" transform="scale(.5)" stroke="#e55239" stroke-width="6" d="M2191 3203h0m6 9h0m-14 26h0m13 0h0m-4 8h0m-7 11h0m15 18h0m12-11h0m47 14h0m-50 19h0m39 21h0m22 31h0m3 8h0m3 11h0m-13 7h0m14 7h0m-417 48h0m377 228h0m-10 4h0m10 5h0m-87 32h0m35 4h0"/>
<path class="d" transform="scale(.5)" stroke="#d12b1c" stroke-width="6" d="M2210 3226h0m-35 12h0m24 4h0m13 7h0m-22 8h0m10 2h0m96 121h0m-68 278h0m4 0h0m8-3h0m6 4h0m-71 18h0m-17 22h0"/>
<path class="d" transform="scale(.5)" stroke="#b30905" stroke-width="6" d="M2202 3226h0m-3 9h0m10 3h0m-27 25h0m17-7h0m58 34h0m44 79h0m-21 14h0m-2 11h0"/>
<path class="d" transform="scale(.5)" stroke="#8f0000" stroke-width="6" d="M2213 3237h0m-30 9h0m110 114h0m-24 19h0m19-5h0m-42 292h0m4 1h0"/>
<path d="M855.2 1571.9V1898.7H1199.8" fill="none" stroke="#555" stroke-width="1.7" stroke-linejoin="round"/>
<text transform="translate(867.08 1590.30) scale(1.038 1)" font-size="31.45" font-weight="bold">KCNJ2</text>
<text transform="translate(867.69 1870.40) scale(1.065 1)" font-size="50.72" font-weight="bold">M</text>
<text transform="translate(986.32 1921.40) scale(1.037 1)" font-size="23.77" font-weight="bold">umap1</text>
<text transform="translate(845.50 1733.00) rotate(-90) scale(1.011 1.085) translate(-38.50 0)" font-size="23.77" font-weight="bold">umap2</text>
<rect x="957.2" y="1943" width="226.3" height="17.4" fill="url(#cb)"/>
<text x="952.29" y="1980.00" font-size="17.68" fill="#111">0</text>
<text x="1018.67" y="1980.00" font-size="17.68" fill="#111">1</text>
<text x="1085.69" y="1980.00" font-size="17.68" fill="#111">2</text>
<text x="1152.84" y="1980.00" font-size="17.68" fill="#111">3</text>
<path d="M1023.8 1943v3M1023.8 1960.4v-3M1090.6 1943v3M1090.6 1960.4v-3M1157.7 1943v3M1157.7 1960.4v-3" stroke="#fff" stroke-opacity=".45" stroke-width="1" fill="none"/>
<g transform="translate(1244.8 1900.5) scale(0.785 0.782)">
<use href="#bgs"/><use href="#ocells"/><use href="#hole" fill="#fff"/>
</g>
<path class="d" transform="scale(.5)" stroke="#e4e2dd" stroke-width="6" d="M2901 3176h0m55-4h0m81 18h0m-132 6h0m159 3h0m-187 7h0m27 4h0m-47 15h0m105-4h0m124 3h0m4 0h0m22 12h0m-237 15h0m-12 7h0m24 3h0m10-3h0m52 15h0m145-3h0m-242 11h0m49 1h0m67-2h0m40 4h0m94 0h0m-173 10h0m161-3h0m37 2h0m-108 7h0m-326 13h0m427 8h0m-438 12h0m415 10h0m-37 8h0m9 3h0m-360 9h0m367 4h0m11 2h0m-410 4h0m52 7h0m150-8h0m-218 20h0m285 3h0m-292 24h0m6-11h0m-26 17h0m492-4h0m-493 19h0m26-6h0m22-1h0m406 10h0m-430 2h0m3 4h0m-70 14h0m428 4h0"/>
<path class="d" transform="scale(.5)" stroke="#fff0de" stroke-width="6" d="M2867 3155h0m-27 11h0m37-5h0m6 11h0m16 0h0m38-3h0m24 19h0m56 0h0m-173 6h0m2 5h0m134-7h0m1 10h0m23-3h0m37 3h0m23-7h0m18 3h0m-219 15h0m40 0h0m59-6h0m27-2h0m21 1h0m43 1h0m-212 11h0m38 6h0m62-4h0m114 5h0m73-7h0m-238 15h0m49 0h0m117 3h0m4-8h0m20 4h0m23-1h0m-253 19h0m7-3h0m36-3h0m49 3h0m12-3h0m50-1h0m1 8h0m11-3h0m91 3h0m9-9h0m-267 13h0m10 3h0m114 4h0m55-7h0m-168 14h0m14 0h0m97-3h0m3 3h0m49-4h0m4 0h0m5 7h0m24 2h0m26-8h0m3 3h0m7-5h0m-202 19h0m52 2h0m78 0h0m4-9h0m30 0h0m38 1h0m-207 19h0m57-4h0m5 7h0m29-7h0m13-4h0m73 8h0m7-8h0m11 11h0m7-4h0m-188 16h0m30-8h0m81-1h0m55 0h0m-147 16h0m162 4h0m25-2h0m-423 10h0m273-1h0m117 0h0m-440 11h0m26-3h0m27-1h0m3 11h0m188-8h0m85 7h0m70-7h0m-389 19h0m259-4h0m-257 17h0m420-5h0m-398 12h0m30-1h0m34 0h0m16-1h0m227-3h0m38 8h0m-416 14h0m23-4h0m11-3h0m28 4h0m35-7h0m11 3h0m244 1h0m8 0h0m18-1h0m-328 15h0m321-7h0m143 6h0m-493 16h0m42-5h0m11 2h0m9 0h0m216-7h0m70 11h0m119-5h0m-155 9h0m176 6h0m25-1h0m-482 5h0m58 4h0m4 1h0m312 2h0m110-7h0m-472 21h0m23-3h0m301-7h0m117 0h0m4 7h0m3 4h0m-411 27h0m391-1h0m-109 182h0m-28 15h0m-15 16h0m41 1h0m-43 7h0m62-1h0m-5 8h0"/>
<path class="d" transform="scale(.5)" stroke="#fee5c5" stroke-width="6" d="M2867 3162h0m-28 9h0m125 8h0m2-3h0m-142 15h0m86 0h0m51 0h0m6-7h0m7 7h0m18-7h0m77 0h0m-241 8h0m34 3h0m19 4h0m5 2h0m22-6h0m61-1h0m-148 13h0m2 2h0m1 5h0m18-7h0m26 0h0m89 2h0m0-3h0m58 7h0m90-4h0m-282 16h0m24-1h0m5-8h0m17 0h0m80 5h0m93-4h0m6 4h0m49 4h0m-242 4h0m5 0h0m6 10h0m16-6h0m157-5h0m15 11h0m43 0h0m2-8h0m7 2h0m12-2h0m-215 12h0m54 0h0m54 0h0m12 8h0m26-1h0m40-10h0m5 0h0m14 3h0m-243 11h0m27 4h0m5 5h0m53-4h0m52 0h0m13-6h0m4 6h0m13-1h0m14-3h0m5 7h0m21-8h0m53 4h0m-290 12h0m105-2h0m27 5h0m33 0h0m73 1h0m15-2h0m4 0h0m-235 5h0m21 0h0m22 6h0m9-7h0m12 9h0m1 2h0m18-7h0m11-4h0m6 9h0m44-5h0m1-4h0m38 5h0m30 0h0m40-4h0m-441 21h0m214-7h0m8 8h0m36-9h0m10-2h0m16 1h0m29 1h0m9 2h0m36-3h0m48 3h0m20-3h0m-240 21h0m3-5h0m66 5h0m25-8h0m1 9h0m102-5h0m-157 11h0m4-2h0m68 4h0m41-4h0m79 3h0m5 4h0m1-9h0m39 9h0m-174 4h0m5-2h0m77 1h0m80 8h0m19-1h0m-499 8h0m21 0h0m10 4h0m14-1h0m186-2h0m14 0h0m22-2h0m3 8h0m17-6h0m28-5h0m23 8h0m7-1h0m75-3h0m30-4h0m-468 22h0m98-7h0m155-2h0m12 1h0m5 9h0m3-1h0m187-2h0m-419 10h0m4 1h0m5-2h0m208 5h0m14-9h0m17 9h0m36-3h0m6-5h0m9 7h0m2-9h0m21 0h0m114 1h0m-425 15h0m5 2h0m35-4h0m18 6h0m1-6h0m220 9h0m88-10h0m45 4h0m-484 14h0m7-5h0m4 5h0m20-3h0m77 0h0m17 4h0m13 3h0m192-4h0m46 1h0m20-4h0m-335 9h0m3 2h0m13 0h0m32 5h0m5-7h0m263 10h0m20-4h0m10-4h0m-376 18h0m16-2h0m6-4h0m20-3h0m67 7h0m200-1h0m58-4h0m18 5h0m71 3h0m7-3h0m23 4h0m-491 10h0m2-1h0m26-6h0m22 1h0m9 6h0m2-4h0m4 0h0m242 0h0m66 5h0m25-8h0m-388 19h0m32-3h0m5 0h0m18-5h0m393 8h0m-410 14h0m303-11h0m42 5h0m67 0h0m8-4h0m26 11h0m-410 19h0m412-1h0m3-4h0m-525 14h0m507-3h0m-525 16h0m12-5h0m101 11h0m268 152h0m61 20h0m-105 19h0m0-8h0m8 7h0m13-8h0m13 16h0m4 5h0m-16 3h0m-12 12h0m6-1h0m9 7h0m34-7h0m13 23h0"/>
<path class="d" transform="scale(.5)" stroke="#fdd6a7" stroke-width="6" d="M2882 3158h0m2 6h0m48-4h0m3 5h0m-96 14h0m4-11h0m24 0h0m13 1h0m15 3h0m46-4h0m18 9h0m6-4h0m26 0h0m67 6h0m-216 5h0m8 7h0m38-5h0m56 2h0m34-6h0m20 2h0m12 0h0m43-1h0m16 8h0m14-1h0m-219 8h0m11-3h0m29 8h0m40-9h0m1 5h0m2-4h0m22 8h0m9 0h0m3-9h0m5 7h0m10-3h0m6 0h0m11 4h0m36-10h0m35 10h0m-237 12h0m23-3h0m29 0h0m44-1h0m10-3h0m49 2h0m6 0h0m3 4h0m12-8h0m17 9h0m25-1h0m24-4h0m7 5h0m-256 11h0m34 0h0m10 2h0m12-10h0m47 8h0m23-5h0m7 5h0m5 2h0m0-10h0m9-1h0m7 1h0m16 3h0m3 1h0m4 4h0m6-4h0m2 3h0m7 1h0m6 0h0m34-7h0m40 0h0m-285 14h0m38-1h0m2 5h0m5-7h0m69 0h0m21 7h0m53-3h0m71-1h0m1-4h0m-232 16h0m16 7h0m11-5h0m52 1h0m38-4h0m16 1h0m6 4h0m65-2h0m19 4h0m7-10h0m14 2h0m3 6h0m16 0h0m9 3h0m-297 6h0m26 0h0m15 2h0m28-4h0m35-1h0m8 7h0m20-3h0m45 4h0m5 1h0m31-2h0m27-4h0m-214 12h0m11-3h0m81 0h0m0 3h0m3 1h0m12-4h0m12 0h0m50 3h0m9 1h0m2 4h0m16-8h0m17 7h0m5-7h0m30 0h0m-179 19h0m28-3h0m16 1h0m50 4h0m17-11h0m28 2h0m5-1h0m19 10h0m-183 11h0m47 1h0m5-8h0m11 8h0m4-10h0m4 5h0m18-2h0m20 4h0m11-5h0m32 4h0m12 0h0m39 0h0m-421 16h0m3-11h0m60 7h0m137 0h0m1-4h0m46-3h0m10 4h0m7 2h0m23 0h0m119 0h0m26 1h0m22-2h0m-436 12h0m257 2h0m1 1h0m40-7h0m68 1h0m9 0h0m9-1h0m12 1h0m5-1h0m-421 15h0m1 5h0m5-1h0m382 0h0m38-3h0m-496 10h0m28 0h0m6 7h0m19-4h0m40-2h0m242 6h0m7-6h0m146 4h0m3-1h0m12 4h0m-453 1h0m3 2h0m21 2h0m10 2h0m177 0h0m93-4h0m77 1h0m8 7h0m-440 4h0m43 0h0m1 5h0m1-7h0m48 6h0m204-4h0m5 3h0m4 2h0m90-4h0m79 3h0m3 4h0m-475 4h0m81 7h0m46-4h0m199-3h0m12 6h0m41-4h0m62-2h0m-422 11h0m5 2h0m22 1h0m356 5h0m4-2h0m5-4h0m12 6h0m27-5h0m-452 12h0m2 2h0m3 1h0m18-6h0m9 9h0m23-6h0m8 7h0m32-9h0m184 6h0m31 0h0m79-7h0m44 10h0m38-3h0m-530 15h0m66-5h0m6-3h0m10 6h0m0-7h0m8 7h0m28-4h0m13 0h0m2 5h0m210 0h0m27-7h0m58 3h0m110 3h0m19-3h0m-456 15h0m5 1h0m11-6h0m2 2h0m237-1h0m213 5h0m-545 6h0m33 0h0m65 1h0m33 4h0m307 2h0m8-6h0m62-1h0m17 0h0m-524 12h0m42 4h0m15 2h0m414-3h0m67-3h0m15 3h0m-11 16h0m-476 4h0m3 0h0m440-2h0m-447 27h0m297 186h0m86-3h0m-108 14h0m22-8h0m30 19h0m-35 5h0m13-1h0m32 43h0m2 3h0"/>
<path class="d" transform="scale(.5)" stroke="#fdc592" stroke-width="6" d="M2863 3154h0m-4 21h0m83-2h0m41-4h0m3 3h0m1 4h0m13 3h0m-168 8h0m39 4h0m28-5h0m10 1h0m50-6h0m13 2h0m14 3h0m2-2h0m11 3h0m4-1h0m16 5h0m42-7h0m12 2h0m16 2h0m-253 7h0m14 4h0m59 2h0m48-2h0m9-2h0m0-5h0m23 8h0m2-1h0m12-5h0m25 9h0m4-4h0m9-4h0m3 4h0m44 2h0m-234 4h0m97 5h0m6 3h0m14-6h0m1 7h0m4 0h0m8-9h0m3 4h0m7 1h0m4 1h0m15-4h0m9 6h0m13-6h0m21 3h0m16-1h0m49 5h0m-221 11h0m57-5h0m4 5h0m14-4h0m3 4h0m4-8h0m2 3h0m5 5h0m1-8h0m2 4h0m2 4h0m2-3h0m10-4h0m33 2h0m70 7h0m-156 10h0m14-9h0m3 1h0m15 2h0m7-2h0m3 3h0m11-1h0m37 5h0m12-5h0m18 6h0m32-8h0m-275 17h0m4 0h0m63 4h0m9 1h0m33-11h0m16 7h0m22-1h0m14 2h0m28 3h0m18-5h0m29-3h0m7 7h0m5-6h0m13 6h0m12 1h0m13 0h0m-248 8h0m102-7h0m13 5h0m7 5h0m51-10h0m27 10h0m30-9h0m4 2h0m3 2h0m19-2h0m-128 11h0m22 6h0m17-7h0m12 4h0m15 4h0m50 0h0m-170 14h0m18-4h0m1-5h0m10 2h0m7-2h0m39-2h0m56 4h0m32-4h0m-188 16h0m14-4h0m4 4h0m26 7h0m4-7h0m28 3h0m21-7h0m5 6h0m19 5h0m19-11h0m17 7h0m37 4h0m-479 1h0m51 2h0m247 5h0m17-2h0m27-2h0m66 8h0m8-1h0m48-1h0m-230 6h0m35 6h0m37-8h0m18 8h0m5-8h0m18 5h0m21 4h0m66-6h0m14 1h0m11 0h0m52 1h0m-512 8h0m43 0h0m14-1h0m241 8h0m1 2h0m119-9h0m3 7h0m4-9h0m29 4h0m-470 16h0m12-4h0m7-3h0m4 7h0m19-3h0m18 6h0m202-3h0m218-3h0m6-2h0m25 1h0m-449 19h0m33 0h0m262-1h0m22-7h0m43 8h0m41-5h0m-463 11h0m6 0h0m14 5h0m18-8h0m21-1h0m5 2h0m3-1h0m0 9h0m9-1h0m0-7h0m13 0h0m9 8h0m155-1h0m24-5h0m6-2h0m57 4h0m5-2h0m7 5h0m7 0h0m49 0h0m-406 12h0m31-5h0m2-5h0m5 9h0m6-4h0m8-4h0m16 0h0m5 9h0m-67 10h0m4 0h0m10-4h0m4-3h0m5 3h0m3-1h0m0 6h0m4-2h0m40-2h0m24 4h0m186-1h0m32 0h0m111-3h0m10-5h0m-427 19h0m14-4h0m6 1h0m13-1h0m19 4h0m1-7h0m23 10h0m4 0h0m14-10h0m193 7h0m129-4h0m37 5h0m-493 14h0m31 0h0m72-5h0m24 1h0m10 0h0m15 4h0m186 0h0m85-7h0m27 8h0m12-8h0m40 3h0m19 1h0m-449 7h0m6 1h0m7-1h0m38 0h0m224 0h0m154 4h0m11-5h0m-480 19h0m29-4h0m462-4h0m-429 13h0m24 18h0m311-4h0m100 1h0m-527 11h0m427 4h0m-84 204h0m10 1h0m-8 10h0m4 0h0m10 0h0m-27 15h0m0-8h0m3 5h0m19 11h0m-18 8h0m39 21h0"/>
<path class="d" transform="scale(.5)" stroke="#fcad79" stroke-width="6" d="M2875 3166h0m13 0h0m48-4h0m6 15h0m20-1h0m12-3h0m4-1h0m6 4h0m83 1h0m-207 14h0m10-11h0m13 1h0m8-1h0m57 4h0m14-1h0m6 4h0m4 3h0m1-4h0m12 5h0m6-3h0m15-5h0m31 4h0m21-5h0m14-1h0m-160 22h0m36 0h0m3 0h0m2-8h0m18 4h0m3-5h0m1 6h0m1-6h0m8 5h0m2-4h0m5 6h0m3 2h0m15-3h0m16-6h0m31 8h0m-218 3h0m33 2h0m35 7h0m35-1h0m13 0h0m23-3h0m7 3h0m4 1h0m5-9h0m23 5h0m29 0h0m35-1h0m-233 18h0m104-9h0m13 0h0m15 4h0m26-1h0m54 3h0m3-3h0m12-1h0m-249 9h0m38 6h0m87-6h0m3 0h0m19 7h0m10-3h0m8 0h0m7-4h0m3-1h0m15 1h0m31 9h0m15-1h0m57-8h0m-218 19h0m39 0h0m1 3h0m20-3h0m20-4h0m39 3h0m11-4h0m17 5h0m-216 13h0m13 0h0m142 1h0m8-8h0m27 1h0m55-2h0m7-1h0m-213 17h0m6-4h0m69 7h0m34-7h0m62 1h0m19 3h0m-110 18h0m38-7h0m7 5h0m2-5h0m107 7h0m-132 4h0m87 1h0m8 7h0m31-8h0m-433 12h0m427 1h0m8 6h0m6-3h0m-203 14h0m55-4h0m-348 15h0m38 1h0m303-4h0m55-1h0m4 5h0m28-3h0m40-5h0m12 3h0m4-2h0m4 3h0m11-3h0m17 6h0m-477 7h0m18-2h0m294 0h0m121 4h0m-403 7h0m351 7h0m-422 10h0m32-3h0m21 9h0m62 0h0m19-1h0m-139 4h0m23 0h0m6 3h0m2-1h0m7 6h0m11-5h0m19-3h0m11 2h0m5 1h0m6 4h0m282-4h0m-351 12h0m19-5h0m31 8h0m389-3h0m-445 18h0m11-10h0m13-1h0m0 14h0m5 2h0m60 7h0m21-1h0m201-5h0m104 6h0m50-11h0m-418 21h0m15-5h0m11 6h0m223 0h0m34-1h0m146 1h0m-464 17h0m369 231h0m-11 11h0m-52 9h0m-3 19h0m36 8h0m-34 29h0"/>
<path class="d" transform="scale(.5)" stroke="#fb905d" stroke-width="6" d="M2939 3179h0m37-2h0m4 0h0m-91 6h0m66-3h0m31 0h0m4 0h0m4 0h0m14 8h0m57 3h0m-108 11h0m36-6h0m15-1h0m4-1h0m5 1h0m-42 11h0m17 7h0m5 0h0m23-4h0m-72 15h0m6-3h0m1-3h0m2 6h0m4-8h0m2 9h0m6-7h0m13 6h0m21 0h0m12-6h0m21-1h0m14 9h0m-222 10h0m140-5h0m18 8h0m4 0h0m13-7h0m5-4h0m80 4h0m-139 12h0m17-1h0m15-3h0m4 7h0m12 3h0m2-3h0m72-7h0m54 2h0m-237 12h0m50 4h0m14-5h0m13 5h0m5 1h0m18-1h0m122 4h0m-109 3h0m5 1h0m5-1h0m-67 14h0m172 1h0m-161 20h0m133 5h0m3 5h0m10 12h0m8-3h0m-448 13h0m18-8h0m-28 20h0m435-8h0m11 0h0m5 0h0m-492 19h0m63 4h0m-79 8h0m45 2h0m56 0h0m300-3h0m100 3h0m-492 13h0m25-6h0m10 4h0m5-7h0m2 5h0m-13 6h0m97 2h0m-132 14h0m26-1h0m62 4h0m8 7h0m4 8h0m-9 3h0m21 0h0m286 251h0m-68 26h0m23 6h0m4 2h0m-23 11h0m19-4h0"/>
<path class="d" transform="scale(.5)" stroke="#f2704e" stroke-width="6" d="M2975 3184h0m22 7h0m-44 6h0m8 1h0m5 5h0m26-11h0m7 2h0m9 7h0m12 1h0m-75 12h0m0-8h0m22 1h0m34-1h0m3 0h0m-53 18h0m12 3h0m7-2h0m3-9h0m1 11h0m12-2h0m3-4h0m14-4h0m14 4h0m-62 10h0m4-2h0m24 0h0m0 6h0m9 0h0m10 4h0m-51 1h0m14 8h0m3-1h0m6 3h0m1-6h0m17-1h0m18 7h0m51 1h0m-96 4h0m33 6h0m-14 5h0m91 56h0m22-8h0m3 19h0m3-8h0m4 3h0m-455 28h0m8-1h0m3-3h0m32 2h0m27-6h0m-87 15h0m32 0h0m19 7h0m27-7h0m-114 17h0m38-6h0m19 10h0m16 4h0m5 3h0m-22 6h0m58 34h0m295 240h0m-2 4h0m5 5h0"/>
<path class="d" transform="scale(.5)" stroke="#e55239" stroke-width="6" d="M2953 3177h0m40-1h0m-41 12h0m24 0h0m-12 7h0m8 7h0m-9 11h0m4 1h0m1-4h0m23 0h0m8 7h0m8 7h0m-65 14h0m5-7h0m17 1h0m9 1h0m4 0h0m23-2h0m-41 20h0m9-11h0m16 11h0m11-11h0m5 3h0m-23 12h0m124 51h0m-13 15h0m2 4h0m1 16h0m21-1h0m-447 46h0m29 33h0m6 2h0m7 5h0m289 250h0m4-1h0m1 7h0m7-3h0m1-4h0"/>
<path class="d" transform="scale(.5)" stroke="#d12b1c" stroke-width="6" d="M2970 3173h0m12 0h0m-1 8h0m-32 17h0m30 0h0m-16 12h0m9 1h0m30 2h0m-55 3h0m-5 17h0m21 6h0m16-3h0m9-7h0m25 10h0m-72 5h0m3-2h0m7 5h0m12-3h0m17 6h0m13-1h0m-13 10h0m6-4h0m18 0h0m87 78h0m-4 6h0m-388 89h0m12-2h0m-40 8h0m327 237h0m13 0h0"/>
<path class="d" transform="scale(.5)" stroke="#b30905" stroke-width="6" d="M2976 3180h0m28 33h0m-45 18h0m13 7h0m2 16h0"/>
<path class="d" transform="scale(.5)" stroke="#8f0000" stroke-width="6" d="M2961 3202h0m-4 33h0m21 5h0m9 10h0m13 2h0m99 65h0m-404 104h0"/>
<path d="M1244.8 1563.5V1900.8H1588.7" fill="none" stroke="#555" stroke-width="1.7" stroke-linejoin="round"/>
<text transform="translate(1254.91 1589.70) scale(1.022 1)" font-size="31.45" font-weight="bold">KCNJ2</text>
<text transform="translate(1262.58 1870.40) scale(1.036 1)" font-size="50.72" font-weight="bold">N</text>
<text transform="translate(1376.03 1923.90) scale(1.029 1)" font-size="23.77" font-weight="bold">umap1</text>
<text transform="translate(1236.00 1728.80) rotate(-90) scale(1.045 1.085) translate(-38.50 0)" font-size="23.77" font-weight="bold">umap2</text>
<rect x="1346.8" y="1947.7" width="225.3" height="17" fill="url(#cb)"/>
<text x="1342.69" y="1984.60" font-size="17.68" fill="#111">0</text>
<text x="1404.47" y="1984.60" font-size="17.68" fill="#111">1</text>
<text x="1467.69" y="1984.60" font-size="17.68" fill="#111">2</text>
<text x="1531.54" y="1984.60" font-size="17.68" fill="#111">3</text>
<path d="M1409.6 1947.7v3M1409.6 1964.7v-3M1472.6 1947.7v3M1472.6 1964.7v-3M1536.4 1947.7v3M1536.4 1964.7v-3" stroke="#fff" stroke-opacity=".45" stroke-width="1" fill="none"/>
<g transform="translate(845.7 2310.6) scale(0.745 0.75)">
<use href="#bgs"/><use href="#ycells"/><use href="#hole" fill="#fff"/>
</g>
<path class="d" transform="scale(.5)" stroke="#e4e2dd" stroke-width="6" d="M1862 4203h0m37 20h0m-22 1h0m3 21h0m12 5h0m10 5h0m-74 9h0m46 0h0m19 0h0m-84 19h0m18-5h0m12 7h0m48 1h0m-24 29h0m-38 6h0m17 7h0m12-7h0m7 9h0m7-3h0m4 15h0m-30 15h0"/>
<path class="d" transform="scale(.5)" stroke="#fff0de" stroke-width="6" d="M1868 4185h0m-45 41h0m20 9h0m21-4h0m14 3h0m27-8h0m-63 18h0m27-2h0m29-5h0m-70 20h0m25-2h0m1-2h0m16-4h0m24 3h0m7-2h0m30 7h0m-95 8h0m10 2h0m-16 9h0m41 3h0m28-3h0m-89 19h0m14-1h0m8-9h0m4 0h0m24 4h0m18 1h0m32-1h0m-36 11h0m9 1h0m2-3h0m10 0h0m17 7h0m-66 12h0m2-8h0m58 7h0m-86 8h0m8-4h0m41 11h0m32-8h0m-76 12h0m28 4h0m14 14h0m-11 4h0"/>
<path class="d" transform="scale(.5)" stroke="#fee5c5" stroke-width="6" d="M1871 4152h0m-10 16h0m-18 25h0m2 5h0m10-5h0m10 3h0m0-6h0m23-1h0m19 3h0m6-2h0m-78 18h0m10-5h0m2 4h0m0-7h0m2 11h0m12 0h0m15-10h0m8 3h0m-33 11h0m7-2h0m43 6h0m23-3h0m-63 10h0m26 8h0m24-3h0m-98 8h0m11 4h0m20-2h0m5-1h0m41-3h0m-68 11h0m40 0h0m21 9h0m4-7h0m17 7h0m1-8h0m-99 16h0m1 6h0m16 0h0m6-10h0m5-1h0m5 5h0m17 2h0m9-3h0m5 1h0m11 2h0m48-3h0m-121 11h0m3 4h0m3 0h0m2-4h0m32 8h0m0-3h0m6-8h0m3 0h0m2 8h0m9-4h0m23-4h0m18 7h0m11-4h0m-81 19h0m9-7h0m1 7h0m42-7h0m8 2h0m23-3h0m1 4h0m-103 7h0m5 0h0m8 9h0m86-8h0m-96 18h0m17-6h0m3-2h0m44 1h0m5 0h0m3 4h0m1 3h0m4 0h0m-68 15h0m6-11h0m38 0h0m6 1h0m25 6h0m-66 11h0m6 5h0m11-9h0m10 8h0m18-1h0m0 8h0m-23 11h0"/>
<path class="d" transform="scale(.5)" stroke="#fdd6a7" stroke-width="6" d="M1887 4152h0m-36 19h0m-12 15h0m42-9h0m-37 13h0m19 2h0m5 1h0m4 6h0m20-1h0m4 0h0m6-4h0m-72 7h0m34-1h0m12 8h0m10-1h0m9-3h0m15 7h0m0-7h0m-97 18h0m61-3h0m5-1h0m5 0h0m8 2h0m26-1h0m2 3h0m-88 13h0m7-11h0m5 6h0m22-4h0m2 5h0m15 4h0m5-7h0m8-2h0m4 1h0m13 0h0m13-1h0m-105 19h0m1-8h0m3 1h0m26 1h0m12-2h0m4 5h0m0-5h0m6 0h0m13 8h0m13 0h0m13 1h0m14-5h0m-114 18h0m23-3h0m30-6h0m3 2h0m7-2h0m33 7h0m3-4h0m-96 10h0m14 6h0m4-5h0m31-4h0m7 11h0m6-10h0m11 2h0m9 0h0m12 7h0m10-4h0m-94 17h0m12-4h0m4-7h0m2 7h0m8-3h0m1 7h0m14-4h0m0-7h0m1 10h0m11-4h0m3 5h0m42-11h0m4 7h0m1-4h0m0 8h0m2-11h0m-130 18h0m10-4h0m4 7h0m5 1h0m9 0h0m1-10h0m5 6h0m11 5h0m1-6h0m8 1h0m20 4h0m7-4h0m4-1h0m21 3h0m-81 13h0m13-9h0m26 1h0m7 5h0m7-5h0m38 9h0m-107 2h0m2 8h0m12-8h0m10 8h0m5-4h0m12 5h0m19 2h0m2-3h0m18 3h0m11-10h0m20 2h0m-85 9h0m3 7h0m3 3h0m20-6h0m13 0h0m0 4h0m1 3h0m-47 1h0m25 0h0m1 1h0m2 8h0m2-2h0m15-5h0m19 4h0m-48 12h0m14 4h0m6-4h0m25-5h0m-11 11h0"/>
<path class="d" transform="scale(.5)" stroke="#fdc592" stroke-width="6" d="M2245 4051h0m8 28h0m33 33h0m-17 18h0m-385 22h0m8 23h0m17-9h0m-51 16h0m9 1h0m15-2h0m6 1h0m6 2h0m-59 12h0m2-7h0m14 4h0m19 3h0m4 0h0m26-8h0m18 8h0m244-5h0m-331 13h0m13 7h0m23-7h0m14 4h0m9-7h0m5-1h0m11 5h0m-72 17h0m8 0h0m11-2h0m1-4h0m11 4h0m37-3h0m3 3h0m-89 10h0m11-4h0m20 4h0m7 3h0m3 1h0m1-8h0m4 9h0m13-9h0m8 1h0m10 6h0m3 2h0m32-4h0m-100 11h0m23 4h0m10-6h0m10 6h0m8-5h0m3 1h0m6 0h0m3 0h0m5 0h0m11 3h0m3-5h0m7-3h0m-109 22h0m18-6h0m13-4h0m6 1h0m3 0h0m3 3h0m7-5h0m12 9h0m7-5h0m7 0h0m7 1h0m11 0h0m11 4h0m4-7h0m-103 21h0m10-11h0m9 11h0m25-6h0m5-1h0m30 3h0m3 4h0m6-10h0m17 4h0m2-1h0m-109 10h0m7-2h0m14 2h0m5 2h0m2 3h0m15 3h0m33-3h0m2-4h0m1 8h0m1-4h0m1-4h0m13 4h0m1 3h0m22-4h0m-117 11h0m5-5h0m42 3h0m7 7h0m4-8h0m5 1h0m1-3h0m18 7h0m-83 9h0m2-3h0m6 5h0m4-1h0m6-4h0m2 3h0m2-2h0m9 6h0m12-6h0m5-1h0m6 7h0m17 1h0m0-7h0m3 7h0m6-5h0m6 2h0m6-4h0m2 3h0m6-4h0m1 4h0m-84 15h0m7-8h0m6 7h0m1 4h0m1-7h0m11-3h0m2 4h0m6-4h0m9 0h0m4-1h0m1 4h0m4 5h0m4-8h0m-66 12h0m17 7h0m44 2h0m0-8h0m2 5h0m2-3h0m23-4h0m-79 18h0m10 4h0m5 1h0m7-5h0m2 5h0m23-4h0m4 3h0m2-1h0m4-6h0m8-3h0m-42 22h0m10-4h0m11 3h0m1-3h0m8 3h0m4-8h0m-20 12h0"/>
<path class="d" transform="scale(.5)" stroke="#fcad79" stroke-width="6" d="M1875 4159h0m-1 15h0m38 1h0m-78 12h0m35-5h0m41-1h0m-47 17h0m13-6h0m7 5h0m2-5h0m4 0h0m12 5h0m7-9h0m-70 20h0m5-7h0m26 8h0m3-1h0m35-7h0m-90 22h0m6-3h0m23-4h0m10 7h0m3 0h0m4-7h0m4-4h0m40 10h0m14-3h0m-92 12h0m12-4h0m8 7h0m3-10h0m9 6h0m4 4h0m5-7h0m3 3h0m1 4h0m6-7h0m18 2h0m-69 16h0m1-7h0m3 8h0m0-8h0m10 1h0m9 2h0m22 1h0m10-4h0m19 8h0m-84 9h0m8-6h0m2 3h0m7-2h0m28 2h0m10 7h0m8 0h0m16 0h0m24-11h0m-101 19h0m6 4h0m11-3h0m4 0h0m10-1h0m8 2h0m15 2h0m9 0h0m1-3h0m1-7h0m8-1h0m12 8h0m-96 4h0m3 10h0m8-7h0m3 3h0m12-6h0m1 10h0m10-7h0m5 3h0m11-2h0m0 3h0m10-3h0m8-2h0m4 8h0m17 1h0m-96 12h0m25-2h0m11-4h0m20 5h0m1-4h0m50-3h0m2 2h0m3-3h0m1 3h0m2 5h0m6-8h0m-123 18h0m8 2h0m4-1h0m20-4h0m1 3h0m4-2h0m1-4h0m4-2h0m4 6h0m1-5h0m5 9h0m1-4h0m11-5h0m5 7h0m25 1h0m8-8h0m18 0h0m-87 19h0m15-3h0m1 3h0m7-4h0m0 7h0m4-7h0m11 5h0m12 0h0m9-9h0m1 4h0m7-3h0m3 3h0m1-4h0m-93 16h0m2 4h0m5 2h0m14-7h0m1 8h0m10-11h0m0 6h0m1 4h0m4-4h0m2-1h0m3 5h0m1-4h0m5 1h0m9-6h0m5 7h0m8 0h0m6-4h0m4-4h0m1 4h0m2 4h0m7 3h0m1-8h0m-45 15h0m21-6h0m0 4h0m14-4h0m-59 17h0m9 1h0m21-5h0m15 5h0m1 2h0m-24 5h0m6 3h0m5 0h0"/>
<path class="d" transform="scale(.5)" stroke="#fb905d" stroke-width="6" d="M1902 4148h0m-33 11h0m5-7h0m34 4h0m-26 8h0m23 4h0m-19 10h0m-54 12h0m28 3h0m-2 11h0m13-1h0m3 1h0m23 3h0m8 4h0m-76 12h0m15-4h0m14 1h0m33-6h0m2 2h0m1 6h0m3-2h0m-86 14h0m7 1h0m18-1h0m9-8h0m6 5h0m26-1h0m8-1h0m4 2h0m28 2h0m-78 13h0m0-5h0m8-3h0m7 7h0m5-8h0m10 8h0m8-6h0m34-1h0m-96 10h0m24 8h0m3-2h0m4 2h0m1-3h0m20 4h0m17-7h0m13-2h0m-71 18h0m20-6h0m4 1h0m10-1h0m3 7h0m16-2h0m4-1h0m8-4h0m-48 22h0m18-10h0m3 11h0m8 0h0m12-3h0m15 3h0m3-8h0m9 0h0m9 7h0m3 0h0m-98 7h0m19-2h0m10 0h0m25-1h0m5 8h0m16-7h0m5 0h0m-87 10h0m30 8h0m30-4h0m-51 8h0m3 3h0m21 7h0m7-11h0m26 5h0m7 3h0m25 3h0m-61 8h0m14-5h0m22 5h0m-47 11h0m40 0h0m4 0h0m-33 11h0m19-3h0"/>
<path class="d" transform="scale(.5)" stroke="#f2704e" stroke-width="6" d="M2230 4089h0m43 9h0m-18 16h0m38 22h0m-426 10h0m411 13h0m-429 8h0m52 15h0m18-3h0m-15 19h0m-26 5h0m3-1h0m7 3h0m9-4h0m5 8h0m-68 7h0m38 7h0m-60 8h0m34-7h0m14 22h0m54-5h0m4 1h0m9 4h0m-104 11h0m8-1h0m6 3h0m12-2h0m9 0h0m14-5h0m8 4h0m49-3h0m-61 13h0m44 1h0m-27 7h0m8 8h0m29-4h0m-108 8h0m15 4h0m41 3h0m17 0h0m10-6h0m4 7h0m-71 11h0m15-4h0m24 3h0m21-6h0m12 7h0m7-3h0m-78 7h0m3 3h0m13 1h0m34-1h0m3 4h0m-40 8h0m20-4h0m-24 33h0m31-6h0m20-1h0"/>
<path class="d" transform="scale(.5)" stroke="#e55239" stroke-width="6" d="M1905 4190h0m-22 21h0m-69 7h0m8 13h0m60 0h0m-23 22h0m14 16h0m41-6h0m-55 12h0m-31 11h0m64 8h0m10-4h0m-50 11h0m7 4h0m2-3h0m11-4h0m22 7h0m-60 28h0m34 24h0"/>
<path class="d" transform="scale(.5)" stroke="#d12b1c" stroke-width="6" d="M1885 4170h0m6-4h0m-27 42h0m7 11h0m57 4h0m-48 15h0m35 15h0m-71 10h0m19 24h0m26 15h0m24 15h0m4-1h0m-57 26h0m13 16h0"/>
<path class="d" transform="scale(.5)" stroke="#b30905" stroke-width="6" d="M1868 4177h0m-32 43h0m59 26h0m27-6h0"/>
<path d="M845.7 1995.5V2310.9H1173.5" fill="none" stroke="#555" stroke-width="1.7" stroke-linejoin="round"/>
<text transform="translate(848.60 2021.00) scale(1.076 1)" font-size="31.45" font-weight="bold">KCNA5</text>
<text transform="translate(860.91 2285.60) scale(1.030 1)" font-size="50.72" font-weight="bold">O</text>
<text transform="translate(970.58 2333.50) scale(0.993 1)" font-size="23.77" font-weight="bold">umap1</text>
<text transform="translate(836.60 2146.60) rotate(-90) scale(1.011 1.085) translate(-38.50 0)" font-size="23.77" font-weight="bold">umap2</text>
<rect x="945.2" y="2355.7" width="214.3" height="16.6" fill="url(#cb)"/>
<text x="940.29" y="2391.50" font-size="17.68" fill="#111">0</text>
<text x="998.27" y="2391.50" font-size="17.68" fill="#111">1</text>
<text x="1055.89" y="2391.50" font-size="17.68" fill="#111">2</text>
<text x="1113.84" y="2391.50" font-size="17.68" fill="#111">3</text>
<path d="M1003.4 2355.7v3M1003.4 2372.3v-3M1060.8 2355.7v3M1060.8 2372.3v-3M1118.7 2355.7v3M1118.7 2372.3v-3" stroke="#fff" stroke-opacity=".45" stroke-width="1" fill="none"/>
<clipPath id="clP"><rect x="1240.6" y="2001.5" width="400" height="400"/></clipPath>
<g clip-path="url(#clP)">
<g transform="translate(1245.6 2309.3) scale(0.745 0.755)">
<use href="#bgs"/><use href="#ocells"/><use href="#hole" fill="#fff"/>
</g>
<path class="d" transform="scale(.5)" stroke="#e4e2dd" stroke-width="6" d="M3038 4073h0m12 21h0m43 8h0m-56 7h0m32 43h0m-411 14h0m-72 25h0m43 7h0m-80 27h0m120 4h0m-34 17h0m290-3h0m-369 16h0m60 0h0m-74 6h0m-13 8h0m180 5h0m-151 14h0m133 15h0"/>
<path class="d" transform="scale(.5)" stroke="#fff0de" stroke-width="6" d="M3044 4052h0m38 17h0m-51 23h0m45 55h0m14 3h0m-505 8h0m9 5h0m18-2h0m480 12h0m6-5h0m3 1h0m-489 15h0m19-4h0m8 0h0m-38 14h0m42 1h0m6-7h0m-49 23h0m10-8h0m2 2h0m58 5h0m26-8h0m-33 20h0m22-8h0m34 7h0m-24 11h0m-159 16h0m11 11h0m87-4h0m18 3h0m23-7h0m-144 15h0m52 0h0m25-1h0m32-4h0m70 5h0m-151 7h0m48 0h0m-20 22h0m95-11h0m-120 15h0m30 1h0m41-4h0m-51 22h0m0-8h0m110 12h0"/>
<path class="d" transform="scale(.5)" stroke="#fee5c5" stroke-width="6" d="M3014 4038h0m5 15h0m34-7h0m9 7h0m-26 30h0m26-3h0m-7 14h0m19 5h0m-11 25h0m21 7h0m23 8h0m-59 4h0m51 7h0m10-1h0m-518 13h0m12-1h0m484-9h0m7 11h0m7-10h0m-518 19h0m30-2h0m28 2h0m454-8h0m-503 17h0m15-5h0m17 5h0m42 0h0m-63 17h0m7-4h0m3 4h0m28 0h0m64-2h0m-116 13h0m51 8h0m3 1h0m-73 14h0m52-8h0m23 9h0m27-5h0m27 5h0m-72 6h0m20-2h0m11 9h0m-128 11h0m15-9h0m12 8h0m133-5h0m-144 19h0m7-1h0m1-7h0m16-1h0m2 9h0m72-9h0m48 9h0m8-8h0m-158 12h0m21 3h0m1 4h0m0-7h0m9 6h0m21 1h0m66 0h0m26-1h0m34 0h0m-179 5h0m3 7h0m13 3h0m18-11h0m5 8h0m3 0h0m2-8h0m4 8h0m12-7h0m22 6h0m3-6h0m5 7h0m83 3h0m-172 1h0m7 8h0m0-5h0m6 1h0m9-4h0m6 11h0m5-8h0m2 4h0m4 1h0m6-2h0m24 0h0m55-2h0m-86 14h0m4 0h0m48 12h0m45 2h0m2-6h0m-29 28h0"/>
<path class="d" transform="scale(.5)" stroke="#fdd6a7" stroke-width="6" d="M3019 4030h0m-15 5h0m33 14h0m-19 11h0m39 1h0m6 3h0m5 2h0m-371 21h0m359-7h0m23 3h0m5 5h0m-35 10h0m13 0h0m-6 8h0m7 4h0m32 3h0m-469 11h0m430-3h0m-415 16h0m412-9h0m43 1h0m-121 14h0m-351 20h0m37-6h0m95 1h0m-162 12h0m4-1h0m20-3h0m8 7h0m33-4h0m427-4h0m15 0h0m-481 12h0m13-1h0m5 7h0m12 0h0m450-4h0m1-2h0m-509 17h0m0-5h0m2 2h0m13 7h0m22-8h0m2 5h0m18-3h0m7 0h0m13 3h0m12-4h0m22-3h0m3 4h0m-114 10h0m17 8h0m12-3h0m39-2h0m6-3h0m4 0h0m30-1h0m5 2h0m28-3h0m-79 18h0m12 14h0m26 3h0m18-2h0m-50 9h0m22 4h0m10-5h0m-154 10h0m8-1h0m4 4h0m75 5h0m15-6h0m19 6h0m4 0h0m38-4h0m9 1h0m-182 14h0m5-1h0m3 1h0m4-7h0m2 5h0m8-7h0m2 4h0m7 4h0m3 1h0m4-1h0m13 0h0m8-3h0m37 0h0m16 3h0m-108 9h0m5-1h0m1 6h0m0-3h0m4-2h0m3-2h0m3 4h0m1-2h0m8 3h0m2-5h0m9 6h0m10-1h0m2-5h0m2 4h0m4 2h0m4-9h0m33 4h0m28-4h0m33 1h0m39-1h0m-179 16h0m2 0h0m4-3h0m1 2h0m4-3h0m9 3h0m2 4h0m2-7h0m2 7h0m13-5h0m7 2h0m2 2h0m2 4h0m2-8h0m10 1h0m51 5h0m11-4h0m23-4h0m4 6h0m2-7h0m31 11h0m1-3h0m-171 14h0m1-6h0m5 2h0m2-2h0m8-3h0m5 1h0m11-2h0m7 10h0m5-2h0m3-6h0m10 5h0m4-1h0m20-3h0m5 8h0m43-7h0m5-2h0m-133 12h0m7 1h0m12 6h0m9-2h0m10 0h0m9-2h0m3 4h0m25-7h0m9 4h0m39 5h0m12-2h0m18-6h0m-128 11h0m7 0h0m35 1h0m14 6h0m9 1h0m13-1h0m8 0h0m34-8h0m-75 18h0m17-6h0m4 29h0"/>
<path class="d" transform="scale(.5)" stroke="#fdc592" stroke-width="6" d="M3011 4030h0m25 1h0m-1 6h0m21 5h0m-16 11h0m19-2h0m-27 9h0m34 1h0m-32 10h0m28-3h0m-45 23h0m21-5h0m12 1h0m20-5h0m-63 13h0m26 0h0m18 6h0m9 1h0m18-4h0m2 4h0m-88 5h0m68-2h0m-66 12h0m60 7h0m17-8h0m6 4h0m-404 12h0m34-1h0m380-3h0m0 8h0m14 2h0m-408 9h0m275-7h0m127 11h0m8-4h0m5-5h0m-531 20h0m48-7h0m6 3h0m8-1h0m3-3h0m405 0h0m33 1h0m4-1h0m6 4h0m4-3h0m3 2h0m4 4h0m5-7h0m7 12h0m-519 10h0m15 3h0m2-2h0m5 7h0m14-1h0m12 0h0m12-7h0m17 8h0m4-5h0m10-3h0m4 7h0m7-4h0m14-3h0m388 1h0m-510 18h0m9 1h0m20 3h0m11-11h0m3 1h0m35 5h0m41 4h0m16 0h0m-99 8h0m3 3h0m60 1h0m6-3h0m-129 11h0m19 4h0m19-7h0m9-1h0m18 7h0m7-5h0m19 4h0m2-3h0m8-1h0m6 1h0m1-3h0m10 4h0m-72 14h0m25 0h0m9-7h0m8 4h0m8-5h0m16 4h0m29-2h0m3-1h0m-170 19h0m101-3h0m6-2h0m11-2h0m8 2h0m4 4h0m4-7h0m12 3h0m3 1h0m18 7h0m12-1h0m7-3h0m-186 15h0m14 1h0m12 0h0m48-1h0m1-8h0m15 0h0m19 9h0m4-7h0m9-1h0m4 0h0m1 4h0m13 0h0m2-4h0m2 8h0m7 0h0m33-4h0m6 3h0m-179 11h0m12-3h0m13-4h0m13 8h0m17-5h0m10-3h0m7 4h0m1-5h0m14 9h0m13-7h0m13 6h0m4-6h0m3 6h0m1-7h0m35 7h0m-157 4h0m40 3h0m3 4h0m5-4h0m5 0h0m12-4h0m2 9h0m18-7h0m6-1h0m8 8h0m5 0h0m2-8h0m0 8h0m40-8h0m35 4h0m-190 11h0m6-4h0m5 8h0m4-1h0m5-6h0m4 7h0m5-5h0m4-3h0m4 7h0m9-4h0m17 5h0m10 3h0m2-4h0m14 4h0m10-8h0m13 2h0m18 3h0m18-7h0m30 6h0m-172 7h0m9 9h0m6-5h0m1-6h0m7 0h0m2 4h0m6 7h0m9-8h0m2 0h0m5 5h0m1 3h0m4-9h0m12 9h0m13-1h0m12-4h0m4 1h0m35 1h0m2 2h0m1-2h0m2-4h0m1 7h0m14-3h0m5-7h0m21 5h0m-160 13h0m4-2h0m0-5h0m5 3h0m2 6h0m2-7h0m17-2h0m11 10h0m2-1h0m9 1h0m2-3h0m0-7h0m7 2h0m9 1h0m10 4h0m0-4h0m7 0h0m3 4h0m18-4h0m1 6h0m4-7h0m6 5h0m30-7h0m-112 13h0m26 4h0m4 5h0m5-2h0m11-2h0m2-4h0m4 0h0m5 7h0m2-3h0m2-4h0m9 1h0m20 1h0m1-3h0m10 7h0m-63 13h0m22 2h0m3-2h0m6-5h0m14 1h0m-32 12h0m20-5h0m3 0h0m-10 14h0"/>
<path class="d" transform="scale(.5)" stroke="#fcad79" stroke-width="6" d="M3035 4023h0m-12 9h0m22 6h0m5 4h0m-31 5h0m5 3h0m7-5h0m1 9h0m16-1h0m1-6h0m5 2h0m8-3h0m-42 19h0m6-5h0m4-3h0m2 9h0m13-8h0m9 4h0m14-5h0m-23 12h0m8 8h0m11-4h0m6-4h0m-359 11h0m316 4h0m-38 11h0m76-3h0m5 0h0m7 2h0m-26 16h0m15 2h0m13 0h0m-19 9h0m15 13h0m1-1h0m1 6h0m2-1h0m1-4h0m11 1h0m8 0h0m-118 5h0m13 0h0m97 3h0m2 3h0m6-2h0m12-4h0m1 6h0m-538 13h0m53 0h0m24 2h0m34 0h0m322-7h0m103 0h0m-530 12h0m34 6h0m29-4h0m6 6h0m447-1h0m7-1h0m3-3h0m-520 16h0m8-2h0m4-6h0m17 4h0m24 6h0m8-3h0m33-1h0m20-3h0m2 5h0m404-9h0m-515 22h0m7-10h0m20 8h0m19 3h0m13 0h0m8-4h0m1-4h0m10 7h0m374 0h0m-448 8h0m20-3h0m11 0h0m9 0h0m12 4h0m15 3h0m5-4h0m9 1h0m6 3h0m28-3h0m-88 9h0m2 6h0m27 0h0m13-8h0m5 0h0m6 3h0m24 5h0m3-1h0m-113 5h0m33 7h0m12-5h0m8 7h0m10-11h0m10 4h0m5-3h0m7 8h0m7 2h0m6-9h0m0 6h0m-151 10h0m16 1h0m64-7h0m5 8h0m11 3h0m1-3h0m5-1h0m5 1h0m11-5h0m11 5h0m13-3h0m3 4h0m7-1h0m18-1h0m-78 12h0m20 1h0m5-2h0m3 3h0m1-2h0m3 0h0m7 4h0m3-11h0m21 6h0m1 5h0m10-9h0m3 0h0m26 3h0m-139 16h0m2-3h0m12 5h0m23-4h0m2 3h0m22-8h0m10 3h0m4 0h0m6 0h0m2 4h0m30-6h0m4 0h0m12 7h0m-188 4h0m18 6h0m10 0h0m13-3h0m31-1h0m20-4h0m5 5h0m7 5h0m7-6h0m3-2h0m12 0h0m7 3h0m15 4h0m13 1h0m2-5h0m3 5h0m7-9h0m10-1h0m4 2h0m-179 19h0m18-5h0m22 7h0m23-8h0m7 5h0m8-7h0m3 3h0m22-4h0m5 1h0m5 7h0m1-5h0m5 0h0m7 8h0m2-11h0m7 4h0m1 7h0m1-10h0m9 7h0m3-4h0m10 4h0m25 3h0m-168 9h0m10 2h0m3-3h0m24-1h0m14-6h0m11 11h0m0-7h0m26 0h0m4 6h0m5-6h0m1 4h0m12-1h0m7-3h0m6 3h0m1-7h0m12 0h0m4 8h0m16-5h0m3 0h0m5 0h0m-165 11h0m17 9h0m4-10h0m9 0h0m8 0h0m17 4h0m2-3h0m2 0h0m28 7h0m8-7h0m4 0h0m2-2h0m26 6h0m1-3h0m3 3h0m4 1h0m9-1h0m8 0h0m-120 8h0m48-1h0m24 3h0m3 2h0m10-1h0m0 4h0m2-7h0m9 8h0m17-9h0m-65 22h0m14-2h0m1-9h0m4 2h0m1 3h0m3-3h0m8 6h0m3-4h0m3 1h0m9-1h0m12-2h0m-50 18h0m31-1h0m5-2h0"/>
<path class="d" transform="scale(.5)" stroke="#fb905d" stroke-width="6" d="M3027 4025h0m14-4h0m-37 11h0m3 11h0m15-4h0m17 1h0m2 2h0m12-10h0m-25 12h0m8 1h0m14 6h0m3 4h0m-32 6h0m13 1h0m7 0h0m9 3h0m5-8h0m-14 19h0m3 0h0m6-3h0m8 2h0m-19 16h0m2-3h0m36-2h0m-33 12h0m9-6h0m6 4h0m27-1h0m1 3h0m-453 12h0m315 4h0m98-5h0m2-2h0m8 7h0m16-5h0m2 1h0m6-2h0m-132 12h0m101-4h0m-312 16h0m320-3h0m7 6h0m17-7h0m4 10h0m11-6h0m6 0h0m-28 18h0m13-6h0m1 3h0m9-1h0m6 5h0m-485 10h0m465-4h0m2 2h0m2 2h0m9 0h0m-491 4h0m38 1h0m42 0h0m32 9h0m6 0h0m369-6h0m-477 8h0m29 3h0m4 1h0m9-2h0m2 1h0m26 7h0m39-7h0m189 1h0m173 6h0m7-11h0m3 5h0m-483 14h0m29-7h0m3 10h0m25-5h0m8 1h0m10 5h0m5-9h0m-78 15h0m15-2h0m20 3h0m12 1h0m2 3h0m14 1h0m2-4h0m3-2h0m21 4h0m-125 9h0m48 0h0m13-4h0m1 8h0m18-1h0m8 0h0m5 0h0m12 0h0m3-6h0m23 6h0m-113 6h0m12-2h0m1 3h0m13 1h0m3-5h0m1 4h0m10 2h0m1-5h0m8 3h0m1 3h0m10-2h0m12 3h0m7 3h0m2-11h0m3 7h0m10 1h0m6 3h0m-85 4h0m7-2h0m14-1h0m19 11h0m7-11h0m1 5h0m11 2h0m2 4h0m2-3h0m2 2h0m10 1h0m5-1h0m1-2h0m2-5h0m1 3h0m2 5h0m4-10h0m8 0h0m-184 14h0m46 8h0m41-11h0m3 4h0m6 2h0m5 5h0m3-4h0m3 3h0m3-7h0m3-3h0m3 0h0m6 0h0m13 0h0m5 3h0m3 4h0m4 1h0m10-4h0m1 6h0m3-3h0m15 4h0m9-9h0m-186 16h0m36-5h0m35 9h0m14-3h0m15-6h0m5 0h0m3 5h0m15 5h0m2-5h0m15 3h0m15-3h0m12 0h0m10 0h0m19-5h0m-150 17h0m9-5h0m26 7h0m4-4h0m17 4h0m1-6h0m6 4h0m14-2h0m13 1h0m1 3h0m18-7h0m9 8h0m9-3h0m5-2h0m10 6h0m-152 3h0m31 1h0m4 6h0m18 3h0m2-4h0m4 4h0m16 0h0m5-7h0m12-3h0m11 6h0m9-7h0m4 7h0m20-2h0m14-1h0m-127 19h0m58-5h0m3 2h0m15 3h0m1-7h0m8-1h0m-83 19h0m15-4h0m23 5h0m10 0h0m11-1h0m5 1h0m12-8h0m7 4h0m5 0h0m1 2h0m17-7h0m4 7h0m-79 4h0m21 1h0m36 3h0m7-3h0m7 3h0m7-4h0m-68 12h0m21 5h0m7 2h0m19 0h0m7 1h0m-32 8h0m8-1h0m19 0h0"/>
<path class="d" transform="scale(.5)" stroke="#f2704e" stroke-width="6" d="M3006 4029h0m9-3h0m-4 8h0m21 5h0m0-7h0m5 3h0m12 3h0m-23 9h0m30-1h0m-26 19h0m4-7h0m16 3h0m10 4h0m-39 10h0m22 4h0m19-4h0m4 1h0m-68 15h0m35-4h0m2 3h0m22 1h0m2-4h0m5 0h0m7 0h0m-19 11h0m6 0h0m6 1h0m6-1h0m12 0h0m2 5h0m-139 3h0m49 2h0m54 4h0m12-4h0m1 5h0m24-5h0m5 1h0m-43 12h0m16-5h0m13 2h0m9 6h0m12 1h0m-25 6h0m7-2h0m17 7h0m4-8h0m-465 15h0m444 1h0m28 17h0m-437 20h0m-8 14h0m1-5h0m12 6h0m14-5h0m-47 16h0m14 2h0m19-7h0m0 8h0m17 0h0m21 0h0m-94 11h0m26 0h0m5-7h0m28 4h0m0 2h0m9-3h0m5-1h0m2-2h0m1 2h0m-80 17h0m1-4h0m3-3h0m30-2h0m21 2h0m5-1h0m8 1h0m35-1h0m-101 22h0m8-5h0m1 5h0m2-4h0m2-4h0m18 1h0m6 3h0m3-4h0m10-2h0m6 2h0m29 4h0m11-4h0m-135 20h0m31-4h0m24-5h0m39 8h0m25-8h0m10 8h0m-88 5h0m4 5h0m4 1h0m20-4h0m14-2h0m16 3h0m1-5h0m1 8h0m4 1h0m2-5h0m4 0h0m2-3h0m8 8h0m-125 3h0m46 0h0m14 8h0m2 2h0m4-7h0m3 5h0m33 0h0m4-4h0m-64 10h0m25 5h0m6-4h0m10-4h0m4 9h0m1-8h0m4 0h0m18 3h0m34-3h0m-103 13h0m10-2h0m1 3h0m2 7h0m1-4h0m2 4h0m24-10h0m8 7h0m21 0h0m0-7h0m3 11h0m9-7h0m-79 17h0m3 2h0m11-5h0m7 5h0m4-8h0m14 8h0m1-4h0m7 2h0m22 0h0m19 1h0m-79 6h0m34-2h0m8 3h0m2-3h0m21 8h0m-55 5h0m17 2h0m27-5h0m-2 13h0"/>
<path class="d" transform="scale(.5)" stroke="#e55239" stroke-width="6" d="M3019 4038h0m5 4h0m14 0h0m9 0h0m0-8h0m5 6h0m17 13h0m-57 5h0m25 0h0m4-1h0m10 0h0m-23 12h0m25 0h0m6 4h0m9-2h0m1 6h0m23-2h0m-48 7h0m12 4h0m6-2h0m20 3h0m-55 10h0m14 5h0m5-8h0m18 7h0m-385 12h0m362-7h0m28-1h0m4 0h0m1 8h0m-2 11h0m9 1h0m-70 7h0m78-1h0m-382 15h0m368-4h0m20 1h0m-456 22h0m443 1h0m8 3h0m-456 22h0m1 16h0m20-2h0m-18 8h0m10-1h0m11 3h0m24-1h0m41-1h0m-103 16h0m38-3h0m3 6h0m2 3h0m16-3h0m5-4h0m9 0h0m-81 16h0m18-7h0m6 3h0m9 5h0m7-9h0m18 3h0m-27 11h0m12 0h0m-2 19h0m3 0h0m4-4h0m23-3h0m4 0h0m1 8h0m-35 7h0m22-4h0m17 5h0m11 4h0m8-1h0m15-3h0m-121 14h0m5-7h0m25 6h0m4-7h0m66 8h0m2-4h0m-75 11h0m4 0h0m3 8h0m13-1h0m6-10h0m2 7h0m-42 11h0m11 5h0m5-5h0m42-3h0m26 8h0m2-6h0m-60 17h0m8-9h0m33 13h0m1 7h0m1 2h0m3-10h0m-52 15h0m25 0h0"/>
<path class="d" transform="scale(.5)" stroke="#d12b1c" stroke-width="6" d="M3032 4024h0m-17 10h0m35 1h0m-9 14h0m-16 8h0m12 7h0m34 1h0m-41 3h0m8 11h0m1-10h0m36 10h0m4-3h0m-30 16h0m-6 17h0m23-2h0m1 1h0m12-1h0m9-1h0m3 8h0m-25 7h0m8 0h0m8 14h0m-17 9h0m-382 43h0m-6 28h0m5 5h0m27 27h0m-90 12h0m104-9h0m-82 15h0m15-3h0m69 4h0m-108 11h0m26-4h0m14 4h0m14 4h0m11-4h0m16-4h0m4 0h0m-89 12h0m0 4h0m11-1h0m49 1h0m8-1h0m35-1h0m-70 9h0m10 4h0m26 6h0m7-10h0m7 11h0m7-11h0m-36 19h0m-44 6h0m6 5h0m5 8h0m6 3h0m5 0h0"/>
<path class="d" transform="scale(.5)" stroke="#b30905" stroke-width="6" d="M3041 4066h0m46 3h0m-26 22h0m11-11h0m-34 15h0m2 2h0m37 4h0m-25 12h0m-8 14h0m46-9h0m-95 14h0m88 18h0m-375 60h0m-43 37h0m24-10h0m-6 18h0m31 8h0m-111 17h0m64-7h0m22 1h0m23 3h0m-116 9h0m75 9h0m-30 1h0m19 17h0"/>
<path class="d" transform="scale(.5)" stroke="#8f0000" stroke-width="6" d="M3026 4038h0m7 12h0m24 2h0m-13 9h0m25-1h0m16 4h0m-37 11h0m9-6h0m-2 40h0m31 5h0m6-9h0m6 34h0m-29 5h0m-363 78h0m-21 21h0m12 12h0"/>
</g>
<path d="M1245.6 2001.9V2309.6H1573.4" fill="none" stroke="#555" stroke-width="1.7" stroke-linejoin="round"/>
<text transform="translate(1253.62 2019.80) scale(1.068 1)" font-size="31.45" font-weight="bold">KCNA5</text>
<text transform="translate(1258.92 2284.30) scale(0.934 1)" font-size="50.72" font-weight="bold">P</text>
<text transform="translate(1370.38 2332.30) scale(0.993 1)" font-size="23.77" font-weight="bold">umap1</text>
<text transform="translate(1237.00 2145.50) rotate(-90) scale(1.011 1.085) translate(-38.50 0)" font-size="23.77" font-weight="bold">umap2</text>
<rect x="1345" y="2354" width="214.3" height="16.5" fill="url(#cb)"/>
<text x="1340.09" y="2389.70" font-size="17.68" fill="#111">0</text>
<text x="1410.07" y="2389.70" font-size="17.68" fill="#111">1</text>
<text x="1480.49" y="2389.70" font-size="17.68" fill="#111">2</text>
<text x="1550.64" y="2389.70" font-size="17.68" fill="#111">3</text>
<path d="M1415.2 2354v3M1415.2 2370.5v-3M1485.4 2354v3M1485.4 2370.5v-3M1555.5 2354v3M1555.5 2370.5v-3" stroke="#fff" stroke-opacity=".45" stroke-width="1" fill="none"/>
<path d="M509.2 1080.7V1084.5" stroke="#8792aa" stroke-width="1" stroke-opacity=".75"/>
<path d="M116.8 1513V1521" stroke="#8792aa" stroke-width="1" stroke-opacity=".75"/>
<path d="M512 1522V1525" stroke="#8792aa" stroke-width="1" stroke-opacity=".75"/>
<path d="M516.8 1964.7V1967.5" stroke="#8792aa" stroke-width="1" stroke-opacity=".75"/>
<path d="M1341 1079V1081.5" stroke="#8792aa" stroke-width="1" stroke-opacity=".75"/>
<path d="M949.5 1959.6V1962.4" stroke="#8792aa" stroke-width="1" stroke-opacity=".75"/>
</svg></body></html>
